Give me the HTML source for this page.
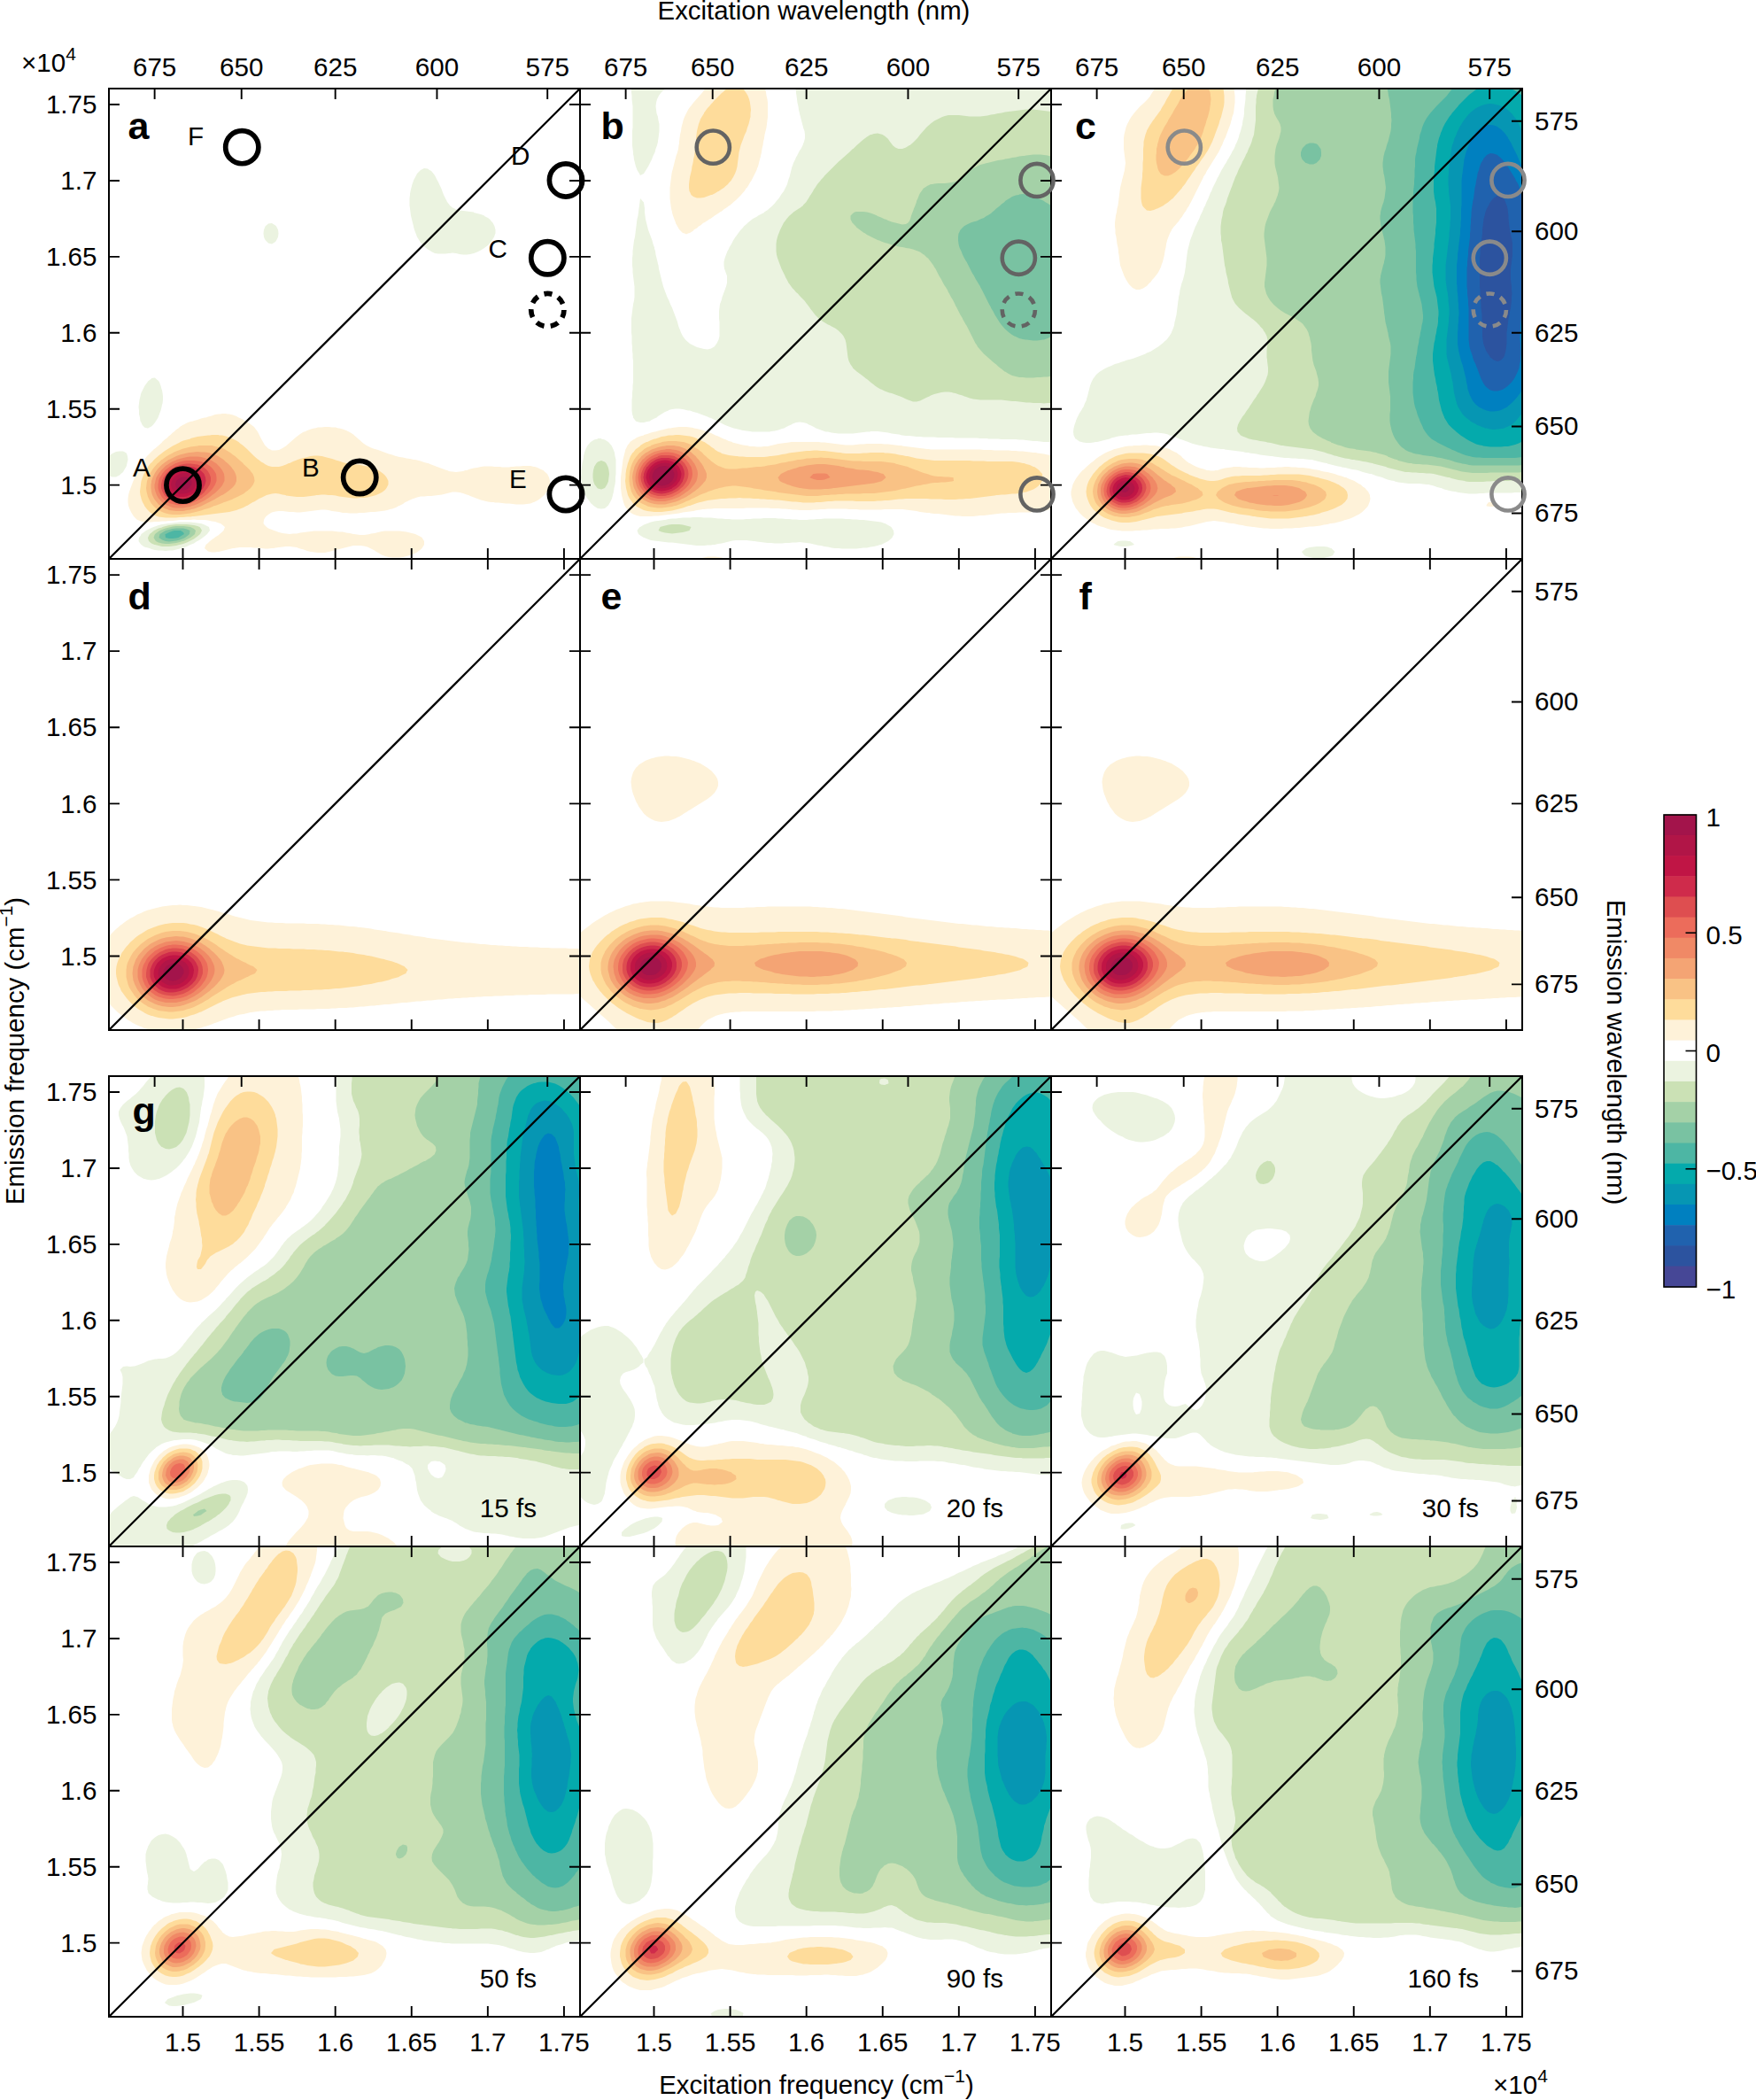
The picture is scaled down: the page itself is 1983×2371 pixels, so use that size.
<!DOCTYPE html>
<html><head><meta charset="utf-8"><title>Figure</title><style>html,body{margin:0;padding:0;background:#fff}svg{display:block}</style></head><body>
<svg width="1983" height="2371" viewBox="0 0 1983 2371" font-family="'Liberation Sans', sans-serif" font-size="29.6" fill="#000">
<rect width="1983" height="2371" fill="#fff"/>
<defs>
<clipPath id="cp00"><rect x="123" y="100" width="532" height="531"/></clipPath>
<clipPath id="cp01"><rect x="655" y="100" width="532" height="531"/></clipPath>
<clipPath id="cp02"><rect x="1187" y="100" width="532" height="531"/></clipPath>
<clipPath id="cp10"><rect x="123" y="631" width="532" height="532"/></clipPath>
<clipPath id="cp11"><rect x="655" y="631" width="532" height="532"/></clipPath>
<clipPath id="cp12"><rect x="1187" y="631" width="532" height="532"/></clipPath>
<clipPath id="cp20"><rect x="123" y="1215" width="532" height="531"/></clipPath>
<clipPath id="cp21"><rect x="655" y="1215" width="532" height="531"/></clipPath>
<clipPath id="cp22"><rect x="1187" y="1215" width="532" height="531"/></clipPath>
<clipPath id="cp30"><rect x="123" y="1746" width="532" height="531"/></clipPath>
<clipPath id="cp31"><rect x="655" y="1746" width="532" height="531"/></clipPath>
<clipPath id="cp32"><rect x="1187" y="1746" width="532" height="531"/></clipPath>
</defs>
<g clip-path="url(#cp00)" shape-rendering="geometricPrecision">
<path fill="#fef2d9" d="M435,628 439,629 443,629.5 447,629.5 451,629.5 455,629 459,628 463,627 467,625.5 471,623.5 471.5,623 475,620.5 476.5,619 479,615 479,612 479,611 476.5,607 475,606 471,604 469,603 467,602.5 463,601.5 459,600.5 455,600 451,599.5 447,599.5 443,599.5 439,599.5 435,599.5 431,600 427,601 423,602 419,602.5 417.5,603 415,603.5 411,604 407,604 403,603.5 400,603 399,603 395,602 391,601.5 387,600.5 383,600.5 379,600 375,599.5 371,599.5 367,599.5 363,599.5 359,599.5 355,599.5 351,600 347,600.5 343,601 339,601.5 335,602.5 331,602.5 327,603 323,602.5 319,602 315,601 311,599.5 309.5,599 307,598 303,596.5 301,595 299,593 297.5,591 298,587 299,585 300.5,583 303,581 306,579 307,578.5 311,577.5 315,577 319,577 323,577.5 327,578 331,578 335,578.5 339,578.5 343,578 347,577.5 351,577 355,576.5 359,576 363,575.5 367,575.5 371,576 375,577 379,577.5 383,578 387,579 390.5,579 391,579 395,579.5 399,579.5 403,579.5 406,579 407,579 411,579 415,578.5 419,578 423,578 427,577.5 431,577 435,576.5 439,575.5 440,575 443,574.5 447,573 450.5,571 451,571 455,569 457.5,567 459,566.5 463,564.5 466.5,563 467,563 471,561.5 475,560.5 479,560.5 483,560 487,560 491,559.5 495,559 499,558.5 503,557.5 507,556.5 511,555.5 515,555.5 519,556 523,557 527,558.5 529,559 531,560 535,561.5 539,563 543,564.5 547,565.5 551,566.5 555,567 557.5,567 559,567.5 563,567.5 567,568 571,568.5 575,568.5 579,569 583,569.5 587,569.5 591,569.5 595,569 599,568.5 602.5,567 603,567 607,565 610,563 611,562 614.5,559 615,558.5 617.5,555 619,552.5 620,551 621,547 621,543 620,539 619,537 618,535 615,532.5 613.5,531 611,530 607,528 604,527 603,527 599,526 595,526 591,526 587,526.5 583,526.5 579,527 577,527 575,527.5 571,527.5 567,527.5 564.5,527 563,527 559,527 555,526.5 551,526.5 547,526.5 543,527 539,528 535,528.5 531,529.5 527,531 525.5,531 523,532 519,532.5 515,533 511,532.5 507,532 505,531 503,530.5 499,529 495,527.5 493.5,527 491,526 487,524.5 483.5,523 483,523 479,522 475,520.5 471,519.5 468.5,519 467,519 463,518 459,517.5 455,516.5 451,516 447.5,515 447,515 443,513.5 439,512.5 435,511 431,509.5 427,508 423.5,507 423,507 419,505.5 415,503.5 414,503 411,501 408.5,499 407,497.5 404.5,495.5 403,494 400,491.5 399,490.5 395,488 394,487.5 391,486 387,484.5 383,483.5 382,483.5 379,482.5 375,482.5 371,482 367,482 363,482.5 359,482.5 356,483.5 355,483.5 351,484.5 347,486 344,487.5 343,487.5 339,490 337,491.5 335,493 332,495.5 331,496.5 328,499 327,500 323.5,503 323,503.5 319,506 317,507 315,508 311,508.5 307,508.5 304.5,507 303,506.5 299.5,503 299,502.5 297,499 295,495.5 293,491.5 291,487.5 288,483.5 287,482 283.5,479.5 283,479 279,476.5 277,475.5 275,474 271,472 269.5,471.5 267,470 263,468.5 259,467.5 257,467.5 255,467 251,467 248.5,467.5 247,467.5 243,468 239,469.5 235,470.5 232.5,471.5 231,471.5 227,472.5 223,474 219,475 218,475.5 215,476 211,477.5 207.5,479.5 207,479.5 203,482 201.5,483.5 199,485 196.5,487.5 195,488.5 192,491.5 191,492 187.5,495.5 187,495.5 183,499 183,499.5 179,503 175,506.5 174,507 171,510 170,511 167,514 166,515 163,519 160,523 159,525 158,527 156,531 155,533 154,535 152,539 151,542 150.5,543 149,547 147.5,551 147,552.5 146,555 145,559 144.5,563 144.5,567 145,571 146.5,575 147,576 148.5,579 151,583 155,587 155.5,587 159,588.5 163,589.5 167,589.5 171,589.5 175,589 179,589 183,588.5 187,588.5 191,588 195,588 199,587.5 203,587 206.5,587 207,587 211,587 215,587 219,586.5 223,587 227,587 229,587 231,587 235,587.5 239,588.5 243,589 247,590.5 249,591 251,592.5 254,595 252.5,599 251,600.5 248,603 247,604 243,606.5 242.5,607 239,609.5 237,611 235,613 232.5,615 231,619 235,622.5 237,623 239,623.5 243,623.5 245.5,623 247,623 251,622 255,621 259,620 263,619 264.5,619 267,618.5 271,618 275,618 279,618 283,618 287,618.5 291,618.5 293.5,619 295,619 299,619.5 303,619.5 307,619 309,619 311,618.5 315,618 319,617.5 323,617 327,617 331,617.5 335,618 337.5,619 339,619.5 343,620.5 347,622 351,623 351.5,623 355,623.5 359,624 363,624 367,624 371,623 371.5,623 375,622 379,621 383,620 387,619 391,618 395,617 399,616 403,616 407,616 411,616.5 415,617.5 418,619 419,619.5 423,621.5 425,623 427,624 431,626.5 432.5,627 435,628Z"/>
<path fill="#fedc9b" d="M179,583.5 183,584 187,584.5 191,584.5 195,584.5 199,584.5 203,584 207,584 211,583.5 215,583.5 217.5,583 219,583 223,582.5 227,582 231,581.5 235,581 239,580.5 243,580 247,579.5 251,579 255,578.5 259,578 263,577 267,576 269.5,575 271,574.5 275,573 278.5,571 279,571 283,568.5 285.5,567 287,566.5 291,564 292.5,563 295,562 299,560 301,559 303,558.5 307,557.5 311,557 315,557.5 319,558.5 322.5,559 323,559.5 327,560 331,560.5 335,561 339,561 343,561 347,560.5 351,560 355,559.5 357.5,559 359,559 363,558.5 367,558.5 371,559 374,559 375,559 379,559.5 383,560.5 387,561 391,561.5 395,562 399,562.5 403,562.5 407,562 411,562 415,561.5 419,560.5 423,559.5 424.5,559 427,558 431,556 432.5,555 435,553 436.5,551 438.5,547 438.5,543 436.5,539 435,537 433,535 431,533.5 427.5,531 427,531 423,529 419,527.5 417,527 415,526.5 411,526 407,525 403,524.5 399,524 395,523.5 393.5,523 391,523 387,522 383,520.5 379,519.5 378,519 375,518 371,517 367,516 363.5,515 363,515 359,514.5 355,514.5 351,515 350.5,515 347,516 343,517 339,518 336,519 335,519.5 331,521 327,523 326,523 323,524.5 319,526 315,527 311,527 307,527 303,526 299,524 298,523 295,521.5 292,519 291,518.5 287,515 283,511 279,507 275,503.5 274.5,503 271,500.5 269.5,499 267,497.5 263,495.5 262.5,495.5 259,494 255,492.5 251,491.5 247.5,491.5 247,491 243,491 239,491 237,491.5 235,491.5 231,492 227,492.5 223,493 219,494 215,495 215,495.5 211,496.5 207,497.5 203.5,499 203,499.5 199,501.5 196,503 195,503.5 191,506 189.5,507 187,508.5 183.5,511 183,511.5 179,514.5 178.5,515 175,518 174,519 171,522.5 170,523 167,527 167,527.5 164.5,531 163,534.5 162.5,535 161,539 159.5,543 159,546.5 159,547 158.5,551 158,555 158.5,559 159,560.5 159.5,563 161,567 163,570.5 163,571 166,575 167,576 170,579 171,579.5 175,582 178,583 179,583.5Z"/>
<path fill="#f9c285" d="M187,579.5 191,580.5 195,581 199,581 203,581 207,580.5 211,580 215,579.5 216.5,579 219,578.5 223,577.5 227,576.5 231,575 235,574 239,572.5 242,571 243,571 247,569.5 251,568 253,567 255,566.5 259,565 263,563.5 263.5,563 267,561.5 271,559.5 272,559 275,557.5 278,555 279,554.5 283,551 286,547 287,544.5 287.5,543 287,539 285.5,535 283,532 282.5,531 279,527.5 278.5,527 275,524 274.5,523 271,520 270,519 267,516.5 265.5,515 263,513.5 260,511 259,510.5 255,508 253.5,507 251,506 247,505 243,504 239.5,503 239,503 235,503 231,503 227,503 224.5,503 223,503.5 219,504 215,504.5 211,505.5 207,506.5 205.5,507 203,508 199,509.5 195.5,511 195,511.5 191,513.5 188.5,515 187,516 183,519 182.5,519 179,522.5 178,523 175,526.5 174.5,527 171.5,531 171,532 169,535 167.5,539 167,540.5 166,543 165.5,547 165,551 165.5,555 166.5,559 167,561 168,563 170,567 171,568.5 173,571 175,573 177.5,575 179,576 183,578 185.5,579 187,579.5Z"/>
<path fill="#f4a474" d="M191,576 195,576.5 199,577 203,577 207,577 211,576 215,575.5 216,575 219,574.5 223,573 227,571.5 228,571 231,569.5 235,567.5 236,567 239,565.5 243,563.5 243.5,563 247,561 250.5,559 251,559 255,556.5 257,555 259,553.5 262,551 263,550 265.5,547 267,543 267,539 267,538.5 266,535 264,531 263,530 261,527 259,525 257,523 255,521.5 252.5,519 251,518 247,515.5 246.5,515 243,513.5 239,512 235,511 231,510.5 227,510.5 223,510 219,510.5 215,511 213.5,511 211,511.5 207,512.5 203,513.5 199,515 195,517 191,519 190.5,519 187,521.5 185,523 183,524.5 180.5,527 179,528.5 177,531 175,534 174.5,535 172.5,539 171,543 171,544.5 170.5,547 170.5,551 171,555 171,555.5 172,559 174,563 175,564.5 177,567 179,569.5 181,571 183,572.5 187,574.5 189,575 191,576Z"/>
<path fill="#f08966" d="M191,571.5 195,573 199,573.5 203,573.5 207,573.5 211,572.5 215,572 217,571 219,570.5 223,569 227,567 231,565 234,563 235,562.5 239,559.5 239.5,559 243,556.5 244.5,555 247,552.5 248.5,551 251,548 251.5,547 253.5,543 253.5,539 253,535 251,531 248,527 247,526 244,523 243,522.5 239,520 237,519 235,518.5 231,517 227,516 223,515.5 219,515.5 215,515.5 211,516 207,517 203,518 199.5,519 199,519.5 195,521 191.5,523 191,523.5 187,526 186,527 183,530 182,531 179,535 176.5,539 175.5,543 175,545.5 174.5,547 174.5,551 175,552.5 175.5,555 177,559 179,562.5 179.5,563 183,567 187,570 190,571 191,571.5Z"/>
<path fill="#ec6c5b" d="M191,568 195,569 199,570 203,570.5 207,570 211,569.5 215,568.5 218.5,567 219,567 223,565 226.5,563 227,563 231,560 232.5,559 235,557 237,555 239,553 240.5,551 243,547 244.5,543 244.5,539 244,535 243,533.5 241.5,531 239,528 238,527 235,525 232,523 231,522.5 227,521 223,520.5 219,520 215,520 211,520 207,520.5 203,521.5 199,523 198.5,523 195,525 191.5,527 191,527.5 187,530.5 186.5,531 183,535 183,535.5 180.5,539 179,543 179,544.5 178.5,547 178.5,551 179,553 179.5,555 181.5,559 183,561.5 184.5,563 187,565.5 190,567 191,568Z"/>
<path fill="#de4e50" d="M203,567 205,567 207,567 211,566.5 215,565.5 219,563.5 220,563 223,561.5 226.5,559 227,559 231,555.5 231,555 234.5,551 235,550 237,547 238,543 238,539 236.5,535 235,532.5 234,531 231,528.5 229,527 227,526 223,524.5 219,524 215,523.5 211,523.5 207,524 203,525 199,526.5 197.5,527 195,528.5 191,531 191,531.5 187,535 187,535.5 184.5,539 183,542.5 183,543 182,547 182,551 183,554 183.5,555 185.5,559 187,560.5 190,563 191,564 195,566 199,567 202,567 203,567Z"/>
<path fill="#cf2b4b" d="M199,563.5 203,564 207,564 211,563.5 212,563 215,562 219,560 221,559 223,557.5 226,555 227,554 229.5,551 231,548 231.5,547 232.5,543 232,539 231,536.5 230.5,535 227,531.5 226.5,531 223,529 219,527.5 216.5,527 215,527 211,527 208,527 207,527.5 203,528.5 199,530 196.5,531 195,532 191.5,535 191,535.5 188,539 187,541.5 186.5,543 185.5,547 186,551 187,554.5 187.5,555 190.5,559 191,560 195,562.5 197.5,563 199,563.5Z"/>
<path fill="#c01545" d="M199,560.5 203,561 207,561 211,560.5 214,559 215,559 219,556.5 221,555 223,553 224.5,551 227,547 227,546 227.5,543 227,540 227,539 224.5,535 223,534 219,531.5 217.5,531 215,530.5 211,530 207,530.5 204.5,531 203,531.5 199,533.5 196,535 195,536 192,539 191,541 190,543 189,547 189.5,551 191,554 191.5,555 195,558.5 196.5,559 199,560.5Z"/>
<path fill="#b11547" d="M199,556.5 203,557.5 207,557.5 211,557 215,555 219,552 219.5,551 222,547 222.5,543 221,539 219,537 216.5,535 215,534.5 211,534 207,534 203,535 199,537.5 197,539 195,541.5 194,543 193,547 194,551 195,553 197,555 199,556.5Z"/>
<path fill="#a3144b" d="M203,553 207,553.5 211,552.5 213,551 215,549 216.5,547 216.5,543 215,541 213,539 211,538.5 207,538.5 204.5,539 203,540 199,543 199,543.5 198,547 199,550 199.5,551 203,553Z"/>
<path fill="#ebf3e0" d="M171,620 175,621 179,621.5 183,621.5 187,622 191,621.5 195,621.5 199,620.5 203,619.5 204,619 207,618.5 211,617 215,615 219,613.5 222.5,611 223,611 227,608.5 229,607 231,605.5 234,603 235,601.5 237,599 236,595 235,594.5 231,592.5 227,591 226.5,591 223,590.5 219,590 215,589.5 211,589.5 207,589.5 203,589.5 199,590 195,590.5 191,591 190,591 187,591.5 183,592 179,593 175,594.5 173.5,595 171,596 167,598 165,599 163,600.5 159.5,603 159,604.5 157,607 156.5,611 159,614.5 159.5,615 163,617.5 167,618.5 169,619 171,620ZM127,538.5 131,538.5 135,536.5 136.5,535 139,533 140,531 142.5,527 143,525.5 143.5,523 144.5,519 144,515 143,512 142,511 139,509.5 135,509.5 131,510 129,511 127,512 123,514.5 123,515 123,519 123,523 123,527 123,531 123,535 123,537.5 127,538.5ZM167,483.5 171,481.5 173,479.5 175,477 176,475.5 178.5,471.5 179,470 180,467.5 181.5,463.5 182.5,459.5 183,457 183.5,455.5 184,451.5 184,447.5 183.5,443.5 183,440.5 182.5,439.5 181.5,435.5 180,431.5 179,430 176,427.5 175,426.5 171,427 171,427.5 167,430.5 166.5,431.5 163.5,435.5 163,436.5 161.5,439.5 159.5,443.5 159,445 158.5,447.5 157.5,451.5 157,455.5 156.5,459.5 157,463.5 157,467.5 158,471.5 158.5,475.5 159,476 160.5,479.5 163,482.5 166.5,483.5 167,483.5ZM487,284 491,286 495,286.5 499,286.5 503,286.5 507,286 511,285.5 515,286 519,287 523,287.5 527,287.5 531,287 535,286 539,284.5 541,283.5 543,282.5 547,280 547.5,279.5 551,277 552.5,275.5 555,272.5 555.5,271.5 558,267.5 559,264.5 559.5,263.5 559.5,259.5 559,257.5 558.5,255.5 556.5,251.5 555,250 553,247.5 551,246 547,244 547,243.5 543,242 539,241 535,240 535,239.5 531,239 527,238.5 523,238 519,237.5 515,236.5 513.5,235.5 511,234.5 508,232 507,230.5 505,228 503,224 501,220 499.5,216 499,214.5 498,212 496,208 495,205.5 494,204 492,200 491,198 489.5,196 487,193 485,192 483,190.5 479,190 475,192 471,196 469,200 467,203.5 467,204 465.5,208 464.5,212 463.5,216 463,219 463,220 462.5,224 462.5,228 462.5,232 463,235.5 463.5,239.5 464,243.5 465,247.5 466,251.5 467,255.5 467,256 468,259.5 469.5,263.5 471,267.5 473.5,271.5 475,274 476.5,275.5 479,278.5 480.5,279.5 483,281.5 486.5,283.5 487,284ZM303,274.5 307,275.5 311,273 312,271.5 314,267.5 314.5,263.5 314,259.5 312,255.5 311,254.5 307,252 303,252.5 299.5,255.5 299,257 298,259.5 297.5,263.5 298,267.5 299,270 300,271.5 303,274.5Z"/>
<path fill="#cbe1b5" d="M175,615 179,616 183,617 187,617 191,617 195,616.5 199,616 202.5,615 203,615 207,614 211,612.5 214,611 215,610.5 219,608.5 221,607 223,605.5 226,603 227,601 228,599 227,597 225.5,595 223,594 219,593 215,592.5 211,592 207,592 203,592 199,592 195,592.5 191,593 187,594 183.5,595 183,595.5 179,596.5 175,598.5 174,599 171,601.5 169,603 167,607 167,607.5 168,611 171,613.5 174.5,615 175,615Z"/>
<path fill="#a4d1a7" d="M179,612.5 183,613.5 187,614 191,614 195,613.5 199,613 203,612 206,611 207,611 211,609 215,607 219,604 220,603 221,599 219,597 215,595 211,594.5 207,594 203,594 199,594 195,594.5 193,595 191,595.5 187,596.5 183,598 180.5,599 179,600 175,603 173.5,607 175,609.5 176,611 179,612.5Z"/>
<path fill="#79c2a2" d="M191,611.5 195,611 199,610.5 203,609.5 207,608 209,607 211,605.5 214,603 214.5,599 211,597.5 207,596.5 203,596.5 199,596.5 195,597 191,598 187,599 183,601.5 180.5,603 179.5,607 183,609.5 187,611 187.5,611 191,611.5Z"/>
<path fill="#4db6a4" d="M187,607 191,608 195,608 199,607.5 201.5,607 203,606 207,603.5 208,603 207,601 204,599 203,599 199,599 197,599 195,599.5 191,601 187,603 186.5,603 187,607Z"/>
</g>
<g clip-path="url(#cp01)" shape-rendering="geometricPrecision">
<path fill="#fef2d9" d="M791,631 795,631 799,631 803,631 807,631 811,631 815,631 818.5,631 815,629.5 811,629 807,628.5 803,628.5 799,628.5 795,629.5 791,630.5 790,631 791,631ZM715,580.5 719,582 723,583 727,583 731,583 735,583 739,582.5 743,582.5 747,582 751,581.5 755,581 759,580.5 763,580 767,579.5 769,579 771,578.5 775,578 779,577.5 783,577 787,576 791,575.5 793.5,575 795,575 799,574.5 803,574.5 807,574 811,574 815,574 819,574 823,574 827,574 831,574 835,574 839,574 843,573.5 847,573.5 851,573.5 855,573.5 859,573.5 863,573.5 867,573.5 871,574 875,574 879,574 883,574.5 887,574.5 891,575 892.5,575 895,575.5 899,575.5 903,576 907,576 911,576 915,576 919,575.5 923,575.5 927,575 927.5,575 931,575 935,574.5 939,574.5 943,574.5 947,574.5 951,574.5 955,574.5 959,575 963,575 965.5,575 967,575 971,575.5 975,575.5 979,575.5 983,575.5 987,575.5 991,575.5 995,575.5 999,575 1001,575 1003,575 1007,575 1011,575 1015,575 1019,575 1019.5,575 1023,575.5 1027,576 1031,576.5 1035,577 1039,578 1043,578.5 1047,579 1049.5,579 1051,579.5 1055,580 1059,580 1063,580.5 1067,581 1071,581.5 1075,582 1079,582.5 1083,582.5 1087,583 1091,583 1095,583 1099,583 1103,582.5 1107,582 1111,582 1115,581.5 1119,581 1123,580.5 1127,580 1131,579.5 1135,579.5 1139,579 1139.5,579 1143,579 1147,579 1151,578.5 1155,578.5 1159,578.5 1163,578.5 1167,578 1171,577.5 1175,577.5 1179,576.5 1183,576 1186.5,575 1187,575 1187,571 1187,567 1187,563 1187,559 1187,555 1187,551 1187,547 1187,543 1187,539 1187,535 1187,531 1187,527 1187,523 1187,519 1187,515 1187,514 1183,513.5 1179,512.5 1175,512 1171,511.5 1170,511 1167,511 1163,510.5 1159,510 1155,509.5 1151,509.5 1147,509 1143,509 1139,508.5 1135,508.5 1131,508.5 1127,508.5 1123,508.5 1119,508 1115,508 1111,508 1107,507.5 1103,507.5 1099,507.5 1095,507.5 1091,507.5 1087,507.5 1083,507.5 1079,507.5 1075,507.5 1071,507.5 1067,507.5 1063,507.5 1059,507.5 1055,507.5 1051,507.5 1048.5,507 1047,507 1043,506.5 1039,506 1035,505.5 1031,505 1027,504.5 1023,504 1019,503.5 1018,503 1015,503 1011,502.5 1007,502 1003,501.5 999,501.5 995,501 991,501 987,501 983,501 979,501 975,501.5 971,501.5 967,502 963,502.5 959,502.5 955,502.5 951,502 947,501.5 943,501 939,500.5 935,500 931,499.5 927,499.5 925,499 923,499 919,499 915,499 911,499 907,499 903,499 899,499 895,499 893.5,499 891,499.5 887,500 883,500.5 879,501 875,502 871,503 870.5,503 867,504 863,504 859,504.5 855,504.5 851,504 847,504 843.5,503 843,503 839,502.5 835,501.5 831,500.5 827,499.5 827,499 823,498 819,496 817,495.5 815,494.5 811,492.5 808,491.5 807,491 803,489 799,487.5 798,487.5 795,486 791,485 787,484 783.5,483.5 783,483 779,482.5 775,482 771,482 767,482 763,482.5 759,483 757.5,483.5 755,483.5 751,484.5 747,485.5 743,486.5 740,487.5 739,487.5 735,488.5 731,490 727,491 727,491.5 723,492.5 719,494 717,495.5 715,496.5 711.5,499 711,500 708.5,503 707,506.5 706.5,507 705.5,511 704.5,515 703.5,519 703,523 702.5,527 702,531 701.5,535 701,539 701,543 701,547 701,551 701.5,555 702,559 703,563 704,567 705.5,571 707,573.5 708.5,575 711,578 712.5,579 715,580.5ZM775,264.5 777,263.5 779,263 783,260.5 783.5,259.5 787,257.5 789,255.5 791,254.5 794.5,251.5 795,251.5 799,249 801,247.5 803,246.5 807,243.5 811,241 813,239.5 815,238.5 818.5,235.5 819,235.5 823,232.5 824,232 827,229.5 828.5,228 831,226 833,224 835,222 837,220 839,217.5 840.5,216 843,212 843.5,212 846,208 847,206 848.5,204 850.5,200 851,199 852.5,196 854.5,192 855,190 856,188 857,184 858,180 859,176.5 859,176 860,172 860.5,168 861.5,164 862,160 863,156 863,155.5 863.5,152 864.5,148 865.5,144 866,140 866.5,136 867,132 867,129 867,128 867,124 867,120 867,119.5 867,116 866.5,112 865.5,108 865,104 864,100 863,100 859,100 855,100 851,100 847,100 843,100 839,100 835,100 831,100 827,100 823,100 819,100 815,100 811,100 807,100 803,100 799,100 796.5,100 795,102 793.5,104 791,107 790,108 787,111.5 786.5,112 783,116 780,120 779,121 777,124 775,128 773,132 771.5,136 771,138.5 770.5,140 769.5,144 769,148 768,152 767.5,156 767,160 767,162 766.5,164 766,168 765,172 763.5,176 763,178.5 762.5,180 761.5,184 760.5,188 759.5,192 759,193.5 758.5,196 758,200 757.5,204 757,208 756.5,212 756.5,216 756.5,220 756.5,224 757,228 757.5,232 758,235.5 759,239.5 759,240 760,243.5 761.5,247.5 763,251.5 763,252 765,255.5 767,259 767.5,259.5 771,263 773,263.5 775,264.5Z"/>
<path fill="#fedc9b" d="M727,576 731,577 735,577.5 739,578 743,578 747,578 751,577.5 755,577 759,576.5 763,575.5 765,575 767,574.5 771,573.5 775,572 778,571 779,571 783,569.5 787,568 790.5,567 791,567 795,566 799,565 803,564.5 807,564 811,563.5 814.5,563 815,563 819,563 823,562.5 827,562.5 831,562.5 835,562 839,562.5 843,562.5 847,562.5 851,563 855,563 856.5,563 859,563.5 863,563.5 867,564 871,564 875,564.5 879,564.5 883,565 887,565.5 891,566 895,566.5 899,566.5 903,567 904,567 907,567.5 911,567.5 915,567.5 919,567.5 922,567 923,567 927,567 931,566.5 935,566 939,566 943,565.5 947,565.5 951,565.5 955,565.5 959,565.5 963,565.5 967,566 971,566 975,566 979,566 983,566 987,566 991,565.5 995,565.5 999,565 1003,565 1007,564.5 1011,564 1015,563.5 1019,563.5 1023,563 1025,563 1027,563 1031,563 1035,563 1039,563 1043,563 1044.5,563 1047,563 1051,563.5 1055,563.5 1059,563.5 1063,563.5 1067,564 1071,564 1075,564 1079,564 1083,563.5 1087,563.5 1091,563 1091.5,563 1095,563 1099,562.5 1103,562 1107,561.5 1111,561 1115,560.5 1119,560 1123,559.5 1125.5,559 1127,559 1131,558.5 1135,558.5 1139,558 1143,557.5 1147,557.5 1151,557 1155,556 1159,555.5 1160,555 1163,554 1167,552.5 1169.5,551 1171,550 1174.5,547 1175,546 1177,543 1177.5,539 1177,535 1175,533 1173.5,531 1171,529 1168,527 1167,527 1163,525 1159,524 1156.5,523 1155,523 1151,522 1147,521.5 1143,521 1139,521 1135,521 1131,521 1127,521 1123,521 1119,521 1115,521 1111,520.5 1107,520.5 1103,520.5 1099,520.5 1095,520 1091,520 1087,520 1083,520 1079,520 1075,520 1071,520 1067,520 1063,520 1059,520 1055,520 1051,519.5 1047,519 1043,518.5 1039,518 1035,517.5 1031,516.5 1027,515.5 1025,515 1023,515 1019,514 1015,513.5 1011,512.5 1007,512 1003,511.5 999,511.5 998,511 995,511 991,511 987,511 983,511 979,511.5 975,511.5 971,512 967,512 963,512 959,512 955,512 951,511.5 949,511 947,511 943,510.5 939,510 935,509.5 931,509 927,509 923,508.5 919,508.5 915,509 911,509 907,509.5 903,510 899,510.5 895,511 894.5,511 891,511.5 887,512.5 883,513 879,514 875,514.5 871,515 869.5,515 867,515.5 863,516 859,516 855,516 851,516 847,516 843,516 839,515.5 835,515.5 832.5,515 831,515 827,514.5 823,514 819,513 815,512 814,511 811,510 807,507.5 807,507 803,504.5 801.5,503 799,501.5 795.5,499 795,499 791,497 787.5,495.5 787,495 783,493.5 779,492.5 775,492 771,491.5 767,491 763,491 759.5,491.5 759,491.5 755,491.5 751,492.5 747,493 743,494.5 740,495.5 739,495.5 735,497 731,499 730,499 727,500.5 723,503 723,503.5 719,506.5 718,507 715,511 714.5,511 712,515 711,517.5 710.5,519 709,523 708,527 707,531 707,532 706.5,535 706.5,539 706,543 706.5,547 707,551 708,555 709,559 711,563 714,567 715,568.5 718,571 719,572 723,574 725,575 727,576ZM783,222 787,223.5 791,223.5 795,223 799,221.5 803,220 804,220 807,218.5 811,216 811.5,216 815,213.5 817.5,212 819,210.5 822,208 823,206.5 825.5,204 827,201.5 828,200 830,196 831,193.5 831.5,192 832.5,188 833,184 833.5,180 834,176 834.5,172 835,170 835.5,168 836.5,164 838,160 839,157.5 839.5,156 841,152 843,148 843,147.5 844,144 845.5,140 846.5,136 847,133.5 847.5,132 847.5,128 848,124 847.5,120 847,116.5 847,116 846,112 844.5,108 843,105.5 842,104 839,100 835,100 831,100 827,100 823,100 821.5,100 819,101.5 816.5,104 815,105 812,108 811,109 808,112 807,113 804.5,116 803,117.5 801,120 799,122 797.5,124 795,127.5 795,128 792.5,132 791,134.5 790.5,136 789,140 788,144 787,148 786.5,152 786,156 786,160 785.5,164 785,168 784.5,172 784,176 783,180 783,181 782.5,184 781.5,188 781,192 780,196 779,200 779,200.5 778.5,204 778,208 778,212 778.5,216 779,216.5 780.5,220 783,222Z"/>
<path fill="#f9c285" d="M731,571.5 735,572.5 739,573 743,573.5 747,573.5 751,573 755,572.5 759,572 761.5,571 763,571 767,569.5 771,568 773,567 775,566 779,564.5 781.5,563 783,562.5 787,560.5 790,559 791,558.5 795,557 799,555.5 799.5,555 803,554 807,552.5 811,551.5 812,551 815,550.5 819,549.5 823,549 827,548.5 831,548.5 835,549 839,549.5 843,550 847,550.5 849.5,551 851,551.5 855,552 859,552.5 863,553.5 867,554 871,554.5 874.5,555 875,555 879,556 883,556.5 887,557 891,557.5 895,558 899,558.5 903,559 907,559.5 911,560 915,560 919,560 923,560 927,559.5 931,559 932.5,559 935,559 939,558.5 943,558.5 947,558 951,558 955,557.5 959,557.5 963,557.5 967,557.5 971,557.5 975,557 979,557 983,557 987,557 991,556.5 995,556 999,555.5 1003,555 1007,554.5 1011,554 1015,553 1019,552 1023,551.5 1024,551 1027,550.5 1031,549.5 1035,548.5 1039,548 1043,547 1043.5,547 1047,546.5 1051,545.5 1055,545 1059,545 1063,544.5 1067,544.5 1071,544 1075,543.5 1077,543 1076.5,539 1075,539 1071,538.5 1067,538.5 1063,538 1059,538 1055,537.5 1051,536.5 1047,535 1043,534 1039,532.5 1035.5,531 1035,531 1031,529.5 1027,528 1025,527 1023,526.5 1019,525.5 1015,524.5 1011,523.5 1010.5,523 1007,522.5 1003,522 999,521.5 995,521 991,521 987,521 983,521 979,521 975,521 971,520.5 967,520.5 963,520.5 959,520 955,519.5 951,519 947,518.5 943,518 939,517.5 935,517 931,517 927,516.5 923,517 919,517 915,517.5 911,517.5 907,518.5 903,519 901,519 899,519.5 895,520.5 891,521 887,522 883,522.5 880.5,523 879,523.5 875,524.5 871,525 867,525.5 863,526.5 859,527 855,527 851,527.5 847,528 843,528.5 839,528.5 835,529 831,529.5 827,529.5 823,529.5 819,529 815,527.5 814,527 811,526 807,523.5 806.5,523 803,520.5 801.5,519 799,517 797,515 795,513.5 793,511 791,509.5 788,507 787,506.5 783,504 782,503 779,501.5 775,500 772,499 771,499 767,498.5 763,498 759,498 755,498 751,498.5 747.5,499 747,499.5 743,500.5 739,501.5 735,503 735,503.5 731,505 727.5,507 727,507.5 723,511 722.5,511 719,515 716,519 715,521 714,523 712.5,527 711.5,531 711,534 711,535 710.5,539 710.5,543 711,547 711,547.5 712,551 713,555 715,559 718,563 719,564 722.5,567 723,567.5 727,569.5 730.5,571 731,571.5Z"/>
<path fill="#f4a474" d="M735,568 739,569 743,569.5 747,569.5 751,569.5 755,568.5 759,567.5 761,567 763,566.5 767,565 770.5,563 771,563 775,561 778,559 779,558.5 783,555.5 784,555 787,552.5 789,551 791,549 793,547 795,544.5 796.5,543 798,539 798,535 796.5,531 795,528.5 794.5,527 792,523 791,522 789,519 787,517 785.5,515 783,513 781,511 779,509.5 775,507.5 775,507 771,505.5 767,504 763,503.5 761,503 759,503 755,503 752.5,503 751,503.5 747,504 743,505 739,506.5 737,507 735,508 731,510.5 729.5,511 727,513 724.5,515 723,517 721,519 719,522.5 718.5,523 716.5,527 715.5,531 715,532.5 714.5,535 714,539 714.5,543 715,547 715,547.5 716,551 718,555 719,557 720.5,559 723,561.5 725,563 727,564.5 731,566.5 732,567 735,568ZM907,551.5 911,552 915,552.5 919,552.5 923,552.5 927,552.5 931,552 935,552 939,551.5 941.5,551 943,551 947,550.5 951,550 955,549.5 959,549 963,548.5 967,548 971,547.5 975,547 976,547 979,546.5 983,546 987,545.5 991,544.5 995,543.5 996,543 999,540.5 1000.5,539 999,537 997.5,535 995,534.5 991,533 987,532.5 983,531.5 980,531 979,531 975,530.5 971,530.5 967,530 963,529 959,528.5 955,528 952.5,527 951,527 947,526 943,525.5 939,525 935,524.5 931,524 927,524 923,524 919,524.5 915,525 911,525.5 907,526.5 903,527 899,528.5 895,529.5 891,531 890,531 887,532.5 883,534.5 882,535 879,538.5 878.5,539 879,540 880.5,543 883,544.5 887,546 889,547 891,547.5 895,549 899,550 903,551 904,551 907,551.5Z"/>
<path fill="#f08966" d="M735,564.5 739,565.5 743,566 747,566 751,566 755,565 759,564 761.5,563 763,562.5 767,561 770,559 771,558.5 775,555.5 776,555 779,552.5 780.5,551 783,548 784,547 786.5,543 787,541 787.5,539 788,535 787.5,531 787,530 786,527 784,523 783,522 781,519 779,517 777,515 775,513.5 771.5,511 771,511 767,509 763,508 759,507.5 757,507 755,507 752,507 751,507.5 747,508 743,509 739,510 737,511 735,512 731,514.5 730,515 727,518 725.5,519 723,522.5 722.5,523 720.5,527 719,531 718,535 717.5,539 717.5,543 718.5,547 719,548.5 720,551 722.5,555 723,556 726,559 727,560 731,562.5 732.5,563 735,564.5ZM915,539.5 919,541 923,542 927,542 931,541.5 935,540 937.5,539 935,536 934,535 931,534.5 927,534.5 923,534.5 919,535 918.5,535 915,538.5 914.5,539 915,539.5Z"/>
<path fill="#ec6c5b" d="M735,561 739,562 743,563 747,563 751,562.5 755,562 759,561 763,559 767,557 769.5,555 771,554 774.5,551 775,550.5 778,547 779,545 780,543 781.5,539 782,535 781.5,531 780.5,527 779,525 778,523 775,519.5 775,519 771,516 770,515 767,513.5 763,512 759.5,511 759,511 755,510.5 751,510.5 747,511 743,512 739,513.5 736,515 735,515.5 731,518.5 730.5,519 727,522.5 726.5,523 724,527 723,529 722,531 721,535 720.5,539 721,543 722,547 723,549.5 724,551 727,555 727,555.5 731,558.5 732,559 735,561Z"/>
<path fill="#de4e50" d="M743,560 747,560 751,560 754,559 755,559 759,557.5 763,555.5 764,555 767,553 769,551 771,549.5 773,547 775,544 775.5,543 777,539 777.5,535 777,531 775.5,527 775,526.5 773,523 771,521 769,519 767,518 763,516 761.5,515 759,514.5 755,514 751,514 747,514 743,515 743,515.5 739,517 735,519 731,522.5 730.5,523 727.5,527 727,527.5 725.5,531 724,535 723.5,539 724,543 725.5,547 727,550.5 727.5,551 731,555 731.5,555 735,557.5 739,559 739.5,559 743,560Z"/>
<path fill="#cf2b4b" d="M739,556 743,557 747,557.5 751,557 755,556 757.5,555 759,554.5 763,552 764.5,551 767,549 768.5,547 771,543.5 771,543 772.5,539 773,535 772.5,531 771,527.5 771,527 768,523 767,522.5 763,519.5 762.5,519 759,518 755,517 751,517 747,517 743,518 740.5,519 739,520 735,522.5 734.5,523 731,527 730.5,527 728.5,531 727,535 727,536.5 726.5,539 727,541.5 727,543 728.5,547 731,550.5 731.5,551 735,554 737,555 739,556Z"/>
<path fill="#c01545" d="M739,553 743,554 747,554.5 751,554 755,553 759,551.5 759,551 763,548.5 764.5,547 767,543.5 767.5,543 769,539 769.5,535 768.5,531 767,528 766.5,527 763,523.5 762.5,523 759,521 755,520 751,519.5 747,520 743,521 739,523 735,526.5 734.5,527 731.5,531 731,532.5 730,535 729.5,539 730.5,543 731,544.5 732.5,547 735,550 736,551 739,553Z"/>
<path fill="#b11547" d="M747,551.5 751,551 751.5,551 755,550 759,547.5 759.5,547 763,543.5 763.5,543 765,539 765.5,535 764.5,531 763,528.5 762,527 759,525 755,523 751,522.5 747,523 746.5,523 743,524.5 739,526.5 738.5,527 735,531 733.5,535 733,539 734,543 735,545.5 736.5,547 739,549 743,551 743.5,551 747,551.5Z"/>
<path fill="#a3144b" d="M743,547.5 747,548.5 751,548 753,547 755,546.5 759,543 761,539 761.5,535 760,531 759,530 755.5,527 755,527 751,526 747,526.5 744.5,527 743,528 739,531 737,535 736.5,539 738,543 739,544.5 742.5,547 743,547.5Z"/>
<path fill="#ebf3e0" d="M947,619 951,619.5 955,619.5 959,619.5 963,619.5 967,619.5 971,619 971.5,619 975,618.5 979,618.5 983,617.5 987,617 991,616 994,615 995,615 999,613 1003,611 1007,607.5 1007.5,607 1009.5,603 1009,599 1007,596 1006.5,595 1003,593 999.5,591 999,591 995,589.5 991,589 987,588.5 983,588 979,587.5 975,587 974,587 971,587 967,586.5 963,586.5 959,586 955,586 951,585.5 947,585.5 943,585.5 939,585.5 935,585.5 931,585.5 927,586 923,586 919,586.5 915,586.5 911,587 907,587 903,587 899,586.5 895,586.5 891,586 887,586 883,585.5 879,585.5 875,585 871,585 867,585 863,585 859,585.5 855,585.5 851,585.5 847,586 843,586 839,586.5 835,586.5 831,586.5 827,586.5 823,586 819,586 815,585.5 811,585.5 807,585 803,584.5 799,584.5 795,584.5 791,584 787,584 783,584 779,584.5 775,584.5 771,584.5 767,585 763,585.5 759,585.5 755,586 751,587 750,587 747,587.5 743,588 739,588.5 735,589.5 731,591 727,592.5 723,595 722.5,595 719.5,599 721,603 723,604.5 727,607 727.5,607 731,608.5 735,610 739,610.5 743,611 743.5,611 747,611.5 751,612 755,612.5 759,612.5 763,613 767,613.5 771,614 775,614.5 779,615 779.5,615 783,615.5 787,616 791,616 795,616 799,615.5 803,615.5 805,615 807,615 811,614 815,613.5 819,612.5 823,611.5 825,611 827,610.5 831,610 835,610 839,610 843,610 847,610.5 851,611 852,611 855,611.5 859,612 863,612.5 867,613 871,613 875,613.5 879,613.5 883,613.5 887,613 891,613 895,612.5 899,612.5 903,612 907,612.5 911,613 915,613.5 919,614.5 921.5,615 923,615.5 927,616 931,617 935,617.5 939,618.5 943,619 945.5,619 947,619ZM671,571.5 675,574 679,574.5 683,574 686.5,571 687,570.5 689,567 691,563 692,559 693,555 693.5,551 694.5,547 695,543 695,541 695,539 695.5,535 695.5,531 695.5,527 695.5,523 695.5,519 695,517 694.5,515 694,511 692.5,507 691,504 690.5,503 687,499 683,496.5 679,495.5 679,495 675,495 675,495.5 671,496.5 667,499 663.5,503 663,504 661.5,507 660,511 659,515 659,516.5 658.5,519 657.5,523 657,527 656.5,531 656.5,535 656,539 656.5,543 657,547 658,551 659,554 659.5,555 661,559 663,562.5 663.5,563 666.5,567 667,568 670.5,571 671,571.5ZM1187,499.5 1187,499 1187,495.5 1187,491.5 1187,487.5 1187,483.5 1187,479.5 1187,475.5 1187,471.5 1187,467.5 1187,463.5 1187,459.5 1187,455.5 1187,451.5 1187,447.5 1187,443.5 1187,439.5 1187,435.5 1187,431.5 1187,427.5 1187,423.5 1187,419.5 1187,415.5 1187,411.5 1187,407.5 1187,403.5 1187,399.5 1187,395.5 1187,391.5 1187,387.5 1187,383.5 1187,379.5 1187,375.5 1187,371.5 1187,367.5 1187,363.5 1187,359.5 1187,355.5 1187,351.5 1187,347.5 1187,343.5 1187,339.5 1187,335.5 1187,331.5 1187,327.5 1187,323.5 1187,319.5 1187,315.5 1187,311.5 1187,307.5 1187,303.5 1187,299.5 1187,295.5 1187,291.5 1187,287.5 1187,283.5 1187,279.5 1187,275.5 1187,271.5 1187,267.5 1187,263.5 1187,259.5 1187,255.5 1187,251.5 1187,247.5 1187,243.5 1187,239.5 1187,235.5 1187,232 1187,228 1187,224 1187,220 1187,216 1187,212 1187,208 1187,204 1187,200 1187,196 1187,192 1187,188 1187,184 1187,180 1187,176 1187,172 1187,168 1187,164 1187,160 1187,156 1187,152 1187,148 1187,144 1187,140 1187,136 1187,132 1187,128 1187,124 1187,120 1187,116 1187,112 1187,108 1187,104 1187,100 1183,100 1179,100 1175,100 1171,100 1167,100 1163,100 1159,100 1155,100 1151,100 1147,100 1143,100 1139,100 1135,100 1131,100 1127,100 1123,100 1119,100 1115,100 1111,100 1107,100 1103,100 1099,100 1095,100 1091,100 1087,100 1083,100 1079,100 1075,100 1071,100 1067,100 1063,100 1059,100 1055,100 1051,100 1047,100 1043,100 1039,100 1035,100 1031,100 1027,100 1023,100 1019,100 1015,100 1011,100 1007,100 1003,100 999,100 995,100 991,100 987,100 983,100 979,100 975,100 971,100 967,100 963,100 959,100 955,100 951,100 947,100 943,100 939,100 935,100 931,100 927,100 923,100 919,100 915,100 911,100 907,100 903,100 899,100 898.5,100 899,104 899,105 899.5,108 900,112 900.5,116 901.5,120 902,124 903,128 903,128.5 904,132 905,136 906,140 907,143.5 907,144 908.5,148 909,152 909,156 908,160 907,162.5 906.5,164 904.5,168 903,170 902,172 900,176 899,177.5 898,180 896,184 895,187 894.5,188 893.5,192 892.5,196 891.5,200 891,201 890,204 889,208 887,212 885,216 883,218.5 882,220 879.5,224 879,224.5 876,228 875,229.5 872.5,232 871,233.5 868.5,235.5 867,237 863,239.5 863,240 859,242 856,243.5 855,244.5 851,246.5 849.5,247.5 847,249.5 844.5,251.5 843,253 840,255.5 839,257 836.5,259.5 835,261.5 833.5,263.5 831,267 830.5,267.5 828,271.5 827,273.5 826,275.5 823.5,279.5 823,281 821.5,283.5 820,287.5 819,290 818.5,291.5 817.5,295.5 817.5,299.5 818,303.5 819,306 819.5,307.5 821,311.5 821,315.5 821,319.5 820,323.5 819,326 818.5,327.5 817,331.5 815.5,335.5 815,338 814.5,339.5 813,343.5 812.5,347.5 812,351.5 812,355.5 812,359.5 812.5,363.5 812.5,367.5 812.5,371.5 812.5,375.5 812.5,379.5 811.5,383.5 811,384.5 809.5,387.5 807,391 806.5,391.5 803,393.5 799,394.5 795,394 791,393 787,392 786,391.5 783,390 779,388 778.5,387.5 775,384.5 774,383.5 771,379.5 769,375.5 767.5,371.5 767,370.5 766,367.5 765,363.5 763.5,359.5 763,358 762,355.5 760.5,351.5 759,347.5 757,343.5 755.5,339.5 755,338.5 753.5,335.5 752,331.5 751,329 750.5,327.5 749,323.5 748,319.5 747,316 747,315.5 746,311.5 745,307.5 744,303.5 743.5,299.5 743,298 742.5,295.5 741.5,291.5 740.5,287.5 740,283.5 739,280.5 739,279.5 737.5,275.5 736.5,271.5 735,267.5 733.5,263.5 732,259.5 731,255.5 730,251.5 729,247.5 728.5,243.5 728,239.5 728,235.5 727.5,232 727,228.5 726.5,228 723,224 722.5,228 722,232 721.5,235.5 721,239.5 720.5,243.5 719.5,247.5 719,251 719,251.5 718.5,255.5 718,259.5 717.5,263.5 717,267.5 716,271.5 715.5,275.5 715,279.5 714.5,283.5 714.5,287.5 714,291.5 714,295.5 714,299.5 714.5,303.5 714.5,307.5 715,311.5 715.5,315.5 716,319.5 716.5,323.5 716.5,327.5 716.5,331.5 716.5,335.5 716,339.5 715,343.5 715,344 714.5,347.5 714,351.5 713.5,355.5 713,359.5 713,363.5 713,367.5 713,371.5 713,375.5 713.5,379.5 713.5,383.5 713.5,387.5 714,391.5 714,395.5 714.5,399.5 714.5,403.5 715,407.5 715,408 715,411.5 715,415.5 715,419.5 715,423.5 715,426 715,427.5 715,431.5 714.5,435.5 714.5,439.5 714,443.5 714,447.5 713.5,451.5 713.5,455.5 713.5,459.5 713.5,463.5 714,467.5 715,470.5 715,471.5 718,475.5 719,476 723,477 727,477 731,476 734,475.5 735,474.5 739,472.5 741.5,471.5 743,470 747,467.5 751,465 755,463.5 755,463 759,462 763,461.5 767,461.5 771,462 775,463 777,463.5 779,463.5 783,465 787,466 791,467.5 795,469 799,470.5 801,471.5 803,472 807,474 809.5,475.5 811,476 815,478 818,479.5 819,480 823,481.5 827,483 828.5,483.5 831,484 835,485 839,486 843,486.5 847,487 849.5,487.5 851,487.5 855,487.5 859,487.5 863,487.5 867,487.5 869,487.5 871,487 875,486.5 879,485.5 883,484 885.5,483.5 887,482.5 891,480.5 893.5,479.5 895,478.5 899,477 903,476.5 907,477 911,478 913.5,479.5 915,480 919,482 921.5,483.5 923,484 927,485.5 931,487 932.5,487.5 935,487.5 939,488.5 943,489 947,489.5 951,489.5 955,489.5 959,489.5 963,489.5 967,489 971,488.5 975,488 979,487.5 982.5,487.5 983,487 987,487 991,487 995,487.5 999,488 1003,488.5 1007,489.5 1011,490 1015,490.5 1018.5,491.5 1019,491.5 1023,492 1027,492 1031,492.5 1035,493 1039,493 1043,493.5 1047,493.5 1051,493.5 1055,493.5 1059,494 1063,494 1067,494 1071,494 1075,494 1079,494.5 1083,494.5 1087,494.5 1091,494.5 1095,494.5 1099,494.5 1103,494.5 1107,495 1111,495 1115,495 1116,495.5 1119,495.5 1123,495.5 1127,495.5 1131,496 1135,496 1139,496 1143,496 1147,496 1151,496.5 1155,496.5 1159,497 1163,497.5 1167,498 1171,498 1175,498.5 1179,499 1183,499 1184,499 1187,499.5ZM723,198 727,196 729.5,192 731,189.5 732,188 734,184 735,182 736,180 737.5,176 739,173 739.5,172 740.5,168 742,164 743,160 743,159 743.5,156 744,152 744.5,148 744.5,144 744.5,140 743.5,136 743,132.5 743,132 741.5,128 741,124 740.5,120 741,116 742,112 743,110 744,108 747,104 751,100.5 752.5,100 751,100 747,100 743,100 739,100 735,100 731,100 727,100 723,100 719,100 715,100 713,100 713,104 713.5,108 713.5,112 714,116 714.5,120 714.5,124 714.5,128 714.5,132 714.5,136 714.5,140 714.5,144 714,148 714,152 714,156 714,160 714,164 714.5,168 715,172 715,174 715.5,176 716,180 717,184 718,188 719,190.5 719.5,192 722,196 723,198Z"/>
<path fill="#cbe1b5" d="M747,600.5 751,601.5 755,602 759,602.5 763,602 767,601.5 771,601 775,600 778.5,599 779,598 780.5,595 779,594.5 775,593.5 771,592.5 767,592 763,592 759,592 755,592.5 751,593.5 747,594.5 745.5,595 743.5,599 747,600.5ZM675,551.5 679,552.5 683,551 685.5,547 687,543.5 687,543 687.5,539 688,535 687.5,531 687,528.5 686.5,527 684.5,523 683,521.5 679,520 675,521.5 673.5,523 671,527 671,527.5 670,531 669.5,535 669.5,539 670,543 671,546 671.5,547 674.5,551 675,551.5ZM1027,452 1031,453.5 1035,453.5 1039,452.5 1041,451.5 1043,450.5 1047,448.5 1049.5,447.5 1051,446.5 1055,445 1059,444 1061,443.5 1063,443 1067,442.5 1071,442.5 1075,443 1076,443.5 1079,444 1083,445.5 1087,446.5 1089,447.5 1091,448 1095,449.5 1099,450.5 1103,451 1107,451.5 1107.5,451.5 1111,451.5 1115,451.5 1117.5,451.5 1119,451.5 1123,451.5 1123.5,451.5 1127,451.5 1131,451.5 1135,452 1139,452.5 1143,453 1147,453 1151,453.5 1155,454 1159,454.5 1163,454.5 1167,455 1171,455 1175,455 1179,455.5 1183,455 1187,455 1187,451.5 1187,447.5 1187,443.5 1187,439.5 1187,435.5 1187,431.5 1187,427.5 1187,423.5 1187,419.5 1187,415.5 1187,411.5 1187,407.5 1187,403.5 1187,399.5 1187,395.5 1187,391.5 1187,387.5 1187,383.5 1187,379.5 1187,375.5 1187,371.5 1187,367.5 1187,363.5 1187,359.5 1187,355.5 1187,351.5 1187,347.5 1187,343.5 1187,339.5 1187,335.5 1187,331.5 1187,327.5 1187,323.5 1187,319.5 1187,315.5 1187,311.5 1187,307.5 1187,303.5 1187,299.5 1187,295.5 1187,291.5 1187,287.5 1187,283.5 1187,279.5 1187,275.5 1187,271.5 1187,267.5 1187,263.5 1187,259.5 1187,255.5 1187,251.5 1187,247.5 1187,243.5 1187,239.5 1187,235.5 1187,232 1187,228 1187,224 1187,220 1187,216 1187,212 1187,208 1187,204 1187,200 1187,196 1187,192 1187,188 1187,184 1187,180 1187,176 1187,172 1187,168 1187,164 1187,160 1187,156 1187,152 1187,148 1187,144 1187,140 1187,136 1187,132 1187,128 1187,126 1183,125.5 1179,125 1175,124.5 1171,124 1170.5,124 1167,123.5 1163,123.5 1159,123.5 1155,124 1154.5,124 1151,124.5 1147,125 1143,125.5 1139,126 1135,126.5 1131,127.5 1127.5,128 1127,128 1123,129 1119,129.5 1115,130.5 1111,131 1107,131.5 1103,131.5 1099,131.5 1095,131.5 1091,131 1087,130.5 1083,130 1079,130 1075,130 1071,130 1067,131 1064,132 1063,132.5 1059,134.5 1056,136 1055,136.5 1051,139.5 1050.5,140 1047,143 1046,144 1043,147.5 1042.5,148 1039,152 1036,156 1035,157 1032,160 1031,161 1027.5,164 1027,164 1023,166.5 1019,168 1018,168 1015,168 1014.5,168 1011,166.5 1008,164 1007,162.5 1005,160 1003,157 1002,156 999,153.5 996.5,152 995,151.5 991,150.5 987,151 984,152 983,152 979,154.5 977,156 975,157.5 972,160 971,161 967.5,164 967,164.5 963.5,168 963,168 959,172 955,175.5 954.5,176 951,179 950,180 947,182.5 945.5,184 943,186.5 941.5,188 939,190.5 937.5,192 935,194.5 933.5,196 931,198.5 930,200 927,203 926.5,204 923,208 920.5,212 919,214 918,216 915.5,220 915,220.5 913,224 911,227 910.5,228 907,231.5 907,232 903,235 902,235.5 899,237.5 896,239.5 895,240.5 891.5,243.5 891,244 888,247.5 887,249 885,251.5 883,255.5 881,259.5 879.5,263.5 879,264.5 878,267.5 877,271.5 876.5,275.5 876.5,279.5 876.5,283.5 877,287.5 878,291.5 879,294 879.5,295.5 881,299.5 882.5,303.5 883,304.5 884.5,307.5 886.5,311.5 887,313 888.5,315.5 890.5,319.5 891,320 893.5,323.5 895,325.5 897,327.5 899,330 901,331.5 903,334 904.5,335.5 907,338 908.5,339.5 911,343 911.5,343.5 914.5,347.5 915,348.5 917.5,351.5 919,353.5 920.5,355.5 923,358 924.5,359.5 927,361.5 930,363.5 931,364 935,366.5 937.5,367.5 939,368.5 943,370.5 944.5,371.5 947,373.5 949,375.5 951,377.5 952.5,379.5 954.5,383.5 955,385.5 955.5,387.5 956,391.5 956.5,395.5 957,399.5 957.5,403.5 958.5,407.5 959,408.5 960.5,411.5 963,415 963,415.5 967,419 967.5,419.5 971,422 973,423.5 975,425 978,427.5 979,428 983,431.5 987,434.5 988,435.5 991,437.5 994.5,439.5 995,439.5 999,441.5 1003,443 1004.5,443.5 1007,444 1011,445.5 1015,447 1016.5,447.5 1019,448.5 1023,450.5 1025.5,451.5 1027,452Z"/>
<path fill="#a4d1a7" d="M1143,424 1147,425 1151,426 1155,426 1159,426.5 1163,426.5 1167,426.5 1171,426 1175,426 1179,425.5 1183,425.5 1187,424.5 1187,423.5 1187,419.5 1187,415.5 1187,411.5 1187,407.5 1187,403.5 1187,399.5 1187,395.5 1187,391.5 1187,387.5 1187,383.5 1187,379.5 1187,375.5 1187,371.5 1187,367.5 1187,363.5 1187,359.5 1187,355.5 1187,351.5 1187,347.5 1187,343.5 1187,339.5 1187,335.5 1187,331.5 1187,327.5 1187,323.5 1187,319.5 1187,315.5 1187,311.5 1187,307.5 1187,303.5 1187,299.5 1187,295.5 1187,291.5 1187,287.5 1187,283.5 1187,279.5 1187,275.5 1187,271.5 1187,267.5 1187,263.5 1187,259.5 1187,255.5 1187,251.5 1187,247.5 1187,243.5 1187,239.5 1187,235.5 1187,232 1187,228 1187,224 1187,220 1187,216 1187,212 1187,208 1187,204 1187,200 1187,196 1187,192 1187,188 1187,184 1187,180 1187,176.5 1184,176 1183,175.5 1179,175 1175,174.5 1171,174.5 1167,174.5 1163,175 1159,175.5 1156.5,176 1155,176 1151,176.5 1147,177.5 1143,178 1139,179 1135,179.5 1134,180 1131,180.5 1127,181 1123,182 1119,183 1115,184 1114.5,184 1111,185 1107,186 1103,188 1099,190 1096.5,192 1095,193 1092,196 1091,197 1087.5,200 1087,200.5 1083,203 1082,204 1079,205 1075,206 1071,206.5 1067,207 1063,207 1059,207 1055,207.5 1053,208 1051,208 1047,210 1044,212 1043,212.5 1040.5,216 1039,218 1038,220 1036.5,224 1035,227 1035,228 1033.5,232 1032,235.5 1031,238.5 1030.5,239.5 1029,243.5 1028,247.5 1027,249.5 1025.5,251.5 1023,253 1019,253.5 1015,252.5 1011,251.5 1007,250.5 1003,249 1000,247.5 999,247.5 995,245.5 991,244 990.5,243.5 987,242 983,240.5 979,239.5 975,239 971,239 967,239 965,239.5 963,241 960.5,243.5 960.5,247.5 962.5,251.5 963,252 966.5,255.5 967,256.5 971,259.5 975,262.5 977,263.5 979,265 983,267 984,267.5 987,269 991,271 993,271.5 995,272.5 999,274 1003,275 1004.5,275.5 1007,276.5 1011,277.5 1015,278.5 1019,279 1021.5,279.5 1023,280 1027,280.5 1031,281.5 1035,283 1036.5,283.5 1039,284.5 1043,287.5 1043.5,287.5 1047,291 1048,291.5 1051,295.5 1054,299.5 1055,301.5 1056.5,303.5 1058.5,307.5 1059,308.5 1060.5,311.5 1063,315.5 1065,319.5 1067,323 1067.5,323.5 1070,327.5 1071,330 1072,331.5 1074,335.5 1075,337 1076.5,339.5 1078.5,343.5 1079,345 1080.5,347.5 1082.5,351.5 1083,352.5 1084.5,355.5 1087,359.5 1087,360 1089,363.5 1091,367 1091.5,367.5 1093.5,371.5 1095,374.5 1095.5,375.5 1097.5,379.5 1099,382.5 1099.5,383.5 1101.5,387.5 1103,389.5 1104,391.5 1107,395 1107.5,395.5 1111,399.5 1115,403 1115.5,403.5 1119,406.5 1120,407.5 1123,410 1125,411.5 1127,413.5 1129.5,415.5 1131,416.5 1134.5,419.5 1135,419.5 1139,422 1142,423.5 1143,424Z"/>
<path fill="#79c2a2" d="M1159,383.5 1163,384 1167,384.5 1171,384.5 1175,384 1178,383.5 1179,383.5 1183,382 1187,380 1187,379.5 1187,375.5 1187,371.5 1187,367.5 1187,363.5 1187,359.5 1187,355.5 1187,351.5 1187,347.5 1187,343.5 1187,339.5 1187,335.5 1187,331.5 1187,327.5 1187,323.5 1187,319.5 1187,315.5 1187,311.5 1187,307.5 1187,303.5 1187,299.5 1187,295.5 1187,291.5 1187,287.5 1187,283.5 1187,279.5 1187,275.5 1187,271.5 1187,267.5 1187,263.5 1187,259.5 1187,255.5 1187,251.5 1187,247.5 1187,243.5 1187,239.5 1187,235.5 1187,232 1186.5,232 1183,229.5 1180,228 1179,227 1175,225 1172.5,224 1171,223 1167,221.5 1163,220 1161.5,220 1159,219.5 1155,219 1151,219.5 1150.5,220 1147,220.5 1143,222 1140,224 1139,224.5 1135,227 1134.5,228 1131,230.5 1129.5,232 1127,234 1125,235.5 1123,237.5 1120.5,239.5 1119,241 1115,243.5 1114.5,243.5 1111,246 1107,247.5 1103,249.5 1099,250.5 1096,251.5 1095,252 1091,254 1088.5,255.5 1087,257 1084.5,259.5 1083,263 1082.5,263.5 1082,267.5 1082,271.5 1082.5,275.5 1083,277.5 1083.5,279.5 1085.5,283.5 1087,287.5 1089,291.5 1091,295 1091.5,295.5 1093.5,299.5 1095,302.5 1095.5,303.5 1097.5,307.5 1099,310 1100,311.5 1102,315.5 1103,317 1104.5,319.5 1107,323.5 1107,324 1109,327.5 1111,331.5 1113,335.5 1115,339.5 1117,343.5 1119,347 1119,347.5 1121.5,351.5 1123,354.5 1123.5,355.5 1126,359.5 1127,361 1128.5,363.5 1131,367 1131.5,367.5 1135,371.5 1139,375 1139.5,375.5 1143,378 1145.5,379.5 1147,380 1151,382 1155,383 1158,383.5 1159,383.5Z"/>
</g>
<g clip-path="url(#cp02)" shape-rendering="geometricPrecision">
<path fill="#fef2d9" d="M1323,631 1327,631 1331,631 1335,631 1339,631 1343,631 1347,631 1351,631 1354.5,631 1351,630 1347,629 1343,628.5 1339,628.5 1335,628.5 1331,628.5 1327,629.5 1323,631ZM1267,599.5 1271,599.5 1275,599.5 1279,599.5 1283,599 1286,599 1287,599 1291,598.5 1295,598.5 1299,598 1303,597.5 1307,597.5 1311,597 1315,597 1319,597 1323,596.5 1327,596.5 1331,596 1335,595.5 1336.5,595 1339,594.5 1343,594 1347,593 1351,592 1355,591 1359,590 1363,589 1367,588.5 1371,588 1375,588.5 1379,589 1383,589.5 1387,590.5 1391,591 1392.5,591 1395,591.5 1399,592.5 1403,593 1407,594 1411,594.5 1415,595 1416,595 1419,595.5 1423,596 1427,596.5 1431,596.5 1435,597 1439,597 1443,597 1447,597 1451,596.5 1455,596.5 1459,596.5 1463,596 1467,596 1471,595.5 1474.5,595 1475,595 1479,594.5 1483,594.5 1487,594 1491,593.5 1495,592.5 1499,592 1502.5,591 1503,591 1507,590.5 1511,589.5 1515,588.5 1519,587 1519.5,587 1523,586 1527,584.5 1530,583 1531,582.5 1535,580.5 1537,579 1539,577.5 1541.5,575 1543,573.5 1545,571 1546.5,567 1547,565.5 1547.5,563 1547,560.5 1547,559 1545,555 1543,553 1541.5,551 1539,549.5 1536.5,547 1535,546.5 1531,544 1529.5,543 1527,542 1523,540.5 1520,539 1519,539 1515,537.5 1511,536.5 1507,535 1503,534 1499,533 1495,532.5 1491,531.5 1490,531 1487,530.5 1483,530 1479,529 1475,528.5 1471,528 1467,528 1463,527.5 1459,527.5 1455,527 1451,527 1447,527.5 1443,527.5 1439,528 1435,528 1431,528 1427,528.5 1423,528.5 1419,528 1415,528 1411,528 1407,527.5 1403,527.5 1400,527 1399,527 1395,527 1393,527 1391,527.5 1387,528 1383,528.5 1379,529.5 1375,531 1372.5,531 1371,531.5 1367,531.5 1365,531 1363,531 1359,529.5 1355,528.5 1351,527 1347,525 1343.5,523 1343,523 1339,520 1338,519 1335,516.5 1334,515 1331,513 1328.5,511 1327,510.5 1323,508.5 1320.5,507 1319,506.5 1315,505.5 1311,504.5 1307,503.5 1304,503 1303,503 1299,503 1295,502.5 1291,502.5 1287,503 1283,503 1280,503 1279,503.5 1275,503.5 1271,504 1267,505 1263,506 1259,507 1258.5,507 1255,508.5 1251,510 1249,511 1247,512 1243,514.5 1242,515 1239,517 1236.5,519 1235,520.5 1231.5,523 1231,523.5 1227,527 1223,531 1222.5,531 1219,535 1216,539 1215,540.5 1213.5,543 1211.5,547 1211,549 1210.5,551 1209.5,555 1209.5,559 1210.5,563 1211,565.5 1211.5,567 1213.5,571 1215,574 1216,575 1219,579 1223,583 1227,586 1228.5,587 1231,589 1235,591 1235.5,591 1239,593 1243,594.5 1245.5,595 1247,595.5 1251,597 1255,598 1259,598.5 1263,599 1264.5,599 1267,599.5ZM1679,571.5 1683,572 1687,572 1690,571 1688,567 1687,567 1683,567 1681,567 1679,569.5 1678.5,571 1679,571.5ZM1279,325 1283,327 1287,327 1291,325.5 1294,323.5 1295,323 1298,319.5 1299,319 1301.5,315.5 1303,314 1305,311.5 1307,309 1308,307.5 1310,303.5 1311,301.5 1311.5,299.5 1313,295.5 1314,291.5 1315,287.5 1315,287 1315.5,283.5 1316.5,279.5 1317,275.5 1318,271.5 1319,268.5 1319.5,267.5 1321,263.5 1323,260 1323,259.5 1326,255.5 1327,254.5 1329.5,251.5 1331,250 1332.5,247.5 1335,244.5 1335.5,243.5 1338,239.5 1339,238.5 1340.5,235.5 1343,232 1343,231.5 1345,228 1347,224 1349,220 1351,216 1353,212 1355,208 1357,204 1359,200 1359,199.5 1361.5,196 1363,192.5 1363.5,192 1366,188 1367,186.5 1368.5,184 1371,180 1373.5,176 1375,173.5 1376,172 1378,168 1379,165.5 1380,164 1381.5,160 1383,156.5 1383.5,156 1385,152 1386.5,148 1387,146.5 1388,144 1389.5,140 1390.5,136 1391,134.5 1391.5,132 1393,128 1393.5,124 1394,120 1394.5,116 1394.5,112 1394.5,108 1394,104 1393.5,100 1391,100 1387,100 1383,100 1379,100 1375,100 1371,100 1367,100 1363,100 1359,100 1355,100 1351,100 1347,100 1343,100 1339,100 1335,100 1331,100 1327,100 1323,100 1319,100 1315,100 1311,100 1307,100 1304,100 1303,102 1301.5,104 1299,108 1299,108.5 1296,112 1295,113 1292,116 1291,117 1287.5,120 1287,120.5 1284,124 1283,125 1280.5,128 1279,130 1277.5,132 1275,136 1275,136.5 1273,140 1271.5,144 1271,146 1270.5,148 1269.5,152 1269,156 1269,160 1269,164 1269,168 1269.5,172 1270,176 1270.5,180 1271,184 1270.5,188 1270,192 1269,196 1268,200 1267,203.5 1267,204 1266,208 1265,212 1264.5,216 1264,220 1263.5,224 1263,228 1262.5,232 1261.5,235.5 1261,239.5 1260,243.5 1259.5,247.5 1259,251.5 1259,255.5 1259.5,259.5 1259.5,263.5 1260.5,267.5 1261,271.5 1261.5,275.5 1262.5,279.5 1263,283.5 1263,285 1263.5,287.5 1264,291.5 1264.5,295.5 1265,299.5 1266.5,303.5 1267,305 1268,307.5 1269.5,311.5 1271,314.5 1271.5,315.5 1274,319.5 1275,321 1277.5,323.5 1279,325Z"/>
<path fill="#fedc9b" d="M1255,587.5 1259,588.5 1263,589.5 1267,590 1271,590 1275,590 1279,589.5 1283,589 1287,588 1290.5,587 1291,587 1295,586 1299,585 1303,584 1306.5,583 1307,583 1311,582.5 1315,582 1319,581.5 1323,581 1327,580.5 1331,580 1335,579.5 1336,579 1339,578.5 1343,578 1347,577.5 1351,576.5 1355,576 1359,575 1359.5,575 1363,574.5 1367,574.5 1371,574.5 1375,575 1379,576 1383,577 1387,578 1391,579 1392.5,579 1395,579.5 1399,580.5 1403,581 1407,581.5 1411,582 1415,583 1417,583 1419,583.5 1423,584 1427,584.5 1431,585 1435,585.5 1439,585.5 1443,585.5 1447,585.5 1451,585.5 1455,585.5 1459,585 1463,584.5 1467,584 1471,583.5 1473.5,583 1475,583 1479,582 1483,581.5 1487,580.5 1491,579.5 1491.5,579 1495,578 1499,577 1503,575.5 1504.5,575 1507,574 1511,572 1513,571 1515,570 1518.5,567 1519,566.5 1521.5,563 1522,559 1521,555 1519,552.5 1517.5,551 1515,549.5 1511.5,547 1511,547 1507,545 1503,543.5 1502,543 1499,542 1495,541 1491,540 1488,539 1487,539 1483,538 1479,537 1475,536.5 1471,536 1467,535.5 1463,535.5 1459,535.5 1455,535.5 1451,535.5 1447,535.5 1443,535.5 1439,536 1435,536 1431,536.5 1427,536.5 1423,537 1419,537 1415,537 1411,537 1407,537 1403,537 1399,537.5 1395,537.5 1391,538 1387,539 1386.5,539 1383,540 1379,541.5 1375,542.5 1371,543 1367,543 1363,542.5 1359,541.5 1355,540.5 1351.5,539 1351,539 1347,537.5 1343,536 1341.5,535 1339,534 1335,532 1333,531 1331,530 1327,527.5 1326.5,527 1323,525 1320.5,523 1319,522 1315,519 1311,516.5 1308,515 1307,515 1303,513.5 1299,512.5 1295,512 1291,511.5 1287,511.5 1283,511.5 1279,511.5 1275,511.5 1271,512 1267,513 1263,514 1260,515 1259,515.5 1255,517.5 1252,519 1251,520 1247,522.5 1246.5,523 1243,526 1241.5,527 1239,530 1238,531 1235,534.5 1234.5,535 1232,539 1231,540.5 1229.5,543 1228,547 1227,551 1227,552 1226.5,555 1227,559 1227,559.5 1228,563 1229.5,567 1231,570 1231.5,571 1234.5,575 1235,575.5 1239,579 1243,582 1244.5,583 1247,584.5 1251,586 1254,587 1255,587.5ZM1295,237.5 1299,238 1303,237 1306.5,235.5 1307,235.5 1311,233.5 1314,232 1315,231 1319,228.5 1319.5,228 1323,225 1324.5,224 1327,221 1328,220 1331,216.5 1331.5,216 1335,212 1335,211.5 1338,208 1339,206.5 1340.5,204 1343,200.5 1343.5,200 1346,196 1347,194.5 1349,192 1351,188.5 1351.5,188 1354.5,184 1355,183 1357,180 1359,177.5 1360,176 1362.5,172 1363,171.5 1365,168 1367,164 1369,160 1370.5,156 1371,155 1372,152 1373.5,148 1375,144 1376.5,140 1377.5,136 1379,132 1380,128 1381,124 1382,120 1382.5,116 1382.5,112 1382.5,108 1382,104 1381.5,100 1379,100 1375,100 1371,100 1367,100 1363,100 1359,100 1355,100 1351,100 1347,100 1343,100 1339,100 1335,100 1331,100 1327,100 1324.5,100 1323,102.5 1322,104 1320,108 1319,109.5 1317.5,112 1315.5,116 1315,117 1313,120 1311,123.5 1311,124 1308,128 1307,129.5 1305,132 1303,135 1302,136 1299.5,140 1299,140.5 1297,144 1295,147.5 1295,148 1293.5,152 1292.5,156 1291.5,160 1291.5,164 1291,168 1291,170 1291,172 1291,176 1291,180 1290.5,184 1290.5,188 1290.5,192 1290,196 1290,200 1289.5,204 1289,208 1288.5,212 1288.5,216 1288.5,220 1288.5,224 1289,228 1290,232 1291,233.5 1293,235.5 1295,237.5Z"/>
<path fill="#f9c285" d="M1263,583.5 1267,584 1271,584 1275,584 1279,583 1279.5,583 1283,582.5 1287,581.5 1291,580 1293,579 1295,578.5 1299,577 1303,575 1307,574 1311,572.5 1315,571.5 1317.5,571 1319,571 1323,570 1327,569.5 1331,569 1335,568.5 1339,567.5 1340.5,567 1343,566.5 1347,565 1351,564 1353,563 1355,562 1358.5,559 1357.5,555 1355,553.5 1352.5,551 1351,550.5 1347,548 1345.5,547 1343,546 1339,544 1337.5,543 1335,542 1331,540 1329,539 1327,538 1323,536.5 1321,535 1319,534 1315,531.5 1314.5,531 1311,529 1308.5,527 1307,526.5 1303,524 1301.5,523 1299,522 1295,520.5 1291,519.5 1290.5,519 1287,518.5 1283,518 1279,518 1275,518 1271,518.5 1267,519 1263,520 1259,522 1256.5,523 1255,524 1251,526.5 1250,527 1247,530 1245.5,531 1243,534 1242,535 1239,539 1239,539.5 1237,543 1235.5,547 1235,548.5 1234.5,551 1234,555 1234.5,559 1235,561.5 1235.5,563 1237,567 1239,570 1240,571 1243,574.5 1243.5,575 1247,577.5 1249.5,579 1251,580 1255,581.5 1259,583 1260.5,583 1263,583.5ZM1415,575 1419,576 1423,576.5 1427,577 1431,577 1435,577.5 1439,577.5 1443,577.5 1447,577.5 1451,577.5 1455,577 1459,576.5 1463,576 1467,575.5 1468.5,575 1471,574.5 1475,573.5 1479,572.5 1483,571 1487,569.5 1491,567.5 1491.5,567 1495,564.5 1496.5,563 1498,559 1497,555 1495,553.5 1492,551 1491,550.5 1487,548.5 1483.5,547 1483,547 1479,546 1475,544.5 1471,544 1467.5,543 1467,543 1463,542.5 1459,542 1455,542 1451,542 1447,542 1443,542 1439,542 1435,542.5 1431,542.5 1427,543 1423,543 1421.5,543 1419,543.5 1415,543.5 1411,544 1407,544 1403,544.5 1399,545 1395,545.5 1391,546.5 1388,547 1387,547.5 1383,549.5 1380,551 1379,552 1375,555 1373,559 1375,561.5 1376,563 1379,565 1382,567 1383,567.5 1387,569 1391,570.5 1392.5,571 1395,571.5 1399,572.5 1403,573.5 1407,574 1411,574.5 1414,575 1415,575ZM1311,196.5 1315,198.5 1319,198.5 1323,197 1324.5,196 1327,194.5 1330,192 1331,191 1334,188 1335,186.5 1337.5,184 1339,182 1340.5,180 1343,177 1343.5,176 1346.5,172 1347,171.5 1349.5,168 1351,165 1352,164 1354,160 1355,157.5 1356,156 1357.5,152 1359,148 1359,147.5 1360,144 1361.5,140 1362.5,136 1363,134.5 1364,132 1365,128 1366,124 1366.5,120 1367,117.5 1367,116 1367.5,112 1367,108 1367,107 1366.5,104 1364.5,100 1363,100 1359,100 1355,100 1351,100 1347,100 1343,100 1342.5,100 1339,103.5 1339,104 1336,108 1335,109 1333,112 1331,115.5 1331,116 1328.5,120 1327,122.5 1326,124 1324,128 1323,129.5 1321.5,132 1319,136 1319,136.5 1317,140 1315,143 1314.5,144 1312.5,148 1311,151 1310.5,152 1309,156 1308,160 1307,163 1307,164 1306,168 1306,172 1305.5,176 1305.5,180 1306,184 1307,188 1307,188.5 1308,192 1310.5,196 1311,196.5Z"/>
<path fill="#f4a474" d="M1263,579.5 1267,580 1271,580 1275,579.5 1277.5,579 1279,579 1283,578 1287,576.5 1290,575 1291,574.5 1295,572.5 1297.5,571 1299,570.5 1303,568 1305,567 1307,566 1311,564 1313,563 1315,562 1319,560.5 1323,559 1327,556 1328,555 1327,551 1323,548 1322.5,547 1319,545 1316.5,543 1315,542.5 1311,539 1307,536 1306,535 1303,532.5 1301,531 1299,529.5 1295,527.5 1295,527 1291,525.5 1287,524 1283,523 1282.5,523 1279,522.5 1275,522.5 1271,523 1270,523 1267,523.5 1263,525 1259,526.5 1258,527 1255,529 1251.5,531 1251,532 1247.5,535 1247,535.5 1244,539 1243,541 1242,543 1240,547 1239.5,551 1239,555 1239.5,559 1240.5,563 1243,567 1243,567.5 1246,571 1247,572 1251,575 1255,577 1259,578.5 1261.5,579 1263,579.5ZM1411,567.5 1415,568 1419,569 1423,569.5 1427,570 1431,570.5 1435,570.5 1439,571 1443,571 1447,571 1451,570.5 1455,570 1459,569 1463,568 1466.5,567 1467,567 1471,565 1473.5,563 1475,561 1476,559 1475,557 1474,555 1471,553.5 1467,551 1463,550 1459,549 1455,548.5 1451,548 1447,548 1443,548 1439,548 1435,548.5 1431,548.5 1427,549 1423,549.5 1419,550 1415,550.5 1411,551 1408.5,551 1407,551.5 1403,552.5 1399,554 1396,555 1395,557 1394,559 1395,560 1398,563 1399,563.5 1403,565 1407,566 1410,567 1411,567.5Z"/>
<path fill="#f08966" d="M1263,576 1267,576.5 1271,576.5 1275,576 1279,575 1283,574 1287,572 1289,571 1291,570 1295,567 1299,564 1300,563 1303,560 1304,559 1306.5,555 1307,552.5 1307.5,551 1307,550 1306.5,547 1304.5,543 1303,541.5 1301.5,539 1299,537 1297.5,535 1295,533.5 1292,531 1291,530.5 1287,529 1283,527.5 1281,527 1279,527 1275,526.5 1271,526.5 1268.5,527 1267,527.5 1263,528.5 1259,530.5 1258,531 1255,533 1252.5,535 1251,536.5 1248.5,539 1247,541.5 1246,543 1244,547 1243,551 1243,555 1243.5,559 1245,563 1247,566.5 1247.5,567 1251,570.5 1252,571 1255,573 1259,575 1259.5,575 1263,576ZM1439,559.5 1443,559.5 1444,559 1443,559 1439,559 1437,559 1439,559.5Z"/>
<path fill="#ec6c5b" d="M1259,571.5 1263,573 1267,573.5 1271,573.5 1275,573 1279,572 1281,571 1283,570.5 1287,568 1288.5,567 1291,565.5 1293.5,563 1295,561.5 1297,559 1299,555 1299,554.5 1299.5,551 1299,547 1297.5,543 1295,540 1294.5,539 1291,536 1290,535 1287,533 1283,531.5 1282,531 1279,530.5 1275,530 1271,530 1267,530.5 1265.5,531 1263,532 1259,534 1257.5,535 1255,537 1252.5,539 1251,541 1249.5,543 1247.5,547 1247,550 1246.5,551 1246.5,555 1247,558 1247,559 1249,563 1251,566 1252,567 1255,569.5 1258,571 1259,571.5Z"/>
<path fill="#de4e50" d="M1259,568 1263,570 1267,570.5 1271,570.5 1275,570 1279,568.5 1282.5,567 1283,567 1287,564 1288,563 1291,560 1291.5,559 1293.5,555 1294.5,551 1294,547 1292,543 1291,541.5 1289,539 1287,537.5 1283,535 1279,534 1275,533 1271,533 1267,534 1263,535 1259,537.5 1257,539 1255,541 1253,543 1251,547 1250,551 1249.5,555 1250.5,559 1251,560 1253,563 1255,565.5 1257,567 1259,568Z"/>
<path fill="#cf2b4b" d="M1267,567.5 1271,567.5 1274,567 1275,567 1279,565.5 1283,563 1287,559 1289.5,555 1290,551 1289.5,547 1287.5,543 1287,542.5 1283,539 1279,537 1275,536.5 1271,536 1267,537 1263,538.5 1261.5,539 1259,541 1257,543 1255,546 1254.5,547 1253,551 1253,555 1254,559 1255,560.5 1257,563 1259,564.5 1263,566.5 1265,567 1267,567.5Z"/>
<path fill="#c01545" d="M1263,563.5 1267,564.5 1271,564.5 1275,564 1276.5,563 1279,562 1282.5,559 1283,558.5 1285,555 1286,551 1285,547 1283,544 1282.5,543 1279,541 1275,539.5 1271,539 1267,540 1263,542 1261.5,543 1259,545.5 1258,547 1256.5,551 1256.5,555 1258,559 1259,560.5 1262.5,563 1263,563.5Z"/>
<path fill="#b11547" d="M1267,561 1271,561 1275,560 1276.5,559 1279,557 1280.5,555 1281.5,551 1280,547 1279,546 1275,543 1274.5,543 1271,542.5 1269,543 1267,543.5 1263,546.5 1262,547 1260.5,551 1260.5,555 1263,559 1267,561Z"/>
<path fill="#a3144b" d="M1267,555.5 1271,556 1273,555 1275,552.5 1275.5,551 1275,550.5 1271,548 1267,550 1266,551 1266.5,555 1267,555.5Z"/>
<path fill="#ebf3e0" d="M1475,628 1479,629 1483,630 1487,630 1491,630.5 1495,630 1499,629 1503,628 1505,627 1507,623.5 1507.5,623 1507,622.5 1503.5,619 1503,619 1499,617.5 1495,617 1491,617 1487,617 1483,617.5 1479,618 1475.5,619 1475,619 1471,622 1470,623 1471,624.5 1473,627 1475,628ZM1259,615.5 1263,616.5 1267,617 1271,617 1275,616.5 1279,615.5 1281,615 1279,613 1276,611 1275,611 1271,610.5 1267,610.5 1263,611 1262.5,611 1259,613.5 1257.5,615 1259,615.5ZM1643,555 1647,556 1651,556.5 1655,557 1659,557.5 1663,557.5 1667,557.5 1671,557 1675,557 1679,556.5 1683,556.5 1687,556.5 1691,556.5 1695,556.5 1699,556.5 1703,556.5 1707,556.5 1711,556 1715,556 1719,556 1719,555 1719,551 1719,547 1719,543 1719,539 1719,535 1719,531 1719,527 1719,523 1719,519 1719,515 1719,511 1719,507 1719,503 1719,499 1719,495.5 1719,491.5 1719,487.5 1719,483.5 1719,479.5 1719,475.5 1719,471.5 1719,467.5 1719,463.5 1719,459.5 1719,455.5 1719,451.5 1719,447.5 1719,443.5 1719,439.5 1719,435.5 1719,431.5 1719,427.5 1719,423.5 1719,419.5 1719,415.5 1719,411.5 1719,407.5 1719,403.5 1719,399.5 1719,395.5 1719,391.5 1719,387.5 1719,383.5 1719,379.5 1719,375.5 1719,371.5 1719,367.5 1719,363.5 1719,359.5 1719,355.5 1719,351.5 1719,347.5 1719,343.5 1719,339.5 1719,335.5 1719,331.5 1719,327.5 1719,323.5 1719,319.5 1719,315.5 1719,311.5 1719,307.5 1719,303.5 1719,299.5 1719,295.5 1719,291.5 1719,287.5 1719,283.5 1719,279.5 1719,275.5 1719,271.5 1719,267.5 1719,263.5 1719,259.5 1719,255.5 1719,251.5 1719,247.5 1719,243.5 1719,239.5 1719,235.5 1719,232 1719,228 1719,224 1719,220 1719,216 1719,212 1719,208 1719,204 1719,200 1719,196 1719,192 1719,188 1719,184 1719,180 1719,176 1719,172 1719,168 1719,164 1719,160 1719,156 1719,152 1719,148 1719,144 1719,140 1719,136 1719,132 1719,128 1719,124 1719,120 1719,116 1719,112 1719,108 1719,104 1719,100 1715,100 1711,100 1707,100 1703,100 1699,100 1695,100 1691,100 1687,100 1683,100 1679,100 1675,100 1671,100 1667,100 1663,100 1659,100 1655,100 1651,100 1647,100 1643,100 1639,100 1635,100 1631,100 1627,100 1623,100 1619,100 1615,100 1611,100 1607,100 1603,100 1599,100 1595,100 1591,100 1587,100 1583,100 1579,100 1575,100 1571,100 1567,100 1563,100 1559,100 1555,100 1551,100 1547,100 1543,100 1539,100 1535,100 1531,100 1527,100 1523,100 1519,100 1515,100 1511,100 1507,100 1503,100 1499,100 1495,100 1491,100 1487,100 1483,100 1479,100 1475,100 1471,100 1467,100 1463,100 1459,100 1455,100 1451,100 1447,100 1443,100 1439,100 1435,100 1431,100 1427,100 1423,100 1419,100 1415,100 1411,100 1407,100 1407,103 1407,104 1406.5,108 1406.5,112 1406,116 1405.5,120 1405,124 1405,128 1404.5,132 1403.5,136 1403,140 1403,140.5 1402,144 1401,148 1399.5,152 1399,154.5 1398.5,156 1397,160 1395,164 1395,164.5 1393.5,168 1391,172 1391,172.5 1389,176 1387,179.5 1386.5,180 1384.5,184 1383,186 1382,188 1379.5,192 1379,193 1377.5,196 1375.5,200 1375,200.5 1373.5,204 1371.5,208 1371,209 1369.5,212 1368,216 1367,217.5 1366,220 1364.5,224 1363,227 1362.5,228 1361,232 1359,235.5 1359,236 1357.5,239.5 1355.5,243.5 1355,245 1354,247.5 1352,251.5 1351,254 1350,255.5 1348.5,259.5 1347,263.5 1345.5,267.5 1344,271.5 1343,275.5 1342,279.5 1341,283.5 1340.5,287.5 1340,291.5 1339.5,295.5 1339,299.5 1339,301 1338.5,303.5 1338,307.5 1337,311.5 1336,315.5 1335,318.5 1334.5,319.5 1333.5,323.5 1332.5,327.5 1332,331.5 1331,335.5 1331,336.5 1330.5,339.5 1330,343.5 1329.5,347.5 1329,351.5 1328.5,355.5 1327.5,359.5 1327,362 1326.5,363.5 1326,367.5 1324.5,371.5 1323,375 1323,375.5 1320.5,379.5 1319,381.5 1317.5,383.5 1315,385.5 1313,387.5 1311,389 1308,391.5 1307,392 1303,394.5 1301.5,395.5 1299,397 1295,398.5 1293.5,399.5 1291,400.5 1287,402 1283,403.5 1279,405 1275,406 1271,407 1270.5,407.5 1267,408.5 1263,410 1259,411 1258,411.5 1255,413 1251,414.5 1249,415.5 1247,416.5 1243,419 1242,419.5 1239,422 1237.5,423.5 1235,427 1234.5,427.5 1232.5,431.5 1231,435.5 1230,439.5 1229,443.5 1228,447.5 1227,450.5 1227,451.5 1225,455.5 1223.5,459.5 1223,460 1221,463.5 1219,466.5 1218.5,467.5 1216.5,471.5 1215,475 1215,475.5 1213.5,479.5 1212.5,483.5 1212,487.5 1212.5,491.5 1214.5,495.5 1215,495.5 1219,498.5 1221.5,499 1223,499.5 1227,500 1231,500 1235,499.5 1237,499 1239,499 1243,498 1247,497 1251,496 1253,495.5 1255,494.5 1259,493.5 1263,492.5 1267,492 1271,491.5 1274,491.5 1275,491 1279,490.5 1283,490.5 1287,490 1291,489.5 1295,489 1299,489 1303,488.5 1307,488.5 1311,489 1315,489.5 1319,490.5 1320.5,491.5 1323,492 1327,493.5 1331,495 1331.5,495.5 1335,496.5 1339,498 1342,499 1343,499.5 1347,501 1351,502 1355,503 1356,503 1359,504 1363,504.5 1367,505.5 1371,506 1375,506.5 1379,507 1382.5,507 1383,507.5 1387,508 1391,508.5 1395,509 1399,509.5 1403,510 1407,511 1410,511 1411,511.5 1415,512 1419,512.5 1423,513.5 1427,514 1431,514.5 1435,515 1436.5,515 1439,515.5 1443,516 1447,516.5 1451,517 1455,517 1459,517.5 1463,517.5 1467,518 1471,518 1475,518.5 1479,519 1482,519 1483,519.5 1487,520.5 1491,521.5 1495,522.5 1498.5,523 1499,523.5 1503,524.5 1507,525.5 1511,526.5 1514.5,527 1515,527.5 1519,528 1523,529 1527,530 1531,530.5 1533.5,531 1535,531.5 1539,533 1543,534 1547,535 1548.5,535 1551,536 1555,537.5 1559,538.5 1561,539 1563,540 1567,541.5 1571,542.5 1574.5,543 1575,543.5 1579,544.5 1583,545 1587,545.5 1591,546 1595,546 1599,546 1603,546 1607,546.5 1611,547 1613.5,547 1615,547.5 1619,548.5 1623,550 1627,551 1627.5,551 1631,552.5 1635,553.5 1639,554.5 1642.5,555 1643,555Z"/>
<path fill="#cbe1b5" d="M1655,543.5 1659,544 1663,544 1667,544 1671,544 1675,544 1679,543.5 1683,543.5 1687,543 1687.5,543 1691,543 1695,543 1699,543 1703,543 1707,542.5 1711,542.5 1715,542.5 1719,542.5 1719,539 1719,535 1719,531 1719,527 1719,523 1719,519 1719,515 1719,511 1719,507 1719,503 1719,499 1719,495.5 1719,491.5 1719,487.5 1719,483.5 1719,479.5 1719,475.5 1719,471.5 1719,467.5 1719,463.5 1719,459.5 1719,455.5 1719,451.5 1719,447.5 1719,443.5 1719,439.5 1719,435.5 1719,431.5 1719,427.5 1719,423.5 1719,419.5 1719,415.5 1719,411.5 1719,407.5 1719,403.5 1719,399.5 1719,395.5 1719,391.5 1719,387.5 1719,383.5 1719,379.5 1719,375.5 1719,371.5 1719,367.5 1719,363.5 1719,359.5 1719,355.5 1719,351.5 1719,347.5 1719,343.5 1719,339.5 1719,335.5 1719,331.5 1719,327.5 1719,323.5 1719,319.5 1719,315.5 1719,311.5 1719,307.5 1719,303.5 1719,299.5 1719,295.5 1719,291.5 1719,287.5 1719,283.5 1719,279.5 1719,275.5 1719,271.5 1719,267.5 1719,263.5 1719,259.5 1719,255.5 1719,251.5 1719,247.5 1719,243.5 1719,239.5 1719,235.5 1719,232 1719,228 1719,224 1719,220 1719,216 1719,212 1719,208 1719,204 1719,200 1719,196 1719,192 1719,188 1719,184 1719,180 1719,176 1719,172 1719,168 1719,164 1719,160 1719,156 1719,152 1719,148 1719,144 1719,140 1719,136 1719,132 1719,128 1719,124 1719,120 1719,116 1719,112 1719,108 1719,104 1719,100 1715,100 1711,100 1707,100 1703,100 1699,100 1695,100 1691,100 1687,100 1683,100 1679,100 1675,100 1671,100 1667,100 1663,100 1659,100 1655,100 1651,100 1647,100 1643,100 1639,100 1635,100 1631,100 1627,100 1623,100 1619,100 1615,100 1611,100 1607,100 1603,100 1599,100 1595,100 1591,100 1587,100 1583,100 1579,100 1575,100 1571,100 1567,100 1563,100 1559,100 1555,100 1551,100 1547,100 1543,100 1539,100 1535,100 1531,100 1527,100 1523,100 1519,100 1515,100 1511,100 1507,100 1503,100 1499,100 1495,100 1491,100 1487,100 1483,100 1479,100 1475,100 1471,100 1467,100 1463,100 1459,100 1455,100 1451,100 1447,100 1443,100 1439,100 1435,100 1431,100 1427,100 1423,100 1421,100 1420,104 1419,108 1419,109.5 1418.5,112 1418.5,116 1418,120 1418,124 1418,128 1418,132 1418,136 1417.5,140 1417,144 1416.5,148 1416,152 1415,155 1414.5,156 1413.5,160 1412,164 1411,166 1410,168 1408.5,172 1407,174.5 1406.5,176 1404.5,180 1403,182.5 1402.5,184 1400.5,188 1399,191 1398.5,192 1397,196 1395,200 1393.5,204 1392,208 1391,211 1390.5,212 1389,216 1387.5,220 1387,221.5 1386,224 1385,228 1383.5,232 1383,233 1382,235.5 1381,239.5 1380.5,243.5 1379.5,247.5 1379,251.5 1378.5,255.5 1378.5,259.5 1378.5,263.5 1379,267.5 1379,269.5 1379,271.5 1380,275.5 1380.5,279.5 1381,283.5 1381.5,287.5 1382,291.5 1382.5,295.5 1383,299 1383,299.5 1384,303.5 1384.5,307.5 1385.5,311.5 1386.5,315.5 1387,319 1387,319.5 1388,323.5 1389,327.5 1390,331.5 1391,335 1391,335.5 1393,339.5 1395,343 1395.5,343.5 1399,347.5 1403,351 1403.5,351.5 1407,354.5 1408.5,355.5 1411,357.5 1413.5,359.5 1415,360.5 1418.5,363.5 1419,364 1422.5,367.5 1423,368.5 1426,371.5 1427,373.5 1428.5,375.5 1430.5,379.5 1431,382 1431.5,383.5 1431.5,387.5 1431,390 1431,391.5 1430.5,395.5 1430.5,399.5 1430.5,403.5 1431,406 1431,407.5 1431.5,411.5 1432,415.5 1432,419.5 1431.5,423.5 1431,424.5 1430,427.5 1428.5,431.5 1427,434.5 1426.5,435.5 1424,439.5 1423,441 1421.5,443.5 1419,447 1419,447.5 1416,451.5 1415,453 1413.5,455.5 1411,459 1411,459.5 1408,463.5 1407,465 1405.5,467.5 1403,470.5 1402.5,471.5 1400,475.5 1399,477.5 1398,479.5 1397,483.5 1397.5,487.5 1399,489 1401,491.5 1403,492.5 1407,494 1410.5,495.5 1411,495.5 1415,496.5 1419,497 1423,498 1427,498.5 1430,499 1431,499.5 1435,500 1439,501 1443,502 1447,503 1449,503 1451,503.5 1455,504 1459,504.5 1463,505 1467,505.5 1471,506 1475,506.5 1479,507 1481,507 1483,507.5 1487,508.5 1491,509.5 1495,510.5 1496.5,511 1499,512 1503,513 1507,514.5 1510,515 1511,515.5 1515,516.5 1519,517.5 1523,518 1527,519 1529,519 1531,519.5 1535,520 1539,521 1543,521.5 1547,522.5 1550,523 1551,523.5 1555,524.5 1559,525.5 1563,526.5 1565,527 1567,528 1571,529 1575,530 1579,531 1583,532 1587,533 1591,533 1595,533.5 1599,533.5 1603,534 1607,534 1611,534.5 1615,534.5 1619,535 1623,536 1627,537 1631,538 1635,539 1636.5,539 1639,540 1643,541 1647,542 1651,542.5 1654,543 1655,543.5Z"/>
<path fill="#a4d1a7" d="M1647,531.5 1651,532.5 1655,533 1659,533.5 1663,534 1667,534 1671,534 1675,534 1679,534 1683,533.5 1687,533.5 1691,533.5 1695,533.5 1699,533.5 1703,533.5 1707,533.5 1711,533.5 1715,533.5 1719,533 1719,531 1719,527 1719,523 1719,519 1719,515 1719,511 1719,507 1719,503 1719,499 1719,495.5 1719,491.5 1719,487.5 1719,483.5 1719,479.5 1719,475.5 1719,471.5 1719,467.5 1719,463.5 1719,459.5 1719,455.5 1719,451.5 1719,447.5 1719,443.5 1719,439.5 1719,435.5 1719,431.5 1719,427.5 1719,423.5 1719,419.5 1719,415.5 1719,411.5 1719,407.5 1719,403.5 1719,399.5 1719,395.5 1719,391.5 1719,387.5 1719,383.5 1719,379.5 1719,375.5 1719,371.5 1719,367.5 1719,363.5 1719,359.5 1719,355.5 1719,351.5 1719,347.5 1719,343.5 1719,339.5 1719,335.5 1719,331.5 1719,327.5 1719,323.5 1719,319.5 1719,315.5 1719,311.5 1719,307.5 1719,303.5 1719,299.5 1719,295.5 1719,291.5 1719,287.5 1719,283.5 1719,279.5 1719,275.5 1719,271.5 1719,267.5 1719,263.5 1719,259.5 1719,255.5 1719,251.5 1719,247.5 1719,243.5 1719,239.5 1719,235.5 1719,232 1719,228 1719,224 1719,220 1719,216 1719,212 1719,208 1719,204 1719,200 1719,196 1719,192 1719,188 1719,184 1719,180 1719,176 1719,172 1719,168 1719,164 1719,160 1719,156 1719,152 1719,148 1719,144 1719,140 1719,136 1719,132 1719,128 1719,124 1719,120 1719,116 1719,112 1719,108 1719,104 1719,100 1715,100 1711,100 1707,100 1703,100 1699,100 1695,100 1691,100 1687,100 1683,100 1679,100 1675,100 1671,100 1667,100 1663,100 1659,100 1655,100 1651,100 1647,100 1643,100 1639,100 1635,100 1631,100 1627,100 1623,100 1619,100 1615,100 1611,100 1607,100 1603,100 1599,100 1595,100 1591,100 1587,100 1583,100 1579,100 1575,100 1571,100 1567,100 1563,100 1559,100 1555,100 1551,100 1547,100 1543,100 1539,100 1535,100 1531,100 1527,100 1523,100 1519,100 1515,100 1511,100 1507,100 1503,100 1499,100 1495,100 1491,100 1487,100 1483,100 1479,100 1475,100 1471,100 1467,100 1463,100 1459,100 1455,100 1451,100 1447,100 1443,100 1440.5,100 1439,104 1439,104.5 1438.5,108 1437.5,112 1437.5,116 1437.5,120 1438,124 1439,127.5 1439,128 1441,132 1443,135.5 1443.5,136 1445.5,140 1446.5,144 1446.5,148 1445.5,152 1444.5,156 1443,160 1441.5,164 1440.5,168 1440,172 1439.5,176 1439.5,180 1439.5,184 1440,188 1441,192 1442,196 1443,200 1443.5,204 1444,208 1444.5,212 1444,216 1443,219.5 1443,220 1441.5,224 1440,228 1439,229.5 1438,232 1436,235.5 1435,237.5 1434,239.5 1432.5,243.5 1431,247.5 1429.5,251.5 1428.5,255.5 1428,259.5 1427.5,263.5 1427.5,267.5 1428,271.5 1428.5,275.5 1429,279.5 1429.5,283.5 1430,287.5 1430.5,291.5 1430.5,295.5 1430.5,299.5 1430,303.5 1429.5,307.5 1429,311.5 1428.5,315.5 1428,319.5 1428,323.5 1429,327.5 1430,331.5 1431,333.5 1432,335.5 1434.5,339.5 1435,340 1438,343.5 1439,344.5 1442.5,347.5 1443,348 1447,351 1448,351.5 1451,353.5 1455,355.5 1459,357.5 1462.5,359.5 1463,360 1467,362.5 1468.5,363.5 1471,365.5 1472.5,367.5 1475,371 1475.5,371.5 1477.5,375.5 1478.5,379.5 1479,380.5 1479.5,383.5 1480.5,387.5 1481,391.5 1481,395.5 1481.5,399.5 1482,403.5 1482.5,407.5 1483,409 1483.5,411.5 1485,415.5 1486.5,419.5 1487,422 1487.5,423.5 1488.5,427.5 1489,431.5 1489,435.5 1488,439.5 1487,442.5 1486.5,443.5 1485.5,447.5 1483.5,451.5 1483,453 1482,455.5 1480.5,459.5 1479.5,463.5 1479,464.5 1478.5,467.5 1478,471.5 1477.5,475.5 1478,479.5 1479,482 1479.5,483.5 1482.5,487.5 1483,488 1487,491 1487.5,491.5 1491,493.5 1494.5,495.5 1495,495.5 1499,497.5 1503,499 1503,499.5 1507,501 1511,502.5 1513.5,503 1515,503.5 1519,505 1523,506 1527,506.5 1530.5,507 1531,507.5 1535,508 1539,508.5 1543,509 1547,509.5 1551,510.5 1554.5,511 1555,511.5 1559,512.5 1563,513.5 1567,515 1567,515.5 1571,517 1575,518.5 1577.5,519 1579,520 1583,521 1587,522 1591,523 1594,523 1595,523.5 1599,524 1603,524 1607,524.5 1611,524.5 1615,525 1619,525.5 1623,526 1627,526.5 1629,527 1631,527.5 1635,528.5 1639,529.5 1643,530.5 1645.5,531 1647,531.5Z"/>
<path fill="#79c2a2" d="M1651,523.5 1655,524 1659,525 1663,525.5 1667,525.5 1671,525.5 1675,525.5 1679,525.5 1683,525.5 1687,525.5 1691,525.5 1695,525.5 1699,525.5 1703,525.5 1707,525.5 1711,525.5 1715,525.5 1719,525 1719,523 1719,519 1719,515 1719,511 1719,507 1719,503 1719,499 1719,495.5 1719,491.5 1719,487.5 1719,483.5 1719,479.5 1719,475.5 1719,471.5 1719,467.5 1719,463.5 1719,459.5 1719,455.5 1719,451.5 1719,447.5 1719,443.5 1719,439.5 1719,435.5 1719,431.5 1719,427.5 1719,423.5 1719,419.5 1719,415.5 1719,411.5 1719,407.5 1719,403.5 1719,399.5 1719,395.5 1719,391.5 1719,387.5 1719,383.5 1719,379.5 1719,375.5 1719,371.5 1719,367.5 1719,363.5 1719,359.5 1719,355.5 1719,351.5 1719,347.5 1719,343.5 1719,339.5 1719,335.5 1719,331.5 1719,327.5 1719,323.5 1719,319.5 1719,315.5 1719,311.5 1719,307.5 1719,303.5 1719,299.5 1719,295.5 1719,291.5 1719,287.5 1719,283.5 1719,279.5 1719,275.5 1719,271.5 1719,267.5 1719,263.5 1719,259.5 1719,255.5 1719,251.5 1719,247.5 1719,243.5 1719,239.5 1719,235.5 1719,232 1719,228 1719,224 1719,220 1719,216 1719,212 1719,208 1719,204 1719,200 1719,196 1719,192 1719,188 1719,184 1719,180 1719,176 1719,172 1719,168 1719,164 1719,160 1719,156 1719,152 1719,148 1719,144 1719,140 1719,136 1719,132 1719,128 1719,124 1719,120 1719,116 1719,112 1719,108 1719,104 1719,100 1715,100 1711,100 1707,100 1703,100 1699,100 1695,100 1691,100 1687,100 1683,100 1679,100 1675,100 1671,100 1667,100 1663,100 1659,100 1655,100 1651,100 1647,100 1643,100 1639,100 1635,100 1631,100 1627,100 1623,100 1619,100 1615,100 1611,100 1607,100 1603,100 1599,100 1595,100 1591,100 1587,100 1583,100 1579,100 1575,100 1571,100 1567,100 1566.5,100 1567,102 1567.5,104 1568,108 1569,112 1569.5,116 1570,120 1570.5,124 1571,128 1571,130.5 1571,132 1571.5,136 1571,140 1571,143 1571,144 1570.5,148 1569.5,152 1568.5,156 1567.5,160 1567,161 1566,164 1565,168 1563.5,172 1563,174.5 1562.5,176 1562,180 1561.5,184 1561.5,188 1562,192 1562.5,196 1563,197.5 1563.5,200 1564,204 1564.5,208 1565,212 1564.5,216 1564,220 1563.5,224 1563,225.5 1562.5,228 1561,232 1560,235.5 1559,239.5 1559,241.5 1558.5,243.5 1558.5,247.5 1559,251.5 1559,252.5 1559.5,255.5 1560.5,259.5 1561.5,263.5 1562.5,267.5 1563,270 1563.5,271.5 1564,275.5 1564.5,279.5 1564.5,283.5 1564.5,287.5 1564,291.5 1563,295.5 1563,296.5 1562,299.5 1561,303.5 1560,307.5 1559,311.5 1559,313 1558.5,315.5 1558.5,319.5 1559,323 1559,323.5 1559.5,327.5 1560,331.5 1561,335.5 1561.5,339.5 1562,343.5 1562.5,347.5 1563,351.5 1563,353 1563.5,355.5 1564,359.5 1564.5,363.5 1565.5,367.5 1566.5,371.5 1567,374.5 1567.5,375.5 1568,379.5 1569,383.5 1570,387.5 1570.5,391.5 1570.5,395.5 1570.5,399.5 1570,403.5 1569.5,407.5 1569,411.5 1568.5,415.5 1568,419.5 1568,423.5 1568,427.5 1568,431.5 1568.5,435.5 1569,439.5 1569.5,443.5 1570,447.5 1570,451.5 1570,455.5 1570,459.5 1570,463.5 1569.5,467.5 1569.5,471.5 1569.5,475.5 1570,479.5 1571,483.5 1571,484 1572,487.5 1573.5,491.5 1575,494.5 1575.5,495.5 1578,499 1579,500.5 1581,503 1583,505 1586,507 1587,508 1591,510 1594.5,511 1595,511.5 1599,512.5 1603,513 1607,514 1611,514.5 1615,515 1616,515 1619,515.5 1623,516.5 1627,517 1631,518 1635,519 1635.5,519 1639,520 1643,521.5 1647,522.5 1650,523 1651,523.5ZM1475,184 1479,185.5 1483,185.5 1486.5,184 1487,183.5 1490.5,180 1491,178.5 1492,176 1492,172 1491.5,168 1491,167.5 1488.5,164 1487,162.5 1483,161.5 1479,161.5 1475,163 1474,164 1471,167 1470.5,168 1469,172 1469,176 1470.5,180 1471,180.5 1474.5,184 1475,184Z"/>
<path fill="#4db6a4" d="M1663,516 1667,516.5 1671,516.5 1675,517 1679,517 1683,517 1687,517 1691,517 1695,517 1699,517 1703,517 1707,517 1711,517 1715,516.5 1719,516 1719,515 1719,511 1719,507 1719,503 1719,499 1719,495.5 1719,491.5 1719,487.5 1719,483.5 1719,479.5 1719,475.5 1719,471.5 1719,467.5 1719,463.5 1719,459.5 1719,455.5 1719,451.5 1719,447.5 1719,443.5 1719,439.5 1719,435.5 1719,431.5 1719,427.5 1719,423.5 1719,419.5 1719,415.5 1719,411.5 1719,407.5 1719,403.5 1719,399.5 1719,395.5 1719,391.5 1719,387.5 1719,383.5 1719,379.5 1719,375.5 1719,371.5 1719,367.5 1719,363.5 1719,359.5 1719,355.5 1719,351.5 1719,347.5 1719,343.5 1719,339.5 1719,335.5 1719,331.5 1719,327.5 1719,323.5 1719,319.5 1719,315.5 1719,311.5 1719,307.5 1719,303.5 1719,299.5 1719,295.5 1719,291.5 1719,287.5 1719,283.5 1719,279.5 1719,275.5 1719,271.5 1719,267.5 1719,263.5 1719,259.5 1719,255.5 1719,251.5 1719,247.5 1719,243.5 1719,239.5 1719,235.5 1719,232 1719,228 1719,224 1719,220 1719,216 1719,212 1719,208 1719,204 1719,200 1719,196 1719,192 1719,188 1719,184 1719,180 1719,176 1719,172 1719,168 1719,164 1719,160 1719,156 1719,152 1719,148 1719,144 1719,140 1719,136 1719,132 1719,128 1719,124 1719,120 1719,116 1719,112 1719,108 1719,104 1719,100 1715,100 1711,100 1707,100 1703,100 1699,100 1695,100 1691,100 1687,100 1683,100 1679,100 1675,100 1671,100 1667,100 1663,100 1659,100 1655,100 1651,100 1647,100 1643,100 1640,100 1639,101.5 1637,104 1635,106.5 1634,108 1631,111 1630,112 1627,115 1626,116 1623,119 1622,120 1619,123.5 1618.5,124 1615,128 1612,132 1611,133.5 1609.5,136 1607.5,140 1607,141.5 1606,144 1605,148 1603.5,152 1603,155 1603,156 1602,160 1601,164 1600,168 1599.5,172 1599,174 1598.5,176 1598,180 1598,184 1598,188 1597.5,192 1597.5,196 1597.5,200 1597,204 1597,208 1596.5,212 1596,216 1596,220 1595.5,224 1595.5,228 1595.5,232 1595.5,235.5 1595.5,239.5 1596,243.5 1596,247.5 1596,251.5 1596.5,255.5 1596.5,259.5 1597,263.5 1597.5,267.5 1598,271.5 1598.5,275.5 1598.5,279.5 1599,283.5 1599,287 1599,287.5 1599,291.5 1599,295.5 1599,299.5 1599,303.5 1599,307.5 1599.5,311.5 1599.5,315.5 1600,319.5 1600.5,323.5 1601.5,327.5 1602.5,331.5 1603,334 1603.5,335.5 1604.5,339.5 1605.5,343.5 1606,347.5 1606.5,351.5 1607,355.5 1607,359.5 1606.5,363.5 1605.5,367.5 1605,371.5 1604,375.5 1603.5,379.5 1603,381 1602.5,383.5 1602,387.5 1601,391.5 1600.5,395.5 1600,399.5 1599,403.5 1599,404.5 1598.5,407.5 1598,411.5 1597.5,415.5 1596.5,419.5 1596,423.5 1596,427.5 1595.5,431.5 1595.5,435.5 1595.5,439.5 1595.5,443.5 1596,447.5 1596.5,451.5 1597,455.5 1598,459.5 1599,462.5 1599.5,463.5 1600.5,467.5 1602,471.5 1603,473.5 1603.5,475.5 1605.5,479.5 1607,483 1607,483.5 1609.5,487.5 1611,489.5 1612.5,491.5 1615,494 1616.5,495.5 1619,497 1622.5,499 1623,499.5 1627,501.5 1630,503 1631,503.5 1635,505.5 1638.5,507 1639,507.5 1643,509 1647,511 1647.5,511 1651,512.5 1655,514 1659,515 1659.5,515 1663,516Z"/>
<path fill="#04aaac" d="M1675,503.5 1679,504 1683,504.5 1687,504.5 1691,504.5 1695,504.5 1699,504 1703,504 1707,503 1711,502 1715,500.5 1718,499 1719,498.5 1719,495.5 1719,491.5 1719,487.5 1719,483.5 1719,479.5 1719,475.5 1719,471.5 1719,467.5 1719,463.5 1719,459.5 1719,455.5 1719,451.5 1719,447.5 1719,443.5 1719,439.5 1719,435.5 1719,431.5 1719,427.5 1719,423.5 1719,419.5 1719,415.5 1719,411.5 1719,407.5 1719,403.5 1719,399.5 1719,395.5 1719,391.5 1719,387.5 1719,383.5 1719,379.5 1719,375.5 1719,371.5 1719,367.5 1719,363.5 1719,359.5 1719,355.5 1719,351.5 1719,347.5 1719,343.5 1719,339.5 1719,335.5 1719,331.5 1719,327.5 1719,323.5 1719,319.5 1719,315.5 1719,311.5 1719,307.5 1719,303.5 1719,299.5 1719,295.5 1719,291.5 1719,287.5 1719,283.5 1719,279.5 1719,275.5 1719,271.5 1719,267.5 1719,263.5 1719,259.5 1719,255.5 1719,251.5 1719,247.5 1719,243.5 1719,239.5 1719,235.5 1719,232 1719,228 1719,224 1719,220 1719,216 1719,212 1719,208 1719,204 1719,200 1719,196 1719,192 1719,188 1719,184 1719,180 1719,176 1719,172 1719,168 1719,164 1719,160 1719,156 1719,152 1719,148 1719,144 1719,140 1719,136 1719,132 1719,128 1719,124 1719,120 1719,116 1719,112 1719,108 1715,105 1713.5,104 1711,102.5 1707,100.5 1705.5,100 1703,100 1699,100 1695,100 1691,100 1687,100 1683,100 1679,100 1675,100 1671,100 1669,100 1667,101 1663,104 1659,107 1658,108 1655,111 1654,112 1651,115 1650,116 1647,119 1646.5,120 1643,124 1639.5,128 1639,129 1636.5,132 1635,134.5 1634,136 1631.5,140 1631,141 1629.5,144 1628,148 1627,150 1626.5,152 1625,156 1624,160 1623,164 1623,165.5 1622.5,168 1622,172 1621.5,176 1621,180 1620.5,184 1620,188 1620,192 1619.5,196 1619,200 1619,203 1619,204 1619,208 1619,212 1619,213 1619,216 1619.5,220 1620,224 1621,228 1621.5,232 1622,235.5 1622,239.5 1622,243.5 1622,247.5 1622,251.5 1621.5,255.5 1621,259.5 1621,263.5 1620.5,267.5 1620,271.5 1619.5,275.5 1619.5,279.5 1619,283 1619,283.5 1618.5,287.5 1618,291.5 1618,295.5 1617.5,299.5 1617.5,303.5 1617.5,307.5 1618,311.5 1618.5,315.5 1619,319.5 1619,320 1619.5,323.5 1620.5,327.5 1621.5,331.5 1622.5,335.5 1623,339 1623,339.5 1623.5,343.5 1624,347.5 1624.5,351.5 1624.5,355.5 1624,359.5 1624,363.5 1623.5,367.5 1623,369.5 1622.5,371.5 1622,375.5 1621,379.5 1620.5,383.5 1619.5,387.5 1619,391.5 1618.5,395.5 1618,399.5 1618,403.5 1618,407.5 1618.5,411.5 1619,415.5 1619,416.5 1619.5,419.5 1620,423.5 1621,427.5 1621.5,431.5 1622.5,435.5 1623,438 1623,439.5 1624,443.5 1624.5,447.5 1625,451.5 1626,455.5 1627,459.5 1628,463.5 1629.5,467.5 1631,471 1631,471.5 1633.5,475.5 1635,478 1636,479.5 1639,482.5 1640,483.5 1643,486 1644.5,487.5 1647,489.5 1649.5,491.5 1651,492.5 1655,495 1655.5,495.5 1659,497.5 1662,499 1663,499.5 1667,501.5 1671,502.5 1674,503 1675,503.5Z"/>
<path fill="#0696b3" d="M1679,483.5 1683,484.5 1687,485 1691,484.5 1695,484 1699,483.5 1699,483 1703,481.5 1707,479.5 1711,476 1711.5,475.5 1715,471.5 1718,467.5 1719,466 1719,463.5 1719,459.5 1719,455.5 1719,451.5 1719,447.5 1719,443.5 1719,439.5 1719,435.5 1719,431.5 1719,427.5 1719,423.5 1719,419.5 1719,415.5 1719,411.5 1719,407.5 1719,403.5 1719,399.5 1719,395.5 1719,391.5 1719,387.5 1719,383.5 1719,379.5 1719,375.5 1719,371.5 1719,367.5 1719,363.5 1719,359.5 1719,355.5 1719,351.5 1719,347.5 1719,343.5 1719,339.5 1719,335.5 1719,331.5 1719,327.5 1719,323.5 1719,319.5 1719,315.5 1719,311.5 1719,307.5 1719,303.5 1719,299.5 1719,295.5 1719,291.5 1719,287.5 1719,283.5 1719,279.5 1719,275.5 1719,271.5 1719,267.5 1719,263.5 1719,259.5 1719,255.5 1719,251.5 1719,247.5 1719,243.5 1719,239.5 1719,235.5 1719,232 1719,228 1719,224 1719,220 1719,216 1719,212 1719,208 1719,204 1719,200 1719,196 1719,192 1719,188 1719,184 1719,180 1719,176 1719,172 1719,168 1719,164 1719,160 1719,156 1719,152 1719,149 1718.5,148 1717,144 1715,140 1715,139.5 1713,136 1711,133 1710,132 1707,128 1703,124.5 1702.5,124 1699,121.5 1695.5,120 1695,119.5 1691,118.5 1687,117.5 1683,117 1679,117.5 1675,118.5 1671,120 1667,122 1664.5,124 1663,125 1659.5,128 1659,128.5 1656,132 1655,133.5 1653,136 1651,139 1650.5,140 1648,144 1647,146.5 1646,148 1644.5,152 1643,155.5 1642.5,156 1641.5,160 1640,164 1639,168 1639,169 1638.5,172 1638,176 1637,180 1636.5,184 1636.5,188 1636,192 1636,196 1635.5,200 1635.5,204 1635.5,208 1636,212 1636,216 1636.5,220 1637,224 1637.5,228 1638,232 1638,235.5 1638,239.5 1638,243.5 1638,247.5 1637.5,251.5 1637.5,255.5 1637,259.5 1636.5,263.5 1636.5,267.5 1636,271.5 1635.5,275.5 1635,278.5 1635,279.5 1634.5,283.5 1634,287.5 1633.5,291.5 1633,295.5 1632.5,299.5 1632.5,303.5 1632.5,307.5 1632.5,311.5 1632.5,315.5 1633,319.5 1633.5,323.5 1634,327.5 1635,331.5 1635,333.5 1635.5,335.5 1635.5,339.5 1636,343.5 1636.5,347.5 1636.5,351.5 1636.5,355.5 1636,359.5 1636,363.5 1635.5,367.5 1635,371.5 1634.5,375.5 1634,379.5 1633.5,383.5 1633.5,387.5 1633.5,391.5 1633.5,395.5 1633.5,399.5 1634,403.5 1635,407.5 1636,411.5 1637,415.5 1638,419.5 1639,423.5 1639,424.5 1639.5,427.5 1640.5,431.5 1641,435.5 1641.5,439.5 1642,443.5 1643,447.5 1644,451.5 1645,455.5 1646.5,459.5 1647,460 1649,463.5 1651,466.5 1651.5,467.5 1655,471 1655.5,471.5 1659,474 1660.5,475.5 1663,477 1667,479 1667.5,479.5 1671,481 1675,482.5 1677.5,483.5 1679,483.5Z"/>
<path fill="#0080c0" d="M1679,463.5 1683,464.5 1687,464.5 1691,464 1693.5,463.5 1695,463 1699,461 1702,459.5 1703,458.5 1706.5,455.5 1707,455 1710.5,451.5 1711,451 1714,447.5 1715,446 1717,443.5 1719,440 1719,439.5 1719,435.5 1719,431.5 1719,427.5 1719,423.5 1719,419.5 1719,415.5 1719,411.5 1719,407.5 1719,403.5 1719,399.5 1719,395.5 1719,391.5 1719,387.5 1719,383.5 1719,379.5 1719,375.5 1719,371.5 1719,367.5 1719,363.5 1719,359.5 1719,355.5 1719,351.5 1719,347.5 1719,343.5 1719,339.5 1719,335.5 1719,331.5 1719,327.5 1719,323.5 1719,319.5 1719,315.5 1719,311.5 1719,307.5 1719,303.5 1719,299.5 1719,295.5 1719,291.5 1719,287.5 1719,283.5 1719,279.5 1719,275.5 1719,271.5 1719,267.5 1719,263.5 1719,259.5 1719,255.5 1719,251.5 1719,247.5 1719,243.5 1719,239.5 1719,235.5 1719,232 1719,228 1719,224 1719,220 1719,216 1719,212 1719,208 1719,204 1719,200 1719,196 1719,192 1719,188 1719,187.5 1717,184 1715,180 1715,179.5 1713.5,176 1711.5,172 1711,171 1709.5,168 1707.5,164 1707,162.5 1705.5,160 1703,156 1703,155.5 1700.5,152 1699,150 1697,148 1695,146 1692,144 1691,143 1687,141.5 1683,141 1679,141 1675,142.5 1672.5,144 1671,145 1668,148 1667,149 1665,152 1663,154.5 1662.5,156 1660,160 1659,162.5 1658.5,164 1657,168 1655.5,172 1655,174 1654.5,176 1653.5,180 1653,184 1652.5,188 1652,192 1651.5,196 1651,199 1651,200 1650.5,204 1650.5,208 1650.5,212 1650.5,216 1650.5,220 1650.5,224 1650.5,228 1650.5,232 1650,235.5 1650,239.5 1650,243.5 1650,247.5 1649.5,251.5 1649.5,255.5 1649,259.5 1649,263.5 1648.5,267.5 1648,271.5 1647.5,275.5 1647,279.5 1647,281.5 1646.5,283.5 1646,287.5 1646,291.5 1645.5,295.5 1645,299.5 1645,303.5 1645,307.5 1645,311.5 1645,315.5 1645,319.5 1645.5,323.5 1645.5,327.5 1646,331.5 1646.5,335.5 1646.5,339.5 1647,343.5 1647,344 1647,347.5 1647.5,351.5 1647.5,355.5 1647,359.5 1647,362 1647,363.5 1646.5,367.5 1646.5,371.5 1646,375.5 1646,379.5 1646,383.5 1646,387.5 1646.5,391.5 1647,394.5 1647,395.5 1648,399.5 1649,403.5 1650,407.5 1651,410.5 1651.5,411.5 1652.5,415.5 1653.5,419.5 1654.5,423.5 1655,426 1655.5,427.5 1656,431.5 1657,435.5 1657.5,439.5 1659,443.5 1659,444 1660.5,447.5 1662.5,451.5 1663,452.5 1665.5,455.5 1667,457 1670,459.5 1671,460 1675,462 1678.5,463.5 1679,463.5Z"/>
<path fill="#2062ae" d="M1683,440.5 1687,441.5 1691,441.5 1695,440.5 1697.5,439.5 1699,438.5 1703,435.5 1707,431.5 1710,427.5 1711,425.5 1712,423.5 1714,419.5 1715,416.5 1715.5,415.5 1716,411.5 1717,407.5 1717,403.5 1717.5,399.5 1717.5,395.5 1717,391.5 1717,387.5 1716.5,383.5 1716.5,379.5 1716.5,375.5 1717,371.5 1717,367.5 1717.5,363.5 1718,359.5 1719,355.5 1719,354.5 1719,351.5 1719,347.5 1719,343.5 1719,339.5 1719,335.5 1719,331.5 1719,327.5 1719,323.5 1719,319.5 1719,315.5 1719,311.5 1719,307.5 1719,303.5 1719,299.5 1719,295.5 1719,291.5 1719,287.5 1719,283.5 1719,279.5 1719,275.5 1719,271.5 1719,267.5 1719,263.5 1719,259.5 1719,255.5 1719,251.5 1719,247.5 1719,243.5 1719,239.5 1719,235.5 1719,232 1719,228 1719,224 1719,223.5 1718.5,220 1717.5,216 1716,212 1715,209.5 1714.5,208 1712,204 1711,201.5 1710,200 1707.5,196 1707,195 1705,192 1703,188.5 1702.5,188 1699.5,184 1699,183 1696.5,180 1695,178.5 1692,176 1691,175 1687,173.5 1683,173 1679,175 1678,176 1675,179.5 1675,180 1672.5,184 1671,188 1670,192 1668.5,196 1668,200 1667,204 1666.5,208 1665.5,212 1665,216 1664.5,220 1664,224 1663,228 1663,229 1662.5,232 1662,235.5 1661.5,239.5 1661.5,243.5 1661,247.5 1661,251.5 1660.5,255.5 1660.5,259.5 1660,263.5 1660,267.5 1659.5,271.5 1659,275.5 1659,276 1658.5,279.5 1658,283.5 1658,287.5 1657.5,291.5 1657,295.5 1657,299.5 1656.5,303.5 1656.5,307.5 1656.5,311.5 1656.5,315.5 1656.5,319.5 1656.5,323.5 1657,327.5 1657,331.5 1657.5,335.5 1658,339.5 1658,343.5 1658.5,347.5 1658.5,351.5 1658.5,355.5 1658.5,359.5 1658.5,363.5 1658.5,367.5 1658.5,371.5 1658.5,375.5 1658.5,379.5 1658.5,383.5 1659,387.5 1659.5,391.5 1660.5,395.5 1662,399.5 1663,402.5 1663,403.5 1664.5,407.5 1666.5,411.5 1667,413.5 1668,415.5 1669.5,419.5 1671,423.5 1672.5,427.5 1674.5,431.5 1675,432.5 1677,435.5 1679,437.5 1681.5,439.5 1683,440.5Z"/>
<path fill="#2c539f" d="M1691,408 1693,407.5 1695,406.5 1698,403.5 1699,401.5 1699.5,399.5 1700.5,395.5 1701,391.5 1701.5,387.5 1701.5,383.5 1701.5,379.5 1701.5,375.5 1702,371.5 1702.5,367.5 1703,363.5 1703.5,359.5 1704.5,355.5 1705,351.5 1706,347.5 1706.5,343.5 1707,339.5 1707,335.5 1707.5,331.5 1707,327.5 1707,324.5 1707,323.5 1706.5,319.5 1706,315.5 1706,311.5 1706,307.5 1706,303.5 1706.5,299.5 1707,296.5 1707,295.5 1707.5,291.5 1708,287.5 1708,283.5 1708,279.5 1708,275.5 1707.5,271.5 1707,269 1706.5,267.5 1706,263.5 1705,259.5 1704.5,255.5 1704,251.5 1703.5,247.5 1703.5,243.5 1703,240.5 1703,239.5 1702.5,235.5 1701.5,232 1700,228 1699,225.5 1697.5,224 1695,221.5 1691,221 1687,223.5 1686.5,224 1683,228 1681,232 1679,235.5 1677.5,239.5 1676.5,243.5 1675.5,247.5 1675,251.5 1674.5,255.5 1674,259.5 1674,263.5 1673.5,267.5 1673,271.5 1672.5,275.5 1672,279.5 1671.5,283.5 1671.5,287.5 1671,291.5 1671,295 1671,295.5 1671,299.5 1671,303.5 1671,307.5 1671,311.5 1671,315.5 1671,319.5 1671,323.5 1671.5,327.5 1671.5,331.5 1671.5,335.5 1672,339.5 1672.5,343.5 1672.5,347.5 1673,351.5 1673.5,355.5 1673.5,359.5 1673.5,363.5 1673.5,367.5 1674,371.5 1674,375.5 1674,379.5 1674.5,383.5 1675,386.5 1675,387.5 1676.5,391.5 1678,395.5 1679,397.5 1680.5,399.5 1683,403.5 1687,406.5 1689.5,407.5 1691,408Z"/>
</g>
<g clip-path="url(#cp10)" shape-rendering="geometricPrecision">
<path fill="#fef2d9" d="M159,1159 163,1161 167,1162 170.5,1163 171,1163 175,1163 179,1163 183,1163 187,1163 191,1163 195,1163 199,1163 203,1163 207,1163 211,1163 215,1163 217,1163 219,1162.5 223,1161.5 227,1160.5 231,1159 231.5,1159 235,1158 239,1156.5 242.5,1155 243,1155 247,1153.5 251,1152 253.5,1151 255,1150.5 259,1149 263,1148 266,1147 267,1146.5 271,1145.5 275,1145 279,1144 283,1143 284,1143 287,1142.5 291,1142 295,1141.5 299,1141.5 303,1141 307,1141 311,1140.5 315,1140.5 319,1140 323,1140 327,1140 331,1140 335,1140 339,1139.5 343,1139.5 347,1139.5 351,1139.5 355,1139.5 359,1139 363,1139 364.5,1139 367,1139 371,1139 375,1138.5 379,1138.5 383,1138 387,1138 391,1138 395,1137.5 399,1137.5 403,1137 407,1136.5 411,1136.5 415,1136 419,1135.5 423,1135.5 425.5,1135 427,1135 431,1134.5 435,1134 439,1134 443,1133.5 447,1133 451,1132.5 455,1132 459,1132 463,1131.5 467,1131 471,1130.5 475,1130.5 479,1130 483,1129.5 487,1129.5 491,1129 495,1128.5 499,1128.5 503,1128 507,1127.5 511,1127.5 515,1127 515.5,1127 519,1127 523,1126.5 527,1126.5 531,1126 535,1126 539,1125.5 543,1125.5 547,1125 551,1125 555,1125 559,1124.5 563,1124.5 567,1124.5 571,1124 575,1124 579,1124 583,1123.5 587,1123.5 591,1123.5 595,1123.5 599,1123 603,1123 605,1123 607,1123 611,1123 615,1123 619,1122.5 623,1122.5 627,1122.5 631,1122.5 635,1122.5 639,1122.5 643,1122.5 647,1122.5 651,1122 655,1122 655,1119 655,1115 655,1111 655,1107 655,1103 655,1099 655,1095 655,1091 655,1087 655,1083 655,1079 655,1075 655,1071 654,1071 651,1071 647,1071 643,1071 639,1070.5 635,1070.5 631,1070.5 627,1070.5 623,1070.5 619,1070 615,1070 611,1070 607,1069.5 603,1069.5 599,1069.5 595,1069 591,1069 587,1069 583,1068.5 579,1068.5 575,1068 571,1068 567,1067.5 563,1067.5 559,1067 556.5,1067 555,1067 551,1066.5 547,1066 543,1066 539,1065.5 535,1065 531,1064.5 527,1064.5 523,1064 519,1063.5 515,1063 514.5,1063 511,1062.5 507,1062 503,1061.5 499,1061 495,1060.5 491,1060 487,1059.5 484,1059 483,1059 479,1058 475,1057.5 471,1057 467,1056.5 463,1055.5 459,1055 458.5,1055 455,1054.5 451,1053.5 447,1053 443,1052.5 439,1052 435,1051 433.5,1051 431,1050.5 427,1050 423,1049.5 419,1048.5 415,1048 411,1047.5 407,1047 405,1047 403,1046.5 399,1046 395,1046 391,1045.5 387,1045 383,1044.5 379,1044.5 375,1044 371,1044 367,1043.5 363,1043.5 359,1043 355,1043 352.5,1043 351,1043 347,1043 343,1042.5 339,1042.5 335,1042.5 331,1042.5 327,1042.5 323,1042.5 319,1042 315,1042 311,1042 307,1041.5 303,1041.5 299,1041 295,1040.5 291,1040 287,1039.5 283,1039 279,1038 275,1037 271,1036 267,1035 266.5,1035 263,1034 259,1032.5 255,1031.5 253.5,1031 251,1030.5 247,1029 243,1028 239.5,1027 239,1027 235,1026 231,1025 227,1024 223,1023.5 220,1023 219,1023 215,1022.5 211,1022 207,1022 203,1021.5 199,1022 195,1022 191,1022.5 187,1023 183,1023.5 179,1024.5 175,1025.5 171,1026.5 169.5,1027 167,1027.5 163,1029 159,1031 155,1032.5 151,1035 147,1037 144,1039 143,1039.5 139,1042.5 138.5,1043 135,1045.5 133.5,1047 131,1049 129,1051 127,1053 125,1055 123,1057 123,1059 123,1063 123,1067 123,1071 123,1075 123,1079 123,1083 123,1087 123,1091 123,1095 123,1099 123,1103 123,1107 123,1111 123,1115 123,1119 123,1123 123,1127 123,1131 123,1133 125,1135 127,1137 129,1139 131,1141 133,1143 135,1144.5 138,1147 139,1147.5 143,1150.5 143.5,1151 147,1153 150,1155 151,1155.5 155,1157.5 158.5,1159 159,1159Z"/>
<path fill="#fedc9b" d="M175,1148 179,1149 183,1149.5 187,1150 191,1150.5 195,1150.5 199,1150 203,1149.5 207,1149 211,1148 214,1147 215,1146.5 219,1145.5 223,1144 225,1143 227,1142.5 231,1140.5 234,1139 235,1138.5 239,1136.5 242,1135 243,1134.5 247,1132.5 250.5,1131 251,1130.5 255,1129 259,1127.5 260,1127 263,1126 267,1125 271,1124 274.5,1123 275,1123 279,1122 283,1121.5 287,1121 291,1120.5 295,1120 299,1120 303,1119.5 307,1119.5 311,1119 315,1119 317,1119 319,1119 323,1119 327,1118.5 331,1118.5 335,1118.5 339,1118.5 343,1118 347,1118 351,1118 355,1117.5 359,1117.5 363,1117.5 367,1117 371,1117 375,1116.5 379,1116 383,1116 387,1115.5 391,1115 395,1114.5 399,1114 403,1113.5 407,1113 411,1112 415,1111.5 418.5,1111 419,1111 423,1110 427,1109 431,1108.5 435,1107.5 437,1107 439,1106.5 443,1105 447,1104 450.5,1103 451,1102.5 455,1100.5 458.5,1099 459,1097.5 460.5,1095 459,1093.5 456.5,1091 455,1090.5 451,1088.5 447.5,1087 447,1087 443,1085.5 439,1084.5 435,1083.5 434,1083 431,1082.5 427,1081.5 423,1080.5 419,1079.5 416,1079 415,1079 411,1078 407,1077.5 403,1077 399,1076 395,1075.5 391,1075 389.5,1075 387,1074.5 383,1074.5 379,1074 375,1073.5 371,1073 367,1073 363,1072.5 359,1072.5 355,1072 351,1072 347,1072 343,1071.5 339,1071.5 335,1071.5 331,1071.5 327,1071 323,1071 319,1071 318.5,1071 315,1071 311,1070.5 307,1070.5 303,1070.5 299,1070 295,1069.5 291,1069 287,1068.5 283,1068 279,1067.5 277.5,1067 275,1066.5 271,1065.5 267,1064 264,1063 263,1062.5 259,1061 255,1059.5 254.5,1059 251,1057.5 247,1055.5 246.5,1055 243,1053.5 239,1051.5 238,1051 235,1049.5 231,1048 228.5,1047 227,1046.5 223,1045 219,1044 215,1043.5 213,1043 211,1042.5 207,1042 203,1042 199,1042 195,1042 191,1042.5 188,1043 187,1043 183,1044 179,1045 175,1046.5 173.5,1047 171,1048 167,1049.5 164.5,1051 163,1052 159,1054.5 158,1055 155,1057 152.5,1059 151,1060.5 148,1063 147,1064 144.5,1067 143,1068.5 141,1071 139,1074 138,1075 136,1079 135,1081 134,1083 132.5,1087 131.5,1091 131,1095 131,1099 131.5,1103 132.5,1107 133.5,1111 135,1114.5 135.5,1115 137,1119 139,1121.5 140,1123 143,1127 146.5,1131 147,1131.5 150.5,1135 151,1135.5 155,1138.5 155.5,1139 159,1141 162.5,1143 163,1143.5 167,1145.5 171,1147 172,1147 175,1148Z"/>
<path fill="#f9c285" d="M175,1139.5 179,1141 183,1141.5 187,1142 191,1142.5 195,1142.5 199,1142 203,1141.5 207,1141 211,1139.5 213,1139 215,1138.5 219,1137 223,1135 227,1133 230.5,1131 231,1130.5 235,1128.5 237,1127 239,1125.5 243,1123 247,1120.5 249.5,1119 251,1118 255,1115.5 255.5,1115 259,1113 262.5,1111 263,1111 267,1108.5 270.5,1107 271,1107 275,1105 279,1103 279.5,1103 283,1101 287,1099.5 288,1099 290.5,1095 287,1092 286,1091 283,1090 279,1088 277.5,1087 275,1086 271,1084 269.5,1083 267,1082 263,1079.5 262.5,1079 259,1077 256,1075 255,1074.5 251,1071.5 250,1071 247,1069 244.5,1067 243,1066 239,1063.5 238,1063 235,1061 231,1059 227,1057 223,1055.5 222,1055 219,1054 215,1053 211,1052 207,1051.5 203,1051 199,1051 195,1051 191,1051.5 187,1052 183,1053 179,1054.5 177.5,1055 175,1056 171,1058 169,1059 167,1060 163,1063 159,1066 158,1067 155,1070 154,1071 151,1074.5 150.5,1075 148,1079 147,1081 146,1083 144,1087 143,1091 143,1092 142.5,1095 142.5,1099 142.5,1103 143,1105 143.5,1107 144.5,1111 146,1115 147,1116.5 148.5,1119 151,1122.5 151,1123 154.5,1127 155,1127.5 159,1131 163,1134 165,1135 167,1136.5 171,1138 173,1139 175,1139.5Z"/>
<path fill="#f4a474" d="M183,1136 187,1136.5 191,1137 195,1137 199,1136.5 203,1136 206.5,1135 207,1135 211,1133.5 215,1132 217.5,1131 219,1130.5 223,1128.5 225,1127 227,1126 231,1123 235,1120 236.5,1119 239,1116.5 241,1115 243,1113 245,1111 247,1108.5 248.5,1107 251,1103 253,1099 253.5,1095 252.5,1091 251,1087.5 251,1087 248.5,1083 247,1081.5 245,1079 243,1077 241,1075 239,1073.5 236.5,1071 235,1070 231,1067 230.5,1067 227,1064.5 223.5,1063 223,1062.5 219,1061 215,1059.5 213,1059 211,1058.5 207,1057.5 203,1057.5 199,1057 195,1057.5 191,1058 187,1058.5 185.5,1059 183,1059.5 179,1061 175,1063 171,1065 168,1067 167,1068 163,1071 159.5,1075 159,1075.5 156,1079 155,1081 153.5,1083 152,1087 151,1090 150.5,1091 150,1095 149.5,1099 150,1103 150.5,1107 151,1108 152,1111 154,1115 155,1117 156.5,1119 159,1122.5 159.5,1123 163,1126.5 164,1127 167,1129.5 170,1131 171,1131.5 175,1133.5 179,1135 179.5,1135 183,1136Z"/>
<path fill="#f08966" d="M183,1131 187,1132 191,1132 195,1132 199,1132 203,1131 203.5,1131 207,1130 211,1129 215,1127 219,1125 222,1123 223,1122.5 227,1119.5 227.5,1119 231,1116 232,1115 235,1111.5 235.5,1111 238.5,1107 239,1106 240.5,1103 242,1099 242.5,1095 242,1091 240.5,1087 239,1084.5 238.5,1083 235.5,1079 235,1078.5 231.5,1075 231,1074.5 227,1071.5 226.5,1071 223,1069 219.5,1067 219,1066.5 215,1065 211,1064 207.5,1063 207,1063 203,1062.5 199,1062 195,1062.5 191,1063 190,1063 187,1063.5 183,1065 179,1066.5 178,1067 175,1068.5 171.5,1071 171,1071 167,1074.5 166.5,1075 163,1079 160,1083 159,1085 158,1087 156.5,1091 155.5,1095 155.5,1099 155.5,1103 156.5,1107 158,1111 159,1113 160,1115 163,1119 167,1123 171,1126 172.5,1127 175,1128.5 179,1130 183,1131Z"/>
<path fill="#ec6c5b" d="M187,1127.5 191,1128 195,1128 199,1127.5 203,1127 207,1126 211,1124.5 213.5,1123 215,1122.5 219,1120 220,1119 223,1116.5 225,1115 227,1113 228.5,1111 231,1107.5 231.5,1107 233.5,1103 234.5,1099 235,1095.5 235,1095 235,1094.5 234.5,1091 233.5,1087 231,1083 228,1079 227,1078 223.5,1075 223,1074.5 219,1072 217,1071 215,1070 211,1068.5 207,1067.5 204.5,1067 203,1067 199,1066.5 195,1066.5 192.5,1067 191,1067 187,1068 183,1069.5 179.5,1071 179,1071.5 175,1073.5 173.5,1075 171,1077 169,1079 167,1081 165.5,1083 163.5,1087 163,1087.5 161.5,1091 160.5,1095 160.5,1099 160.5,1103 161.5,1107 163,1110.5 163,1111 165.5,1115 167,1116.5 169,1119 171,1120.5 174.5,1123 175,1123.5 179,1125.5 183,1126.5 184,1127 187,1127.5Z"/>
<path fill="#de4e50" d="M187,1123.5 191,1124 195,1124.5 199,1124 203,1123 207,1122 211,1120 213,1119 215,1117.5 218.5,1115 219,1114.5 222.5,1111 223,1110.5 225.5,1107 227,1104.5 227.5,1103 229,1099 229,1095 228.5,1091 227,1087 227,1086.5 224.5,1083 223,1081 221,1079 219,1077.5 215.5,1075 215,1075 211,1073 207,1071.5 204,1071 203,1071 199,1070.5 195,1070.5 192.5,1071 191,1071 187,1072 183,1074 180.5,1075 179,1076 175,1079 171,1083 168,1087 167,1089.5 166.5,1091 165.5,1095 165,1099 165,1103 166.5,1107 167,1108.5 168,1111 171,1114.5 171,1115 175,1118.5 176,1119 179,1121 183,1122.5 184.5,1123 187,1123.5Z"/>
<path fill="#cf2b4b" d="M187,1120 191,1120.5 195,1120.5 199,1120 203,1119 203.5,1119 207,1117.5 211,1115.5 212,1115 215,1112.5 217,1111 219,1108.5 220.5,1107 222.5,1103 223,1101.5 223.5,1099 224,1095 223.5,1091 223,1090.5 221.5,1087 219,1083.5 218.5,1083 215,1080 214,1079 211,1077.5 207,1076 204,1075 203,1075 199,1074.5 195,1074.5 191.5,1075 191,1075 187,1076.5 183,1078 181.5,1079 179,1080.5 176.5,1083 175,1084.5 173,1087 171,1091 169.5,1095 169.5,1099 169.5,1103 171,1107 173.5,1111 175,1113 177.5,1115 179,1116.5 183,1118.5 184.5,1119 187,1120Z"/>
<path fill="#c01545" d="M187,1115.5 191,1116.5 195,1116.5 199,1116.5 203,1115.5 203.5,1115 207,1113.5 211,1111 215,1107 217.5,1103 218.5,1099 219,1095 218,1091 216,1087 215,1086 212,1083 211,1082.5 207,1080 203.5,1079 203,1079 199,1078.5 195,1078.5 191.5,1079 191,1079 187,1080.5 183,1082.5 182.5,1083 179,1086 178,1087 175.5,1091 175,1092.5 174,1095 173.5,1099 174,1103 175,1105 176,1107 179,1111 183,1114 185.5,1115 187,1115.5Z"/>
<path fill="#b11547" d="M187,1111 191,1112.5 195,1112.5 199,1112 202.5,1111 203,1111 207,1108.5 208.5,1107 211,1104.5 212,1103 213.5,1099 213.5,1095 212.5,1091 211,1089 209.5,1087 207,1085.5 203,1083.5 201.5,1083 199,1082.5 195,1082.5 192.5,1083 191,1083.5 187,1085 184.5,1087 183,1088.5 181,1091 179,1095 178.5,1099 179,1102 179,1103 181.5,1107 183,1108.5 187,1111Z"/>
<path fill="#a3144b" d="M191,1107 195,1107.5 199,1107 203,1105 205,1103 207,1099.5 207.5,1099 207.5,1095 207,1094 205,1091 203,1089.5 199,1088 195,1087.5 191,1089 187.5,1091 187,1092 185,1095 184.5,1099 186,1103 187,1104.5 191,1107Z"/>
</g>
<g clip-path="url(#cp11)" shape-rendering="geometricPrecision">
<path fill="#fef2d9" d="M695,1161 697,1163 699,1163 703,1163 707,1163 711,1163 715,1163 719,1163 723,1163 727,1163 731,1163 735,1163 739,1163 743,1163 747,1163 751,1163 755,1163 759,1163 763,1163 767,1163 771,1163 775,1163 779,1163 783,1163 787,1163 788,1163 791,1159 795,1155 799,1151.5 800,1151 803,1149.5 807,1147.5 808,1147 811,1146 815,1145 819,1144 823,1143.5 825.5,1143 827,1143 831,1142.5 835,1142.5 839,1142 843,1142 847,1142 851,1142 855,1142 859,1142 863,1142 867,1142 871,1142 875,1142 879,1142 883,1142 887,1142 891,1142 895,1142 899,1142 903,1142 907,1142 911,1142 915,1142 919,1142 923,1141.5 927,1141.5 931,1141.5 935,1141.5 939,1141.5 943,1141 947,1141 951,1141 955,1140.5 959,1140.5 963,1140 967,1140 971,1139.5 975,1139.5 979,1139 982,1139 983,1139 987,1138.5 991,1138.5 995,1138 999,1138 1003,1137.5 1007,1137.5 1011,1137 1015,1137 1019,1136.5 1023,1136 1027,1136 1031,1135.5 1035,1135 1036.5,1135 1039,1135 1043,1134.5 1047,1134 1051,1134 1055,1133.5 1059,1133.5 1063,1133 1067,1132.5 1071,1132.5 1075,1132 1079,1132 1083,1131.5 1087,1131 1089.5,1131 1091,1131 1095,1130.5 1099,1130.5 1103,1130 1107,1130 1111,1129.5 1115,1129.5 1119,1129 1123,1129 1127,1128.5 1131,1128.5 1135,1128.5 1139,1128 1143,1128 1147,1127.5 1151,1127.5 1155,1127 1156.5,1127 1159,1127 1163,1126.5 1167,1126.5 1171,1126 1175,1126 1179,1126 1183,1125.5 1187,1125.5 1187,1123 1187,1119 1187,1115 1187,1111 1187,1107 1187,1103 1187,1099 1187,1095 1187,1091 1187,1087 1187,1083 1187,1079 1187,1075 1187,1071 1187,1067 1187,1063 1187,1059 1187,1055 1187,1051 1183,1050.5 1179,1050.5 1175,1050 1171,1050 1167,1049.5 1163,1049.5 1159,1049 1155,1049 1151,1048.5 1147,1048 1143,1048 1139,1047.5 1135,1047.5 1131,1047 1129.5,1047 1127,1047 1123,1046.5 1119,1046 1115,1046 1111,1045.5 1107,1045 1103,1044.5 1099,1044.5 1095,1044 1091,1043.5 1087,1043 1085,1043 1083,1043 1079,1042.5 1075,1042 1071,1041.5 1067,1041 1063,1040.5 1059,1040 1055,1039.5 1051,1039 1050.5,1039 1047,1038.5 1043,1038 1039,1037.5 1035,1037 1031,1036.5 1027,1036 1023,1035.5 1020.5,1035 1019,1034.5 1015,1034 1011,1033.5 1007,1033 1003,1032.5 999,1032 995,1031.5 991.5,1031 991,1031 987,1030.5 983,1030 979,1029.5 975,1029 971,1028.5 967,1028 963,1027.5 959,1027 958.5,1027 955,1026.5 951,1026 947,1026 943,1025.5 939,1025 935,1025 931,1024.5 927,1024.5 923,1024 919,1024 915,1023.5 911,1023.5 907,1023.5 903,1023.5 899,1023.5 895,1023.5 891,1023.5 887,1023.5 883,1023.5 879,1023.5 875,1023.5 871,1023.5 867,1023.5 863,1024 859,1024 855,1024 851,1024.5 847,1024.5 843,1024.5 839,1025 835,1025 831,1025 827,1025 823,1025 819,1025 815,1025 811,1024.5 807,1024.5 803,1024 799,1023.5 795,1023 793,1023 791,1022.5 787,1022 783,1021.5 779,1020.5 775,1020 771,1019.5 767,1019 766.5,1019 763,1018.5 759,1018 755,1017.5 751,1017.5 747,1017.5 743,1017.5 739,1017.5 735,1017.5 731,1018 727,1018.5 724,1019 723,1019 719,1020 715,1020.5 711,1022 707,1023 703,1024.5 699,1026 696,1027 695,1027.5 691,1029.5 687.5,1031 687,1031.5 683,1033.5 680.5,1035 679,1036 675,1038.5 674,1039 671,1041 668,1043 667,1044 663,1047 659,1050 658,1051 655,1053.5 655,1055 655,1059 655,1063 655,1067 655,1071 655,1075 655,1079 655,1083 655,1087 655,1091 655,1095 655,1099 655,1103 655,1107 655,1111 655,1115 655,1119 655,1123 655,1124.5 657.5,1127 659,1128.5 662,1131 663,1132 666.5,1135 667,1135.5 671,1139 675,1142.5 675.5,1143 679,1146 680,1147 683,1149.5 684.5,1151 687,1153 689,1155 691,1157 693,1159 695,1161ZM743,927.5 747,928 751,927.5 754.5,927 755,927 759,925.5 763,924 764.5,923 767,922 771,919.5 771.5,919 775,917 778,915 779,914.5 783,912 784.5,911 787,909.5 791,907 795,904.5 797.5,903 799,902 803,899 807,895 809.5,891 811,887 811,883 810,879 807.5,875 807,874.5 804,871 803,870 799,867 795,864.5 792.5,863 791,862 787,860.5 783.5,859 783,859 779,857.5 775,856.5 771,855.5 769,855 767,854.5 763,854 759,854 755,853.5 751,853.5 747,854 743,854.5 740.5,855 739,855.5 735,856.5 731,858 728.5,859 727,860 723,862.5 722,863 719,866 718,867 715.5,871 715,872 714,875 713,879 712.5,883 713,887 713.5,891 714.5,895 715,896.5 716,899 717.5,903 719,906.5 719.5,907 721.5,911 723,913 724.5,915 727,918.5 727.5,919 731,922 732.5,923 735,924.5 739,926.5 741,927 743,927.5Z"/>
<path fill="#fedc9b" d="M723,1151 727,1152.5 731,1154 735,1154.5 739,1155 743,1155 747,1154 751,1152.5 754.5,1151 755,1150.5 759,1148.5 761,1147 763,1146 767,1143 771,1140.5 773,1139 775,1137.5 779,1135 783,1132.5 786,1131 787,1130.5 791,1128.5 795,1127 799,1125.5 803,1124.5 807,1123.5 810.5,1123 811,1123 815,1122.5 819,1122 823,1121.5 827,1121.5 831,1121.5 835,1121 839,1121 843,1121 847,1121 851,1121.5 855,1121.5 859,1121.5 863,1121.5 867,1121.5 871,1121.5 875,1122 879,1122 883,1122 887,1122 891,1122 895,1122.5 899,1122.5 903,1122.5 907,1122.5 911,1122.5 915,1122.5 919,1122.5 923,1122 927,1122 931,1122 935,1122 939,1121.5 943,1121.5 947,1121.5 951,1121 955,1121 959,1120.5 963,1120 967,1120 971,1119.5 975,1119 976.5,1119 979,1119 983,1118.5 987,1118 991,1117.5 995,1117 999,1117 1003,1116.5 1007,1116 1011,1115.5 1015,1115 1019,1114.5 1023,1114 1027,1113.5 1031,1113 1035,1112.5 1039,1112.5 1043,1112 1047,1111.5 1049.5,1111 1051,1111 1055,1110.5 1059,1110 1063,1109.5 1067,1109 1071,1108.5 1075,1108 1079,1107.5 1082.5,1107 1083,1107 1087,1106.5 1091,1106 1095,1105.5 1099,1105 1103,1104.5 1107,1104 1111,1103 1112.5,1103 1115,1102.5 1119,1102 1123,1101.5 1127,1100.5 1131,1100 1135,1099.5 1136.5,1099 1139,1098.5 1143,1097.5 1147,1096.5 1151,1095.5 1152.5,1095 1155,1093.5 1159,1092 1160.5,1091 1161.5,1087 1159,1085 1156,1083 1155,1082.5 1151,1081.5 1147,1080 1143,1079 1139,1078 1135,1077.5 1131,1076.5 1127,1076 1123,1075 1122.5,1075 1119,1074.5 1115,1074 1111,1073.5 1107,1072.5 1103,1072 1099,1071.5 1095.5,1071 1095,1071 1091,1070.5 1087,1070 1083,1069.5 1079,1068.5 1075,1068 1071,1067.5 1067,1067 1066.5,1067 1063,1066.5 1059,1066 1055,1065.5 1051,1065 1047,1064.5 1043,1064 1039,1063.5 1036.5,1063 1035,1063 1031,1062.5 1027,1062 1023,1061 1019,1060.5 1015,1060 1011,1059.5 1007,1059.5 1005,1059 1003,1059 999,1058.5 995,1058 991,1057.5 987,1057 983,1056.5 979,1056 975,1055.5 971,1055.5 968,1055 967,1055 963,1054.5 959,1054 955,1054 951,1053.5 947,1053.5 943,1053 939,1053 935,1052.5 931,1052.5 927,1052.5 923,1052 919,1052 915,1052 911,1052 907,1052 903,1052 899,1052 895,1052 891,1052 887,1052 883,1052 879,1052 875,1052.5 871,1052.5 867,1052.5 863,1052.5 859,1052.5 855,1053 851,1053 847,1053 843,1053 839,1053 835,1053 831,1053 827,1053 823,1053 819,1052.5 815,1052.5 811,1052 807,1051.5 804.5,1051 803,1050.5 799,1050 795,1049 791,1048 788.5,1047 787,1046.5 783,1045 779,1044 776,1043 775,1042.5 771,1041 767,1040 763,1039 762.5,1039 759,1038 755,1037.5 751,1036.5 747,1036 743,1036 739,1036 735,1036 731,1036.5 727,1037 723,1037.5 719,1038.5 718,1039 715,1040 711,1041 707,1043 706.5,1043 703,1044.5 699,1046.5 698.5,1047 695,1049 692,1051 691,1051.5 687,1055 686.5,1055 683,1058 682,1059 679,1062 678,1063 675,1066.5 674.5,1067 671.5,1071 671,1072 669,1075 667.5,1079 667,1080.5 666,1083 665.5,1087 665,1091 665.5,1095 666.5,1099 667,1100.5 668,1103 669.5,1107 671,1109 672,1111 674.5,1115 675,1115.5 677.5,1119 679,1120.5 681,1123 683,1125 685,1127 687,1129 689.5,1131 691,1132.5 694.5,1135 695,1135.5 699,1138.5 700,1139 703,1141 706.5,1143 707,1143.5 711,1145.5 714,1147 715,1147.5 719,1149.5 722.5,1151 723,1151Z"/>
<path fill="#f9c285" d="M727,1139.5 731,1140 735,1140.5 739,1140 743,1139.5 745,1139 747,1138.5 751,1137.5 755,1135.5 756.5,1135 759,1134 763,1131.5 764,1131 767,1129.5 771,1127 775,1124.5 777.5,1123 779,1122 783,1119.5 784.5,1119 787,1117.5 791,1115.5 792,1115 795,1113.5 799,1112 803,1111 807,1110 811,1109 815,1108.5 819,1108 823,1108 827,1107.5 831,1107.5 835,1107.5 839,1108 843,1108 847,1108 851,1108.5 855,1108.5 859,1109 863,1109 867,1109.5 871,1110 875,1110 879,1110.5 883,1110.5 887,1111 891,1111 895,1111.5 899,1111.5 903,1111.5 907,1112 911,1112 915,1112 919,1112 923,1112 927,1111.5 931,1111.5 935,1111.5 939,1111 943,1110.5 947,1110.5 951,1110 955,1109.5 959,1109 963,1108.5 967,1108 971,1107 971.5,1107 975,1106.5 979,1105.5 983,1105 987,1104 991,1103 991.5,1103 995,1102 999,1101 1003,1100 1006,1099 1007,1098.5 1011,1097 1015,1095.5 1017,1095 1019,1093.5 1023,1091 1024,1087 1023,1086 1020.5,1083 1019,1082.5 1015,1080.5 1011.5,1079 1011,1079 1007,1077.5 1003,1076.5 999,1075 995,1074 991,1073 987,1072 983,1071.5 982,1071 979,1070.5 975,1069.5 971,1069 967,1068.5 963,1067.5 959,1067 958,1067 955,1066.5 951,1066 947,1065.5 943,1065.5 939,1065 935,1064.5 931,1064.5 927,1064.5 923,1064 919,1064 915,1064 911,1064 907,1064 903,1064 899,1064.5 895,1064.5 891,1064.5 887,1065 883,1065 879,1065.5 875,1065.5 871,1066 867,1066 863,1066.5 859,1066.5 855,1067 851,1067.5 847,1067.5 843,1067.5 839,1068 835,1068 831,1068 827,1068 823,1068 819,1067.5 815,1067 813.5,1067 811,1066.5 807,1066 803,1065 799,1064 797,1063 795,1062.5 791,1061 787,1059 783,1057 779,1055.5 778.5,1055 775,1053.5 771,1051.5 769,1051 767,1050 763,1048.5 759,1047.5 757,1047 755,1046.5 751,1045.5 747,1045 743,1044.5 739,1044.5 735,1044.5 731,1045 727,1045.5 723,1046.5 721,1047 719,1047.5 715,1049 711,1050.5 710,1051 707,1052.5 703,1055 702.5,1055 699,1057.5 697,1059 695,1060.5 692.5,1063 691,1064.5 688.5,1067 687,1069 685.5,1071 683,1074.5 683,1075 681,1079 679.5,1083 679,1085.5 678.5,1087 678.5,1091 678.5,1095 679,1097.5 679,1099 680.5,1103 682,1107 683,1108.5 684,1111 687,1115 690,1119 691,1120 694,1123 695,1124 699,1127 703,1130 704.5,1131 707,1132.5 711,1134.5 712.5,1135 715,1136.5 719,1137.5 723,1139 724.5,1139 727,1139.5Z"/>
<path fill="#f4a474" d="M723,1131.5 727,1132.5 731,1133 735,1133 739,1132.5 743,1132 746,1131 747,1130.5 751,1129.5 755,1127.5 756.5,1127 759,1126 763,1123.5 764,1123 767,1121 770,1119 771,1118.5 775,1115.5 776,1115 779,1112.5 781,1111 783,1109.5 786.5,1107 787,1106.5 791,1103.5 792,1103 795,1100.5 797,1099 799,1097.5 802.5,1095 803,1094 806.5,1091 807,1087 804.5,1083 803,1082 799.5,1079 799,1078.5 795,1076 794,1075 791,1073 788.5,1071 787,1070 783,1067 779,1064.5 777,1063 775,1062 771,1059.5 770,1059 767,1057.5 763,1055.5 761,1055 759,1054 755,1053 751,1052 747,1051 745,1051 743,1050.5 739,1050.5 735,1050.5 731,1051 727,1051.5 723,1052.5 719,1054 716,1055 715,1055.5 711,1057.5 708,1059 707,1059.5 703,1062.5 702.5,1063 699,1066 698,1067 695,1070 694.5,1071 691.5,1075 691,1076 689.5,1079 688,1083 687,1086.5 687,1087 686.5,1091 686.5,1095 687,1097 687.5,1099 688.5,1103 690,1107 691,1108.5 692.5,1111 695,1114.5 695.5,1115 699,1118.5 699.5,1119 703,1122 704,1123 707,1125 710.5,1127 711,1127 715,1129 719,1130.5 721,1131 723,1131.5ZM879,1099 883,1100 887,1100.5 891,1101 895,1101.5 899,1102 903,1102.5 907,1102.5 911,1102.5 915,1103 919,1103 923,1102.5 927,1102.5 931,1102 935,1102 939,1101.5 943,1100.5 947,1100 951,1099 951.5,1099 955,1098 959,1096.5 963,1095 967,1092 968.5,1091 969,1087 967,1084.5 965.5,1083 963,1082 959,1080 956.5,1079 955,1078.5 951,1077.5 947,1076.5 943,1076 939,1075.5 937,1075 935,1075 931,1074.5 927,1074 923,1074 919,1074 915,1074 911,1074 907,1074 903,1074 899,1074.5 895,1075 893.5,1075 891,1075.5 887,1076 883,1076.5 879,1077.5 875,1078 871,1079 867,1080 863,1081.5 859,1082.5 858,1083 855,1085 852,1087 853.5,1091 855,1091.5 859,1093.5 862.5,1095 863,1095 867,1096 871,1097 875,1098.5 878,1099 879,1099Z"/>
<path fill="#f08966" d="M731,1127 735,1127 737.5,1127 739,1127 743,1126 747,1125 751,1123.5 752,1123 755,1121.5 759,1119.5 760,1119 763,1117 766,1115 767,1114 771,1111 775,1107 779,1103 782,1099 783,1097.5 784.5,1095 786,1091 786,1087 785,1083 783,1079 780,1075 779,1074 776,1071 775,1070 771,1067 767,1064 765,1063 763,1062 759,1060 757,1059 755,1058.5 751,1057 747,1056 743,1055.5 739,1055.5 735,1055.5 731,1056 727,1056.5 723,1057.5 719,1059 715,1061 711,1063 707,1066 705.5,1067 703,1069.5 701.5,1071 699,1074 698.5,1075 696,1079 695,1081 694,1083 693,1087 692.5,1091 693,1095 693.5,1099 695,1103 695,1103.5 696.5,1107 699,1110.5 699.5,1111 703,1115 707,1118.5 707.5,1119 711,1121.5 714.5,1123 715,1123.5 719,1125 723,1126 727,1127 728.5,1127 731,1127Z"/>
<path fill="#ec6c5b" d="M719,1120 723,1121.5 727,1122.5 731,1122.5 735,1122.5 739,1122 743,1121.5 747,1120 750,1119 751,1118.5 755,1116.5 757.5,1115 759,1114 763,1111 767,1107.5 767.5,1107 771,1103 773.5,1099 775,1096 775.5,1095 776.5,1091 777,1087 776,1083 775,1081 774,1079 771.5,1075 771,1074.5 767.5,1071 767,1070.5 763,1067.5 762,1067 759,1065 755,1063 754.5,1063 751,1061.5 747,1060.5 743,1060 739,1059.5 735,1059.5 731,1060 727,1061 723,1062 720.5,1063 719,1063.5 715,1065.5 713,1067 711,1068.5 708,1071 707,1072 704.5,1075 703,1077 701.5,1079 699.5,1083 699,1085.5 698.5,1087 698,1091 698,1095 699,1099 699,1099.5 700.5,1103 702.5,1107 703,1107.5 705.5,1111 707,1112.5 710,1115 711,1116 715,1118.5 716.5,1119 719,1120Z"/>
<path fill="#de4e50" d="M719,1115.5 723,1117 727,1118 731,1118.5 735,1118.5 739,1118 743,1117 747,1116 748.5,1115 751,1114 755,1111.5 756,1111 759,1108.5 760.5,1107 763,1104.5 764.5,1103 767,1099 769,1095 770,1091 770,1087 769,1083 767,1079 764,1075 763,1074 760,1071 759,1070.5 755,1068 753,1067 751,1066 747,1065 743,1064 739,1063.5 735,1063.5 731,1064 727,1065 723,1066 721.5,1067 719,1068 715,1070.5 714.5,1071 711,1074 710,1075 707,1079 704.5,1083 703.5,1087 703,1089.5 703,1091 703,1095 703,1095.5 703.5,1099 705.5,1103 707,1105.5 708,1107 711,1110.5 712,1111 715,1113.5 718,1115 719,1115.5Z"/>
<path fill="#cf2b4b" d="M719,1111 723,1113 727,1114 731,1114.5 735,1114.5 739,1114 743,1113 747,1111.5 748,1111 751,1109.5 754,1107 755,1106.5 758.5,1103 759,1102.5 761.5,1099 763,1095.5 763.5,1095 764,1091 764,1087 763,1083 763,1082.5 761,1079 759,1076.5 757.5,1075 755,1073 751.5,1071 751,1070.5 747,1069 743,1068 739,1067.5 735,1067.5 731,1068 727,1069 723,1070.5 722,1071 719,1072.5 716,1075 715,1075.5 712,1079 711,1080.5 709.5,1083 708,1087 707.5,1091 707.5,1095 708.5,1099 710.5,1103 711,1104 713.5,1107 715,1108 719,1111Z"/>
<path fill="#c01545" d="M723,1108.5 727,1110 731,1110.5 735,1110.5 739,1110 743,1109 747,1107 751,1104 752.5,1103 755,1100 756,1099 758,1095 759,1091 759,1087 757.5,1083 755,1079 751,1075.5 750,1075 747,1073.5 743,1072 739,1071.5 735,1071.5 731,1072 727,1073 723,1074.5 722.5,1075 719,1077.5 717.5,1079 715,1082 714.5,1083 712.5,1087 712,1091 712,1095 713.5,1099 715,1102 716,1103 719,1106 720.5,1107 723,1108.5Z"/>
<path fill="#b11547" d="M723,1103.5 727,1105.5 731,1106.5 735,1106.5 739,1105.5 743,1104 745,1103 747,1101.5 750,1099 751,1097.5 752.5,1095 753.5,1091 753,1087 751.5,1083 751,1082.5 747.5,1079 747,1078.5 743,1076.5 739,1075.5 735,1075.5 731,1076 727,1077.5 724,1079 723,1080 720,1083 719,1084.5 717.5,1087 717,1091 717,1095 719,1099 719,1099.5 722.5,1103 723,1103.5Z"/>
<path fill="#a3144b" d="M727,1099.5 731,1101 735,1101 739,1100.5 742,1099 743,1098 746,1095 747,1091.5 747,1091 747,1089 746.5,1087 743.5,1083 743,1082.5 739,1081 735,1080.5 731,1081.5 727.5,1083 727,1083.5 724,1087 723,1089.5 722.5,1091 723,1094 723,1095 726.5,1099 727,1099.5Z"/>
</g>
<g clip-path="url(#cp12)" shape-rendering="geometricPrecision">
<path fill="#fef2d9" d="M1227,1161 1229,1163 1231,1163 1235,1163 1239,1163 1243,1163 1247,1163 1251,1163 1255,1163 1259,1163 1263,1163 1267,1163 1271,1163 1275,1163 1279,1163 1283,1163 1287,1163 1291,1163 1295,1163 1299,1163 1303,1163 1307,1163 1311,1163 1315,1163 1319,1163 1320,1163 1323,1159 1327,1155 1331,1151.5 1332,1151 1335,1149.5 1339,1147.5 1340,1147 1343,1146 1347,1145 1351,1144 1355,1143.5 1357.5,1143 1359,1143 1363,1142.5 1367,1142.5 1371,1142 1375,1142 1379,1142 1383,1142 1387,1142 1391,1142 1395,1142 1399,1142 1403,1142 1407,1142 1411,1142 1415,1142 1419,1142 1423,1142 1427,1142 1431,1142 1435,1142 1439,1142 1443,1142 1447,1142 1451,1142 1455,1141.5 1459,1141.5 1463,1141.5 1467,1141.5 1471,1141.5 1475,1141 1479,1141 1483,1141 1487,1140.5 1491,1140.5 1495,1140 1499,1140 1503,1139.5 1507,1139.5 1511,1139 1514,1139 1515,1139 1519,1138.5 1523,1138.5 1527,1138 1531,1138 1535,1137.5 1539,1137.5 1543,1137 1547,1137 1551,1136.5 1555,1136 1559,1136 1563,1135.5 1567,1135 1568.5,1135 1571,1135 1575,1134.5 1579,1134 1583,1134 1587,1133.5 1591,1133.5 1595,1133 1599,1132.5 1603,1132.5 1607,1132 1611,1132 1615,1131.5 1619,1131 1621.5,1131 1623,1131 1627,1130.5 1631,1130.5 1635,1130 1639,1130 1643,1129.5 1647,1129.5 1651,1129 1655,1129 1659,1128.5 1663,1128.5 1667,1128.5 1671,1128 1675,1128 1679,1127.5 1683,1127.5 1687,1127 1688.5,1127 1691,1127 1695,1126.5 1699,1126.5 1703,1126 1707,1126 1711,1126 1715,1125.5 1719,1125.5 1719,1123 1719,1119 1719,1115 1719,1111 1719,1107 1719,1103 1719,1099 1719,1095 1719,1091 1719,1087 1719,1083 1719,1079 1719,1075 1719,1071 1719,1067 1719,1063 1719,1059 1719,1055 1719,1051 1715,1050.5 1711,1050.5 1707,1050 1703,1050 1699,1049.5 1695,1049.5 1691,1049 1687,1049 1683,1048.5 1679,1048 1675,1048 1671,1047.5 1667,1047.5 1663,1047 1661.5,1047 1659,1047 1655,1046.5 1651,1046 1647,1046 1643,1045.5 1639,1045 1635,1044.5 1631,1044.5 1627,1044 1623,1043.5 1619,1043 1617,1043 1615,1043 1611,1042.5 1607,1042 1603,1041.5 1599,1041 1595,1040.5 1591,1040 1587,1039.5 1583,1039 1582.5,1039 1579,1038.5 1575,1038 1571,1037.5 1567,1037 1563,1036.5 1559,1036 1555,1035.5 1552.5,1035 1551,1034.5 1547,1034 1543,1033.5 1539,1033 1535,1032.5 1531,1032 1527,1031.5 1523.5,1031 1523,1031 1519,1030.5 1515,1030 1511,1029.5 1507,1029 1503,1028.5 1499,1028 1495,1027.5 1491,1027 1490.5,1027 1487,1026.5 1483,1026 1479,1026 1475,1025.5 1471,1025 1467,1025 1463,1024.5 1459,1024.5 1455,1024 1451,1024 1447,1023.5 1443,1023.5 1439,1023.5 1435,1023.5 1431,1023.5 1427,1023.5 1423,1023.5 1419,1023.5 1415,1023.5 1411,1023.5 1407,1023.5 1403,1023.5 1399,1023.5 1395,1024 1391,1024 1387,1024 1383,1024.5 1379,1024.5 1375,1024.5 1371,1025 1367,1025 1363,1025 1359,1025 1355,1025 1351,1025 1347,1025 1343,1024.5 1339,1024.5 1335,1024 1331,1023.5 1327,1023 1325,1023 1323,1022.5 1319,1022 1315,1021.5 1311,1020.5 1307,1020 1303,1019.5 1299,1019 1298.5,1019 1295,1018.5 1291,1018 1287,1017.5 1283,1017.5 1279,1017.5 1275,1017.5 1271,1017.5 1267,1017.5 1263,1018 1259,1018.5 1256,1019 1255,1019 1251,1020 1247,1020.5 1243,1022 1239,1023 1235,1024.5 1231,1026 1228,1027 1227,1027.5 1223,1029.5 1219.5,1031 1219,1031.5 1215,1033.5 1212.5,1035 1211,1036 1207,1038.5 1206,1039 1203,1041 1200,1043 1199,1044 1195,1047 1191,1050 1190,1051 1187,1053.5 1187,1055 1187,1059 1187,1063 1187,1067 1187,1071 1187,1075 1187,1079 1187,1083 1187,1087 1187,1091 1187,1095 1187,1099 1187,1103 1187,1107 1187,1111 1187,1115 1187,1119 1187,1123 1187,1124.5 1189.5,1127 1191,1128.5 1194,1131 1195,1132 1198.5,1135 1199,1135.5 1203,1139 1207,1142.5 1207.5,1143 1211,1146 1212,1147 1215,1149.5 1216.5,1151 1219,1153 1221,1155 1223,1157 1225,1159 1227,1161ZM1275,927.5 1279,928 1283,927.5 1286.5,927 1287,927 1291,925.5 1295,924 1296.5,923 1299,922 1303,919.5 1303.5,919 1307,917 1310,915 1311,914.5 1315,912 1316.5,911 1319,909.5 1323,907 1327,904.5 1329.5,903 1331,902 1335,899 1339,895 1341.5,891 1343,887 1343,883 1342,879 1339.5,875 1339,874.5 1336,871 1335,870 1331,867 1327,864.5 1324.5,863 1323,862 1319,860.5 1315.5,859 1315,859 1311,857.5 1307,856.5 1303,855.5 1301,855 1299,854.5 1295,854 1291,854 1287,853.5 1283,853.5 1279,854 1275,854.5 1272.5,855 1271,855.5 1267,856.5 1263,858 1260.5,859 1259,860 1255,862.5 1254,863 1251,866 1250,867 1247.5,871 1247,872 1246,875 1245,879 1244.5,883 1245,887 1245.5,891 1246.5,895 1247,896.5 1248,899 1249.5,903 1251,906.5 1251.5,907 1253.5,911 1255,913 1256.5,915 1259,918.5 1259.5,919 1263,922 1264.5,923 1267,924.5 1271,926.5 1273,927 1275,927.5Z"/>
<path fill="#fedc9b" d="M1255,1151 1259,1152.5 1263,1154 1267,1154.5 1271,1155 1275,1155 1279,1154 1283,1152.5 1286.5,1151 1287,1150.5 1291,1148.5 1293,1147 1295,1146 1299,1143 1303,1140.5 1305,1139 1307,1137.5 1311,1135 1315,1132.5 1318,1131 1319,1130.5 1323,1128.5 1327,1127 1331,1125.5 1335,1124.5 1339,1123.5 1342.5,1123 1343,1123 1347,1122.5 1351,1122 1355,1121.5 1359,1121.5 1363,1121.5 1367,1121 1371,1121 1375,1121 1379,1121 1383,1121.5 1387,1121.5 1391,1121.5 1395,1121.5 1399,1121.5 1403,1121.5 1407,1122 1411,1122 1415,1122 1419,1122 1423,1122 1427,1122.5 1431,1122.5 1435,1122.5 1439,1122.5 1443,1122.5 1447,1122.5 1451,1122.5 1455,1122 1459,1122 1463,1122 1467,1122 1471,1121.5 1475,1121.5 1479,1121.5 1483,1121 1487,1121 1491,1120.5 1495,1120 1499,1120 1503,1119.5 1507,1119 1508.5,1119 1511,1119 1515,1118.5 1519,1118 1523,1117.5 1527,1117 1531,1117 1535,1116.5 1539,1116 1543,1115.5 1547,1115 1551,1114.5 1555,1114 1559,1113.5 1563,1113 1567,1112.5 1571,1112.5 1575,1112 1579,1111.5 1581.5,1111 1583,1111 1587,1110.5 1591,1110 1595,1109.5 1599,1109 1603,1108.5 1607,1108 1611,1107.5 1614.5,1107 1615,1107 1619,1106.5 1623,1106 1627,1105.5 1631,1105 1635,1104.5 1639,1104 1643,1103 1644.5,1103 1647,1102.5 1651,1102 1655,1101.5 1659,1100.5 1663,1100 1667,1099.5 1668.5,1099 1671,1098.5 1675,1097.5 1679,1096.5 1683,1095.5 1684.5,1095 1687,1093.5 1691,1092 1692.5,1091 1693.5,1087 1691,1085 1688,1083 1687,1082.5 1683,1081.5 1679,1080 1675,1079 1671,1078 1667,1077.5 1663,1076.5 1659,1076 1655,1075 1654.5,1075 1651,1074.5 1647,1074 1643,1073.5 1639,1072.5 1635,1072 1631,1071.5 1627.5,1071 1627,1071 1623,1070.5 1619,1070 1615,1069.5 1611,1068.5 1607,1068 1603,1067.5 1599,1067 1598.5,1067 1595,1066.5 1591,1066 1587,1065.5 1583,1065 1579,1064.5 1575,1064 1571,1063.5 1568.5,1063 1567,1063 1563,1062.5 1559,1062 1555,1061 1551,1060.5 1547,1060 1543,1059.5 1539,1059.5 1537,1059 1535,1059 1531,1058.5 1527,1058 1523,1057.5 1519,1057 1515,1056.5 1511,1056 1507,1055.5 1503,1055.5 1500,1055 1499,1055 1495,1054.5 1491,1054 1487,1054 1483,1053.5 1479,1053.5 1475,1053 1471,1053 1467,1052.5 1463,1052.5 1459,1052.5 1455,1052 1451,1052 1447,1052 1443,1052 1439,1052 1435,1052 1431,1052 1427,1052 1423,1052 1419,1052 1415,1052 1411,1052 1407,1052.5 1403,1052.5 1399,1052.5 1395,1052.5 1391,1052.5 1387,1053 1383,1053 1379,1053 1375,1053 1371,1053 1367,1053 1363,1053 1359,1053 1355,1053 1351,1052.5 1347,1052.5 1343,1052 1339,1051.5 1336.5,1051 1335,1050.5 1331,1050 1327,1049 1323,1048 1320.5,1047 1319,1046.5 1315,1045 1311,1044 1308,1043 1307,1042.5 1303,1041 1299,1040 1295,1039 1294.5,1039 1291,1038 1287,1037.5 1283,1036.5 1279,1036 1275,1036 1271,1036 1267,1036 1263,1036.5 1259,1037 1255,1037.5 1251,1038.5 1250,1039 1247,1040 1243,1041 1239,1043 1238.5,1043 1235,1044.5 1231,1046.5 1230.5,1047 1227,1049 1224,1051 1223,1051.5 1219,1055 1218.5,1055 1215,1058 1214,1059 1211,1062 1210,1063 1207,1066.5 1206.5,1067 1203.5,1071 1203,1072 1201,1075 1199.5,1079 1199,1080.5 1198,1083 1197.5,1087 1197,1091 1197.5,1095 1198.5,1099 1199,1100.5 1200,1103 1201.5,1107 1203,1109 1204,1111 1206.5,1115 1207,1115.5 1209.5,1119 1211,1120.5 1213,1123 1215,1125 1217,1127 1219,1129 1221.5,1131 1223,1132.5 1226.5,1135 1227,1135.5 1231,1138.5 1232,1139 1235,1141 1238.5,1143 1239,1143.5 1243,1145.5 1246,1147 1247,1147.5 1251,1149.5 1254.5,1151 1255,1151Z"/>
<path fill="#f9c285" d="M1259,1139.5 1263,1140 1267,1140.5 1271,1140 1275,1139.5 1277,1139 1279,1138.5 1283,1137.5 1287,1135.5 1288.5,1135 1291,1134 1295,1131.5 1296,1131 1299,1129.5 1303,1127 1307,1124.5 1309.5,1123 1311,1122 1315,1119.5 1316.5,1119 1319,1117.5 1323,1115.5 1324,1115 1327,1113.5 1331,1112 1335,1111 1339,1110 1343,1109 1347,1108.5 1351,1108 1355,1108 1359,1107.5 1363,1107.5 1367,1107.5 1371,1108 1375,1108 1379,1108 1383,1108.5 1387,1108.5 1391,1109 1395,1109 1399,1109.5 1403,1110 1407,1110 1411,1110.5 1415,1110.5 1419,1111 1423,1111 1427,1111.5 1431,1111.5 1435,1111.5 1439,1112 1443,1112 1447,1112 1451,1112 1455,1112 1459,1111.5 1463,1111.5 1467,1111.5 1471,1111 1475,1110.5 1479,1110.5 1483,1110 1487,1109.5 1491,1109 1495,1108.5 1499,1108 1503,1107 1503.5,1107 1507,1106.5 1511,1105.5 1515,1105 1519,1104 1523,1103 1523.5,1103 1527,1102 1531,1101 1535,1100 1538,1099 1539,1098.5 1543,1097 1547,1095.5 1549,1095 1551,1093.5 1555,1091 1556,1087 1555,1086 1552.5,1083 1551,1082.5 1547,1080.5 1543.5,1079 1543,1079 1539,1077.5 1535,1076.5 1531,1075 1527,1074 1523,1073 1519,1072 1515,1071.5 1514,1071 1511,1070.5 1507,1069.5 1503,1069 1499,1068.5 1495,1067.5 1491,1067 1490,1067 1487,1066.5 1483,1066 1479,1065.5 1475,1065.5 1471,1065 1467,1064.5 1463,1064.5 1459,1064.5 1455,1064 1451,1064 1447,1064 1443,1064 1439,1064 1435,1064 1431,1064.5 1427,1064.5 1423,1064.5 1419,1065 1415,1065 1411,1065.5 1407,1065.5 1403,1066 1399,1066 1395,1066.5 1391,1066.5 1387,1067 1383,1067.5 1379,1067.5 1375,1067.5 1371,1068 1367,1068 1363,1068 1359,1068 1355,1068 1351,1067.5 1347,1067 1345.5,1067 1343,1066.5 1339,1066 1335,1065 1331,1064 1329,1063 1327,1062.5 1323,1061 1319,1059 1315,1057 1311,1055.5 1310.5,1055 1307,1053.5 1303,1051.5 1301,1051 1299,1050 1295,1048.5 1291,1047.5 1289,1047 1287,1046.5 1283,1045.5 1279,1045 1275,1044.5 1271,1044.5 1267,1044.5 1263,1045 1259,1045.5 1255,1046.5 1253,1047 1251,1047.5 1247,1049 1243,1050.5 1242,1051 1239,1052.5 1235,1055 1234.5,1055 1231,1057.5 1229,1059 1227,1060.5 1224.5,1063 1223,1064.5 1220.5,1067 1219,1069 1217.5,1071 1215,1074.5 1215,1075 1213,1079 1211.5,1083 1211,1085.5 1210.5,1087 1210.5,1091 1210.5,1095 1211,1097.5 1211,1099 1212.5,1103 1214,1107 1215,1108.5 1216,1111 1219,1115 1222,1119 1223,1120 1226,1123 1227,1124 1231,1127 1235,1130 1236.5,1131 1239,1132.5 1243,1134.5 1244.5,1135 1247,1136.5 1251,1137.5 1255,1139 1256.5,1139 1259,1139.5Z"/>
<path fill="#f4a474" d="M1255,1131.5 1259,1132.5 1263,1133 1267,1133 1271,1132.5 1275,1132 1278,1131 1279,1130.5 1283,1129.5 1287,1127.5 1288.5,1127 1291,1126 1295,1123.5 1296,1123 1299,1121 1302,1119 1303,1118.5 1307,1115.5 1308,1115 1311,1112.5 1313,1111 1315,1109.5 1318.5,1107 1319,1106.5 1323,1103.5 1324,1103 1327,1100.5 1329,1099 1331,1097.5 1334.5,1095 1335,1094 1338.5,1091 1339,1087 1336.5,1083 1335,1082 1331.5,1079 1331,1078.5 1327,1076 1326,1075 1323,1073 1320.5,1071 1319,1070 1315,1067 1311,1064.5 1309,1063 1307,1062 1303,1059.5 1302,1059 1299,1057.5 1295,1055.5 1293,1055 1291,1054 1287,1053 1283,1052 1279,1051 1277,1051 1275,1050.5 1271,1050.5 1267,1050.5 1263,1051 1259,1051.5 1255,1052.5 1251,1054 1248,1055 1247,1055.5 1243,1057.5 1240,1059 1239,1059.5 1235,1062.5 1234.5,1063 1231,1066 1230,1067 1227,1070 1226.5,1071 1223.5,1075 1223,1076 1221.5,1079 1220,1083 1219,1086.5 1219,1087 1218.5,1091 1218.5,1095 1219,1097 1219.5,1099 1220.5,1103 1222,1107 1223,1108.5 1224.5,1111 1227,1114.5 1227.5,1115 1231,1118.5 1231.5,1119 1235,1122 1236,1123 1239,1125 1242.5,1127 1243,1127 1247,1129 1251,1130.5 1253,1131 1255,1131.5ZM1411,1099 1415,1100 1419,1100.5 1423,1101 1427,1101.5 1431,1102 1435,1102.5 1439,1102.5 1443,1102.5 1447,1103 1451,1103 1455,1102.5 1459,1102.5 1463,1102 1467,1102 1471,1101.5 1475,1100.5 1479,1100 1483,1099 1483.5,1099 1487,1098 1491,1096.5 1495,1095 1499,1092 1500.5,1091 1501,1087 1499,1084.5 1497.5,1083 1495,1082 1491,1080 1488.5,1079 1487,1078.5 1483,1077.5 1479,1076.5 1475,1076 1471,1075.5 1469,1075 1467,1075 1463,1074.5 1459,1074 1455,1074 1451,1074 1447,1074 1443,1074 1439,1074 1435,1074 1431,1074.5 1427,1075 1425.5,1075 1423,1075.5 1419,1076 1415,1076.5 1411,1077.5 1407,1078 1403,1079 1399,1080 1395,1081.5 1391,1082.5 1390,1083 1387,1085 1384,1087 1385.5,1091 1387,1091.5 1391,1093.5 1394.5,1095 1395,1095 1399,1096 1403,1097 1407,1098.5 1410,1099 1411,1099Z"/>
<path fill="#f08966" d="M1263,1127 1267,1127 1269.5,1127 1271,1127 1275,1126 1279,1125 1283,1123.5 1284,1123 1287,1121.5 1291,1119.5 1292,1119 1295,1117 1298,1115 1299,1114 1303,1111 1307,1107 1311,1103 1314,1099 1315,1097.5 1316.5,1095 1318,1091 1318,1087 1317,1083 1315,1079 1312,1075 1311,1074 1308,1071 1307,1070 1303,1067 1299,1064 1297,1063 1295,1062 1291,1060 1289,1059 1287,1058.5 1283,1057 1279,1056 1275,1055.5 1271,1055.5 1267,1055.5 1263,1056 1259,1056.5 1255,1057.5 1251,1059 1247,1061 1243,1063 1239,1066 1237.5,1067 1235,1069.5 1233.5,1071 1231,1074 1230.5,1075 1228,1079 1227,1081 1226,1083 1225,1087 1224.5,1091 1225,1095 1225.5,1099 1227,1103 1227,1103.5 1228.5,1107 1231,1110.5 1231.5,1111 1235,1115 1239,1118.5 1239.5,1119 1243,1121.5 1246.5,1123 1247,1123.5 1251,1125 1255,1126 1259,1127 1260.5,1127 1263,1127Z"/>
<path fill="#ec6c5b" d="M1251,1120 1255,1121.5 1259,1122.5 1263,1122.5 1267,1122.5 1271,1122 1275,1121.5 1279,1120 1282,1119 1283,1118.5 1287,1116.5 1289.5,1115 1291,1114 1295,1111 1299,1107.5 1299.5,1107 1303,1103 1305.5,1099 1307,1096 1307.5,1095 1308.5,1091 1309,1087 1308,1083 1307,1081 1306,1079 1303.5,1075 1303,1074.5 1299.5,1071 1299,1070.5 1295,1067.5 1294,1067 1291,1065 1287,1063 1286.5,1063 1283,1061.5 1279,1060.5 1275,1060 1271,1059.5 1267,1059.5 1263,1060 1259,1061 1255,1062 1252.5,1063 1251,1063.5 1247,1065.5 1245,1067 1243,1068.5 1240,1071 1239,1072 1236.5,1075 1235,1077 1233.5,1079 1231.5,1083 1231,1085.5 1230.5,1087 1230,1091 1230,1095 1231,1099 1231,1099.5 1232.5,1103 1234.5,1107 1235,1107.5 1237.5,1111 1239,1112.5 1242,1115 1243,1116 1247,1118.5 1248.5,1119 1251,1120Z"/>
<path fill="#de4e50" d="M1251,1115.5 1255,1117 1259,1118 1263,1118.5 1267,1118.5 1271,1118 1275,1117 1279,1116 1280.5,1115 1283,1114 1287,1111.5 1288,1111 1291,1108.5 1292.5,1107 1295,1104.5 1296.5,1103 1299,1099 1301,1095 1302,1091 1302,1087 1301,1083 1299,1079 1296,1075 1295,1074 1292,1071 1291,1070.5 1287,1068 1285,1067 1283,1066 1279,1065 1275,1064 1271,1063.5 1267,1063.5 1263,1064 1259,1065 1255,1066 1253.5,1067 1251,1068 1247,1070.5 1246.5,1071 1243,1074 1242,1075 1239,1079 1236.5,1083 1235.5,1087 1235,1089.5 1235,1091 1235,1095 1235,1095.5 1235.5,1099 1237.5,1103 1239,1105.5 1240,1107 1243,1110.5 1244,1111 1247,1113.5 1250,1115 1251,1115.5Z"/>
<path fill="#cf2b4b" d="M1251,1111 1255,1113 1259,1114 1263,1114.5 1267,1114.5 1271,1114 1275,1113 1279,1111.5 1280,1111 1283,1109.5 1286,1107 1287,1106.5 1290.5,1103 1291,1102.5 1293.5,1099 1295,1095.5 1295.5,1095 1296,1091 1296,1087 1295,1083 1295,1082.5 1293,1079 1291,1076.5 1289.5,1075 1287,1073 1283.5,1071 1283,1070.5 1279,1069 1275,1068 1271,1067.5 1267,1067.5 1263,1068 1259,1069 1255,1070.5 1254,1071 1251,1072.5 1248,1075 1247,1075.5 1244,1079 1243,1080.5 1241.5,1083 1240,1087 1239.5,1091 1239.5,1095 1240.5,1099 1242.5,1103 1243,1104 1245.5,1107 1247,1108 1251,1111Z"/>
<path fill="#c01545" d="M1255,1108.5 1259,1110 1263,1110.5 1267,1110.5 1271,1110 1275,1109 1279,1107 1283,1104 1284.5,1103 1287,1100 1288,1099 1290,1095 1291,1091 1291,1087 1289.5,1083 1287,1079 1283,1075.5 1282,1075 1279,1073.5 1275,1072 1271,1071.5 1267,1071.5 1263,1072 1259,1073 1255,1074.5 1254.5,1075 1251,1077.5 1249.5,1079 1247,1082 1246.5,1083 1244.5,1087 1244,1091 1244,1095 1245.5,1099 1247,1102 1248,1103 1251,1106 1252.5,1107 1255,1108.5Z"/>
<path fill="#b11547" d="M1255,1103.5 1259,1105.5 1263,1106.5 1267,1106.5 1271,1105.5 1275,1104 1277,1103 1279,1101.5 1282,1099 1283,1097.5 1284.5,1095 1285.5,1091 1285,1087 1283.5,1083 1283,1082.5 1279.5,1079 1279,1078.5 1275,1076.5 1271,1075.5 1267,1075.5 1263,1076 1259,1077.5 1256,1079 1255,1080 1252,1083 1251,1084.5 1249.5,1087 1249,1091 1249,1095 1251,1099 1251,1099.5 1254.5,1103 1255,1103.5Z"/>
<path fill="#a3144b" d="M1259,1099.5 1263,1101 1267,1101 1271,1100.5 1274,1099 1275,1098 1278,1095 1279,1091.5 1279,1091 1279,1089 1278.5,1087 1275.5,1083 1275,1082.5 1271,1081 1267,1080.5 1263,1081.5 1259.5,1083 1259,1083.5 1256,1087 1255,1089.5 1254.5,1091 1255,1094 1255,1095 1258.5,1099 1259,1099.5Z"/>
</g>
<g clip-path="url(#cp20)" shape-rendering="geometricPrecision">
<path fill="#fef2d9" d="M323,1746 327,1746 331,1746 335,1746 339,1746 343,1746 347,1746 351,1746 355,1746 359,1746 363,1746 367,1746 371,1746 375,1746 379,1746 383,1746 387,1746 391,1746 395,1746 399,1746 403,1746 407,1746 411,1746 415,1746 419,1746 423,1746 427,1746 431,1746 435,1746 439,1746 443,1746 447,1746 449,1746 447,1744 445.5,1742 443,1740 440,1738 439,1737 435,1735 433,1734 431,1733 427,1731.5 423,1730.5 420.5,1730 419,1729.5 415,1729 411,1729 407,1729 403,1729 399,1729 395,1728 392,1726 391,1725 389.5,1722 388.5,1718 387.5,1714 388,1710 388.5,1706 390.5,1702 391,1701.5 394,1698 395,1697 399,1694 403,1692 407,1690.5 408.5,1690 411,1689.5 415,1688.5 419,1687 421,1686 423,1685 427,1682 429.5,1678 430,1674 429,1670 427,1668 425,1666 423,1665 419,1663.5 415.5,1662 415,1662 411,1661 407,1660 403,1659 399.5,1658 399,1658 395,1657 391,1656 387,1654.5 385,1654 383,1654 379,1653 375,1652.5 371,1652.5 367,1652.5 363,1652.5 359,1653 355,1653.5 351,1654 350.5,1654 347,1655 343,1656.5 339,1658 338,1658 335,1659.5 331,1661.5 330,1662 327,1664 324,1666 323,1667 320,1670 319,1672.5 318.5,1674 319,1678 322.5,1682 323,1682.5 327,1685 328.5,1686 331,1687.5 335,1690 339,1693 340.5,1694 343,1696.5 344.5,1698 347,1701.5 347,1702 348.5,1706 348.5,1710 347.5,1714 347,1714.5 345,1718 343,1721 342,1722 339,1725.5 338.5,1726 335,1729.5 334.5,1730 331,1734 327.5,1738 327,1738.5 324.5,1742 323,1745 322.5,1746 323,1746ZM183,1690.5 187,1692 191,1692.5 195,1692 199,1691.5 203,1690.5 203.5,1690 207,1689 211,1687.5 213.5,1686 215,1685.5 219,1682.5 219.5,1682 223,1679.5 224.5,1678 227,1675.5 228.5,1674 231,1670.5 231,1670 233.5,1666 235,1662 235,1661 236,1658 236.5,1654 236,1650 235,1646 233.5,1642 231,1639 230,1638 227,1635.5 224.5,1634 223,1633.5 219,1632 215,1631 211,1630.5 207,1630.5 203,1631 199,1632 195,1633 192.5,1634 191,1634.5 187,1637 185,1638 183,1640 180.5,1642 179,1643.5 177,1646 175,1648.5 174,1650 172,1654 171,1656 170,1658 169,1662 168,1666 168,1670 168,1674 169.5,1678 171,1681.5 171.5,1682 175,1686 179,1689 182,1690 183,1690.5ZM207,1468.5 211,1470 215,1470.5 219,1470 223,1469.5 227,1468 229.5,1466.5 231,1465.5 235,1463 235.5,1462.5 239,1459.5 240,1458.5 243,1455.5 243.5,1454.5 247,1450.5 250,1446.5 251,1445.5 253.5,1442.5 255,1441 257,1438.5 259,1436.5 261,1434.5 263,1433 265.5,1430.5 267,1429.5 270.5,1426.5 271,1426.5 275,1423 275.5,1422.5 279,1419.5 280,1418.5 283,1415.5 284,1414.5 287,1411.5 288,1410.5 291,1406.5 294,1402.5 295,1401 297,1398.5 299,1395 299.5,1394.5 302,1390.5 303,1389 304.5,1386.5 307,1383.5 307.5,1382.5 311,1378.5 314,1374.5 315,1373.5 317.5,1370.5 319,1368.5 320.5,1366.5 323,1363 323,1362.5 325.5,1358.5 327,1356 328,1354.5 329.5,1350.5 331,1347.5 331.5,1347 332.5,1343 334,1339 335,1335 336,1331 337,1327 338,1323 339,1319 339,1318 339.5,1315 340,1311 340.5,1307 340.5,1303 341,1299 341,1295 341,1291 341,1287 341,1283 341.5,1279 341.5,1275 342,1271 342,1267 342,1263 342,1259 341.5,1255 341.5,1251 341.5,1247 341,1243 341,1239 340.5,1235 340,1231 339.5,1227 339,1224.5 338.5,1223 338,1219 336.5,1215 335,1215 331,1215 327,1215 323,1215 319,1215 315,1215 311,1215 307,1215 303,1215 299,1215 295,1215 291,1215 287,1215 283,1215 279,1215 275,1215 271,1215 267,1215 263,1215 259,1215 258.5,1215 256,1219 255,1220 253,1223 251,1226 250.5,1227 248,1231 247,1232.5 245.5,1235 244,1239 243,1241 242.5,1243 241,1247 240,1251 239,1254 239,1255 237.5,1259 236.5,1263 235.5,1267 235,1268.5 234.5,1271 233,1275 232,1279 231,1282.5 231,1283 230,1287 228.5,1291 227.5,1295 227,1296 226,1299 224.5,1303 223,1306.5 223,1307 221,1311 219.5,1315 219,1315.5 217.5,1319 215.5,1323 215,1324 213.5,1327 211.5,1331 211,1332.5 210,1335 208,1339 207,1341.5 206.5,1343 204.5,1347 203.5,1350.5 203,1351.5 202,1354.5 200.5,1358.5 199.5,1362.5 199,1365 198.5,1366.5 198,1370.5 197,1374.5 197,1378.5 196.5,1382.5 196,1386.5 195,1390.5 195,1391.5 194.5,1394.5 193.5,1398.5 192,1402.5 191,1406.5 191,1407 190,1410.5 189,1414.5 188,1418.5 187.5,1422.5 187,1426.5 187,1430.5 187.5,1434.5 188,1438.5 189,1442.5 190.5,1446.5 191,1448 192,1450.5 194,1454.5 195,1456.5 196.5,1458.5 199,1462 199.5,1462.5 203,1466 203.5,1466.5 207,1468.5Z"/>
<path fill="#fedc9b" d="M191,1686.5 195,1686.5 199,1686 203,1685 207,1684 210,1682 211,1681.5 215,1679 216,1678 219,1675.5 220.5,1674 223,1670.5 223.5,1670 226,1666 227,1663 227.5,1662 228.5,1658 228.5,1654 228.5,1650 227,1646 224.5,1642 223,1640.5 220,1638 219,1638 215,1636 211,1635.5 207,1635.5 203,1635.5 199,1636.5 195,1638 191,1640 188,1642 187,1643 183.5,1646 183,1647 180,1650 179,1652 177.5,1654 176,1658 175,1661 174.5,1662 174,1666 174,1670 175,1673.5 175,1674 177,1678 179,1680.5 180.5,1682 183,1683.5 187,1685.5 190,1686 191,1686.5ZM223,1433 227,1433 229,1430.5 231,1428 232,1426.5 234,1422.5 235,1421.5 237.5,1418.5 239,1417.5 243,1415 243.5,1414.5 247,1413 251,1411 252,1410.5 255,1409 259,1407 259.5,1406.5 263,1404.5 265,1402.5 267,1401 269.5,1398.5 271,1397 273,1394.5 275,1392 276,1390.5 278,1386.5 279,1385 280.5,1382.5 282,1378.5 283,1377 284,1374.5 285.5,1370.5 287,1367.5 287.5,1366.5 289.5,1362.5 291,1358.5 293,1354.5 294.5,1350.5 295,1349 296,1347 297.5,1343 299,1339 299,1338 300,1335 301.5,1331 302.5,1327 303,1326 304,1323 305,1319 306.5,1315 307,1313 307.5,1311 309,1307 310,1303 311,1299.5 311,1299 312,1295 312.5,1291 313,1287 313.5,1283 313.5,1279 313.5,1275 313,1271 312.5,1267 312,1263 311,1260 311,1259 309.5,1255 307.5,1251 307,1250 305,1247 303,1244 302,1243 299,1240 298,1239 295,1237 291.5,1235 291,1234.5 287,1233 283,1232.5 279,1232.5 275,1233 271,1234.5 270.5,1235 267,1237 264.5,1239 263,1240.5 260.5,1243 259,1245 257.5,1247 255,1250.5 254.5,1251 252,1255 251,1257 250,1259 248,1263 247,1265 246,1267 244.5,1271 243,1275 241.5,1279 240.5,1283 239.5,1287 239,1288.5 238.5,1291 237.5,1295 236.5,1299 235.5,1303 235,1303.5 234,1307 232.5,1311 231,1315 229.5,1319 228,1323 227,1325.5 226.5,1327 225,1331 224,1335 223,1338.5 223,1339 222,1343 221.5,1347 221.5,1350.5 221,1354.5 221.5,1358.5 221.5,1362.5 222,1366.5 222.5,1370.5 223,1372 223.5,1374.5 224.5,1378.5 225,1382.5 226,1386.5 226.5,1390.5 227,1393.5 227,1394.5 228,1398.5 228,1402.5 228.5,1406.5 228,1410.5 227,1414.5 227,1415 226,1418.5 223.5,1422.5 223,1424 222.5,1426.5 222,1430.5 223,1433Z"/>
<path fill="#f9c285" d="M195,1682 196,1682 199,1682 203,1681 207,1679.5 209,1678 211,1677 214.5,1674 215,1673.5 218,1670 219,1668.5 220.5,1666 222.5,1662 223,1659 223,1658 223.5,1654 223,1652 222.5,1650 221,1646 219,1644 216.5,1642 215,1641 211,1640 207,1639.5 203,1640 199,1641 195.5,1642 195,1642.5 191,1645 189.5,1646 187,1648.5 185,1650 183,1653.5 182.5,1654 180.5,1658 179,1662 179,1664.5 179,1666 179,1668 179,1670 180.5,1674 183,1677.5 184,1678 187,1680.5 191,1682 194,1682 195,1682ZM251,1372.5 255,1372.5 259,1370.5 263,1367 263.5,1366.5 266.5,1362.5 267,1362 269,1358.5 271,1356 271.5,1354.5 274,1350.5 275,1348.5 276,1347 277.5,1343 279,1339.5 279.5,1339 281,1335 282.5,1331 283,1328.5 283.5,1327 285,1323 286,1319 287,1316.5 287.5,1315 289,1311 290,1307 291,1304 291.5,1303 292.5,1299 293,1295 294,1291 294,1287 294,1283 293,1279 292,1275 291,1272.5 290.5,1271 287.5,1267 287,1266 283,1263 279,1261.5 275,1261.5 271,1263 267,1265.5 265,1267 263,1269 261,1271 259,1273.5 258,1275 255.5,1279 255,1279.5 253.5,1283 252,1287 251,1289.5 250.5,1291 249.5,1295 248.5,1299 247,1303 247,1303.5 246,1307 244.5,1311 243,1315 243,1315.5 241.5,1319 240,1323 239,1326 239,1327 237.5,1331 237,1335 236.5,1339 236.5,1343 236.5,1347 237.5,1350.5 238.5,1354.5 239,1357 240,1358.5 241.5,1362.5 243,1365 244,1366.5 247,1370 248,1370.5 251,1372.5Z"/>
<path fill="#f4a474" d="M195,1678 197.5,1678 199,1678 203,1677 207,1675 208.5,1674 211,1672.5 213,1670 215,1668 216,1666 218,1662 219,1658 219,1654 217.5,1650 215,1646.5 214.5,1646 211,1644.5 207,1643.5 203,1643.5 199,1644.5 195.5,1646 195,1646.5 191,1649.5 190,1650 187,1653.5 186.5,1654 184.5,1658 183.5,1662 183,1666 183,1666.5 184,1670 186,1674 187,1675 191,1677.5 194.5,1678 195,1678Z"/>
<path fill="#f08966" d="M199,1674 203,1673 207,1671 208,1670 211,1667 211.5,1666 214,1662 214.5,1658 214,1654 212,1650 211,1649.5 207,1647.5 203,1647.5 199,1648.5 195.5,1650 195,1650.5 191,1654 191,1654.5 188.5,1658 187.5,1662 187,1666 189,1670 191,1672.5 195,1674 196.5,1674 199,1674Z"/>
<path fill="#ec6c5b" d="M195,1668.5 199,1669.5 203,1668.5 206.5,1666 207,1665.5 209,1662 209.5,1658 208,1654 207,1653 203,1652 199,1653 197,1654 195,1656 193.5,1658 192,1662 192.5,1666 195,1668.5Z"/>
<path fill="#ebf3e0" d="M127,1746 131,1746 135,1746 139,1746 143,1746 147,1746 151,1746 155,1746 159,1746 163,1746 167,1746 171,1746 175,1746 179,1746 183,1746 187,1746 191,1746 195,1746 199,1746 203,1746 207,1746 211,1746 215,1746 215.5,1746 219,1744.5 223,1742.5 224,1742 227,1740.5 231,1738 235,1736 238,1734 239,1733.5 243,1731.5 245.5,1730 247,1729 251,1727 252.5,1726 255,1724.5 258.5,1722 259,1721.5 263,1718 266,1714 267,1712.5 268.5,1710 270.5,1706 271,1704.5 272,1702 274,1698 275,1696.5 276,1694 278,1690 279,1687 279.5,1686 280,1682 279.5,1678 279,1677 276.5,1674 275,1673 271,1671.5 267,1671 263,1671 259,1671.5 255,1672.5 251,1674 250.5,1674 247,1675.5 243,1677.5 241.5,1678 239,1679.5 235,1681.5 234.5,1682 231,1684 227.5,1686 227,1686.5 223,1688.5 220,1690 219,1690.5 215,1692.5 212,1694 211,1694.5 207,1696.5 203,1698 202.5,1698 199,1699.5 195,1700.5 191,1701 187,1701.5 183,1701.5 179,1701.5 175,1700.5 171,1699.5 168,1698 167,1697.5 163,1695 161,1694 159,1692.5 155,1690 154.5,1690 151,1689 148,1690 147,1690.5 143,1693.5 142,1694 139,1696.5 137,1698 135,1699.5 132,1702 131,1703 127.5,1706 127,1706.5 124,1710 123,1711.5 123,1714 123,1718 123,1722 123,1726 123,1730 123,1734 123,1738 123,1742 123,1746 127,1746ZM575,1734.5 579,1735 583,1736 587,1736.5 591,1737 595,1737 599,1737 603,1737 607,1736.5 611,1736 615,1735 617.5,1734 619,1733.5 623,1732 627,1730.5 628.5,1730 631,1729 635,1727.5 639,1726 643,1724.5 647,1723.5 651,1722.5 655,1722 655,1718 655,1714 655,1710 655,1706 655,1702 655,1698 655,1694 655,1690 655,1686 655,1682 655,1678 655,1674 655,1670 655,1666 655,1662 655,1658 655,1654 655,1650 655,1646 655,1642 655,1638 655,1634 655,1630 655,1626 655,1622 655,1618 655,1614 655,1610.5 655,1606.5 655,1602.5 655,1598.5 655,1594.5 655,1590.5 655,1586.5 655,1582.5 655,1578.5 655,1574.5 655,1570.5 655,1566.5 655,1562.5 655,1558.5 655,1554.5 655,1550.5 655,1546.5 655,1542.5 655,1538.5 655,1534.5 655,1530.5 655,1526.5 655,1522.5 655,1518.5 655,1514.5 655,1510.5 655,1506.5 655,1502.5 655,1498.5 655,1494.5 655,1490.5 655,1486.5 655,1482.5 655,1478.5 655,1474.5 655,1470.5 655,1466.5 655,1462.5 655,1458.5 655,1454.5 655,1450.5 655,1446.5 655,1442.5 655,1438.5 655,1434.5 655,1430.5 655,1426.5 655,1422.5 655,1418.5 655,1414.5 655,1410.5 655,1406.5 655,1402.5 655,1398.5 655,1394.5 655,1390.5 655,1386.5 655,1382.5 655,1378.5 655,1374.5 655,1370.5 655,1366.5 655,1362.5 655,1358.5 655,1354.5 655,1350.5 655,1347 655,1343 655,1339 655,1335 655,1331 655,1327 655,1323 655,1319 655,1315 655,1311 655,1307 655,1303 655,1299 655,1295 655,1291 655,1287 655,1283 655,1279 655,1275 655,1271 655,1267 655,1263 655,1259 655,1255 655,1251 655,1247 655,1243 655,1239 655,1235 655,1231 655,1227 655,1223 655,1219 655,1215 651,1215 647,1215 643,1215 639,1215 635,1215 631,1215 627,1215 623,1215 619,1215 615,1215 611,1215 607,1215 603,1215 599,1215 595,1215 591,1215 587,1215 583,1215 579,1215 575,1215 571,1215 567,1215 563,1215 559,1215 555,1215 551,1215 547,1215 543,1215 539,1215 535,1215 531,1215 527,1215 523,1215 519,1215 515,1215 511,1215 507,1215 503,1215 499,1215 495,1215 491,1215 487,1215 483,1215 479,1215 475,1215 471,1215 467,1215 463,1215 459,1215 455,1215 451,1215 447,1215 443,1215 439,1215 435,1215 431,1215 427,1215 423,1215 419,1215 415,1215 411,1215 407,1215 403,1215 399,1215 395,1215 391,1215 387,1215 383,1215 380,1215 380,1219 380,1223 379.5,1227 379.5,1231 379.5,1235 379.5,1239 379.5,1243 380,1247 380.5,1251 381,1255 382,1259 383,1263 383,1263.5 383.5,1267 384,1271 384.5,1275 384.5,1279 384.5,1283 384,1287 383.5,1291 383,1295 383,1298.5 383,1299 383,1303 382.5,1307 382.5,1311 382.5,1315 382,1319 381.5,1323 381,1327 380,1331 379,1335 377.5,1339 376,1343 375,1344.5 374,1347 372,1350.5 371,1352 369.5,1354.5 367,1358.5 364,1362.5 363,1364.5 361.5,1366.5 359,1369.5 358,1370.5 355,1374 354.5,1374.5 351,1378 350.5,1378.5 347,1381.5 345.5,1382.5 343,1384.5 340,1386.5 339,1387.5 335,1390 334.5,1390.5 331,1393 329,1394.5 327,1396.5 324.5,1398.5 323,1400.5 321,1402.5 319,1405.5 318,1406.5 315.5,1410.5 315,1411 312.5,1414.5 311,1416.5 309.5,1418.5 307,1421 305.5,1422.5 303,1425 301.5,1426.5 299,1428.5 296,1430.5 295,1431 291,1434 290,1434.5 287,1436.5 284.5,1438.5 283,1439.5 279,1442.5 275,1446 274.5,1446.5 271,1449.5 270,1450.5 267,1453.5 266,1454.5 263,1458 262.5,1458.5 259,1462.5 255,1466.5 255,1467 251.5,1470.5 251,1471 248,1474.5 247,1475.5 244,1478.5 243,1479.5 239.5,1482.5 239,1483 235,1486.5 231,1490.5 227,1494 227,1494.5 223,1498.5 219.5,1502.5 219,1503 216.5,1506.5 215,1508 213,1510.5 211,1513 210,1514.5 207,1518 207,1518.5 203.5,1522.5 203,1523 199.5,1526.5 199,1527 195,1530 194,1530.5 191,1532 187,1533.5 183,1534 179,1534 176.5,1534.5 175,1534.5 171,1535.5 167,1536.5 163,1538.5 159,1540 155,1541.5 152,1542.5 151,1542.5 147,1543 143,1542.5 139,1543 135.5,1546.5 137.5,1550.5 138.5,1554.5 138.5,1558.5 138.5,1562.5 138,1566.5 137.5,1570.5 137,1574.5 136.5,1578.5 136.5,1582.5 136,1586.5 135.5,1590.5 135,1594.5 135,1595 134.5,1598.5 133.5,1602.5 132,1606.5 131,1608.5 130,1610.5 127.5,1614 127,1615 124.5,1618 123,1620.5 123,1622 123,1626 123,1630 123,1634 123,1638 123,1642 123,1646 123,1650 123,1654 123,1657.5 123.5,1658 127,1661 129,1662 131,1663.5 135,1666 135.5,1666 139,1668.5 143,1670 147,1670 151,1668 152,1666 155,1662 157,1658 159,1655.5 159.5,1654 162,1650 163,1649 165,1646 167,1643.5 168,1642 171,1639 172,1638 175,1635.5 176.5,1634 179,1632.5 183,1630 187,1628.5 191,1627.5 195,1626.5 197,1626 199,1626 203,1625.5 207,1625 211,1625 215,1625 219,1625.5 222,1626 223,1626.5 227,1627.5 231,1629 234,1630 235,1630.5 239,1632.5 242,1634 243,1635 247,1637 249,1638 251,1639 255,1641 259,1642 260.5,1642 263,1643 267,1643 271,1643.5 275,1643.5 279,1643 283,1642.5 286.5,1642 287,1642 291,1641.5 295,1641 299,1640.5 303,1640 307,1639 311,1639 315,1638.5 319,1638.5 323,1638.5 327,1638.5 331,1639 335,1639 339,1638.5 343,1638.5 347,1638 351,1638 355,1637.5 359,1637.5 363,1637.5 367,1637.5 371,1637.5 375,1638 375.5,1638 379,1639 383,1640 387,1640.5 391,1641.5 395,1642 398,1642 399,1642.5 403,1643 407,1643 411,1643 415,1643.5 419,1643 423,1643 427,1643.5 431,1643.5 435,1644 439,1645 443,1646 444,1646 447,1647.5 451,1649 454.5,1650 455,1650.5 459,1653 461.5,1654 463,1655.5 465.5,1658 467,1662 468.5,1666 469,1670 470,1674 470.5,1678 471,1682 472,1686 473.5,1690 475,1694 478,1698 479,1699.5 482,1702 483,1703 487,1706 487,1706.5 491,1709 493.5,1710 495,1711 499,1712.5 503,1714 503.5,1714 507,1715.5 511,1717 512,1718 515,1719.5 518.5,1722 519,1722.5 523,1724.5 525.5,1726 527,1726.5 531,1728 535,1729.5 538.5,1730 539,1730 543,1730.5 547,1731 551,1731 555,1731.5 559,1731.5 563,1732 567,1732.5 571,1733.5 574,1734 575,1734.5ZM488.5,1666 487,1665 485,1662 483,1658 483,1654 487,1650 491,1649.5 495,1650 496.5,1650 499,1651.5 502.5,1654 503,1656 503.5,1658 503,1661 502.5,1662 500.5,1666 499,1668 495,1669 491,1668 488.5,1666ZM163,1331 167,1332 171,1332.5 175,1332 179,1331 179.5,1331 183,1329.5 187,1327.5 188,1327 191,1325 194,1323 195,1322 199,1319 203,1315 206.5,1311 207,1310 209.5,1307 211,1304.5 212,1303 214.5,1299 215,1297.5 216.5,1295 218,1291 219,1288.5 219.5,1287 221,1283 222,1279 223,1275 223,1274.5 224,1271 225,1267 225.5,1263 226,1259 226.5,1255 227,1252 227,1251 228,1247 228.5,1243 229.5,1239 230,1235 230.5,1231 231,1227 231,1224 231,1223 231,1221.5 231,1219 230.5,1215 227,1215 223,1215 219,1215 215,1215 211,1215 207,1215 203,1215 199,1215 195,1215 191,1215 187,1215 183,1215 179,1215 175,1215 171,1215 167.5,1219 167,1219.5 164,1223 163,1224.5 161,1227 159,1229 157.5,1231 155,1233.5 153.5,1235 151,1237 148.5,1239 147,1240.5 143.5,1243 143,1243.5 139,1247 136,1251 135,1253 134,1255 134,1259 135,1263 136.5,1267 138.5,1271 139,1271.5 140.5,1275 142,1279 143,1281.5 143.5,1283 144,1287 144.5,1291 145,1295 145,1299 145.5,1303 145.5,1307 146,1311 147,1314.5 147,1315 149,1319 151,1322 151.5,1323 155,1326.5 155.5,1327 159,1329 162.5,1331 163,1331Z"/>
<path fill="#cbe1b5" d="M195,1730 199,1730.5 203,1730.5 207,1730 207.5,1730 211,1729 215,1728 219,1726.5 219.5,1726 223,1724.5 227,1722.5 227.5,1722 231,1720 234.5,1718 235,1718 239,1715.5 241,1714 243,1713 246.5,1710 247,1710 251,1706.5 251.5,1706 255,1702.5 255.5,1702 258.5,1698 259,1696.5 260.5,1694 260.5,1690 259,1688 255,1686.5 251,1686.5 247,1687 243,1688 239,1689.5 237.5,1690 235,1691 231,1692.5 227.5,1694 227,1694.5 223,1696.5 219,1698 215,1700 211,1702 207,1704.5 203.5,1706 203,1706.5 199,1709 197.5,1710 195,1712.5 193,1714 191,1716.5 189.5,1718 188,1722 188.5,1726 191,1728 195,1730ZM639,1658.5 643,1659 647,1659 651,1659 655,1659 655,1658 655,1654 655,1650 655,1646 655,1642 655,1638 655,1634 655,1630 655,1626 655,1622 655,1618 655,1614 655,1610.5 655,1606.5 655,1602.5 655,1598.5 655,1594.5 655,1590.5 655,1586.5 655,1582.5 655,1578.5 655,1574.5 655,1570.5 655,1566.5 655,1562.5 655,1558.5 655,1554.5 655,1550.5 655,1546.5 655,1542.5 655,1538.5 655,1534.5 655,1530.5 655,1526.5 655,1522.5 655,1518.5 655,1514.5 655,1510.5 655,1506.5 655,1502.5 655,1498.5 655,1494.5 655,1490.5 655,1486.5 655,1482.5 655,1478.5 655,1474.5 655,1470.5 655,1466.5 655,1462.5 655,1458.5 655,1454.5 655,1450.5 655,1446.5 655,1442.5 655,1438.5 655,1434.5 655,1430.5 655,1426.5 655,1422.5 655,1418.5 655,1414.5 655,1410.5 655,1406.5 655,1402.5 655,1398.5 655,1394.5 655,1390.5 655,1386.5 655,1382.5 655,1378.5 655,1374.5 655,1370.5 655,1366.5 655,1362.5 655,1358.5 655,1354.5 655,1350.5 655,1347 655,1343 655,1339 655,1335 655,1331 655,1327 655,1323 655,1319 655,1315 655,1311 655,1307 655,1303 655,1299 655,1295 655,1291 655,1287 655,1283 655,1279 655,1275 655,1271 655,1267 655,1263 655,1259 655,1255 655,1251 655,1247 655,1243 655,1239 655,1235 655,1231 655,1227 655,1223 655,1219 655,1215 651,1215 647,1215 643,1215 639,1215 635,1215 631,1215 627,1215 623,1215 619,1215 615,1215 611,1215 607,1215 603,1215 599,1215 595,1215 591,1215 587,1215 583,1215 579,1215 575,1215 571,1215 567,1215 563,1215 559,1215 555,1215 551,1215 547,1215 543,1215 539,1215 535,1215 531,1215 527,1215 523,1215 519,1215 515,1215 511,1215 507,1215 503,1215 499,1215 495,1215 491,1215 487,1215 483,1215 479,1215 475,1215 471,1215 467,1215 463,1215 459,1215 455,1215 451,1215 447,1215 443,1215 439,1215 435,1215 431,1215 427,1215 423,1215 419,1215 415,1215 411,1215 407,1215 403,1215 399,1215 397.5,1215 397.5,1219 397,1223 397,1227 397,1231 397,1235 398,1239 399,1243 401,1247 402.5,1251 403,1251.5 404.5,1255 405.5,1259 406,1263 406,1267 406,1271 405.5,1275 405.5,1279 406,1283 406,1287 407,1291 407,1292 407.5,1295 408,1299 408.5,1303 408,1307 407,1311 406,1315 404.5,1319 403,1323 401.5,1327 400,1331 399,1334 399,1335 397.5,1339 396,1343 395,1344.5 394,1347 392,1350.5 391,1352.5 390,1354.5 387,1358.5 387,1359 384.5,1362.5 383,1364.5 381.5,1366.5 379,1370 378.5,1370.5 375,1374.5 371.5,1378.5 371,1379 367.5,1382.5 367,1383.5 363.5,1386.5 363,1387 359,1390.5 358.5,1390.5 355,1393.5 353,1394.5 351,1396 347.5,1398.5 347,1399 343,1402 342.5,1402.5 339,1405.5 338,1406.5 335,1410 334.5,1410.5 331,1414.5 331,1415 328,1418.5 327,1420.5 325.5,1422.5 323,1425.5 322.5,1426.5 319,1430.5 315,1434.5 314.5,1434.5 311,1437.5 310,1438.5 307,1440.5 304,1442.5 303,1443.5 299,1446 297.5,1446.5 295,1448 291,1450.5 287,1453 284.5,1454.5 283,1456 279.5,1458.5 279,1459 275.5,1462.5 275,1463 271.5,1466.5 271,1467.5 268.5,1470.5 267,1472 265,1474.5 263,1477 262,1478.5 259,1482 258.5,1482.5 255,1486.5 255,1487 252,1490.5 251,1491.5 248,1494.5 247,1496 244.5,1498.5 243,1500.5 241.5,1502.5 239,1505 238,1506.5 235,1510 234.5,1510.5 231.5,1514.5 231,1515 228.5,1518.5 227,1520 225,1522.5 223,1525 222,1526.5 219,1529.5 218.5,1530.5 215,1534.5 212,1538.5 211,1539.5 209,1542.5 207,1545 206,1546.5 203,1550.5 200.5,1554.5 199,1556.5 198,1558.5 195.5,1562.5 195,1563.5 193.5,1566.5 191.5,1570.5 191,1571.5 189.5,1574.5 188,1578.5 187,1581.5 186.5,1582.5 185.5,1586.5 184,1590.5 183,1594.5 183,1595 182.5,1598.5 182,1602.5 183,1606.5 185,1610.5 187,1612.5 189.5,1614 191,1615 195,1616.5 199,1617 203,1617.5 207,1617.5 211,1617.5 215,1617.5 219,1618 222,1618 223,1618.5 227,1619 231,1619.5 235,1620.5 239,1621.5 243,1622 247,1623 251,1624 255,1625 259,1626 261.5,1626 263,1626.5 267,1627 271,1627.5 275,1627.5 279,1628 283,1627.5 287,1627.5 291,1627 295,1626.5 299,1626.5 300.5,1626 303,1626 307,1626 311,1625.5 315,1625.5 319,1626 323,1626 327,1626 331,1626.5 335,1626.5 339,1627 343,1627 347,1627 351,1627 355,1627 359,1627 363,1627 367,1627.5 371,1627.5 375,1628 379,1629 383,1629.5 386.5,1630 387,1630.5 391,1631 395,1631.5 399,1632 403,1632 407,1632.5 411,1632 415,1632 419,1632 423,1631.5 427,1631.5 431,1631.5 435,1631.5 439,1631.5 443,1632 447,1632.5 451,1632.5 455,1633 459,1633 463,1633.5 467,1633 471,1633 475,1633 479,1632.5 483,1632.5 487,1633 491,1633 495,1633.5 499,1634 500.5,1634 503,1634.5 507,1635.5 511,1636.5 515,1637.5 518,1638 519,1638.5 523,1639.5 527,1640.5 531,1641.5 535,1642 539,1643 543,1643.5 547,1643.5 551,1644 555,1644 559,1644 563,1644.5 567,1644.5 571,1645 575,1645 579,1645.5 583,1646 584,1646 587,1647 591,1647.5 595,1648 599,1649 603,1649.5 606,1650 607,1650.5 611,1651.5 615,1652.5 619,1653.5 621,1654 623,1655 627,1656 631,1657 635,1658 637,1658 639,1658.5ZM183,1295 187,1297 191,1297.5 195,1296.5 199,1295 203,1291.5 203.5,1291 206.5,1287 207,1286 208.5,1283 210.5,1279 211,1277 211.5,1275 212.5,1271 213.5,1267 214,1263 214.5,1259 214.5,1255 214.5,1251 214.5,1247 213.5,1243 213,1239 211.5,1235 211,1233.5 209,1231 207,1229 203,1227.5 199,1228 195,1230 193.5,1231 191,1233 189,1235 187,1237 185.5,1239 183,1242 182.5,1243 180,1247 179,1249.5 178.5,1251 177,1255 176,1259 175.5,1263 175,1266 175,1267 175,1271 175,1275 175,1276.5 175,1279 176,1283 177,1287 179,1291 182.5,1295 183,1295Z"/>
<path fill="#a4d1a7" d="M219,1712 223,1711.5 227,1710.5 227.5,1710 231,1707.5 233.5,1706 231,1703.5 227,1704.5 223,1706 223,1706.5 219,1709.5 218,1710 219,1712ZM623,1638.5 627,1639 631,1639.5 635,1640 639,1640.5 643,1640.5 647,1641 651,1641 655,1641 655,1638 655,1634 655,1630 655,1626 655,1622 655,1618 655,1614 655,1610.5 655,1606.5 655,1602.5 655,1598.5 655,1594.5 655,1590.5 655,1586.5 655,1582.5 655,1578.5 655,1574.5 655,1570.5 655,1566.5 655,1562.5 655,1558.5 655,1554.5 655,1550.5 655,1546.5 655,1542.5 655,1538.5 655,1534.5 655,1530.5 655,1526.5 655,1522.5 655,1518.5 655,1514.5 655,1510.5 655,1506.5 655,1502.5 655,1498.5 655,1494.5 655,1490.5 655,1486.5 655,1482.5 655,1478.5 655,1474.5 655,1470.5 655,1466.5 655,1462.5 655,1458.5 655,1454.5 655,1450.5 655,1446.5 655,1442.5 655,1438.5 655,1434.5 655,1430.5 655,1426.5 655,1422.5 655,1418.5 655,1414.5 655,1410.5 655,1406.5 655,1402.5 655,1398.5 655,1394.5 655,1390.5 655,1386.5 655,1382.5 655,1378.5 655,1374.5 655,1370.5 655,1366.5 655,1362.5 655,1358.5 655,1354.5 655,1350.5 655,1347 655,1343 655,1339 655,1335 655,1331 655,1327 655,1323 655,1319 655,1315 655,1311 655,1307 655,1303 655,1299 655,1295 655,1291 655,1287 655,1283 655,1279 655,1275 655,1271 655,1267 655,1263 655,1259 655,1255 655,1251 655,1247 655,1243 655,1239 655,1235 655,1231 655,1227 655,1223 655,1219 655,1215 651,1215 647,1215 643,1215 639,1215 635,1215 631,1215 627,1215 623,1215 619,1215 615,1215 611,1215 607,1215 603,1215 599,1215 595,1215 591,1215 587,1215 583,1215 579,1215 575,1215 571,1215 567,1215 563,1215 559,1215 555,1215 551,1215 547,1215 543,1215 539,1215 535,1215 531,1215 527,1215 523,1215 519,1215 515,1215 511,1215 507,1215 503,1215 499,1215 495.5,1215 495,1216 493.5,1219 491,1222.5 490.5,1223 487,1227 483,1231 479,1235 475.5,1239 475,1239.5 473,1243 471,1247 469.5,1251 469,1255 468.5,1259 469,1263 470,1267 471,1271 473,1275 475,1279 478,1283 479,1284 482.5,1287 483,1287 487,1290 488.5,1291 491,1293.5 492,1295 492.5,1299 491,1302.5 491,1303 487,1306.5 486.5,1307 483,1309 480,1311 479,1311 475,1313 472,1315 471,1315.5 467,1317.5 464.5,1319 463,1319.5 459,1322 457,1323 455,1324 451,1326 449.5,1327 447,1328 443,1330 441,1331 439,1331.5 435,1333.5 433,1335 431,1336 427.5,1339 427,1339 424,1343 423,1344 421,1347 419,1349.5 418.5,1350.5 415.5,1354.5 415,1355 412.5,1358.5 411,1360.5 409.5,1362.5 407,1366 406.5,1366.5 404,1370.5 403,1372 401,1374.5 399,1378 398.5,1378.5 396,1382.5 395,1384 393,1386.5 391,1389 389.5,1390.5 387,1393 385,1394.5 383,1396 379,1398.5 379,1399 375,1401 372.5,1402.5 371,1403.5 367,1406 365.5,1406.5 363,1408.5 359.5,1410.5 359,1411 355,1414 354.5,1414.5 351,1418 350.5,1418.5 347.5,1422.5 347,1423.5 345,1426.5 343,1430.5 340.5,1434.5 339,1437 338,1438.5 335,1442.5 331.5,1446.5 331,1447 327,1450.5 323,1453.5 322,1454.5 319,1456.5 315.5,1458.5 315,1459 311,1461 307.5,1462.5 307,1463 303,1464.5 299,1466.5 295,1468.5 292,1470.5 291,1471 287,1474 286.5,1474.5 283,1478 282.5,1478.5 279,1482 279,1482.5 275.5,1486.5 275,1487 272.5,1490.5 271,1492.5 269.5,1494.5 267,1498 266.5,1498.5 264,1502.5 263,1503.5 261,1506.5 259,1509.5 258.5,1510.5 255.5,1514.5 255,1515 252.5,1518.5 251,1520.5 249.5,1522.5 247,1525 246,1526.5 243,1529.5 242,1530.5 239,1533.5 238,1534.5 235,1537 233.5,1538.5 231,1540.5 229,1542.5 227,1544 224.5,1546.5 223,1548 220.5,1550.5 219,1552 216.5,1554.5 215,1556 213.5,1558.5 211,1561.5 210.5,1562.5 208,1566.5 207,1568.5 206,1570.5 204.5,1574.5 203.5,1578.5 203,1580.5 202.5,1582.5 202.5,1586.5 202,1590.5 202.5,1594.5 203,1596 204,1598.5 207,1602 207,1602.5 211,1604 215,1605 219,1606 220.5,1606.5 223,1606.5 227,1607 231,1608 235,1608.5 239,1609.5 243,1610.5 247,1611 251,1612 255,1612.5 259,1613.5 263,1614 264.5,1614 267,1614.5 271,1615 275,1615.5 279,1615.5 283,1615.5 287,1615.5 291,1615.5 295,1615 299,1615 303,1614.5 307,1614.5 311,1614.5 315,1614.5 319,1614.5 323,1614.5 327,1615 331,1615 335,1615.5 339,1615.5 343,1615.5 347,1615.5 351,1615.5 355,1615.5 359,1615.5 363,1616 367,1616 371,1616.5 375,1617.5 379,1618 380,1618 383,1619 387,1619.5 391,1620 395,1620.5 399,1621 403,1621 407,1621 411,1620.5 415,1620 419,1619.5 423,1619 426.5,1618 427,1618 431,1617.5 435,1616.5 439,1616 443,1615 447,1614.5 448,1614 451,1613.5 455,1613 459,1613 463,1613 467,1613.5 469.5,1614 471,1614.5 475,1615.5 479,1616.5 483,1617.5 485,1618 487,1618.5 491,1619.5 495,1620.5 499,1621 503,1622 507,1623 511,1624 515,1625 519,1626 520,1626 523,1627 527,1627.5 531,1628.5 535,1629 539,1629.5 543,1630 547,1630 548,1630 551,1630.5 555,1630.5 559,1631 563,1631 567,1631.5 571,1632 575,1632 579,1632.5 583,1633 587,1633.5 591,1634 593,1634 595,1634.5 599,1635 603,1635.5 607,1636 611,1636.5 615,1637.5 619,1638 621,1638 623,1638.5Z"/>
<path fill="#79c2a2" d="M623,1626.5 627,1627.5 631,1628 635,1628 639,1628.5 643,1628.5 647,1628 651,1628 655,1627.5 655,1626 655,1622 655,1618 655,1614 655,1610.5 655,1606.5 655,1602.5 655,1598.5 655,1594.5 655,1590.5 655,1586.5 655,1582.5 655,1578.5 655,1574.5 655,1570.5 655,1566.5 655,1562.5 655,1558.5 655,1554.5 655,1550.5 655,1546.5 655,1542.5 655,1538.5 655,1534.5 655,1530.5 655,1526.5 655,1522.5 655,1518.5 655,1514.5 655,1510.5 655,1506.5 655,1502.5 655,1498.5 655,1494.5 655,1490.5 655,1486.5 655,1482.5 655,1478.5 655,1474.5 655,1470.5 655,1466.5 655,1462.5 655,1458.5 655,1454.5 655,1450.5 655,1446.5 655,1442.5 655,1438.5 655,1434.5 655,1430.5 655,1426.5 655,1422.5 655,1418.5 655,1414.5 655,1410.5 655,1406.5 655,1402.5 655,1398.5 655,1394.5 655,1390.5 655,1386.5 655,1382.5 655,1378.5 655,1374.5 655,1370.5 655,1366.5 655,1362.5 655,1358.5 655,1354.5 655,1350.5 655,1347 655,1343 655,1339 655,1335 655,1331 655,1327 655,1323 655,1319 655,1315 655,1311 655,1307 655,1303 655,1299 655,1295 655,1291 655,1287 655,1283 655,1279 655,1275 655,1271 655,1267 655,1263 655,1259 655,1255 655,1251 655,1247 655,1243 655,1239 655,1235 655,1231 655,1227 655,1223 655,1219 655,1215 651,1215 647,1215 643,1215 639,1215 635,1215 631,1215 627,1215 623,1215 619,1215 615,1215 611,1215 607,1215 603,1215 599,1215 595,1215 591,1215 587,1215 583,1215 579,1215 575,1215 571,1215 567,1215 563,1215 559,1215 555,1215 551,1215 547,1215 543,1215 542.5,1215 541.5,1219 540.5,1223 540.5,1227 540,1231 540,1235 539.5,1239 539,1243 539,1245 539,1247 538,1251 537,1255 536,1259 535,1263 534,1267 533,1271 532,1275 531,1279 531,1281 531,1283 530.5,1287 530.5,1291 530.5,1295 530.5,1299 530.5,1303 530.5,1307 530,1311 529.5,1315 528.5,1319 527,1323 527,1323.5 526,1327 525,1331 524.5,1335 525,1339 526,1343 527,1345.5 527.5,1347 528.5,1350.5 530,1354.5 531,1358 531,1358.5 532,1362.5 532,1366.5 532,1370.5 531.5,1374.5 531,1377.5 530.5,1378.5 529.5,1382.5 528.5,1386.5 528,1390.5 528,1394.5 528.5,1398.5 529,1402.5 529,1406.5 529.5,1410.5 529,1414.5 528.5,1418.5 528,1422.5 527,1425 526.5,1426.5 524.5,1430.5 523,1433 522,1434.5 519.5,1438.5 519,1440 517,1442.5 515.5,1446.5 515,1447.5 514,1450.5 513,1454.5 513.5,1458.5 514,1462.5 515,1465 515.5,1466.5 517,1470.5 519,1474.5 520.5,1478.5 522.5,1482.5 523,1484 524,1486.5 525,1490.5 526,1494.5 526.5,1498.5 527,1502.5 527.5,1506.5 527.5,1510.5 528,1514.5 528,1518.5 528.5,1522.5 528.5,1526.5 528.5,1530.5 528,1534.5 527.5,1538.5 527,1541 526.5,1542.5 525.5,1546.5 523.5,1550.5 523,1552 522,1554.5 519.5,1558.5 519,1559.5 517.5,1562.5 515.5,1566.5 515,1567 513,1570.5 511,1574.5 511,1575 509.5,1578.5 508.5,1582.5 508,1586.5 508,1590.5 509.5,1594.5 511,1596.5 512.5,1598.5 515,1600.5 517.5,1602.5 519,1603 523,1605 525.5,1606.5 527,1606.5 531,1608 535,1608.5 539,1609.5 543,1610 545.5,1610.5 547,1610.5 551,1611 555,1612 559,1613 563,1614 563.5,1614 567,1615 571,1616 575,1617 579,1618 583,1619 587,1620 591,1620.5 595,1621.5 598.5,1622 599,1622.5 603,1623 607,1624 611,1624.5 615,1625.5 619,1626 620,1626 623,1626.5ZM267,1582.5 271,1583 275,1583.5 279,1584 283,1583.5 287,1583 288,1582.5 291,1581 294,1578.5 295,1577 297,1574.5 299,1571 299.5,1570.5 301.5,1566.5 303,1564 304,1562.5 306,1558.5 307,1557 308.5,1554.5 311,1551 311.5,1550.5 314.5,1546.5 315,1545.5 317.5,1542.5 319,1540 320.5,1538.5 323,1534.5 323,1534 325,1530.5 326.5,1526.5 327,1523 327,1522.5 327.5,1518.5 327.5,1514.5 327,1512 326.5,1510.5 325,1506.5 323,1504 321,1502.5 319,1501.5 315,1500 311,1500 307,1500 303,1501 299,1502.5 295,1504.5 292,1506.5 291,1507.5 287.5,1510.5 287,1511 284,1514.5 283,1515.5 281,1518.5 279,1521 278,1522.5 275,1526 275,1526.5 272,1530.5 271,1531.5 268.5,1534.5 267,1536.5 265.5,1538.5 263,1542 262.5,1542.5 259.5,1546.5 259,1547.5 257,1550.5 255,1553.5 254.5,1554.5 252.5,1558.5 251,1562.5 250,1566.5 250,1570.5 251,1573.5 251,1574.5 254.5,1578.5 255,1578.5 259,1580.5 263,1582 265.5,1582.5 267,1582.5ZM423,1567.5 427,1568.5 431,1569 435,1568.5 439,1568 443,1566.5 443.5,1566.5 447,1564.5 449.5,1562.5 451,1561 453.5,1558.5 455,1555.5 455.5,1554.5 457,1550.5 457.5,1546.5 458,1542.5 457.5,1538.5 457,1534.5 455.5,1530.5 455,1529.5 453.5,1526.5 451,1523.5 449.5,1522.5 447,1521 443,1519.5 439,1519 435,1519 431,1520 427,1521 424.5,1522.5 423,1523 419,1525 416.5,1526.5 415,1527 411,1528 407,1527 406,1526.5 403,1525 399,1522.5 398.5,1522.5 395,1521 391,1520 387,1520 383,1520.5 379,1522.5 375,1525 373.5,1526.5 371,1530 370.5,1530.5 369,1534.5 368.5,1538.5 369,1542.5 370.5,1546.5 371,1547 374,1550.5 375,1551.5 379,1553.5 383,1554 387,1554 391,1553.5 395,1553 399,1553 403,1553.5 404.5,1554.5 407,1556 409.5,1558.5 411,1559.5 414.5,1562.5 415,1563 419,1565.5 421,1566.5 423,1567.5Z"/>
<path fill="#4db6a4" d="M627,1610.5 631,1611 635,1611 639,1611 643,1610.5 645,1610.5 647,1610 651,1609 655,1607.5 655,1606.5 655,1602.5 655,1598.5 655,1594.5 655,1590.5 655,1586.5 655,1582.5 655,1578.5 655,1574.5 655,1570.5 655,1566.5 655,1562.5 655,1558.5 655,1554.5 655,1550.5 655,1546.5 655,1542.5 655,1538.5 655,1534.5 655,1530.5 655,1526.5 655,1522.5 655,1518.5 655,1514.5 655,1510.5 655,1506.5 655,1502.5 655,1498.5 655,1494.5 655,1490.5 655,1486.5 655,1482.5 655,1478.5 655,1474.5 655,1470.5 655,1466.5 655,1462.5 655,1458.5 655,1454.5 655,1450.5 655,1446.5 655,1442.5 655,1438.5 655,1434.5 655,1430.5 655,1426.5 655,1422.5 655,1418.5 655,1414.5 655,1410.5 655,1406.5 655,1402.5 655,1398.5 655,1394.5 655,1390.5 655,1386.5 655,1382.5 655,1378.5 655,1374.5 655,1370.5 655,1366.5 655,1362.5 655,1358.5 655,1354.5 655,1350.5 655,1347 655,1343 655,1339 655,1335 655,1331 655,1327 655,1323 655,1319 655,1315 655,1311 655,1307 655,1303 655,1299 655,1295 655,1291 655,1287 655,1283 655,1279 655,1275 655,1271 655,1267 655,1263 655,1259 655,1255 655,1251 655,1247 655,1243 655,1239 655,1235 655,1231 655,1227 655,1223 655,1219 655,1215 651,1215 647,1215 643,1215 639,1215 635,1215 631,1215 627,1215 623,1215 619,1215 615,1215 611,1215 607,1215 603,1215 599,1215 595,1215 591,1215 587,1215 583,1215 579,1215 575,1215 574.5,1215 571.5,1219 571,1220 569.5,1223 567.5,1227 567,1228 566,1231 564.5,1235 563.5,1239 563,1243 562.5,1247 561.5,1251 561,1255 560,1259 559.5,1263 559,1264.5 558.5,1267 557.5,1271 556.5,1275 556,1279 555,1283 555,1284 554.5,1287 554.5,1291 554.5,1295 554.5,1299 554.5,1303 554.5,1307 554.5,1311 554.5,1315 554.5,1319 554.5,1323 554,1327 553.5,1331 553.5,1335 553.5,1339 553.5,1343 553.5,1347 554,1350.5 554.5,1354.5 555,1356.5 555.5,1358.5 556,1362.5 557,1366.5 557.5,1370.5 558.5,1374.5 559,1378.5 559,1380.5 559,1382.5 559.5,1386.5 559.5,1390.5 559,1394.5 559,1396 558.5,1398.5 558,1402.5 557.5,1406.5 557,1410.5 556,1414.5 555.5,1418.5 555,1421.5 555,1422.5 554,1426.5 553,1430.5 552,1434.5 551,1437.5 550.5,1438.5 549.5,1442.5 548.5,1446.5 548,1450.5 548,1454.5 548,1458.5 549,1462.5 550,1466.5 551,1470 551,1470.5 552.5,1474.5 554,1478.5 555,1482 555,1482.5 556,1486.5 557,1490.5 558,1494.5 558.5,1498.5 559,1502 559,1502.5 559.5,1506.5 560,1510.5 560.5,1514.5 561,1518.5 561.5,1522.5 562,1526.5 562.5,1530.5 563,1533 563,1534.5 563.5,1538.5 564,1542.5 564.5,1546.5 564.5,1550.5 565,1554.5 565.5,1558.5 566,1562.5 567,1566.5 568,1570.5 569,1574.5 571,1578.5 573,1582.5 575,1585.5 575.5,1586.5 579,1590.5 583,1594 583.5,1594.5 587,1597 589,1598.5 591,1599.5 595,1601.5 597,1602.5 599,1603 603,1604.5 607,1605.5 609,1606.5 611,1607 615,1608 619,1609 623,1609.5 626.5,1610.5 627,1610.5Z"/>
<path fill="#04aaac" d="M619,1583 623,1584 627,1584.5 631,1585 635,1585 639,1585 643,1584 647,1582.5 651,1579.5 652.5,1578.5 655,1576 655,1574.5 655,1570.5 655,1566.5 655,1562.5 655,1558.5 655,1554.5 655,1550.5 655,1546.5 655,1542.5 655,1538.5 655,1534.5 655,1530.5 655,1526.5 655,1522.5 655,1518.5 655,1514.5 655,1510.5 655,1506.5 655,1502.5 655,1498.5 655,1494.5 655,1490.5 655,1486.5 655,1482.5 655,1478.5 655,1474.5 655,1470.5 655,1466.5 655,1462.5 655,1458.5 655,1454.5 655,1450.5 655,1446.5 655,1442.5 655,1438.5 655,1434.5 655,1430.5 655,1426.5 655,1422.5 655,1418.5 655,1414.5 655,1410.5 655,1406.5 655,1402.5 655,1398.5 655,1394.5 655,1390.5 655,1386.5 655,1382.5 655,1378.5 655,1374.5 655,1370.5 655,1366.5 655,1362.5 655,1358.5 655,1354.5 655,1350.5 655,1347 655,1343 655,1339 655,1335 655,1331 655,1327 655,1323 655,1319 655,1315 655,1311 655,1307 655,1303 655,1299 655,1295 655,1291 655,1287 655,1283 655,1279 655,1275 655,1271 655,1267 655,1263 655,1259 655,1255 655,1251 655,1249 653.5,1247 651,1243.5 650.5,1243 647.5,1239 647,1238.5 643.5,1235 643,1234.5 639,1231 635,1228 633.5,1227 631,1225.5 627,1223.5 625,1223 623,1222.5 619,1221.5 615,1221.5 611,1221.5 607,1222 604,1223 603,1223 599,1224.5 595,1226.5 594.5,1227 591,1229.5 589,1231 587,1233 585.5,1235 583,1239 581.5,1243 580,1247 579,1251 579,1252 578.5,1255 578,1259 577.5,1263 576.5,1267 576,1271 575,1275 575,1276 574.5,1279 574,1283 573,1287 572.5,1291 572.5,1295 572,1299 572,1303 572,1307 571.5,1311 571.5,1315 571.5,1319 571.5,1323 571,1327 571,1331 571,1332.5 571,1335 571,1339 571,1343 571,1347 571,1349 571,1350.5 571.5,1354.5 572,1358.5 572.5,1362.5 573,1366.5 574,1370.5 574.5,1374.5 575,1376.5 575.5,1378.5 576,1382.5 576.5,1386.5 576.5,1390.5 577,1394.5 577,1398.5 576.5,1402.5 576.5,1406.5 576.5,1410.5 576,1414.5 576,1418.5 576,1422.5 575.5,1426.5 575.5,1430.5 575,1433 575,1434.5 574,1438.5 573.5,1442.5 573,1446.5 572.5,1450.5 572,1454.5 572,1458.5 572.5,1462.5 573,1466.5 573.5,1470.5 574,1474.5 575,1478.5 575.5,1482.5 576.5,1486.5 577,1490.5 577.5,1494.5 578,1498.5 578.5,1502.5 579,1504.5 579,1506.5 579.5,1510.5 580,1514.5 580.5,1518.5 581,1522.5 581.5,1526.5 582,1530.5 582.5,1534.5 583,1538.5 584,1542.5 584.5,1546.5 586,1550.5 587,1554 587,1554.5 589,1558.5 591,1562.5 593.5,1566.5 595,1568.5 596.5,1570.5 599,1573 601,1574.5 603,1576 606.5,1578.5 607,1578.5 611,1580.5 615,1582 616.5,1582.5 619,1583Z"/>
<path fill="#0696b3" d="M619,1550.5 623,1552 627,1552.5 631,1553 635,1552.5 639,1551 640,1550.5 643,1548.5 645,1546.5 647,1544 648,1542.5 650.5,1538.5 651,1537 652,1534.5 653,1530.5 654,1526.5 655,1522.5 655,1518.5 655,1514.5 655,1510.5 655,1506.5 655,1502.5 655,1498.5 655,1494.5 655,1490.5 655,1486.5 655,1482.5 655,1478.5 655,1474.5 655,1470.5 655,1466.5 655,1462.5 655,1458.5 655,1454.5 655,1450.5 655,1446.5 655,1442.5 655,1438.5 655,1434.5 655,1430.5 655,1426.5 655,1422.5 655,1418.5 655,1414.5 655,1410.5 655,1406.5 655,1402.5 655,1398.5 655,1394.5 655,1390.5 655,1386.5 655,1382.5 655,1380.5 654.5,1378.5 654,1374.5 654,1370.5 653.5,1366.5 653.5,1362.5 653.5,1358.5 653.5,1354.5 654,1350.5 654,1347 654,1343 654,1339 653.5,1335 653,1331 652,1327 651,1323 651,1322.5 650,1319 649.5,1315 649,1311 648.5,1307 648,1303 648,1299 648,1295 648,1291 648,1287 648,1283 648,1279 647.5,1275 647,1273.5 646.5,1271 645,1267 643,1263 640.5,1259 639,1257 637,1255 635,1252.5 633.5,1251 631,1249 628,1247 627,1246 623,1244 619,1243 618,1243 615,1242.5 613,1243 611,1243.5 607,1245 604,1247 603,1248 600.5,1251 599,1253.5 598.5,1255 596.5,1259 595.5,1263 595,1264.5 594.5,1267 593.5,1271 592.5,1275 591.5,1279 591,1281.5 590.5,1283 590,1287 589.5,1291 589,1295 588.5,1299 588,1303 587.5,1307 587.5,1311 587,1315 587,1317.5 587,1319 586.5,1323 586.5,1327 586.5,1331 586,1335 586,1339 586,1343 586,1347 586,1350.5 586.5,1354.5 587,1358.5 587,1360.5 587.5,1362.5 588,1366.5 588.5,1370.5 589,1374.5 589.5,1378.5 590,1382.5 590.5,1386.5 591,1390.5 591,1393 591,1394.5 591.5,1398.5 591.5,1402.5 591.5,1406.5 592,1410.5 592,1414.5 592,1418.5 592.5,1422.5 592.5,1426.5 592,1430.5 592,1434.5 591.5,1438.5 591,1442 591,1442.5 590.5,1446.5 590,1450.5 589.5,1454.5 589.5,1458.5 589.5,1462.5 589.5,1466.5 590,1470.5 591,1474.5 591,1476 591.5,1478.5 592.5,1482.5 593.5,1486.5 594.5,1490.5 595,1494 595,1494.5 596,1498.5 596.5,1502.5 597.5,1506.5 598,1510.5 598.5,1514.5 599,1518.5 599,1519.5 599.5,1522.5 600,1526.5 601,1530.5 602.5,1534.5 603,1535.5 604.5,1538.5 607,1542 607.5,1542.5 611,1546 611.5,1546.5 615,1548.5 618.5,1550.5 619,1550.5Z"/>
<path fill="#0080c0" d="M627,1499.5 631,1499.5 632.5,1498.5 635,1496 636,1494.5 638,1490.5 639,1487 639,1486.5 639.5,1482.5 639.5,1478.5 639,1474.5 638,1470.5 637.5,1466.5 636.5,1462.5 636.5,1458.5 636,1454.5 636,1450.5 636.5,1446.5 637,1442.5 637.5,1438.5 638.5,1434.5 639,1432 639,1430.5 640,1426.5 640.5,1422.5 641.5,1418.5 642,1414.5 642,1410.5 642.5,1406.5 642.5,1402.5 642,1398.5 641.5,1394.5 641,1390.5 640.5,1386.5 640,1382.5 639,1378.5 639,1377 638.5,1374.5 638,1370.5 637.5,1366.5 637.5,1362.5 637.5,1358.5 638,1354.5 638,1350.5 638,1347 638.5,1343 638,1339 638,1335 637,1331 636.5,1327 636,1323 635,1319 635,1318.5 634.5,1315 633.5,1311 633,1307 632.5,1303 631.5,1299 631,1295.5 631,1295 629.5,1291 628,1287 627,1284.5 625.5,1283 623,1280.5 619,1279.5 615,1281.5 614,1283 611,1287 609,1291 607.5,1295 607,1296.5 606.5,1299 605.5,1303 605,1307 604,1311 603.5,1315 603.5,1319 603,1323 603,1324 603,1327 603,1331 603,1335 603,1336.5 603,1339 603.5,1343 603.5,1347 604,1350.5 604.5,1354.5 604.5,1358.5 604.5,1362.5 605,1366.5 605,1370.5 605,1374.5 605.5,1378.5 605.5,1382.5 606,1386.5 606,1390.5 606.5,1394.5 606.5,1398.5 607,1402.5 607,1403 607.5,1406.5 608,1410.5 608.5,1414.5 608.5,1418.5 609,1422.5 609.5,1426.5 609.5,1430.5 609.5,1434.5 609.5,1438.5 609.5,1442.5 609.5,1446.5 609,1450.5 609,1454.5 609.5,1458.5 610,1462.5 610.5,1466.5 611,1468 612,1470.5 613,1474.5 614.5,1478.5 615,1479.5 616.5,1482.5 618.5,1486.5 619,1488 620.5,1490.5 622.5,1494.5 623,1495 626,1498.5 627,1499.5Z"/>
</g>
<g clip-path="url(#cp21)" shape-rendering="geometricPrecision">
<path fill="#fef2d9" d="M763,1746 767,1746 771,1746 775,1746 779,1746 783,1746 787,1746 791,1746 795,1746 799,1746 803,1746 807,1746 811,1746 815,1746 819,1746 823,1746 827,1746 831,1746 835,1746 839,1746 843,1746 847,1746 851,1746 855,1746 859,1746 863,1746 867,1746 871,1746 875,1746 879,1746 883,1746 887,1746 891,1746 895,1746 899,1746 903,1746 907,1746 911,1746 915,1746 919,1746 923,1746 927,1746 931,1746 935,1746 939,1746 943,1746 947,1746 951,1746 955,1746 959,1746 962,1746 962.5,1742 962,1738 960.5,1734 959,1732 958,1730 955,1726 952,1722 951,1720 950,1718 949,1714 949.5,1710 951,1706 953,1702 955,1698.5 955,1698 957,1694 959,1690 960.5,1686 961,1682 961,1678 960,1674 959,1671 958.5,1670 956.5,1666 955,1664 954,1662 951,1659 950.5,1658 947,1655 946,1654 943,1651.5 941,1650 939,1649 935,1646.5 934.5,1646 931,1644.5 927,1642.5 926,1642 923,1641 919,1639.5 915.5,1638 915,1638 911,1636.5 907,1635.5 903,1634.5 901,1634 899,1634 895,1633 891,1633 887,1632.5 883,1632 879,1632 875,1631.5 871,1631 867,1631 863,1630.5 862,1630 859,1630 855,1629 851,1628.5 847,1628 843,1627.5 839,1627 835,1627 831,1627 827,1627 823,1627.5 819,1628.5 815,1629.5 811,1630 811,1630.5 807,1631 803,1632 799,1633 795,1633.5 791,1633.5 787,1633 783,1632 779,1631 777.5,1630 775,1629.5 771,1627.5 767.5,1626 767,1626 763,1624.5 759,1623 755,1622 751,1621.5 747,1621 743,1621 739,1621.5 737.5,1622 735,1623 731,1624.5 727.5,1626 727,1626.5 723,1629 721.5,1630 719,1632.5 717,1634 715,1636 713,1638 711,1641 710,1642 707.5,1646 707,1647 705,1650 703.5,1654 703,1655.5 702,1658 701,1662 700.5,1666 700.5,1670 700.5,1674 701.5,1678 703,1682 704.5,1686 707,1689.5 707.5,1690 710.5,1694 711,1695 714.5,1698 715,1698.5 719,1701 722,1702 723,1702.5 727,1703 731,1703.5 735,1703.5 739,1703 743,1702.5 747,1702 751,1701.5 755,1701 759,1701 763,1700.5 767,1700.5 771,1701 775,1702 776,1702 779,1703.5 783,1705.5 785.5,1706 787,1707 791,1707.5 795,1708 799,1708 803,1709 807,1710 807.5,1710 811,1712 814.5,1714 815,1716 816,1718 815,1719 811,1722 810.5,1722 807,1722.5 803,1722.5 799.5,1722 799,1722 795,1721 791,1720 787,1719 783,1719 779,1720 775,1722 771,1725 770,1726 767,1729.5 766.5,1730 764,1734 763,1737.5 763,1738 762.5,1742 763,1746ZM747,1433 751,1433.5 755,1432.5 759,1430.5 763,1427 763.5,1426.5 767,1423 767,1422.5 770,1418.5 771,1417.5 773,1414.5 775,1411 775,1410.5 777.5,1406.5 779,1403.5 779.5,1402.5 781.5,1398.5 783,1395.5 783.5,1394.5 785.5,1390.5 787,1386.5 787,1386 788.5,1382.5 790,1378.5 791,1375.5 791.5,1374.5 793,1370.5 795,1366.5 797.5,1362.5 799,1360.5 800.5,1358.5 803,1355.5 804,1354.5 807,1350.5 809,1347 811,1343 811,1342.5 812,1339 813,1335 814,1331 814.5,1327 815,1324 815,1323 815.5,1319 815.5,1315 815.5,1311 815.5,1307 815,1305.5 814.5,1303 813.5,1299 812.5,1295 811.5,1291 811,1289 810.5,1287 809.5,1283 809,1279 808,1275 807.5,1271 807,1268 807,1267 806.5,1263 806.5,1259 806.5,1255 806.5,1251 806.5,1247 806.5,1243 806.5,1239 807,1235 807,1231 807,1227 806.5,1223 806.5,1219 805.5,1215 803,1215 799,1215 795,1215 791,1215 787,1215 783,1215 779,1215 775,1215 771,1215 767,1215 763,1215 759,1215 755,1215 751,1215 747.5,1215 747,1218 747,1219 746,1223 745,1227 744.5,1231 743.5,1235 743,1237.5 742.5,1239 741.5,1243 740.5,1247 740,1251 739,1254.5 739,1255 738,1259 737,1263 736.5,1267 736,1271 735.5,1275 735,1279 735,1280 734.5,1283 734.5,1287 734,1291 733.5,1295 733,1299 732.5,1303 732,1307 731.5,1311 731,1313.5 731,1315 730.5,1319 730,1323 730,1327 730.5,1331 730.5,1335 730.5,1339 730.5,1343 730.5,1347 730.5,1350.5 730.5,1354.5 730.5,1358.5 730.5,1362.5 731,1366.5 731,1368.5 731,1370.5 731.5,1374.5 731.5,1378.5 732,1382.5 732,1386.5 732,1390.5 732,1394.5 732.5,1398.5 732.5,1402.5 732.5,1406.5 733,1410.5 734,1414.5 735,1418 735,1418.5 737,1422.5 739,1426 739.5,1426.5 743,1430.5 747,1433Z"/>
<path fill="#fedc9b" d="M899,1698 902.5,1698 903,1698 907,1697.5 911,1697 915,1695.5 918,1694 919,1693.5 923,1691 924,1690 927,1687.5 928,1686 930.5,1682 931,1681.5 932,1678 932.5,1674 932,1670 931,1668.5 930,1666 927,1662 923,1658.5 922.5,1658 919,1656 915.5,1654 915,1654 911,1652.5 907,1651 903.5,1650 903,1650 899,1649.5 895,1649 891,1648.5 887,1648 883,1648 879,1648 875,1648 871,1648 867,1648 863,1648 859,1648 855,1648 851,1647.5 847,1647 843,1647 839,1647 835,1647 831,1647 827,1647 823,1647.5 819,1647.5 815,1648 811,1648 807,1648.5 803,1648.5 799,1648.5 795,1649 791,1649 787,1648.5 783,1647.5 779.5,1646 779,1646 775,1643.5 773,1642 771,1640.5 767.5,1638 767,1638 763,1635 761,1634 759,1633 755,1631.5 751,1630.5 750.5,1630 747,1629.5 743,1629.5 739,1630 737.5,1630 735,1630.5 731,1632 727,1634 727,1634.5 723,1637 721.5,1638 719,1640.5 717.5,1642 715,1645.5 714.5,1646 712,1650 711,1652 710,1654 708.5,1658 707.5,1662 707,1666 707,1670 708,1674 709,1678 711,1682 714,1686 715,1687 719,1690 723,1692.5 727,1694 728,1694 731,1695 735,1695.5 739,1695.5 743,1695 747,1694.5 750.5,1694 751,1694 755,1693.5 759,1692.5 763,1691.5 767,1691 770.5,1690 771,1690 775,1689.5 779,1689 783,1688.5 787,1688 791,1688 795,1688 799,1688.5 803,1689 807,1689 811,1689.5 814.5,1690 815,1690 819,1690.5 823,1691 827,1691.5 831,1691.5 835,1691.5 839,1691.5 843,1691 847,1690.5 850.5,1690 851,1690 855,1690 859,1690 863,1690 867,1690.5 871,1691.5 875,1692.5 879,1694 880,1694 883,1695 887,1696 891,1697 895,1698 899,1698ZM759,1372.5 762.5,1370.5 763,1370.5 765,1366.5 767,1362.5 768,1358.5 769,1354.5 770,1350.5 770.5,1347 771,1345 771.5,1343 772,1339 773,1335 774,1331 775,1327 775,1326.5 776,1323 777.5,1319 778.5,1315 779,1314 780,1311 781.5,1307 783,1303 784.5,1299 785.5,1295 786.5,1291 787,1287 787.5,1283 787.5,1279 787.5,1275 787,1271 787,1268.5 787,1267 786.5,1263 785.5,1259 785,1255 784.5,1251 783.5,1247 783,1244 782.5,1243 782,1239 781,1235 780,1231 779,1227 776.5,1223 775,1221 771,1221.5 769.5,1223 767,1226 766.5,1227 765,1231 763,1235 761.5,1239 760,1243 759,1246 758.5,1247 757.5,1251 756,1255 755,1259 754,1263 753.5,1267 752.5,1271 752,1275 751.5,1279 751.5,1283 751,1287 751,1288 751,1291 750.5,1295 750.5,1299 750,1303 750,1307 749.5,1311 749.5,1315 749.5,1319 749.5,1323 750,1327 750.5,1331 750.5,1335 751,1338 751,1339 751.5,1343 752,1347 752.5,1350.5 753,1354.5 753.5,1358.5 754,1362.5 754.5,1366.5 755,1367.5 757,1370.5 759,1372.5Z"/>
<path fill="#f9c285" d="M727,1688 731,1689 735,1689.5 739,1689.5 743,1689 747,1688.5 751,1687.5 754.5,1686 755,1686 759,1684.5 763,1682.5 764.5,1682 767,1681 771,1679 772.5,1678 775,1677 779,1675.5 783,1674.5 787,1674.5 791,1675 795,1675.5 799,1676 803,1676 807,1676.5 811,1676 815,1676 819,1675.5 823,1674.5 824.5,1674 827,1673 831,1670.5 831.5,1670 831,1666 827,1663.5 825.5,1662 823,1661.5 819,1660 815,1659 811,1658.5 809.5,1658 807,1658 803,1658 801.5,1658 799,1658.5 795,1659 791,1660 787,1660.5 783,1660.5 779,1659 778,1658 775,1656 773.5,1654 771,1652 769.5,1650 767,1647.5 766,1646 763,1643.5 761.5,1642 759,1640.5 755,1638 751,1636.5 747,1635.5 743,1635.5 739,1635.5 735,1636.5 731,1638 730.5,1638 727,1640 724.5,1642 723,1643.5 720,1646 719,1647.5 717,1650 715,1654 713,1658 712.5,1662 712,1666 712,1670 713,1674 715,1678 718,1682 719,1683 723,1686 723.5,1686 727,1688Z"/>
<path fill="#f4a474" d="M727,1682.5 731,1684 735,1684.5 739,1684.5 743,1684 747,1683 749,1682 751,1681.5 755,1679.5 757,1678 759,1676.5 762,1674 763,1672.5 765,1670 766.5,1666 766.5,1662 766,1658 764,1654 763,1652.5 761.5,1650 759,1647.5 757.5,1646 755,1644 751.5,1642 751,1642 747,1640.5 743,1640 739,1640.5 735,1641 732.5,1642 731,1643 727,1645.5 726,1646 723,1649 722,1650 719.5,1654 719,1655 717.5,1658 716.5,1662 716,1666 716.5,1670 718,1674 719,1675.5 721,1678 723,1680 726,1682 727,1682.5Z"/>
<path fill="#f08966" d="M731,1679.5 735,1680 739,1680 743,1679.5 746.5,1678 747,1678 751,1675.5 753,1674 755,1672 756.5,1670 758.5,1666 759,1664.5 759.5,1662 759,1658.5 759,1658 757.5,1654 755,1651 754.5,1650 751,1647.5 749,1646 747,1645.5 743,1644.5 739,1644.5 735,1645.5 733.5,1646 731,1647.5 727,1650 727,1650.5 724,1654 723,1655.5 721.5,1658 720.5,1662 720.5,1666 721,1670 723,1673.5 723.5,1674 727,1677.5 728.5,1678 731,1679.5Z"/>
<path fill="#ec6c5b" d="M731,1674.5 735,1675.5 739,1675.5 743,1674.5 744,1674 747,1672.5 749.5,1670 751,1668.5 752.5,1666 753.5,1662 753,1658 751,1654 747,1650.5 746,1650 743,1649 739,1649 735,1650 734.5,1650 731,1652.5 729,1654 727,1656.5 726,1658 725,1662 725,1666 726.5,1670 727,1671 730.5,1674 731,1674.5Z"/>
<path fill="#de4e50" d="M731,1666.5 735,1670 739,1670 743,1668 745,1666 747,1662 746,1658 743,1655.5 739,1654.5 735,1656 732,1658 731,1660.5 730.5,1662 730.5,1666 731,1666.5Z"/>
<path fill="#ebf3e0" d="M703,1734.5 707,1735 711,1735 715,1734 715.5,1734 719,1733 723,1732 727,1731 729.5,1730 731,1729.5 735,1727.5 738,1726 739,1725.5 743,1722.5 743.5,1722 747,1718.5 747.5,1718 748,1714 747,1713.5 743,1712.5 739,1712.5 735,1713 731,1714 730,1714 727,1715 723,1716.5 719,1718 715,1720 711.5,1722 711,1722.5 707,1725.5 706,1726 703,1729 702,1730 702,1734 703,1734.5ZM1019,1710.5 1023,1710.5 1027,1711 1031,1711 1035,1710.5 1039,1710 1040,1710 1043,1709.5 1047,1707.5 1050,1706 1051,1704 1052,1702 1051,1699.5 1050.5,1698 1047,1695.5 1044.5,1694 1043,1693.5 1039,1692 1035,1691 1031,1690.5 1027,1690.5 1023,1690 1019,1690 1015,1690.5 1011,1691 1007,1692.5 1003,1694 999,1698 999,1702 1002.5,1706 1003,1706 1007,1708 1011,1709 1015,1710 1016.5,1710 1019,1710.5ZM667,1698 671,1699 675,1698 679,1695.5 680,1694 681.5,1690 683,1686 683,1685 683.5,1682 684,1678 684.5,1674 685.5,1670 686.5,1666 687,1664.5 687.5,1662 689,1658 691,1654 692.5,1650 694.5,1646 695,1645.5 697,1642 699,1638.5 699,1638 701.5,1634 703,1631.5 703.5,1630 706,1626 707,1624 708,1622 710,1618 711,1616.5 712,1614 714,1610.5 715,1607 715.5,1606.5 716.5,1602.5 717,1598.5 717,1594.5 716.5,1590.5 715,1586.5 713,1582.5 711,1579 710.5,1578.5 708,1574.5 707,1573 705,1570.5 703,1567.5 702.5,1566.5 700.5,1562.5 700,1558.5 701,1554.5 703,1551.5 704,1550.5 707,1549 711,1548 715,1546.5 715.5,1546.5 719,1544.5 722,1542.5 723,1541 726.5,1538.5 726.5,1534.5 724.5,1530.5 723,1528.5 722,1526.5 719.5,1522.5 719,1521.5 716.5,1518.5 715,1516.5 713.5,1514.5 711,1512 709.5,1510.5 707,1508.5 704.5,1506.5 703,1505 699,1502.5 695,1500 691.5,1498.5 691,1498.5 687,1497 683,1497 679,1497.5 675,1498.5 671,1500 667,1501.5 665.5,1502.5 663,1504 659.5,1506.5 659,1506.5 655,1510.5 655,1514.5 655,1518.5 655,1522.5 655,1526.5 655,1530.5 655,1534.5 655,1538.5 655,1542.5 655,1546.5 655,1550.5 655,1554.5 655,1558.5 655,1562.5 655,1566.5 655,1570.5 655,1574.5 655,1578.5 655,1582.5 655,1586.5 655,1590.5 655,1594.5 655,1598.5 655,1602.5 655,1606.5 655,1610.5 655,1614 655,1614.5 657.5,1618 659,1621 659.5,1622 661,1626 661,1630 660.5,1634 659.5,1638 659,1639 657,1642 655,1645.5 655,1646 655,1650 655,1654 655,1658 655,1662 655,1666 655,1670 655,1674 655,1678 655,1682 655,1686 655,1689.5 655.5,1690 659,1693.5 659.5,1694 663,1696.5 667,1698ZM1151,1662 1155,1662.5 1159,1663 1163,1663.5 1167,1664 1171,1664.5 1175,1665 1179,1665 1183,1665 1187,1665 1187,1662 1187,1658 1187,1654 1187,1650 1187,1646 1187,1642 1187,1638 1187,1634 1187,1630 1187,1626 1187,1622 1187,1618 1187,1614 1187,1610.5 1187,1606.5 1187,1602.5 1187,1598.5 1187,1594.5 1187,1590.5 1187,1586.5 1187,1582.5 1187,1578.5 1187,1574.5 1187,1570.5 1187,1566.5 1187,1562.5 1187,1558.5 1187,1554.5 1187,1550.5 1187,1546.5 1187,1542.5 1187,1538.5 1187,1534.5 1187,1530.5 1187,1526.5 1187,1522.5 1187,1518.5 1187,1514.5 1187,1510.5 1187,1506.5 1187,1502.5 1187,1498.5 1187,1494.5 1187,1490.5 1187,1486.5 1187,1482.5 1187,1478.5 1187,1474.5 1187,1470.5 1187,1466.5 1187,1462.5 1187,1458.5 1187,1454.5 1187,1450.5 1187,1446.5 1187,1442.5 1187,1438.5 1187,1434.5 1187,1430.5 1187,1426.5 1187,1422.5 1187,1418.5 1187,1414.5 1187,1410.5 1187,1406.5 1187,1402.5 1187,1398.5 1187,1394.5 1187,1390.5 1187,1386.5 1187,1382.5 1187,1378.5 1187,1374.5 1187,1370.5 1187,1366.5 1187,1362.5 1187,1358.5 1187,1354.5 1187,1350.5 1187,1347 1187,1343 1187,1339 1187,1335 1187,1331 1187,1327 1187,1323 1187,1319 1187,1315 1187,1311 1187,1307 1187,1303 1187,1299 1187,1295 1187,1291 1187,1287 1187,1283 1187,1279 1187,1275 1187,1271 1187,1267 1187,1263 1187,1259 1187,1255 1187,1251 1187,1247 1187,1243 1187,1239 1187,1235 1187,1231 1187,1227 1187,1223 1187,1219 1187,1215 1183,1215 1179,1215 1175,1215 1171,1215 1167,1215 1163,1215 1159,1215 1155,1215 1151,1215 1147,1215 1143,1215 1139,1215 1135,1215 1131,1215 1127,1215 1123,1215 1119,1215 1115,1215 1111,1215 1107,1215 1103,1215 1099,1215 1095,1215 1091,1215 1087,1215 1083,1215 1079,1215 1075,1215 1071,1215 1067,1215 1063,1215 1059,1215 1055,1215 1051,1215 1047,1215 1043,1215 1039,1215 1035,1215 1031,1215 1027,1215 1023,1215 1019,1215 1015,1215 1011,1215 1007,1215 1003,1215 999,1215 995,1215 991,1215 987,1215 983,1215 979,1215 975,1215 971,1215 967,1215 963,1215 959,1215 955,1215 951,1215 947,1215 943,1215 939,1215 935,1215 931,1215 927,1215 923,1215 919,1215 915,1215 911,1215 907,1215 903,1215 899,1215 895,1215 891,1215 887,1215 883,1215 879,1215 875,1215 871,1215 867,1215 863,1215 859,1215 855,1215 851,1215 847,1215 843,1215 839,1215 835.5,1215 835.5,1219 835.5,1223 835.5,1227 835.5,1231 836,1235 836,1239 836.5,1243 837,1247 838,1251 839,1253.5 839.5,1255 841.5,1259 843,1262 843.5,1263 847,1267 851,1271 855,1274.5 856,1275 859,1277.5 861,1279 863,1281 865,1283 867,1285.5 868,1287 870,1291 871,1294 871.5,1295 872,1299 872.5,1303 872,1307 872,1311 871,1315 871,1316.5 870.5,1319 869.5,1323 868.5,1327 867.5,1331 867,1332.5 866,1335 865,1339 863.5,1343 863,1343.5 861.5,1347 859.5,1350.5 859,1352 857.5,1354.5 855.5,1358.5 855,1359.5 853,1362.5 851,1366.5 848.5,1370.5 847,1373.5 846.5,1374.5 844.5,1378.5 843,1381.5 842.5,1382.5 840.5,1386.5 839,1389.5 838.5,1390.5 836,1394.5 835,1396.5 834,1398.5 831.5,1402.5 831,1403 828.5,1406.5 827,1409 825.5,1410.5 823,1414 822.5,1414.5 819,1418.5 819,1419 815.5,1422.5 815,1423.5 812,1426.5 811,1428 808.5,1430.5 807,1432 804.5,1434.5 803,1436.5 801,1438.5 799,1440.5 797,1442.5 795,1444.5 793,1446.5 791,1448.5 789,1450.5 787,1452.5 785.5,1454.5 783,1457 782,1458.5 779,1462 778.5,1462.5 775.5,1466.5 775,1467 772,1470.5 771,1471.5 768.5,1474.5 767,1476 765,1478.5 763,1480.5 761.5,1482.5 759,1485.5 758,1486.5 755,1490.5 752,1494.5 751,1496.5 749.5,1498.5 747.5,1502.5 747,1503 745,1506.5 743,1510.5 741,1514.5 739,1518.5 736.5,1522.5 735,1525.5 734,1526.5 731.5,1530.5 731,1532 727.5,1534.5 727.5,1538.5 729,1542.5 731,1545 731.5,1546.5 733,1550.5 735,1554 735,1554.5 736.5,1558.5 738,1562.5 739,1564.5 739.5,1566.5 740,1570.5 741,1574.5 741.5,1578.5 742.5,1582.5 743,1583.5 743.5,1586.5 745,1590.5 747,1594 747,1594.5 750,1598.5 751,1599.5 754.5,1602.5 755,1602.5 759,1605 762,1606.5 763,1606.5 767,1607.5 771,1608.5 775,1609 779,1609 783,1609 787,1608.5 791,1608.5 795,1608 799,1607.5 803,1607 807,1606.5 807.5,1606.5 811,1605.5 815,1605 819,1604 823,1603.5 827,1603 831,1603 835,1603 839,1603.5 843,1604 847,1604.5 851,1605.5 854.5,1606.5 855,1606.5 859,1608 863,1609 867,1610 868,1610.5 871,1611 875,1612 879,1613 883,1614 884.5,1614 887,1615 891,1616 895,1617 899,1618 899.5,1618 903,1619.5 907,1621 911,1622 911,1622.5 915,1624 919,1625 922,1626 923,1626.5 927,1628 931,1629 934.5,1630 935,1630.5 939,1631.5 943,1632.5 947,1634 948.5,1634 951,1635 955,1636 959,1637.5 962,1638 963,1638.5 967,1640 971,1641 974.5,1642 975,1642.5 979,1643.5 983,1645 987,1646 989,1646 991,1646.5 995,1647.5 999,1648 1003,1648.5 1007,1649 1011,1649.5 1015,1649.5 1019,1649.5 1023,1650 1027,1650 1031,1650 1035,1650 1039,1649.5 1043,1649.5 1047,1649.5 1051,1649.5 1055,1649.5 1059,1650 1063,1650 1063.5,1650 1067,1650.5 1071,1651.5 1075,1652 1079,1652.5 1083,1653.5 1087,1654 1088.5,1654 1091,1654.5 1095,1655.5 1099,1656.5 1103,1657 1107,1657.5 1110,1658 1111,1658.5 1115,1659 1119,1659.5 1123,1660 1127,1660.5 1131,1661 1135,1661 1139,1661.5 1143,1661.5 1147,1662 1150.5,1662 1151,1662Z"/>
<path fill="#cbe1b5" d="M1155,1646.5 1159,1646.5 1163,1646.5 1167,1646.5 1171,1646.5 1175,1646.5 1179,1646.5 1180.5,1646 1183,1646 1187,1646 1187,1642 1187,1638 1187,1634 1187,1630 1187,1626 1187,1622 1187,1618 1187,1614 1187,1610.5 1187,1606.5 1187,1602.5 1187,1598.5 1187,1594.5 1187,1590.5 1187,1586.5 1187,1582.5 1187,1578.5 1187,1574.5 1187,1570.5 1187,1566.5 1187,1562.5 1187,1558.5 1187,1554.5 1187,1550.5 1187,1546.5 1187,1542.5 1187,1538.5 1187,1534.5 1187,1530.5 1187,1526.5 1187,1522.5 1187,1518.5 1187,1514.5 1187,1510.5 1187,1506.5 1187,1502.5 1187,1498.5 1187,1494.5 1187,1490.5 1187,1486.5 1187,1482.5 1187,1478.5 1187,1474.5 1187,1470.5 1187,1466.5 1187,1462.5 1187,1458.5 1187,1454.5 1187,1450.5 1187,1446.5 1187,1442.5 1187,1438.5 1187,1434.5 1187,1430.5 1187,1426.5 1187,1422.5 1187,1418.5 1187,1414.5 1187,1410.5 1187,1406.5 1187,1402.5 1187,1398.5 1187,1394.5 1187,1390.5 1187,1386.5 1187,1382.5 1187,1378.5 1187,1374.5 1187,1370.5 1187,1366.5 1187,1362.5 1187,1358.5 1187,1354.5 1187,1350.5 1187,1347 1187,1343 1187,1339 1187,1335 1187,1331 1187,1327 1187,1323 1187,1319 1187,1315 1187,1311 1187,1307 1187,1303 1187,1299 1187,1295 1187,1291 1187,1287 1187,1283 1187,1279 1187,1275 1187,1271 1187,1267 1187,1263 1187,1259 1187,1255 1187,1251 1187,1247 1187,1243 1187,1239 1187,1235 1187,1231 1187,1227 1187,1223 1187,1219 1187,1215 1183,1215 1179,1215 1175,1215 1171,1215 1167,1215 1163,1215 1159,1215 1155,1215 1151,1215 1147,1215 1143,1215 1139,1215 1135,1215 1131,1215 1127,1215 1123,1215 1119,1215 1115,1215 1111,1215 1107,1215 1103,1215 1099,1215 1095,1215 1091,1215 1087,1215 1083,1215 1079,1215 1075,1215 1071,1215 1067,1215 1063,1215 1059,1215 1055,1215 1051,1215 1047,1215 1043,1215 1039,1215 1035,1215 1031,1215 1027,1215 1023,1215 1019,1215 1015,1215 1011,1215 1007,1215 1003,1215 999,1215 995,1215 991,1215 987,1215 983,1215 979,1215 975,1215 971,1215 967,1215 963,1215 959,1215 955,1215 951,1215 947,1215 943,1215 939,1215 935,1215 931,1215 927,1215 923,1215 919,1215 915,1215 911,1215 907,1215 903,1215 899,1215 895,1215 891,1215 887,1215 883,1215 879,1215 875,1215 871,1215 867,1215 863,1215 859,1215 855,1215 854,1215 854,1219 854,1223 854,1227 854,1231 854,1235 854.5,1239 855,1242 855,1243 856.5,1247 858.5,1251 859,1251.5 861.5,1255 863,1256.5 865,1259 867,1260.5 869.5,1263 871,1264.5 874,1267 875,1268 878.5,1271 879,1271.5 882.5,1275 883,1275.5 886,1279 887,1280 889.5,1283 891,1285.5 892,1287 894,1291 895,1294 895.5,1295 896.5,1299 897,1303 897.5,1307 897.5,1311 897,1315 896.5,1319 895.5,1323 895,1324.5 894.5,1327 893,1331 891,1335 889,1339 887,1342 886.5,1343 884,1347 883,1348.5 881.5,1350.5 879,1354.5 876.5,1358.5 875,1361 874,1362.5 871.5,1366.5 871,1368 869.5,1370.5 867.5,1374.5 867,1376.5 866,1378.5 864,1382.5 863,1385.5 862.5,1386.5 861,1390.5 859.5,1394.5 859,1395.5 857.5,1398.5 856,1402.5 855,1404.5 854,1406.5 852.5,1410.5 851,1414 850.5,1414.5 849,1418.5 847.5,1422.5 847,1425 846.5,1426.5 845,1430.5 844,1434.5 843,1437.5 842.5,1438.5 841.5,1442.5 839,1446 838.5,1446.5 835,1449.5 834,1450.5 831,1452 827.5,1454.5 827,1454.5 823,1457 821,1458.5 819,1459.5 815,1462 814,1462.5 811,1464.5 808,1466.5 807,1467 803,1470 802.5,1470.5 799,1473.5 798,1474.5 795,1477 793.5,1478.5 791,1481 789,1482.5 787,1484.5 784.5,1486.5 783,1488 779.5,1490.5 779,1491 775,1494.5 771,1498.5 768,1502.5 767,1503.5 765.5,1506.5 763.5,1510.5 763,1511.5 762,1514.5 760.5,1518.5 759.5,1522.5 759,1525 758.5,1526.5 758,1530.5 757.5,1534.5 757.5,1538.5 757.5,1542.5 757.5,1546.5 758,1550.5 759,1554.5 759,1555.5 760,1558.5 761,1562.5 762.5,1566.5 763,1567 764.5,1570.5 767,1574.5 770.5,1578.5 771,1579 775,1582 776,1582.5 779,1583.5 783,1584 787,1584.5 791,1584.5 795,1584 799,1583 802.5,1582.5 803,1582 807,1581 811,1580.5 815,1580 819,1580 823,1580 827,1580.5 831,1581 835,1582 836,1582.5 839,1583 843,1584 847,1584.5 851,1585.5 855,1586 859,1586 863,1586 867,1584.5 871,1582.5 871,1582 873,1578.5 873.5,1574.5 873,1570.5 872,1566.5 871,1564 870.5,1562.5 869,1558.5 867,1554.5 867,1554 865.5,1550.5 864,1546.5 863,1544 862.5,1542.5 861,1538.5 860,1534.5 859.5,1530.5 859,1529 858.5,1526.5 858,1522.5 857.5,1518.5 857,1514.5 857,1510.5 856.5,1506.5 856.5,1502.5 856.5,1498.5 856.5,1494.5 856,1490.5 855.5,1486.5 855,1482.5 855,1481.5 854.5,1478.5 854,1474.5 853,1470.5 852.5,1466.5 852,1462.5 853,1458.5 855,1457 859,1458.5 863,1462 863,1462.5 865.5,1466.5 867,1468.5 868,1470.5 870,1474.5 871,1476.5 872,1478.5 874,1482.5 875,1484.5 876,1486.5 878.5,1490.5 879,1491.5 880.5,1494.5 883,1498 883.5,1498.5 886,1502.5 887,1503.5 889,1506.5 891,1509 892,1510.5 895,1514.5 897.5,1518.5 899,1520.5 900.5,1522.5 903,1526.5 905,1530.5 907,1534.5 909,1538.5 910,1542.5 911,1545.5 911.5,1546.5 912,1550.5 913,1554.5 913,1558.5 912.5,1562.5 911.5,1566.5 911,1567.5 910,1570.5 908.5,1574.5 907,1577.5 906.5,1578.5 905,1582.5 904,1586.5 904,1590.5 904,1594.5 906,1598.5 907,1600 908.5,1602.5 911,1604.5 913,1606.5 915,1607.5 919,1610.5 923,1612 927,1614 928,1614 931,1615 935,1616 939,1616.5 943,1617 947,1617.5 951,1618 952.5,1618 955,1618.5 959,1619 963,1620 967,1621 970.5,1622 971,1622.5 975,1623.5 979,1625 981.5,1626 983,1626.5 987,1628 991,1629 995,1629.5 998,1630 999,1630.5 1003,1631 1007,1631.5 1011,1632 1015,1632 1019,1632.5 1023,1633 1027,1633 1031,1633 1035,1632.5 1039,1632.5 1043,1632.5 1047,1632 1051,1632 1055,1632.5 1059,1632.5 1063,1633 1067,1634 1069,1634 1071,1634.5 1075,1635 1079,1636 1083,1636.5 1087,1637.5 1091,1638 1092,1638 1095,1638.5 1099,1639.5 1103,1640 1107,1640.5 1111,1641 1115,1641.5 1119,1642 1123,1643 1127,1643.5 1131,1644 1135,1644.5 1139,1645 1143,1645.5 1147,1646 1151,1646 1153.5,1646 1155,1646.5ZM993,1223 993.5,1219 995,1218 999,1217.5 1002.5,1219 1003,1220 1003.5,1223 1003,1223.5 999,1225 995,1224.5 993,1223Z"/>
<path fill="#a4d1a7" d="M1147,1634.5 1151,1635 1155,1635 1159,1635 1163,1635 1167,1635 1171,1634.5 1174.5,1634 1175,1634 1179,1633.5 1183,1633.5 1187,1633 1187,1630 1187,1626 1187,1622 1187,1618 1187,1614 1187,1610.5 1187,1606.5 1187,1602.5 1187,1598.5 1187,1594.5 1187,1590.5 1187,1586.5 1187,1582.5 1187,1578.5 1187,1574.5 1187,1570.5 1187,1566.5 1187,1562.5 1187,1558.5 1187,1554.5 1187,1550.5 1187,1546.5 1187,1542.5 1187,1538.5 1187,1534.5 1187,1530.5 1187,1526.5 1187,1522.5 1187,1518.5 1187,1514.5 1187,1510.5 1187,1506.5 1187,1502.5 1187,1498.5 1187,1494.5 1187,1490.5 1187,1486.5 1187,1482.5 1187,1478.5 1187,1474.5 1187,1470.5 1187,1466.5 1187,1462.5 1187,1458.5 1187,1454.5 1187,1450.5 1187,1446.5 1187,1442.5 1187,1438.5 1187,1434.5 1187,1430.5 1187,1426.5 1187,1422.5 1187,1418.5 1187,1414.5 1187,1410.5 1187,1406.5 1187,1402.5 1187,1398.5 1187,1394.5 1187,1390.5 1187,1386.5 1187,1382.5 1187,1378.5 1187,1374.5 1187,1370.5 1187,1366.5 1187,1362.5 1187,1358.5 1187,1354.5 1187,1350.5 1187,1347 1187,1343 1187,1339 1187,1335 1187,1331 1187,1327 1187,1323 1187,1319 1187,1315 1187,1311 1187,1307 1187,1303 1187,1299 1187,1295 1187,1291 1187,1287 1187,1283 1187,1279 1187,1275 1187,1271 1187,1267 1187,1263 1187,1259 1187,1255 1187,1251 1187,1247 1187,1243 1187,1239 1187,1235 1187,1231 1187,1227 1187,1223 1187,1219 1187,1215 1183,1215 1179,1215 1175,1215 1171,1215 1167,1215 1163,1215 1159,1215 1155,1215 1151,1215 1147,1215 1143,1215 1139,1215 1135,1215 1131,1215 1127,1215 1123,1215 1119,1215 1115,1215 1111,1215 1107,1215 1103,1215 1099,1215 1095,1215 1091,1215 1087,1215 1083,1215 1079,1215 1078.5,1215 1077,1219 1075.5,1223 1075,1224 1074,1227 1073,1231 1072.5,1235 1072,1239 1072,1243 1072.5,1247 1073,1251 1073,1255 1073,1259 1073,1263 1072,1267 1071,1271 1069.5,1275 1068.5,1279 1067,1283 1066,1287 1064.5,1291 1063.5,1295 1063,1297 1062.5,1299 1061.5,1303 1060,1307 1059,1309.5 1058.5,1311 1056.5,1315 1055,1317 1054,1319 1051,1322.5 1051,1323 1047.5,1327 1047,1327 1043,1331 1039,1334.5 1039,1335 1035,1338.5 1034.5,1339 1031,1343 1028.5,1347 1027,1349.5 1026.5,1350.5 1025.5,1354.5 1025.5,1358.5 1026.5,1362.5 1027,1364.5 1027.5,1366.5 1029.5,1370.5 1031,1373.5 1031.5,1374.5 1033.5,1378.5 1035,1382.5 1036.5,1386.5 1038,1390.5 1038.5,1394.5 1038.5,1398.5 1038.5,1402.5 1037.5,1406.5 1036,1410.5 1035,1413 1034,1414.5 1032,1418.5 1031,1421 1030.5,1422.5 1029.5,1426.5 1029,1430.5 1029,1434.5 1030,1438.5 1031,1442.5 1031,1443.5 1031.5,1446.5 1032.5,1450.5 1033.5,1454.5 1034.5,1458.5 1034.5,1462.5 1035,1466.5 1034.5,1470.5 1034,1474.5 1033.5,1478.5 1032.5,1482.5 1032,1486.5 1031,1490.5 1031,1491.5 1030.5,1494.5 1030,1498.5 1029.5,1502.5 1029,1506.5 1028,1510.5 1027,1514.5 1025.5,1518.5 1023,1522.5 1019.5,1526.5 1019,1527 1015.5,1530.5 1015,1531 1012,1534.5 1011,1536.5 1010,1538.5 1008.5,1542.5 1009,1546.5 1010,1550.5 1011,1551.5 1013.5,1554.5 1015,1555.5 1019,1558 1019,1558.5 1023,1560 1027,1561.5 1029,1562.5 1031,1563 1035,1564.5 1039,1566.5 1043,1568.5 1046.5,1570.5 1047,1570.5 1051,1573 1052.5,1574.5 1055,1576 1058.5,1578.5 1059,1578.5 1063,1581.5 1064,1582.5 1067,1585 1068.5,1586.5 1071,1588.5 1073,1590.5 1075,1592.5 1076.5,1594.5 1079,1597 1080,1598.5 1083,1602.5 1086,1606.5 1087,1608 1088.5,1610.5 1091,1613 1092,1614 1095,1617 1096.5,1618 1099,1620 1103,1622 1103,1622.5 1107,1624 1111,1625.5 1112.5,1626 1115,1627 1119,1628 1123,1629.5 1126,1630 1127,1630.5 1131,1631.5 1135,1632.5 1139,1633 1143,1634 1145.5,1634 1147,1634.5ZM895,1416.5 899,1418 903,1418 907,1417 911,1415 911.5,1414.5 915,1411.5 916,1410.5 919,1406.5 919,1406 920.5,1402.5 921.5,1398.5 922,1394.5 921.5,1390.5 920,1386.5 919,1384.5 918,1382.5 915,1379 915,1378.5 911,1375.5 909,1374.5 907,1373.5 903,1373 899,1373 895.5,1374.5 895,1375 891,1378.5 891,1379 889,1382.5 887.5,1386.5 887,1388 886.5,1390.5 886,1394.5 886,1398.5 886.5,1402.5 887,1404.5 887.5,1406.5 889.5,1410.5 891,1413 892.5,1414.5 895,1416.5Z"/>
<path fill="#79c2a2" d="M1143,1618.5 1147,1619.5 1151,1620.5 1155,1621 1159,1621 1163,1621 1167,1620.5 1171,1620 1175,1619 1179,1618.5 1180,1618 1183,1617.5 1187,1616.5 1187,1614 1187,1610.5 1187,1606.5 1187,1602.5 1187,1598.5 1187,1594.5 1187,1590.5 1187,1586.5 1187,1582.5 1187,1578.5 1187,1574.5 1187,1570.5 1187,1566.5 1187,1562.5 1187,1558.5 1187,1554.5 1187,1550.5 1187,1546.5 1187,1542.5 1187,1538.5 1187,1534.5 1187,1530.5 1187,1526.5 1187,1522.5 1187,1518.5 1187,1514.5 1187,1510.5 1187,1506.5 1187,1502.5 1187,1498.5 1187,1494.5 1187,1490.5 1187,1486.5 1187,1482.5 1187,1478.5 1187,1474.5 1187,1470.5 1187,1466.5 1187,1462.5 1187,1458.5 1187,1454.5 1187,1450.5 1187,1446.5 1187,1442.5 1187,1438.5 1187,1434.5 1187,1430.5 1187,1426.5 1187,1422.5 1187,1418.5 1187,1414.5 1187,1410.5 1187,1406.5 1187,1402.5 1187,1398.5 1187,1394.5 1187,1390.5 1187,1386.5 1187,1382.5 1187,1378.5 1187,1374.5 1187,1370.5 1187,1366.5 1187,1362.5 1187,1358.5 1187,1354.5 1187,1350.5 1187,1347 1187,1343 1187,1339 1187,1335 1187,1331 1187,1327 1187,1323 1187,1319 1187,1315 1187,1311 1187,1307 1187,1303 1187,1299 1187,1295 1187,1291 1187,1287 1187,1283 1187,1279 1187,1275 1187,1271 1187,1267 1187,1263 1187,1259 1187,1255 1187,1251 1187,1247 1187,1243 1187,1239 1187,1235 1187,1231 1187,1227 1187,1223 1187,1219 1187,1215 1183,1215 1179,1215 1175,1215 1171,1215 1167,1215 1163,1215 1159,1215 1155,1215 1151,1215 1147,1215 1143,1215 1139,1215 1135,1215 1131,1215 1127,1215 1123,1215 1119,1215 1115,1215 1113,1215 1111,1217.5 1110,1219 1108,1223 1107,1225 1106,1227 1104.5,1231 1103.5,1235 1103,1237 1102.5,1239 1102,1243 1102,1247 1101.5,1251 1101.5,1255 1101,1259 1100.5,1263 1100,1267 1099.5,1271 1099,1273.5 1098.5,1275 1097.5,1279 1096.5,1283 1095.5,1287 1095,1289 1094.5,1291 1093.5,1295 1092.5,1299 1091.5,1303 1091,1304.5 1090.5,1307 1089.5,1311 1089,1315 1088.5,1319 1088,1323 1087,1327 1087,1327.5 1086.5,1331 1085.5,1335 1084,1339 1083,1341.5 1082,1343 1080,1347 1079,1348 1077,1350.5 1075,1354 1074.5,1354.5 1072,1358.5 1071,1362 1071,1362.5 1070.5,1366.5 1070.5,1370.5 1071,1374 1071,1374.5 1072,1378.5 1073,1382.5 1074,1386.5 1075,1390.5 1075.5,1394.5 1076,1398.5 1076.5,1402.5 1076.5,1406.5 1076,1410.5 1075.5,1414.5 1075,1418.5 1075,1420 1074.5,1422.5 1074,1426.5 1074,1430.5 1073.5,1434.5 1073,1438.5 1072.5,1442.5 1072.5,1446.5 1072.5,1450.5 1073,1454.5 1073.5,1458.5 1074,1462.5 1074.5,1466.5 1075,1468 1075.5,1470.5 1076.5,1474.5 1077,1478.5 1077.5,1482.5 1077.5,1486.5 1077.5,1490.5 1077,1494.5 1076.5,1498.5 1075.5,1502.5 1075,1505.5 1075,1506.5 1074,1510.5 1073,1514.5 1072.5,1518.5 1072.5,1522.5 1072.5,1526.5 1074,1530.5 1075,1532.5 1076,1534.5 1079,1538 1079,1538.5 1083,1542 1083.5,1542.5 1087,1545.5 1087.5,1546.5 1091,1550 1091.5,1550.5 1094,1554.5 1095,1555.5 1096.5,1558.5 1098.5,1562.5 1099,1563.5 1100.5,1566.5 1102.5,1570.5 1103,1571.5 1104.5,1574.5 1106.5,1578.5 1107,1579 1109,1582.5 1111,1585 1112,1586.5 1114.5,1590.5 1115,1591 1117,1594.5 1119,1597.5 1119.5,1598.5 1122.5,1602.5 1123,1603 1125.5,1606.5 1127,1608 1129.5,1610.5 1131,1611.5 1134.5,1614 1135,1614.5 1139,1616.5 1143,1618 1143,1618.5Z"/>
<path fill="#4db6a4" d="M1155,1590.5 1159,1591.5 1163,1592 1167,1592 1171,1591.5 1175,1590.5 1175.5,1590.5 1179,1588.5 1182.5,1586.5 1183,1586 1186,1582.5 1187,1581.5 1187,1578.5 1187,1574.5 1187,1570.5 1187,1566.5 1187,1562.5 1187,1558.5 1187,1554.5 1187,1550.5 1187,1546.5 1187,1542.5 1187,1538.5 1187,1534.5 1187,1530.5 1187,1526.5 1187,1522.5 1187,1518.5 1187,1514.5 1187,1510.5 1187,1506.5 1187,1502.5 1187,1498.5 1187,1494.5 1187,1490.5 1187,1486.5 1187,1482.5 1187,1478.5 1187,1474.5 1187,1470.5 1187,1466.5 1187,1462.5 1187,1458.5 1187,1454.5 1187,1450.5 1187,1446.5 1187,1442.5 1187,1438.5 1187,1434.5 1187,1430.5 1187,1426.5 1187,1422.5 1187,1418.5 1187,1414.5 1187,1410.5 1187,1406.5 1187,1402.5 1187,1398.5 1187,1394.5 1187,1390.5 1187,1386.5 1187,1382.5 1187,1378.5 1187,1374.5 1187,1370.5 1187,1366.5 1187,1362.5 1187,1358.5 1187,1354.5 1187,1350.5 1187,1347 1187,1343 1187,1339 1187,1335 1187,1331 1187,1327 1187,1323 1187,1319 1187,1315 1187,1311 1187,1307 1187,1303 1187,1299 1187,1295 1187,1291 1187,1287 1187,1283 1187,1279 1187,1275 1187,1271 1187,1267 1187,1263 1187,1259 1187,1255 1187,1251 1187,1247 1187,1243 1187,1239 1187,1235 1187,1231 1187,1227 1187,1223 1187,1219 1187,1215 1183,1215 1179,1215 1175,1215 1171,1215 1167,1215 1163,1215 1159,1215 1155,1215 1151,1215 1147,1215 1144.5,1215 1143,1216 1139.5,1219 1139,1219.5 1135,1223 1131.5,1227 1131,1228 1129,1231 1127,1234 1126.5,1235 1124.5,1239 1123,1242.5 1123,1243 1121.5,1247 1120.5,1251 1119.5,1255 1119,1258 1119,1259 1118,1263 1117.5,1267 1116.5,1271 1116,1275 1115,1279 1115,1280 1114.5,1283 1114,1287 1113.5,1291 1113,1295 1112.5,1299 1112,1303 1111.5,1307 1111,1310.5 1111,1311 1110.5,1315 1109.5,1319 1109,1323 1109,1327 1108.5,1331 1108,1335 1108,1339 1108,1343 1107.5,1347 1107.5,1350.5 1107.5,1354.5 1107,1358.5 1107,1361 1107,1362.5 1106.5,1366.5 1106.5,1370.5 1106,1374.5 1106,1378.5 1106,1382.5 1106,1386.5 1106.5,1390.5 1107,1394.5 1107,1396 1107,1398.5 1107.5,1402.5 1108,1406.5 1108,1410.5 1108,1414.5 1108,1418.5 1108,1422.5 1108.5,1426.5 1108.5,1430.5 1109,1434.5 1109.5,1438.5 1110,1442.5 1110.5,1446.5 1111,1449.5 1111,1450.5 1111.5,1454.5 1112,1458.5 1112.5,1462.5 1112.5,1466.5 1112.5,1470.5 1113,1474.5 1113,1478.5 1113,1482.5 1112.5,1486.5 1112,1490.5 1111.5,1494.5 1111,1498.5 1111,1499 1110.5,1502.5 1110,1506.5 1109.5,1510.5 1109.5,1514.5 1109.5,1518.5 1110.5,1522.5 1111,1524.5 1111.5,1526.5 1113,1530.5 1114.5,1534.5 1115,1536.5 1116,1538.5 1117,1542.5 1118.5,1546.5 1119,1547.5 1120,1550.5 1121.5,1554.5 1123,1558.5 1124.5,1562.5 1126.5,1566.5 1127,1567 1129,1570.5 1131,1573 1132,1574.5 1135,1578 1135.5,1578.5 1139,1582 1139.5,1582.5 1143,1585 1145,1586.5 1147,1587.5 1151,1589.5 1154,1590.5 1155,1590.5Z"/>
<path fill="#04aaac" d="M1155,1548.5 1159,1550 1163,1548.5 1165.5,1546.5 1167,1545 1169,1542.5 1171,1539 1171.5,1538.5 1173.5,1534.5 1175,1532 1175.5,1530.5 1177.5,1526.5 1179,1524 1179.5,1522.5 1181.5,1518.5 1183,1515 1183,1514.5 1184.5,1510.5 1186,1506.5 1187,1503 1187,1502.5 1187,1498.5 1187,1494.5 1187,1490.5 1187,1486.5 1187,1482.5 1187,1478.5 1187,1474.5 1187,1470.5 1187,1466.5 1187,1462.5 1187,1458.5 1187,1454.5 1187,1450.5 1187,1446.5 1187,1442.5 1187,1438.5 1187,1434.5 1187,1430.5 1187,1426.5 1187,1422.5 1187,1418.5 1187,1414.5 1187,1410.5 1187,1406.5 1187,1402.5 1187,1398.5 1187,1394.5 1187,1390.5 1187,1386.5 1187,1382.5 1187,1378.5 1187,1374.5 1187,1370.5 1187,1366.5 1187,1362.5 1187,1358.5 1187,1354.5 1187,1350.5 1187,1347 1187,1343 1187,1339 1187,1335 1187,1331 1187,1327 1187,1323 1187,1319 1187,1315 1187,1311 1187,1307 1187,1303 1187,1299 1187,1295 1187,1291 1187,1287 1187,1283 1187,1279 1187,1275 1187,1271 1187,1267 1187,1263 1187,1259 1187,1255 1187,1251 1187,1247 1187,1243 1183,1239 1179,1236.5 1176,1235 1175,1234.5 1171,1233.5 1167,1233.5 1163,1234.5 1161.5,1235 1159,1236 1155,1238.5 1154.5,1239 1151,1242 1150,1243 1147,1246 1146.5,1247 1143.5,1251 1143,1252 1141.5,1255 1139.5,1259 1139,1259.5 1137.5,1263 1136,1267 1135,1270 1135,1271 1133.5,1275 1132.5,1279 1131.5,1283 1131,1284 1130.5,1287 1129.5,1291 1129,1295 1128,1299 1127.5,1303 1127,1304.5 1126.5,1307 1126,1311 1125,1315 1124.5,1319 1124,1323 1123.5,1327 1123.5,1331 1123,1335 1123,1339 1123,1343 1123.5,1347 1123.5,1350.5 1124,1354.5 1124.5,1358.5 1125,1362.5 1126,1366.5 1126.5,1370.5 1127,1374.5 1127,1375.5 1127.5,1378.5 1128,1382.5 1128,1386.5 1128.5,1390.5 1129,1394.5 1129,1398.5 1129,1402.5 1129,1406.5 1129,1410.5 1129,1414.5 1129,1418.5 1128.5,1422.5 1128.5,1426.5 1128.5,1430.5 1129,1434.5 1129.5,1438.5 1129.5,1442.5 1130,1446.5 1130.5,1450.5 1131,1453 1131,1454.5 1131.5,1458.5 1132,1462.5 1132.5,1466.5 1132.5,1470.5 1133,1474.5 1133,1478.5 1133,1482.5 1133,1486.5 1133,1490.5 1133,1494.5 1133.5,1498.5 1133.5,1502.5 1134,1506.5 1134.5,1510.5 1135,1513 1135.5,1514.5 1136.5,1518.5 1138,1522.5 1139,1524.5 1140,1526.5 1142,1530.5 1143,1532.5 1144,1534.5 1146.5,1538.5 1147,1539.5 1149,1542.5 1151,1545 1152.5,1546.5 1155,1548.5Z"/>
<path fill="#0696b3" d="M1159,1463 1163,1464.5 1167,1464 1169.5,1462.5 1171,1461.5 1174,1458.5 1175,1457.5 1176.5,1454.5 1179,1451 1179,1450.5 1181,1446.5 1182.5,1442.5 1183,1441.5 1184,1438.5 1185,1434.5 1186,1430.5 1187,1426.5 1187,1425.5 1187,1422.5 1187,1418.5 1187,1414.5 1187,1410.5 1187,1406.5 1187,1402.5 1187,1398.5 1187,1394.5 1187,1390.5 1187,1386.5 1187,1382.5 1187,1378.5 1187,1374.5 1187,1370.5 1187,1366.5 1187,1362.5 1187,1358.5 1187,1354.5 1187,1350.5 1187,1347 1187,1343 1187,1339 1187,1335 1187,1332 1186.5,1331 1185,1327 1183,1323 1181,1319 1179,1315.5 1178.5,1315 1176,1311 1175,1308.5 1173.5,1307 1171,1303 1171,1302.5 1167.5,1299 1167,1298 1163,1295 1162,1295 1159,1294.5 1157.5,1295 1155,1295.5 1151,1299 1148,1303 1147,1304.5 1146,1307 1144,1311 1143,1313 1142.5,1315 1141,1319 1140,1323 1139.5,1327 1139,1330 1139,1331 1138.5,1335 1138.5,1339 1139,1343 1139,1344.5 1139.5,1347 1140,1350.5 1140.5,1354.5 1141.5,1358.5 1142,1362.5 1143,1366.5 1143,1367 1143.5,1370.5 1144,1374.5 1144.5,1378.5 1145,1382.5 1145,1386.5 1145.5,1390.5 1146,1394.5 1146,1398.5 1146.5,1402.5 1146.5,1406.5 1146.5,1410.5 1146.5,1414.5 1146.5,1418.5 1146.5,1422.5 1146.5,1426.5 1146.5,1430.5 1147,1434.5 1147.5,1438.5 1148.5,1442.5 1149.5,1446.5 1151,1450.5 1151,1451 1152.5,1454.5 1155,1458.5 1158.5,1462.5 1159,1463Z"/>
</g>
<g clip-path="url(#cp22)" shape-rendering="geometricPrecision">
<path fill="#fef2d9" d="M1247,1706.5 1251,1708 1255,1709 1259,1709 1263,1709 1267,1708.5 1271,1708 1275,1707 1278.5,1706 1279,1706 1283,1704.5 1287,1703 1289,1702 1291,1701 1295,1699.5 1297,1698 1299,1697 1303,1695.5 1305.5,1694 1307,1693.5 1311,1692 1315,1691 1319,1690.5 1323,1690 1326.5,1690 1327,1690 1331,1690 1335,1690 1339,1690 1343,1690 1347,1689.5 1351,1689 1355,1689 1359,1688 1363,1687.5 1367,1686.5 1369,1686 1371,1685.5 1375,1684.5 1379,1683.5 1383,1682.5 1384.5,1682 1387,1681.5 1391,1681.5 1395,1681 1399,1681.5 1403,1681.5 1406.5,1682 1407,1682 1411,1683 1415,1683.5 1419,1684 1423,1684 1427,1684 1431,1684 1435,1683.5 1439,1683 1443,1682.5 1445,1682 1447,1682 1451,1681.5 1455,1681 1459,1680 1463,1679 1466,1678 1467,1677.5 1471,1675 1472,1674 1471,1670 1467,1667.5 1465,1666 1463,1665 1459,1664 1455,1662.5 1452.5,1662 1451,1662 1447,1661.5 1443,1661 1439,1661 1435,1661 1431,1661 1427,1661.5 1423,1661.5 1419,1662 1417,1662 1415,1662.5 1411,1662.5 1407,1662.5 1403,1662.5 1399,1662.5 1395.5,1662 1395,1662 1391,1661.5 1387,1661 1383,1660 1379,1659.5 1375,1659 1371.5,1658 1371,1658 1367,1657.5 1363,1657 1359,1656.5 1355,1656 1351,1655.5 1347,1655.5 1343,1655.5 1339,1655.5 1335,1655.5 1331,1655.5 1327,1655 1325,1654 1323,1653.5 1319,1651.5 1317.5,1650 1315,1648 1313.5,1646 1311,1643.5 1310,1642 1307,1639 1306.5,1638 1303,1635.5 1301.5,1634 1299,1632.5 1295,1630.5 1294.5,1630 1291,1629 1287,1628 1283,1627 1279,1627 1275,1627.5 1271,1627.5 1267,1628.5 1263,1630 1262.5,1630 1259,1631.5 1255,1632.5 1252.5,1634 1251,1635 1247,1637 1245,1638 1243,1639.5 1240,1642 1239,1643 1235.5,1646 1235,1647 1232,1650 1231,1651.5 1229,1654 1227,1657.5 1226.5,1658 1224.5,1662 1223,1666 1222,1670 1221.5,1674 1222,1678 1223,1682 1224.5,1686 1227,1690 1230,1694 1231,1695.5 1234,1698 1235,1699 1239,1702 1243,1705 1246,1706 1247,1706.5ZM1279,1394.5 1283,1396.5 1287,1397 1291,1396.5 1295,1395.5 1297,1394.5 1299,1393.5 1303,1390.5 1306,1386.5 1307,1385 1308.5,1382.5 1310,1378.5 1311,1374.5 1312,1370.5 1312.5,1366.5 1313,1362.5 1314,1358.5 1315,1355.5 1315,1354.5 1317,1350.5 1319,1348.5 1320.5,1347 1323,1344.5 1325.5,1343 1327,1342 1331,1339.5 1332,1339 1335,1337 1338.5,1335 1339,1334.5 1343,1332 1345,1331 1347,1329.5 1351,1327 1355,1323.5 1356,1323 1359,1320 1360.5,1319 1363,1316 1364,1315 1367,1311 1369,1307 1371,1303.5 1371.5,1303 1373,1299 1374.5,1295 1375,1294.5 1376,1291 1377.5,1287 1379,1283 1380,1279 1381,1275 1382,1271 1383,1267 1384,1263 1385,1259 1386,1255 1387,1252.5 1387.5,1251 1389.5,1247 1391,1243.5 1391,1243 1393,1239 1394.5,1235 1395,1233 1395.5,1231 1396.5,1227 1397,1223 1397.5,1219 1397.5,1215 1395,1215 1391,1215 1387,1215 1383,1215 1379,1215 1375,1215 1371,1215 1367,1215 1363,1215 1360.5,1215 1359.5,1219 1359,1222 1359,1223 1358.5,1227 1358.5,1231 1358,1235 1358,1239 1358.5,1243 1358.5,1247 1359,1251 1359,1254 1359,1255 1359.5,1259 1359.5,1263 1360,1267 1360.5,1271 1360.5,1275 1360.5,1279 1360.5,1283 1360,1287 1359,1290.5 1359,1291 1357,1295 1355,1298 1354,1299 1351,1302 1350.5,1303 1347,1305.5 1345.5,1307 1343,1308.5 1339.5,1311 1339,1311 1335,1314 1333.5,1315 1331,1316.5 1328,1319 1327,1320 1323.5,1323 1323,1323 1319,1327 1315.5,1331 1315,1331.5 1312,1335 1311,1336.5 1309,1339 1307,1341.5 1306,1343 1303,1345 1301,1347 1299,1348 1295,1350.5 1294.5,1350.5 1291,1352.5 1288,1354.5 1287,1355.5 1283,1358.5 1279,1362.5 1278.5,1362.5 1275.5,1366.5 1275,1367.5 1273,1370.5 1271.5,1374.5 1271,1376.5 1270.5,1378.5 1270.5,1382.5 1271,1384 1271.5,1386.5 1274,1390.5 1275,1391.5 1279,1394.5Z"/>
<path fill="#fedc9b" d="M1255,1698 1259,1699 1263,1699.5 1267,1699 1271,1698.5 1272.5,1698 1275,1697.5 1279,1696.5 1283,1694.5 1283.5,1694 1287,1692.5 1291,1690 1295,1687.5 1297,1686 1299,1684.5 1302,1682 1303,1681 1306.5,1678 1307,1677.5 1310,1674 1311,1670.5 1311,1670 1311,1669 1311,1666 1309.5,1662 1307.5,1658 1307,1657 1305.5,1654 1303.5,1650 1303,1649.5 1301,1646 1299,1643.5 1298,1642 1295,1639.5 1293,1638 1291,1637 1287,1635 1284,1634 1283,1634 1279,1633.5 1275,1633.5 1271,1634 1269,1634 1267,1634.5 1263,1635.5 1259,1637.5 1257.5,1638 1255,1639.5 1251,1642 1250.5,1642 1247,1645 1245.5,1646 1243,1649 1242,1650 1239,1654 1236.5,1658 1235,1661.5 1234.5,1662 1233.5,1666 1232.5,1670 1232.5,1674 1233.5,1678 1235,1682 1235,1682.5 1237,1686 1239,1688.5 1240.5,1690 1243,1692.5 1245.5,1694 1247,1695 1251,1697 1254.5,1698 1255,1698Z"/>
<path fill="#f9c285" d="M1251,1690 1255,1692 1259,1693 1263,1693.5 1267,1693 1271,1692.5 1275,1691.5 1278.5,1690 1279,1690 1283,1688 1286,1686 1287,1685.5 1291,1682 1295,1678.5 1295,1678 1298,1674 1299,1672 1300,1670 1300.5,1666 1300.5,1662 1299.5,1658 1299,1657.5 1298,1654 1296,1650 1295,1649 1293,1646 1291,1644.5 1288.5,1642 1287,1641.5 1283,1639.5 1279,1638.5 1275,1638.5 1271,1638.5 1267,1639 1263,1640.5 1259,1642 1255,1644.5 1252.5,1646 1251,1647.5 1248,1650 1247,1651.5 1245,1654 1243,1657 1242.5,1658 1240.5,1662 1239.5,1666 1239,1669.5 1239,1670 1239,1671 1239,1674 1240,1678 1242,1682 1243,1683.5 1245.5,1686 1247,1687.5 1251,1690Z"/>
<path fill="#f4a474" d="M1255,1687 1259,1688 1263,1688.5 1267,1688.5 1271,1688 1275,1687 1276.5,1686 1279,1685 1283,1682.5 1283.5,1682 1287,1679.5 1288.5,1678 1291,1674.5 1291.5,1674 1293.5,1670 1294.5,1666 1294.5,1662 1293.5,1658 1292,1654 1291,1652.5 1289.5,1650 1287,1647.5 1285.5,1646 1283,1644.5 1279,1643 1275,1642.5 1271,1642.5 1267,1643.5 1263,1644.5 1259.5,1646 1259,1646.5 1255,1649.5 1254,1650 1251,1653 1250,1654 1247,1658 1247,1658.5 1245,1662 1244,1666 1243.5,1670 1244,1674 1245.5,1678 1247,1680.5 1248.5,1682 1251,1684.5 1253.5,1686 1255,1687Z"/>
<path fill="#f08966" d="M1259,1683.5 1263,1684.5 1267,1684.5 1271,1684 1275,1682.5 1276,1682 1279,1680.5 1282,1678 1283,1677.5 1286,1674 1287,1672.5 1288.5,1670 1289.5,1666 1289.5,1662 1288.5,1658 1287,1654.5 1286.5,1654 1283,1650 1279,1648 1275,1646.5 1271,1646.5 1267,1647 1263,1648.5 1260,1650 1259,1651 1255,1654 1251.5,1658 1251,1659 1249.5,1662 1248.5,1666 1248,1670 1249,1674 1251,1678 1255,1682 1255.5,1682 1259,1683.5Z"/>
<path fill="#ec6c5b" d="M1259,1679 1263,1680.5 1267,1680.5 1271,1680 1275,1678.5 1275.5,1678 1279,1675.5 1280.5,1674 1283,1671 1283.5,1670 1285,1666 1285,1662 1283.5,1658 1283,1657 1281,1654 1279,1652.5 1275,1651 1271,1650.5 1267,1651 1263,1652.5 1260.5,1654 1259,1655.5 1256,1658 1255,1660 1253.5,1662 1252.5,1666 1252.5,1670 1253.5,1674 1255,1676 1257.5,1678 1259,1679Z"/>
<path fill="#de4e50" d="M1263,1675.5 1267,1676.5 1271,1675.5 1274,1674 1275,1673.5 1278,1670 1279,1668.5 1280,1666 1280,1662 1279,1660 1277.5,1658 1275,1656 1271,1655 1267,1655.5 1263,1657.5 1262,1658 1259,1661.5 1258.5,1662 1257,1666 1257.5,1670 1259,1673 1260,1674 1263,1675.5Z"/>
<path fill="#cf2b4b" d="M1267,1670 1271,1668.5 1272.5,1666 1271.5,1662 1271,1662 1267,1662 1266.5,1662 1264,1666 1267,1670Z"/>
<path fill="#ebf3e0" d="M1267,1726.5 1271,1726.5 1273,1726 1275,1725.5 1279,1724 1282.5,1722 1279,1719.5 1275,1719.5 1271,1720 1267,1721.5 1266,1722 1265.5,1726 1267,1726.5ZM1483,1715 1487,1715.5 1491,1716 1495,1715.5 1499,1714.5 1500.5,1714 1499,1710.5 1498.5,1710 1495,1709.5 1491,1709 1487,1709 1483,1710 1482,1710 1480,1714 1483,1715ZM1547,1710.5 1551,1711.5 1555,1711.5 1559,1711 1561.5,1710 1559,1708 1555,1707 1551,1707.5 1547,1709.5 1546.5,1710 1547,1710.5ZM1707,1709 1711,1708.5 1712,1706 1713,1702 1712.5,1698 1713.5,1694 1711,1690 1708,1694 1707,1696 1706.5,1698 1705.5,1702 1705.5,1706 1707,1709ZM1711,1678.5 1712,1678 1715,1677.5 1719,1676.5 1719,1674 1719,1670 1719,1666 1719,1662 1719,1658 1719,1654 1719,1650 1719,1646 1719,1642 1719,1638 1719,1634 1719,1630 1719,1626 1719,1622 1719,1618 1719,1614 1719,1610.5 1719,1606.5 1719,1602.5 1719,1598.5 1719,1594.5 1719,1590.5 1719,1586.5 1719,1582.5 1719,1578.5 1719,1574.5 1719,1570.5 1719,1566.5 1719,1562.5 1719,1558.5 1719,1554.5 1719,1550.5 1719,1546.5 1719,1542.5 1719,1538.5 1719,1534.5 1719,1530.5 1719,1526.5 1719,1522.5 1719,1518.5 1719,1514.5 1719,1510.5 1719,1506.5 1719,1502.5 1719,1498.5 1719,1494.5 1719,1490.5 1719,1486.5 1719,1482.5 1719,1478.5 1719,1474.5 1719,1470.5 1719,1466.5 1719,1462.5 1719,1458.5 1719,1454.5 1719,1450.5 1719,1446.5 1719,1442.5 1719,1438.5 1719,1434.5 1719,1430.5 1719,1426.5 1719,1422.5 1719,1418.5 1719,1414.5 1719,1410.5 1719,1406.5 1719,1402.5 1719,1398.5 1719,1394.5 1719,1390.5 1719,1386.5 1719,1382.5 1719,1378.5 1719,1374.5 1719,1370.5 1719,1366.5 1719,1362.5 1719,1358.5 1719,1354.5 1719,1350.5 1719,1347 1719,1343 1719,1339 1719,1335 1719,1331 1719,1327 1719,1323 1719,1319 1719,1315 1719,1311 1719,1307 1719,1303 1719,1299 1719,1295 1719,1291 1719,1287 1719,1283 1719,1279 1719,1275 1719,1271 1719,1267 1719,1263 1719,1259 1719,1255 1719,1251 1719,1247 1719,1243 1719,1239 1719,1235 1719,1231 1719,1227 1719,1223 1719,1219 1719,1215 1715,1215 1711,1215 1707,1215 1703,1215 1699,1215 1695,1215 1691,1215 1687,1215 1683,1215 1679,1215 1675,1215 1671,1215 1667,1215 1663,1215 1659,1215 1655,1215 1651,1215 1647,1215 1643,1215 1639,1215 1635,1215 1631,1215 1627,1215 1623,1215 1619,1215 1615,1215 1611,1215 1607,1215 1603,1215 1599,1215 1598.5,1215 1598.5,1219 1597.5,1223 1595,1227 1591,1231 1587,1233.5 1584,1235 1583,1235.5 1579,1236.5 1575,1238 1571,1239 1570,1239 1567,1239.5 1563,1240 1559,1240 1555,1239.5 1552.5,1239 1551,1238.5 1547,1237.5 1543,1236 1541,1235 1539,1234 1535,1231.5 1534,1231 1531,1228 1530,1227 1527.5,1223 1527,1220.5 1526.5,1219 1526.5,1215 1523,1215 1519,1215 1515,1215 1511,1215 1507,1215 1503,1215 1499,1215 1495,1215 1491,1215 1487,1215 1483,1215 1479,1215 1475,1215 1471,1215 1467,1215 1463,1215 1459,1215 1455,1215 1451,1215 1451,1216 1450.5,1219 1450,1223 1449,1227 1447.5,1231 1447,1231.5 1445.5,1235 1443.5,1239 1443,1240 1441.5,1243 1439,1246 1438.5,1247 1435,1250.5 1434.5,1251 1431,1254 1429.5,1255 1427,1256.5 1423,1259 1419,1261.5 1417,1263 1415,1264.5 1412,1267 1411,1268 1408.5,1271 1407,1272.5 1405.5,1275 1403,1278.5 1403,1279 1401,1283 1399,1287 1397.5,1291 1396,1295 1395,1297 1394,1299 1392,1303 1391,1304.5 1390,1307 1387,1310.5 1387,1311 1384,1315 1383,1315.5 1380,1319 1379,1320 1376,1323 1375,1324 1372,1327 1371,1327.5 1367.5,1331 1367,1331 1363,1334.5 1362.5,1335 1359,1338 1358,1339 1355,1341 1353,1343 1351,1344 1347.5,1347 1347,1347.5 1343,1350.5 1339,1354.5 1335.5,1358.5 1335,1360 1333.5,1362.5 1332,1366.5 1331,1370 1331,1370.5 1330.5,1374.5 1330.5,1378.5 1331,1382.5 1331,1383 1331.5,1386.5 1332.5,1390.5 1333.5,1394.5 1334.5,1398.5 1335,1401 1335.5,1402.5 1337,1406.5 1339,1410.5 1341.5,1414.5 1343,1416.5 1344.5,1418.5 1347,1421.5 1348.5,1422.5 1351,1425.5 1352,1426.5 1355,1430 1355.5,1430.5 1357.5,1434.5 1359,1438.5 1359,1439.5 1359.5,1442.5 1359,1446.5 1359,1447 1358.5,1450.5 1358,1454.5 1357,1458.5 1356,1462.5 1355,1465.5 1354.5,1466.5 1353.5,1470.5 1353,1474.5 1352,1478.5 1351.5,1482.5 1351,1486 1351,1486.5 1350.5,1490.5 1350.5,1494.5 1350.5,1498.5 1351,1502 1351,1502.5 1352,1506.5 1352.5,1510.5 1353.5,1514.5 1354,1518.5 1354.5,1522.5 1355,1526 1355,1526.5 1355,1530.5 1355.5,1534.5 1355.5,1538.5 1355.5,1542.5 1356,1546.5 1356.5,1550.5 1358,1554.5 1359,1556.5 1359.5,1558.5 1361,1562.5 1362,1566.5 1362,1570.5 1361.5,1574.5 1361,1578.5 1359.5,1582.5 1359,1583.5 1357.5,1586.5 1355,1589.5 1354,1590.5 1351,1592 1347,1591 1346.5,1590.5 1343,1588 1340.5,1586.5 1339,1585 1335,1586 1334,1586.5 1331,1587.5 1327,1588 1323,1587.5 1320.5,1586.5 1319,1585.5 1316,1582.5 1315,1580 1314.5,1578.5 1314,1574.5 1314,1570.5 1314.5,1566.5 1315,1562.5 1315,1561.5 1315.5,1558.5 1316.5,1554.5 1318,1550.5 1318,1546.5 1318,1542.5 1317.5,1538.5 1316.5,1534.5 1315,1531 1314.5,1530.5 1311,1527.5 1307,1526.5 1303,1526.5 1302.5,1526.5 1299,1527 1295,1527.5 1291,1528.5 1287,1529.5 1283.5,1530.5 1283,1530.5 1279,1531 1275,1531.5 1271,1532 1267,1531 1264.5,1530.5 1263,1530 1259,1528.5 1255,1527 1252.5,1526.5 1251,1526 1247,1525 1243,1525 1239,1526 1238.5,1526.5 1235,1528.5 1233.5,1530.5 1231,1533.5 1230.5,1534.5 1228,1538.5 1227,1541 1226.5,1542.5 1225.5,1546.5 1224.5,1550.5 1223.5,1554.5 1223.5,1558.5 1223,1561.5 1223,1562.5 1222.5,1566.5 1222.5,1570.5 1222,1574.5 1222,1578.5 1221.5,1582.5 1221.5,1586.5 1221,1590.5 1221,1594.5 1221,1598.5 1222,1602.5 1223,1606 1223,1606.5 1224.5,1610.5 1227,1614 1230.5,1618 1231,1618.5 1235,1621 1238,1622 1239,1622.5 1243,1623 1247,1623 1251,1622.5 1252.5,1622 1255,1622 1259,1621 1263,1620.5 1267,1620 1271,1619.5 1275,1619 1279,1618.5 1283,1618.5 1287,1619 1291,1619.5 1295,1620 1299,1621 1303,1621.5 1307,1622 1307.5,1622 1311,1623 1315,1623.5 1319,1624 1323,1624 1327,1624 1331,1623 1333.5,1622 1335,1621.5 1339,1620 1343,1618.5 1344.5,1618 1347,1617.5 1351,1617.5 1352.5,1618 1355,1619.5 1357.5,1622 1359,1623.5 1361.5,1626 1363,1628 1365.5,1630 1367,1631.5 1371,1634 1375,1636 1379,1638 1379.5,1638 1383,1639.5 1387,1640.5 1391,1641.5 1393.5,1642 1395,1642.5 1399,1643 1403,1643.5 1407,1644 1411,1644.5 1415,1644.5 1419,1645 1423,1645 1427,1645 1431,1645.5 1435,1645.5 1439,1646 1441,1646 1443,1646.5 1447,1647 1451,1647.5 1455,1648 1459,1648.5 1463,1649 1467,1649.5 1471,1650 1475,1650.5 1479,1651 1483,1651.5 1487,1652 1491,1652.5 1495,1653 1499,1653.5 1503,1654 1507,1654 1511,1654 1515,1653.5 1519,1653 1523,1652 1527,1650.5 1528.5,1650 1531,1649.5 1535,1649 1539,1649 1543,1649.5 1547,1650 1551,1651.5 1555,1653.5 1557,1654 1559,1655 1563,1657 1567,1658 1567.5,1658 1571,1659.5 1575,1660.5 1579,1661 1583,1661.5 1587,1662 1591,1662.5 1595,1663 1599,1663.5 1603,1664 1607,1664 1611,1664.5 1615,1665 1619,1665 1623,1665.5 1627,1666 1627.5,1666 1631,1667 1635,1667.5 1639,1668.5 1643,1669 1647,1669.5 1651,1670 1655,1670 1659,1670.5 1663,1670.5 1667,1671 1671,1671 1675,1671.5 1679,1672 1683,1672.5 1687,1673 1691,1673.5 1693.5,1674 1695,1674.5 1699,1676 1703,1677 1707,1678 1708.5,1678 1711,1678.5ZM1281.5,1594.5 1280,1590.5 1279.5,1586.5 1279.5,1582.5 1280,1578.5 1282,1574.5 1283,1572.5 1287,1574 1287,1574.5 1288.5,1578.5 1289.5,1582.5 1289.5,1586.5 1289,1590.5 1287.5,1594.5 1287,1596 1283,1597 1281.5,1594.5ZM1417,1422.5 1415,1421.5 1411,1419.5 1410,1418.5 1407,1415.5 1406.5,1414.5 1405,1410.5 1404.5,1406.5 1405.5,1402.5 1407,1398.5 1409.5,1394.5 1411,1393.5 1414.5,1390.5 1415,1390.5 1419,1388.5 1423,1388 1427,1387.5 1431,1387 1435,1387 1439,1387.5 1443,1388 1447,1388.5 1451,1390 1452.5,1390.5 1455,1393 1456.5,1394.5 1457,1398.5 1456,1402.5 1455,1404 1453,1406.5 1451,1409 1449,1410.5 1447,1412.5 1444.5,1414.5 1443,1415.5 1439,1418.5 1435,1421 1432,1422.5 1431,1423 1427,1424 1423,1424 1419,1423 1417,1422.5ZM1275,1287 1279,1288 1283,1289 1287,1289.5 1291,1289.5 1295,1289 1299,1288.5 1303,1287.5 1304.5,1287 1307,1286 1311,1284 1313.5,1283 1315,1282 1319,1279 1319.5,1279 1323,1275 1325,1271 1326.5,1267 1327,1263 1326.5,1259 1325,1255 1323,1251 1319,1247 1315,1244.5 1312.5,1243 1311,1242.5 1307,1240.5 1303,1239.5 1302,1239 1299,1238 1295,1236.5 1291,1235.5 1288.5,1235 1287,1234.5 1283,1233.5 1279,1233 1275,1233 1271,1233 1267,1233 1263,1233 1259,1233.5 1255,1234 1251,1235 1247,1236 1243,1238 1241,1239 1239,1240.5 1236.5,1243 1235,1245 1234,1247 1233.5,1251 1234.5,1255 1235,1255.5 1237,1259 1239,1261.5 1240,1263 1243,1265.5 1244,1267 1247,1270 1248,1271 1251,1273.5 1253,1275 1255,1276.5 1259,1279 1263,1281.5 1266.5,1283 1267,1283 1271,1285.5 1275,1287Z"/>
<path fill="#cbe1b5" d="M1695,1654.5 1699,1654.5 1703,1655 1707,1655 1711,1655 1715,1655 1719,1655 1719,1654 1719,1650 1719,1646 1719,1642 1719,1638 1719,1634 1719,1630 1719,1626 1719,1622 1719,1618 1719,1614 1719,1610.5 1719,1606.5 1719,1602.5 1719,1598.5 1719,1594.5 1719,1590.5 1719,1586.5 1719,1582.5 1719,1578.5 1719,1574.5 1719,1570.5 1719,1566.5 1719,1562.5 1719,1558.5 1719,1554.5 1719,1550.5 1719,1546.5 1719,1542.5 1719,1538.5 1719,1534.5 1719,1530.5 1719,1526.5 1719,1522.5 1719,1518.5 1719,1514.5 1719,1510.5 1719,1506.5 1719,1502.5 1719,1498.5 1719,1494.5 1719,1490.5 1719,1486.5 1719,1482.5 1719,1478.5 1719,1474.5 1719,1470.5 1719,1466.5 1719,1462.5 1719,1458.5 1719,1454.5 1719,1450.5 1719,1446.5 1719,1442.5 1719,1438.5 1719,1434.5 1719,1430.5 1719,1426.5 1719,1422.5 1719,1418.5 1719,1414.5 1719,1410.5 1719,1406.5 1719,1402.5 1719,1398.5 1719,1394.5 1719,1390.5 1719,1386.5 1719,1382.5 1719,1378.5 1719,1374.5 1719,1370.5 1719,1366.5 1719,1362.5 1719,1358.5 1719,1354.5 1719,1350.5 1719,1347 1719,1343 1719,1339 1719,1335 1719,1331 1719,1327 1719,1323 1719,1319 1719,1315 1719,1311 1719,1307 1719,1303 1719,1299 1719,1295 1719,1291 1719,1287 1719,1283 1719,1279 1719,1275 1719,1271 1719,1267 1719,1263 1719,1259 1719,1255 1719,1251 1719,1247 1719,1243 1719,1239 1719,1235 1719,1231 1719,1227 1719,1223 1719,1219 1719,1215 1715,1215 1711,1215 1707,1215 1703,1215 1699,1215 1695,1215 1691,1215 1687,1215 1683,1215 1679,1215 1675,1215 1671,1215 1667,1215 1663,1215 1659,1215 1655,1215 1651,1215 1647,1215 1643,1215 1639,1215 1637,1215 1635,1217.5 1633.5,1219 1631,1222 1630,1223 1627,1226 1626,1227 1623,1230 1622,1231 1619,1234 1618,1235 1615,1238.5 1614.5,1239 1611,1242.5 1611,1243 1607,1246.5 1606.5,1247 1603,1250 1602,1251 1599,1253 1596.5,1255 1595,1256 1591,1258.5 1590,1259 1587,1261.5 1585,1263 1583,1265 1581.5,1267 1579,1270.5 1578.5,1271 1576.5,1275 1575,1277 1574,1279 1572,1283 1571,1284.5 1569.5,1287 1567,1290.5 1567,1291 1564,1295 1563,1296.5 1561,1299 1559,1302 1558,1303 1555,1307 1552,1311 1551,1312 1548.5,1315 1547,1316.5 1545,1319 1543,1321.5 1542,1323 1539.5,1327 1539,1329 1538.5,1331 1538,1335 1538,1339 1538.5,1343 1539,1347 1539,1349.5 1539,1350.5 1539,1354.5 1539,1355.5 1539,1358.5 1538.5,1362.5 1537.5,1366.5 1536.5,1370.5 1535.5,1374.5 1535,1375.5 1533.5,1378.5 1531.5,1382.5 1531,1384 1529.5,1386.5 1527,1390 1526.5,1390.5 1524,1394.5 1523,1396 1521,1398.5 1519,1401 1518,1402.5 1515,1406.5 1512,1410.5 1511,1411.5 1508.5,1414.5 1507,1416.5 1505.5,1418.5 1503,1421.5 1502,1422.5 1499,1426 1498.5,1426.5 1495.5,1430.5 1495,1431 1492.5,1434.5 1491,1437 1490,1438.5 1488,1442.5 1487,1444 1486,1446.5 1484,1450.5 1483,1452.5 1482,1454.5 1480,1458.5 1479,1460 1477.5,1462.5 1475,1466.5 1472.5,1470.5 1471,1472.5 1469.5,1474.5 1467,1478.5 1464.5,1482.5 1463,1485 1462,1486.5 1460,1490.5 1459,1493 1458,1494.5 1456.5,1498.5 1455,1502 1454.5,1502.5 1453,1506.5 1451.5,1510.5 1451,1511 1449.5,1514.5 1448,1518.5 1447,1520.5 1446,1522.5 1444.5,1526.5 1443.5,1530.5 1443,1532 1442.5,1534.5 1441.5,1538.5 1440.5,1542.5 1440,1546.5 1439,1550.5 1439,1551 1438.5,1554.5 1438,1558.5 1437,1562.5 1436.5,1566.5 1436,1570.5 1435.5,1574.5 1435,1578.5 1435,1581 1435,1582.5 1434.5,1586.5 1434.5,1590.5 1434,1594.5 1434,1598.5 1433.5,1602.5 1433.5,1606.5 1433.5,1610.5 1434.5,1614 1435,1615.5 1436,1618 1439,1622 1439.5,1622 1443,1625 1444.5,1626 1447,1627.5 1451,1629.5 1452.5,1630 1455,1631 1459,1632.5 1463,1633.5 1465.5,1634 1467,1634.5 1471,1635 1475,1635.5 1479,1636 1483,1636 1487,1636 1491,1635.5 1495,1635.5 1499,1635 1503,1634.5 1503.5,1634 1507,1633.5 1511,1633 1515,1632 1519,1631 1522,1630 1523,1630 1527,1629 1531,1627.5 1535,1626 1539,1625 1543,1624.5 1547,1625 1549,1626 1551,1627 1555,1630 1555.5,1630 1559,1633 1560.5,1634 1563,1636 1566.5,1638 1567,1638.5 1571,1640.5 1575,1642 1579,1643.5 1583,1645 1587,1645.5 1589.5,1646 1591,1646.5 1595,1647 1599,1647.5 1603,1647.5 1607,1648 1611,1648 1615,1648 1619,1648 1623,1648 1627,1648 1631,1648 1635,1648.5 1639,1649 1643,1649.5 1647,1650 1651,1650.5 1655,1651.5 1659,1652 1663,1652 1667,1652.5 1671,1653 1675,1653 1679,1653.5 1683,1653.5 1687,1654 1691,1654 1692,1654 1695,1654.5ZM1423,1336.5 1427,1337 1431,1336 1433,1335 1435,1333 1437,1331 1439,1327 1439,1326.5 1440,1323 1440,1319 1439,1316 1438.5,1315 1435,1311 1433,1311 1431,1310.5 1430.5,1311 1427,1312.5 1424,1315 1423,1316 1421,1319 1419,1323 1418,1327 1418.5,1331 1419,1332 1421,1335 1423,1336.5Z"/>
<path fill="#a4d1a7" d="M1663,1634.5 1667,1635 1671,1635.5 1675,1636 1679,1636 1683,1636 1687,1636 1691,1636 1695,1636 1699,1636 1703,1635.5 1707,1635.5 1711,1635 1715,1634.5 1716,1634 1719,1633.5 1719,1630 1719,1626 1719,1622 1719,1618 1719,1614 1719,1610.5 1719,1606.5 1719,1602.5 1719,1598.5 1719,1594.5 1719,1590.5 1719,1586.5 1719,1582.5 1719,1578.5 1719,1574.5 1719,1570.5 1719,1566.5 1719,1562.5 1719,1558.5 1719,1554.5 1719,1550.5 1719,1546.5 1719,1542.5 1719,1538.5 1719,1534.5 1719,1530.5 1719,1526.5 1719,1522.5 1719,1518.5 1719,1514.5 1719,1510.5 1719,1506.5 1719,1502.5 1719,1498.5 1719,1494.5 1719,1490.5 1719,1486.5 1719,1482.5 1719,1478.5 1719,1474.5 1719,1470.5 1719,1466.5 1719,1462.5 1719,1458.5 1719,1454.5 1719,1450.5 1719,1446.5 1719,1442.5 1719,1438.5 1719,1434.5 1719,1430.5 1719,1426.5 1719,1422.5 1719,1418.5 1719,1414.5 1719,1410.5 1719,1406.5 1719,1402.5 1719,1398.5 1719,1394.5 1719,1390.5 1719,1386.5 1719,1382.5 1719,1378.5 1719,1374.5 1719,1370.5 1719,1366.5 1719,1362.5 1719,1358.5 1719,1354.5 1719,1350.5 1719,1347 1719,1343 1719,1339 1719,1335 1719,1331 1719,1327 1719,1323 1719,1319 1719,1315 1719,1311 1719,1307 1719,1303 1719,1299 1719,1295 1719,1291 1719,1287 1719,1283 1719,1279 1719,1275 1719,1271 1719,1267 1719,1263 1719,1259 1719,1255 1719,1251 1719,1247 1719,1243 1719,1239 1719,1235 1719,1231 1719,1227 1719,1223 1719,1219 1719,1215 1715,1215 1711,1215 1707,1215 1703,1215 1699,1215 1695,1215 1691,1215 1687,1215 1683,1215 1679,1215 1675,1215 1671,1215 1667,1215 1663,1215 1661,1215 1659,1218 1658.5,1219 1655,1223 1651.5,1227 1651,1227 1647,1230.5 1646.5,1231 1643,1234 1641.5,1235 1639,1237 1636.5,1239 1635,1240.5 1632,1243 1631,1244 1628.5,1247 1627,1248.5 1625,1251 1623,1253.5 1622,1255 1619.5,1259 1619,1259.5 1617,1263 1615,1266.5 1614.5,1267 1612.5,1271 1611,1274 1610.5,1275 1608.5,1279 1607,1282.5 1607,1283 1604.5,1287 1603,1290 1602.5,1291 1600.5,1295 1599,1297 1598,1299 1596,1303 1595,1305 1594.5,1307 1593,1311 1592,1315 1591.5,1319 1591,1321.5 1591,1323 1590,1327 1589.5,1331 1589,1335 1588,1339 1587,1341.5 1586.5,1343 1585,1347 1583,1350.5 1581,1354.5 1579,1358 1578.5,1358.5 1576.5,1362.5 1575,1366.5 1573.5,1370.5 1572.5,1374.5 1571.5,1378.5 1571,1380 1570.5,1382.5 1569.5,1386.5 1568,1390.5 1567,1394 1566.5,1394.5 1565,1398.5 1563,1401.5 1562.5,1402.5 1559.5,1406.5 1559,1407 1556.5,1410.5 1555,1412.5 1553.5,1414.5 1551.5,1418.5 1551,1420.5 1550,1422.5 1549,1426.5 1548.5,1430.5 1547.5,1434.5 1547,1437.5 1546.5,1438.5 1545.5,1442.5 1543.5,1446.5 1543,1447.5 1541,1450.5 1539,1453.5 1538.5,1454.5 1535,1458.5 1531.5,1462.5 1531,1463.5 1528.5,1466.5 1527,1468.5 1526,1470.5 1523.5,1474.5 1523,1475.5 1521.5,1478.5 1519.5,1482.5 1519,1483.5 1517.5,1486.5 1516,1490.5 1515,1493.5 1514.5,1494.5 1513,1498.5 1511.5,1502.5 1511,1505 1510.5,1506.5 1509.5,1510.5 1508,1514.5 1507,1518.5 1507,1519 1506,1522.5 1504.5,1526.5 1503,1529 1502,1530.5 1499.5,1534.5 1499,1535 1496.5,1538.5 1495,1540 1493.5,1542.5 1491,1546 1491,1546.5 1488.5,1550.5 1487,1554 1487,1554.5 1485.5,1558.5 1484,1562.5 1483,1565 1482.5,1566.5 1481,1570.5 1479.5,1574.5 1479,1576 1478,1578.5 1476.5,1582.5 1475,1585 1474.5,1586.5 1472.5,1590.5 1471,1594.5 1470,1598.5 1469,1602.5 1470,1606.5 1471,1608 1473,1610.5 1475,1611 1479,1612.5 1483,1613.5 1487,1614 1490.5,1614 1491,1614.5 1495,1614.5 1499,1614.5 1503,1614.5 1507,1614.5 1508,1614 1511,1614 1515,1613 1519,1612 1523,1610.5 1527,1608 1529,1606.5 1531,1604.5 1533,1602.5 1535,1600 1536.5,1598.5 1539,1595 1539.5,1594.5 1543,1590.5 1543.5,1590.5 1547,1588 1551,1587.5 1555,1589 1556,1590.5 1559,1593.5 1559.5,1594.5 1561.5,1598.5 1563,1602.5 1564.5,1606.5 1566,1610.5 1567,1612 1568.5,1614 1571,1617 1572.5,1618 1575,1620 1579,1622 1583,1623.5 1587,1624 1591,1624.5 1595,1625 1599,1625 1603,1625.5 1607,1625.5 1611,1626 1614.5,1626 1615,1626.5 1619,1626.5 1623,1627 1627,1627.5 1631,1628 1635,1628.5 1639,1629.5 1643,1630 1647,1631 1651,1632 1655,1633 1659,1634 1661,1634 1663,1634.5Z"/>
<path fill="#79c2a2" d="M1683,1618.5 1687,1618.5 1691,1618.5 1695,1618 1699,1617.5 1703,1617 1707,1616 1711,1615 1713.5,1614 1715,1613.5 1719,1612 1719,1610.5 1719,1606.5 1719,1602.5 1719,1598.5 1719,1594.5 1719,1590.5 1719,1586.5 1719,1582.5 1719,1578.5 1719,1574.5 1719,1570.5 1719,1566.5 1719,1562.5 1719,1558.5 1719,1554.5 1719,1550.5 1719,1546.5 1719,1542.5 1719,1538.5 1719,1534.5 1719,1530.5 1719,1526.5 1719,1522.5 1719,1518.5 1719,1514.5 1719,1510.5 1719,1506.5 1719,1502.5 1719,1498.5 1719,1494.5 1719,1490.5 1719,1486.5 1719,1482.5 1719,1478.5 1719,1474.5 1719,1470.5 1719,1466.5 1719,1462.5 1719,1458.5 1719,1454.5 1719,1450.5 1719,1446.5 1719,1442.5 1719,1438.5 1719,1434.5 1719,1430.5 1719,1426.5 1719,1422.5 1719,1418.5 1719,1414.5 1719,1410.5 1719,1406.5 1719,1402.5 1719,1398.5 1719,1394.5 1719,1390.5 1719,1386.5 1719,1382.5 1719,1378.5 1719,1374.5 1719,1370.5 1719,1366.5 1719,1362.5 1719,1358.5 1719,1354.5 1719,1350.5 1719,1347 1719,1343 1719,1339 1719,1335 1719,1331 1719,1327 1719,1323 1719,1319 1719,1315 1719,1311 1719,1307 1719,1303 1719,1299 1719,1295 1719,1291 1719,1287 1719,1283 1719,1279 1719,1275 1719,1271 1719,1267 1719,1263 1719,1259 1719,1255 1719,1251 1719,1247 1719,1243 1719,1240 1718,1239 1715,1237.5 1711,1235.5 1710,1235 1707,1234 1703,1232.5 1699,1232 1695,1231.5 1691,1231.5 1687,1232.5 1683,1234 1681.5,1235 1679,1236.5 1675,1239 1671,1242 1669.5,1243 1667,1245 1664,1247 1663,1247.5 1659,1250 1658,1251 1655,1253 1651.5,1255 1651,1255.5 1647,1258 1646,1259 1643,1261.5 1642,1263 1639,1266.5 1638.5,1267 1636.5,1271 1635,1273.5 1634.5,1275 1633,1279 1631.5,1283 1631,1285 1630.5,1287 1629,1291 1627.5,1295 1627,1296 1626,1299 1624,1303 1623,1305 1622,1307 1620,1311 1619,1313.5 1618.5,1315 1617,1319 1615.5,1323 1615,1326 1615,1327 1614,1331 1613.5,1335 1613,1339 1612.5,1343 1612,1347 1611.5,1350.5 1611,1353.5 1611,1354.5 1610,1358.5 1609,1362.5 1608,1366.5 1607,1370 1607,1370.5 1605.5,1374.5 1605,1378.5 1604,1382.5 1604,1386.5 1603.5,1390.5 1604,1394.5 1604.5,1398.5 1605,1402.5 1605.5,1406.5 1606,1410.5 1607,1414.5 1607,1417.5 1607,1418.5 1607.5,1422.5 1607.5,1426.5 1607,1430.5 1607,1433 1607,1434.5 1606.5,1438.5 1606,1442.5 1605.5,1446.5 1605.5,1450.5 1605,1454.5 1605,1458.5 1605,1462.5 1605,1466.5 1605.5,1470.5 1605.5,1474.5 1606,1478.5 1606.5,1482.5 1606.5,1486.5 1606.5,1490.5 1607,1494.5 1607,1498.5 1607,1499 1607,1502.5 1607,1506.5 1607.5,1510.5 1607.5,1514.5 1607.5,1518.5 1608,1522.5 1608.5,1526.5 1609,1530.5 1609.5,1534.5 1610.5,1538.5 1611,1540 1611.5,1542.5 1613,1546.5 1615,1550.5 1616.5,1554.5 1619,1558.5 1621,1562.5 1623,1565.5 1623.5,1566.5 1625.5,1570.5 1627,1573 1627.5,1574.5 1629.5,1578.5 1631,1581 1632,1582.5 1634,1586.5 1635,1588 1636.5,1590.5 1639,1594 1639,1594.5 1642,1598.5 1643,1599 1646,1602.5 1647,1603.5 1650,1606.5 1651,1607 1655,1610 1655.5,1610.5 1659,1612 1663,1614 1663.5,1614 1667,1615.5 1671,1617 1675,1617.5 1679,1618 1679.5,1618 1683,1618.5Z"/>
<path fill="#4db6a4" d="M1683,1590.5 1687,1590.5 1691,1590.5 1695,1589.5 1699,1588 1702,1586.5 1703,1586 1707,1583.5 1709,1582.5 1711,1581 1715,1578.5 1715,1578 1719,1575.5 1719,1574.5 1719,1570.5 1719,1566.5 1719,1562.5 1719,1558.5 1719,1554.5 1719,1550.5 1719,1546.5 1719,1542.5 1719,1538.5 1719,1534.5 1719,1530.5 1719,1526.5 1719,1522.5 1719,1518.5 1719,1514.5 1719,1510.5 1719,1506.5 1719,1502.5 1719,1498.5 1719,1494.5 1719,1490.5 1719,1486.5 1719,1482.5 1719,1478.5 1719,1474.5 1719,1470.5 1719,1466.5 1719,1462.5 1719,1458.5 1719,1454.5 1719,1450.5 1719,1446.5 1719,1442.5 1719,1438.5 1719,1434.5 1719,1430.5 1719,1426.5 1719,1422.5 1719,1418.5 1719,1414.5 1719,1410.5 1719,1406.5 1719,1402.5 1719,1398.5 1719,1394.5 1719,1390.5 1719,1386.5 1719,1382.5 1719,1378.5 1719,1374.5 1719,1370.5 1719,1366.5 1719,1362.5 1719,1358.5 1719,1354.5 1719,1350.5 1719,1347 1719,1343 1719,1339 1719,1335 1719,1331 1719,1327 1719,1323 1719,1319 1719,1316 1718,1315 1715,1311 1712,1307 1711,1305.5 1709,1303 1707,1300.5 1706,1299 1703,1295 1699.5,1291 1699,1290 1696,1287 1695,1286 1691.5,1283 1691,1282.5 1687,1280 1683.5,1279 1683,1278.5 1679,1278 1675,1278.5 1673.5,1279 1671,1279.5 1667,1281.5 1665,1283 1663,1284.5 1660.5,1287 1659,1288.5 1657,1291 1655,1294 1654.5,1295 1652.5,1299 1651,1302 1650.5,1303 1648.5,1307 1647,1310.5 1647,1311 1645,1315 1643,1319 1641,1323 1639,1327 1639,1327.5 1637.5,1331 1636,1335 1635,1337 1634.5,1339 1633,1343 1632,1347 1631.5,1350.5 1631,1353.5 1631,1354.5 1630.5,1358.5 1630,1362.5 1630,1366.5 1629.5,1370.5 1629.5,1374.5 1629.5,1378.5 1630,1382.5 1630,1386.5 1630,1390.5 1629.5,1394.5 1629.5,1398.5 1629.5,1402.5 1629.5,1406.5 1629,1410.5 1629,1414.5 1628.5,1418.5 1628,1422.5 1628,1426.5 1627.5,1430.5 1627,1434.5 1627,1437.5 1627,1438.5 1627,1442.5 1627,1446.5 1627,1450 1627,1450.5 1627.5,1454.5 1628,1458.5 1628.5,1462.5 1629,1466.5 1629.5,1470.5 1630.5,1474.5 1631,1478.5 1631,1480.5 1631,1482.5 1631.5,1486.5 1631.5,1490.5 1632,1494.5 1632,1498.5 1632.5,1502.5 1633,1506.5 1634,1510.5 1634.5,1514.5 1635,1515.5 1635.5,1518.5 1637,1522.5 1638,1526.5 1639,1530.5 1639,1531 1640,1534.5 1641,1538.5 1641.5,1542.5 1642.5,1546.5 1643,1547.5 1643.5,1550.5 1645,1554.5 1646,1558.5 1647,1561 1647.5,1562.5 1649.5,1566.5 1651,1569.5 1651.5,1570.5 1654.5,1574.5 1655,1575 1658,1578.5 1659,1579 1663,1582 1663,1582.5 1667,1584.5 1670,1586.5 1671,1587 1675,1588.5 1679,1589.5 1682.5,1590.5 1683,1590.5Z"/>
<path fill="#04aaac" d="M1675,1563 1679,1565 1683,1566 1687,1566.5 1691,1566 1695,1565 1699,1563.5 1701.5,1562.5 1703,1561.5 1707,1559 1707.5,1558.5 1711,1555 1711.5,1554.5 1714,1550.5 1715,1546.5 1715.5,1542.5 1715.5,1538.5 1715.5,1534.5 1715.5,1530.5 1715.5,1526.5 1715.5,1522.5 1715.5,1518.5 1715.5,1514.5 1715.5,1510.5 1716,1506.5 1716,1502.5 1716.5,1498.5 1717,1494.5 1717.5,1490.5 1718,1486.5 1719,1482.5 1719,1481 1719,1478.5 1719,1474.5 1719,1470.5 1719,1466.5 1719,1462.5 1719,1458.5 1719,1454.5 1719,1450.5 1719,1446.5 1719,1442.5 1719,1438.5 1719,1434.5 1719,1430.5 1719,1426.5 1719,1422.5 1719,1418.5 1719,1414.5 1719,1410.5 1719,1406.5 1719,1402.5 1719,1398.5 1719,1394.5 1719,1390.5 1719,1386.5 1719,1382.5 1719,1378.5 1719,1374.5 1719,1370.5 1719,1366.5 1719,1362.5 1719,1358.5 1719,1354.5 1719,1350.5 1719,1349.5 1717.5,1347 1715,1343.5 1714.5,1343 1711.5,1339 1711,1338 1708.5,1335 1707,1333 1705.5,1331 1703,1328 1702,1327 1699,1323.5 1698,1323 1695,1319.5 1694.5,1319 1691,1315.5 1689.5,1315 1687,1313 1683,1311 1680,1311 1679,1311 1675,1312.5 1672,1315 1671,1316 1668.5,1319 1667,1321 1666,1323 1663.5,1327 1663,1327.5 1661.5,1331 1659.5,1335 1659,1336 1658,1339 1656.5,1343 1655,1347 1655,1347.5 1654,1350.5 1653.5,1354.5 1653.5,1358.5 1653,1362.5 1653,1366.5 1652.5,1370.5 1652.5,1374.5 1652,1378.5 1651.5,1382.5 1651,1386.5 1650,1390.5 1649.5,1394.5 1649,1398.5 1648,1402.5 1647.5,1406.5 1647,1409 1647,1410.5 1646.5,1414.5 1646,1418.5 1645.5,1422.5 1645,1426.5 1644.5,1430.5 1644.5,1434.5 1644,1438.5 1644,1442.5 1644,1446.5 1644,1450.5 1644,1454.5 1644.5,1458.5 1645,1462.5 1645.5,1466.5 1646,1470.5 1646.5,1474.5 1647,1476.5 1647.5,1478.5 1648,1482.5 1648.5,1486.5 1649.5,1490.5 1650,1494.5 1650.5,1498.5 1651,1500.5 1651.5,1502.5 1652,1506.5 1653,1510.5 1654.5,1514.5 1655,1517 1655.5,1518.5 1656.5,1522.5 1657.5,1526.5 1658.5,1530.5 1659,1531.5 1660,1534.5 1661,1538.5 1662,1542.5 1663,1545.5 1663.5,1546.5 1665,1550.5 1666.5,1554.5 1667,1555 1669.5,1558.5 1671,1560 1673.5,1562.5 1675,1563Z"/>
<path fill="#0696b3" d="M1679,1499 1683,1500.5 1687,1500 1689.5,1498.5 1691,1497.5 1694,1494.5 1695,1493 1696.5,1490.5 1698.5,1486.5 1699,1485.5 1700,1482.5 1701.5,1478.5 1702,1474.5 1703,1470.5 1703,1469.5 1703,1466.5 1703.5,1462.5 1703.5,1458.5 1703.5,1454.5 1703.5,1450.5 1703.5,1446.5 1703.5,1442.5 1704,1438.5 1704,1434.5 1704,1430.5 1704.5,1426.5 1704.5,1422.5 1704,1418.5 1704,1414.5 1704,1410.5 1704,1406.5 1704,1402.5 1704.5,1398.5 1705,1394.5 1706,1390.5 1706.5,1386.5 1707,1385 1707.5,1382.5 1707.5,1378.5 1707,1375 1707,1374.5 1705.5,1370.5 1703.5,1366.5 1703,1366 1699.5,1362.5 1699,1362 1695,1360 1691,1359 1687,1360 1683,1362.5 1680,1366.5 1679,1368.5 1678,1370.5 1676.5,1374.5 1675,1378.5 1675,1379.5 1674,1382.5 1673,1386.5 1672,1390.5 1671,1394 1671,1394.5 1669.5,1398.5 1668.5,1402.5 1667,1406.5 1667,1407.5 1666,1410.5 1665,1414.5 1664.5,1418.5 1664,1422.5 1663.5,1426.5 1663.5,1430.5 1663,1434.5 1663,1438.5 1663,1439.5 1663,1442.5 1662.5,1446.5 1662.5,1450.5 1662,1454.5 1662,1458.5 1662,1462.5 1662.5,1466.5 1663,1470.5 1663,1471 1664,1474.5 1665,1478.5 1666,1482.5 1667,1485 1668,1486.5 1670,1490.5 1671,1492.5 1673,1494.5 1675,1496.5 1678,1498.5 1679,1499Z"/>
</g>
<g clip-path="url(#cp30)" shape-rendering="geometricPrecision">
<path fill="#fef2d9" d="M195,2241 196.5,2241 199,2241 203,2240.5 207,2239.5 211,2238 213.5,2237 215,2236.5 219,2234.5 221.5,2233 223,2232 227,2229.5 227.5,2229 231,2227 233.5,2225 235,2224 239,2221.5 239.5,2221 243,2219.5 247,2218 250.5,2217 251,2217 253,2217 255,2217 259,2218.5 263,2220 265.5,2221 267,2221.5 271,2223 275,2224.5 278,2225 279,2225.5 283,2226 287,2227 291,2227.5 295,2228 299,2228 303,2228.5 307,2229 310.5,2229 311,2229 315,2229.5 319,2230 323,2230.5 327,2230.5 331,2231 335,2231.5 339,2231.5 343,2232 347,2232 351,2232.5 355,2232.5 359,2232.5 363,2232.5 367,2232.5 371,2232.5 375,2232.5 379,2232.5 383,2232 387,2232 391,2232 395,2231.5 399,2231.5 403,2231 407,2230.5 411,2230 415,2229 419,2228 423,2226 424.5,2225 427,2223 429,2221 431,2219 432,2217 434.5,2213 435,2212 436,2209 436.5,2205 435.5,2201 435,2200.5 432,2197 431,2196.5 427,2194 425.5,2193 423,2192 419,2191 415,2190 412.5,2189 411,2189 407,2187.5 403,2186.5 399,2185.5 397.5,2185 395,2184.5 391,2183.5 387,2182.5 383,2181.5 382.5,2181 379,2180.5 375,2180 371,2179 367,2178.5 363,2178.5 359,2178 355,2178 351,2178 347,2178.5 343,2179 339,2179.5 335,2180.5 331,2181 327,2181 323,2181 319,2180.5 315,2180.5 311,2180 307,2180 303,2180.5 299,2180.5 296,2181 295,2181.5 291,2182 287,2183 283,2183.5 279,2184.5 276.5,2185 275,2185.5 271,2186 267,2186.5 263,2187 259,2186.5 256,2185 255,2184.5 251,2181.5 251,2181 247.5,2177 247,2176.5 244.5,2173 243,2171.5 240.5,2169 239,2168 235,2165.5 235,2165 231,2163 227,2162 224.5,2161 223,2160.5 219,2159.5 215,2159 211,2159 207,2159 203,2159 199,2160 195,2161 194,2161 191,2162.5 187,2164 185,2165 183,2166.5 179,2169 175,2173 174.5,2173 171,2177 171,2177.5 168,2181 167,2183 165.5,2185 163.5,2189 163,2190.5 162,2193 160.5,2197 160,2201 159.5,2205 160,2209 160.5,2213 162,2217 163,2219 164,2221 166,2225 167,2226 169,2229 171,2231 173,2233 175,2234.5 179,2237 183,2239 187,2240.5 191,2241 193.5,2241 195,2241ZM227,1994.5 231,1996 235,1995.5 237.5,1993.5 239,1992.5 241,1989.5 243,1987 243.5,1985.5 245.5,1981.5 247,1978 247,1977.5 248.5,1973.5 249.5,1969.5 250,1965.5 251,1961.5 251,1961 251.5,1957.5 252,1953.5 252.5,1949.5 252.5,1945.5 253,1941.5 253.5,1937.5 254,1933.5 255,1929.5 255,1929 256,1925.5 257.5,1921.5 259,1918.5 259.5,1917.5 262,1913.5 263,1912 264.5,1909.5 267,1906.5 267.5,1905.5 271,1901.5 274,1897.5 275,1896.5 277.5,1893.5 279,1891.5 280.5,1889.5 283,1887 284,1885.5 287,1882.5 287.5,1881.5 291,1878 291,1877.5 294,1874 295,1872.5 297,1870 299,1867 300,1866 302.5,1862 303,1861 305,1858 307,1855 307.5,1854 310,1850 311,1848.5 312.5,1846 315,1842 315,1841.5 317.5,1838 319,1835 320,1834 322.5,1830 323,1829 325.5,1826 327,1823.5 328,1822 331,1818 333.5,1814 335,1811.5 336,1810 338.5,1806 339,1804.5 340.5,1802 342.5,1798 343,1797 344.5,1794 346,1790 347,1788 348,1786 349.5,1782 351,1778.5 351,1778 352.5,1774 354,1770 355,1767 355.5,1766 356.5,1762 357,1758 357.5,1754 358,1750 358,1746 355,1746 351,1746 347,1746 343,1746 339,1746 335,1746 331,1746 327,1746 323,1746 319,1746 315,1746 311,1746 307,1746 303,1746 299,1746 295,1746 293,1746 291,1748.5 290,1750 287,1753.5 287,1754 283.5,1758 283,1759 280.5,1762 279,1763.5 277,1766 275,1769 274.5,1770 272,1774 271,1775.5 270,1778 268,1782 267,1784 266,1786 264,1790 263,1792 262,1794 259.5,1798 259,1799 256.5,1802 255,1804 253,1806 251,1808 248.5,1810 247,1811 243,1814 239,1816 236,1818 235,1818.5 231,1820.5 229,1822 227,1823 223,1826 219,1829.5 218.5,1830 215.5,1834 215,1834.5 212.5,1838 211,1841 210.5,1842 209,1846 208,1850 207,1854 207,1855 206.5,1858 206.5,1862 206.5,1866 206.5,1870 207,1874 206.5,1878 206,1881.5 205,1885.5 204,1889.5 203,1893 202.5,1893.5 201,1897.5 199.5,1901.5 199,1904 198.5,1905.5 197,1909.5 196.5,1913.5 195.5,1917.5 195,1921.5 194.5,1925.5 194,1929.5 194,1933.5 194,1937.5 194,1941.5 194.5,1945.5 195,1946.5 195.5,1949.5 197,1953.5 199,1957.5 201.5,1961.5 203,1964 204,1965.5 207,1969.5 209.5,1973.5 211,1975.5 212.5,1977.5 215,1981 215.5,1981.5 218,1985.5 219,1987 221,1989.5 223,1991.5 225.5,1993.5 227,1994.5Z"/>
<path fill="#fedc9b" d="M187,2230.5 191,2231.5 195,2232 199,2232 203,2231.5 207,2230.5 210,2229 211,2228.5 215,2227 218,2225 219,2224.5 223,2221.5 224,2221 227,2218.5 229,2217 231,2215 233,2213 235,2210.5 236.5,2209 238.5,2205 239,2204 240,2201 240.5,2197 240,2193 239,2190.5 238.5,2189 237,2185 235,2181.5 235,2181 232,2177 231,2176 228,2173 227,2172.5 223,2170 221.5,2169 219,2168.5 215,2167 211,2166.5 207,2166.5 203,2167 199,2168 195.5,2169 195,2169.5 191,2171 188,2173 187,2174 183,2177 179,2181 176,2185 175,2186.5 173.5,2189 171.5,2193 171,2195 170,2197 169.5,2201 169,2205 169.5,2209 170.5,2213 171,2215 172,2217 174.5,2221 175,2222 178,2225 179,2226 183,2228.5 184,2229 187,2230.5ZM339,2217.5 343,2218 347,2219 351,2219.5 355,2220 359,2220.5 363,2220.5 367,2220.5 371,2220 375,2219.5 379,2219 383,2218.5 387,2217.5 389,2217 391,2216.5 395,2215 399,2213.5 399.5,2213 403,2210 404,2209 405,2205 403,2203 401.5,2201 399,2199.5 395.5,2197 395,2197 391,2195.5 387,2193.5 386,2193 383,2192 379,2191 375,2190 371.5,2189 371,2189 367,2188.5 363,2188.5 359,2188.5 355,2189 351,2190 347,2191 343,2192 339,2193 335,2194.5 331,2195.5 327,2196.5 324.5,2197 323,2197.5 319,2198.5 315,2199.5 311,2200.5 309.5,2201 307,2204 306,2205 307,2206 311,2208.5 312,2209 315,2210 319,2211.5 323,2213 324,2213 327,2214 331,2215 335,2216 338.5,2217 339,2217.5ZM251,1878.5 255,1879 259,1878 260,1878 263,1877 267,1875 269.5,1874 271,1873 275,1871 276.5,1870 279,1868 282.5,1866 283,1865.5 287,1862 291,1858 294.5,1854 295,1853 297.5,1850 299,1847.5 300,1846 302.5,1842 303,1841 304.5,1838 307,1834 310,1830 311,1828 312.5,1826 315,1822.5 315.5,1822 318.5,1818 319,1817 321.5,1814 323,1811.5 324,1810 326.5,1806 327,1805 329,1802 330.5,1798 331,1797 332,1794 333.5,1790 334.5,1786 335,1782 335.5,1778 336,1774 336,1770 335.5,1766 335,1762 335,1761 334,1758 331.5,1754 331,1753.5 327,1751 323,1750.5 319,1751.5 315.5,1754 315,1754 311,1758 307.5,1762 307,1763 304.5,1766 303,1768 302,1770 299,1773.5 299,1774 296,1778 295,1779.5 293,1782 291,1785.5 290.5,1786 288,1790 287,1792 285.5,1794 283.5,1798 283,1798.5 281,1802 279,1805.5 278.5,1806 276,1810 275,1812 273.5,1814 271,1817.5 271,1818 268,1822 267,1823 265,1826 263,1828.5 262,1830 259.5,1834 259,1834.5 257,1838 255,1841.5 254.5,1842 252.5,1846 251,1849.5 251,1850 249.5,1854 247.5,1858 247,1860 246.5,1862 245.5,1866 244.5,1870 245,1874 247,1877 248,1878 251,1878.5Z"/>
<path fill="#f9c285" d="M191,2225 195,2226 199,2226 203,2225.5 204,2225 207,2224.5 211,2223 214,2221 215,2220.5 219,2218 220,2217 223,2214.5 224.5,2213 227,2210 228,2209 230,2205 231,2203 231.5,2201 232,2197 232,2193 231,2189.5 231,2189 229.5,2185 227,2181.5 226.5,2181 223,2177.5 222.5,2177 219,2175 215,2173.5 214.5,2173 211,2172.5 207,2172.5 203,2172.5 201,2173 199,2173.5 195,2175.5 191.5,2177 191,2177.5 187,2180.5 186.5,2181 183,2184.5 182.5,2185 179.5,2189 179,2190.5 177.5,2193 176,2197 175.5,2201 175,2205 175.5,2209 177,2213 179,2217 183,2221 187,2223.5 191,2225Z"/>
<path fill="#f4a474" d="M187,2217.5 191,2219.5 195,2221 199,2221 203,2220.5 207,2219.5 211,2217.5 212,2217 215,2215.5 217.5,2213 219,2212 221.5,2209 223,2207 224,2205 226,2201 226.5,2197 226,2193 225,2189 223,2185 219,2181 215,2178.5 211,2177.5 208,2177 207,2177 206,2177 203,2177.5 199,2178.5 195,2180.5 193.5,2181 191,2183 188.5,2185 187,2186.5 185,2189 183,2192.5 182.5,2193 181,2197 180,2201 180,2205 181,2209 183,2213 183,2213.5 186.5,2217 187,2217.5Z"/>
<path fill="#f08966" d="M191,2214 195,2216 199,2216.5 203,2216 207,2215 210.5,2213 211,2213 215,2210 216,2209 219,2205 220.5,2201 221.5,2197 221,2193 219.5,2189 219,2188.5 216,2185 215,2184 211,2182.5 207,2181.5 203,2182 199,2183 195,2185 191,2188.5 190.5,2189 187.5,2193 187,2194 185.5,2197 185,2201 185,2205 186.5,2209 187,2210.5 189.5,2213 191,2214Z"/>
<path fill="#ec6c5b" d="M195,2210.5 199,2211.5 203,2211.5 207,2210 208.5,2209 211,2207.5 213,2205 215,2202 215.5,2201 216,2197 215.5,2193 215,2192 212.5,2189 211,2188 207,2186.5 203,2186.5 199,2188 197,2189 195,2190.5 192.5,2193 191,2196 190.5,2197 189.5,2201 190,2205 191,2206.5 193,2209 195,2210.5Z"/>
<path fill="#de4e50" d="M203,2205.5 203.5,2205 207,2203 208.5,2201 209.5,2197 207,2193.5 206,2193 203,2193 202,2193 199,2195 197,2197 196.5,2201 199,2205 199.5,2205 203,2205.5Z"/>
<path fill="#ebf3e0" d="M195,2265 195.5,2265 199,2265 203,2264.5 207,2264 211,2263 215,2262 218.5,2261 219,2261 223,2259 227,2257 228.5,2253 227,2252 223,2251 219,2250.5 215,2250.5 211,2251 207,2251.5 203,2252.5 200,2253 199,2253.5 195,2255 191,2256.5 189.5,2257 187,2260 186,2261 187,2262 191,2264.5 195,2265ZM583,2202 587,2203 591,2204 595,2204.5 599,2205 603,2205 607,2204.5 611,2204 615,2202.5 618,2201 619,2201 623,2199 627,2197.5 627.5,2197 631,2196 635,2195 639,2193.5 641,2193 643,2192.5 647,2192 651,2191.5 655,2191 655,2189 655,2185 655,2181 655,2177 655,2173 655,2169 655,2165 655,2161 655,2157 655,2153 655,2149 655,2145 655,2141.5 655,2137.5 655,2133.5 655,2129.5 655,2125.5 655,2121.5 655,2117.5 655,2113.5 655,2109.5 655,2105.5 655,2101.5 655,2097.5 655,2093.5 655,2089.5 655,2085.5 655,2081.5 655,2077.5 655,2073.5 655,2069.5 655,2065.5 655,2061.5 655,2057.5 655,2053.5 655,2049.5 655,2045.5 655,2041.5 655,2037.5 655,2033.5 655,2029.5 655,2025.5 655,2021.5 655,2017.5 655,2013.5 655,2009.5 655,2005.5 655,2001.5 655,1997.5 655,1993.5 655,1989.5 655,1985.5 655,1981.5 655,1977.5 655,1973.5 655,1969.5 655,1965.5 655,1961.5 655,1957.5 655,1953.5 655,1949.5 655,1945.5 655,1941.5 655,1937.5 655,1933.5 655,1929.5 655,1925.5 655,1921.5 655,1917.5 655,1913.5 655,1909.5 655,1905.5 655,1901.5 655,1897.5 655,1893.5 655,1889.5 655,1885.5 655,1881.5 655,1878 655,1874 655,1870 655,1866 655,1862 655,1858 655,1854 655,1850 655,1846 655,1842 655,1838 655,1834 655,1830 655,1826 655,1822 655,1818 655,1814 655,1810 655,1806 655,1802 655,1798 655,1794 655,1790 655,1786 655,1782 655,1778 655,1774 655,1770 655,1766 655,1762 655,1758 655,1754 655,1750 655,1746 651,1746 647,1746 643,1746 639,1746 635,1746 631,1746 627,1746 623,1746 619,1746 615,1746 611,1746 607,1746 603,1746 599,1746 595,1746 591,1746 587,1746 583,1746 579,1746 575,1746 571,1746 567,1746 563,1746 559,1746 555,1746 551,1746 547,1746 543,1746 539,1746 535,1746 531,1746 527,1746 523,1746 519,1746 515,1746 511,1746 507,1746 503,1746 499,1746 495,1746 491,1746 487,1746 483,1746 479,1746 475,1746 471,1746 467,1746 463,1746 459,1746 455,1746 451,1746 447,1746 443,1746 439,1746 435,1746 431,1746 427,1746 423,1746 419,1746 415,1746 411,1746 407,1746 403,1746 399,1746 395,1746 391,1746 387,1746 383,1746 382,1746 380,1750 379,1752 378,1754 376,1758 375,1760.5 374,1762 372.5,1766 371,1769 370.5,1770 368.5,1774 367,1777 366.5,1778 364,1782 363,1784 362,1786 359.5,1790 359,1790.5 357,1794 355,1797.5 355,1798 352.5,1802 351,1804.5 350.5,1806 348,1810 347,1811.5 345.5,1814 343,1817.5 343,1818 340.5,1822 339,1823.5 337.5,1826 335,1829.5 335,1830 332,1834 331,1835.5 329.5,1838 327,1841 326.5,1842 324,1846 323,1847.5 321.5,1850 319,1854 317,1858 315,1861.5 315,1862 312.5,1866 311,1868.5 310.5,1870 308,1874 307,1875 305,1878 303,1881 302.5,1881.5 299.5,1885.5 299,1886.5 297,1889.5 295,1892.5 294,1893.5 292,1897.5 291,1899 289.5,1901.5 288,1905.5 287,1908 286,1909.5 285,1913.5 284,1917.5 283,1921.5 283,1923.5 283,1925.5 282.5,1929.5 283,1933.5 283,1934 283.5,1937.5 284.5,1941.5 286,1945.5 287,1948 287.5,1949.5 290,1953.5 291,1955 293,1957.5 295,1960.5 296,1961.5 299,1965 299.5,1965.5 303,1969 303.5,1969.5 307,1973.5 310.5,1977.5 311,1978 313.5,1981.5 315,1984 316,1985.5 318,1989.5 319,1993.5 319,1996.5 319,1997.5 318.5,2001.5 317.5,2005.5 316,2009.5 315,2012 314.5,2013.5 313,2017.5 311.5,2021.5 311,2022.5 310,2025.5 308.5,2029.5 307.5,2033.5 307,2037 307,2037.5 306.5,2041.5 306,2045.5 306,2049.5 306,2053.5 306.5,2057.5 307,2061 307,2061.5 308,2065.5 309.5,2069.5 311,2072 311.5,2073.5 313.5,2077.5 315,2080.5 315.5,2081.5 316.5,2085.5 317.5,2089.5 318,2093.5 317.5,2097.5 317,2101.5 316,2105.5 315.5,2109.5 315,2110.5 314,2113.5 313,2117.5 312.5,2121.5 312,2125.5 311.5,2129.5 311.5,2133.5 312,2137.5 313.5,2141.5 315,2144 315.5,2145 318.5,2149 319,2149.5 323,2153 327,2156 329.5,2157 331,2158 335,2159.5 339,2161 339.5,2161 343,2162 347,2163 351,2163.5 355,2164.5 359,2165 361.5,2165 363,2165.5 367,2166 371,2167 375,2167.5 379,2168.5 381.5,2169 383,2169.5 387,2171 391,2172 395,2173 399,2174 403,2175 407,2176 411,2176.5 414,2177 415,2177.5 419,2178 423,2178.5 427,2179.5 431,2180 435,2181 435.5,2181 439,2182 443,2183 447,2184 451,2185 452.5,2185 455,2186 459,2187 463,2187.5 467,2188.5 470,2189 471,2189.5 475,2190 479,2191 483,2191.5 487,2192 491,2192.5 495,2193 497.5,2193 499,2193.5 503,2194 507,2194 511,2194.5 515,2194.5 519,2194.5 523,2194.5 527,2194.5 531,2194.5 535,2194.5 539,2194.5 543,2194.5 547,2194.5 551,2194.5 555,2195 559,2195.5 563,2196 567,2197 567.5,2197 571,2198 575,2199.5 579,2200.5 581,2201 583,2202ZM183,2146.5 187,2147.5 191,2148 195,2148.5 199,2148.5 203,2148.5 207,2148 211,2148 215,2147.5 219,2147.5 223,2148 227,2148 231,2148.5 235,2149 239,2148.5 243,2148 247,2146 248.5,2145 251,2143.5 253.5,2141.5 255,2138.5 256,2137.5 257.5,2133.5 257.5,2129.5 257.5,2125.5 256.5,2121.5 256,2117.5 255,2113.5 253.5,2109.5 252,2105.5 251,2104 248.5,2101.5 247,2100 243,2098.5 239,2098.5 235,2099.5 232.5,2101.5 231,2102 227.5,2105.5 227,2106 224,2109.5 223,2110.5 219,2113 215,2110.5 214.5,2109.5 213.5,2105.5 212.5,2101.5 211.5,2097.5 211,2096 210.5,2093.5 209,2089.5 207,2086 206.5,2085.5 204,2081.5 203,2080 200.5,2077.5 199,2076 195,2073.5 191,2071.5 187,2070.5 183,2071 179,2072 176.5,2073.5 175,2074.5 171.5,2077.5 171,2078 169,2081.5 167,2085 167,2085.5 165.5,2089.5 164.5,2093.5 164.5,2097.5 164.5,2101.5 165,2105.5 165.5,2109.5 166,2113.5 167,2117.5 167,2118 167.5,2121.5 167,2125.5 167,2127 166.5,2129.5 166.5,2133.5 167,2134.5 167.5,2137.5 171,2140.5 172,2141.5 175,2143 179,2145 180,2145 183,2146.5ZM223,1786 227,1788 231,1788.5 235,1787.5 238,1786 239,1785 241.5,1782 243,1778 243.5,1774 243.5,1770 243,1766 242,1762 240,1758 239,1756.5 236.5,1754 235,1752.5 231,1751 227,1751.5 223,1753 222,1754 219,1758 217.5,1762 216.5,1766 216.5,1770 216.5,1774 217.5,1778 219,1781 219.5,1782 223,1786Z"/>
<path fill="#cbe1b5" d="M587,2186 591,2187 595,2187.5 599,2188 603,2188 607,2187.5 611,2187 615,2186.5 619,2185.5 621.5,2185 623,2185 627,2184 631,2183 635,2182.5 639,2181.5 641.5,2181 643,2181 647,2180 651,2179.5 655,2179 655,2177 655,2173 655,2169 655,2165 655,2161 655,2157 655,2153 655,2149 655,2145 655,2141.5 655,2137.5 655,2133.5 655,2129.5 655,2125.5 655,2121.5 655,2117.5 655,2113.5 655,2109.5 655,2105.5 655,2101.5 655,2097.5 655,2093.5 655,2089.5 655,2085.5 655,2081.5 655,2077.5 655,2073.5 655,2069.5 655,2065.5 655,2061.5 655,2057.5 655,2053.5 655,2049.5 655,2045.5 655,2041.5 655,2037.5 655,2033.5 655,2029.5 655,2025.5 655,2021.5 655,2017.5 655,2013.5 655,2009.5 655,2005.5 655,2001.5 655,1997.5 655,1993.5 655,1989.5 655,1985.5 655,1981.5 655,1977.5 655,1973.5 655,1969.5 655,1965.5 655,1961.5 655,1957.5 655,1953.5 655,1949.5 655,1945.5 655,1941.5 655,1937.5 655,1933.5 655,1929.5 655,1925.5 655,1921.5 655,1917.5 655,1913.5 655,1909.5 655,1905.5 655,1901.5 655,1897.5 655,1893.5 655,1889.5 655,1885.5 655,1881.5 655,1878 655,1874 655,1870 655,1866 655,1862 655,1858 655,1854 655,1850 655,1846 655,1842 655,1838 655,1834 655,1830 655,1826 655,1822 655,1818 655,1814 655,1810 655,1806 655,1802 655,1798 655,1794 655,1790 655,1786 655,1782 655,1778 655,1774 655,1770 655,1766 655,1762 655,1758 655,1754 655,1750 655,1746 651,1746 647,1746 643,1746 639,1746 635,1746 631,1746 627,1746 623,1746 619,1746 615,1746 611,1746 607,1746 603,1746 599,1746 595,1746 591,1746 587,1746 583,1746 579,1746 575,1746 571,1746 567,1746 563,1746 559,1746 555,1746 551,1746 547,1746 543,1746 539,1746 535,1746 531,1746 529,1746 531,1748 532.5,1750 532.5,1754 531,1756.5 530,1758 527,1760.5 523.5,1762 523,1762 519,1763 515,1763 511,1763 507,1762 503,1760.5 499,1758.5 498,1758 495,1754.5 494.5,1754 495,1750.5 495,1750 499,1746.5 499.5,1746 499,1746 495,1746 491,1746 487,1746 483,1746 479,1746 475,1746 471,1746 467,1746 463,1746 459,1746 455,1746 451,1746 447,1746 443,1746 439,1746 435,1746 431,1746 427,1746 423,1746 419,1746 415,1746 411,1746 407,1746 403,1746 399,1746 395.5,1746 395,1747 393.5,1750 392,1754 391,1756 390.5,1758 389,1762 387.5,1766 387,1767 386,1770 384.5,1774 383,1778 383,1778.5 381.5,1782 379,1786 379,1786.5 377,1790 375,1792.5 374,1794 371,1798 368,1802 367,1803.5 365.5,1806 363,1809.5 362.5,1810 360,1814 359,1815.5 357.5,1818 355,1821.5 355,1822 352,1826 351,1827.5 349.5,1830 347,1833 346.5,1834 344,1838 343,1839 341,1842 339,1844.5 338,1846 335.5,1850 335,1850.5 333,1854 331,1856.5 330.5,1858 328,1862 327,1863.5 326,1866 324,1870 323,1871 321.5,1874 319.5,1878 319,1878.5 317.5,1881.5 315,1885.5 312.5,1889.5 311,1892.5 310,1893.5 308,1897.5 307,1899.5 306,1901.5 304.5,1905.5 303,1909.5 303,1911 302.5,1913.5 302,1917.5 302.5,1921.5 303,1925.5 303,1926.5 304,1929.5 305,1933.5 307,1937.5 307,1938 309,1941.5 311,1944.5 312,1945.5 315,1949.5 318.5,1953.5 319,1954 323,1957.5 327,1960.5 328,1961.5 331,1963.5 334,1965.5 335,1966 339,1968.5 340.5,1969.5 343,1971 346.5,1973.5 347,1974 351,1977.5 354.5,1981.5 355,1983 356,1985.5 357,1989.5 357,1993.5 356.5,1997.5 356.5,2001.5 355.5,2005.5 355,2009.5 355,2010 354.5,2013.5 354,2017.5 353,2021.5 352.5,2025.5 351.5,2029.5 351,2030.5 350,2033.5 349,2037.5 347.5,2041.5 347,2044.5 347,2045.5 346.5,2049.5 346.5,2053.5 347,2057 347,2057.5 348,2061.5 349.5,2065.5 351,2068.5 351.5,2069.5 353,2073.5 355,2077 355.5,2077.5 357,2081.5 359,2085.5 359,2086 360,2089.5 360.5,2093.5 360.5,2097.5 360,2101.5 359,2105 359,2105.5 357.5,2109.5 356.5,2113.5 355,2117.5 355,2118 354.5,2121.5 353.5,2125.5 353.5,2129.5 354,2133.5 355,2137.5 357,2141.5 359,2143.5 360.5,2145 363,2147 367,2149 367.5,2149 371,2150.5 375,2151.5 379,2152.5 382,2153 383,2153.5 387,2154.5 391,2156 394.5,2157 395,2157.5 399,2159 403,2160.5 405,2161 407,2162 411,2163 415,2164 419,2164.5 423,2165 427,2165.5 431,2166 435,2166.5 439,2167 443,2168 447,2168.5 451,2169 451.5,2169 455,2170 459,2170.5 463,2171 467,2172 471,2172.5 475,2173 476,2173 479,2173.5 483,2174 487,2174.5 491,2175 495,2175.5 499,2176 503,2176.5 507,2177 509.5,2177 511,2177.5 515,2177.5 519,2178 523,2178 527,2178 531,2178 535,2178 539,2178 543,2177.5 547,2177.5 551,2177.5 555,2177.5 559,2178 563,2179 567,2179.5 571,2181 572,2181 575,2182 579,2183.5 583,2185 584.5,2185 587,2186ZM416.5,1957.5 415,1955 414.5,1953.5 414,1949.5 414,1945.5 414.5,1941.5 415,1938 415,1937.5 416.5,1933.5 418,1929.5 419,1927.5 420,1925.5 422.5,1921.5 423,1920.5 425,1917.5 427,1915 428,1913.5 431,1910.5 431.5,1909.5 435,1906.5 436,1905.5 439,1903.5 442,1901.5 443,1901 447,1900 451,1899.5 455,1901 455.5,1901.5 458.5,1905.5 459,1907 459.5,1909.5 459.5,1913.5 459,1917.5 459,1918 458,1921.5 456.5,1925.5 455,1929 454.5,1929.5 452.5,1933.5 451,1936 450,1937.5 447,1941.5 443.5,1945.5 443,1946 439.5,1949.5 439,1950.5 435.5,1953.5 435,1954 431,1957 429.5,1957.5 427,1959 423,1960 419,1959.5 416.5,1957.5Z"/>
<path fill="#a4d1a7" d="M607,2173.5 611,2173.5 615,2173.5 619,2173 619.5,2173 623,2173 627,2172.5 631,2172 635,2171 639,2170.5 643,2169.5 644.5,2169 647,2168.5 651,2168 655,2167 655,2165 655,2161 655,2157 655,2153 655,2149 655,2145 655,2141.5 655,2137.5 655,2133.5 655,2129.5 655,2125.5 655,2121.5 655,2117.5 655,2113.5 655,2109.5 655,2105.5 655,2101.5 655,2097.5 655,2093.5 655,2089.5 655,2085.5 655,2081.5 655,2077.5 655,2073.5 655,2069.5 655,2065.5 655,2061.5 655,2057.5 655,2053.5 655,2049.5 655,2045.5 655,2041.5 655,2037.5 655,2033.5 655,2029.5 655,2025.5 655,2021.5 655,2017.5 655,2013.5 655,2009.5 655,2005.5 655,2001.5 655,1997.5 655,1993.5 655,1989.5 655,1985.5 655,1981.5 655,1977.5 655,1973.5 655,1969.5 655,1965.5 655,1961.5 655,1957.5 655,1953.5 655,1949.5 655,1945.5 655,1941.5 655,1937.5 655,1933.5 655,1929.5 655,1925.5 655,1921.5 655,1917.5 655,1913.5 655,1909.5 655,1905.5 655,1901.5 655,1897.5 655,1893.5 655,1889.5 655,1885.5 655,1881.5 655,1878 655,1874 655,1870 655,1866 655,1862 655,1858 655,1854 655,1850 655,1846 655,1842 655,1838 655,1834 655,1830 655,1826 655,1822 655,1818 655,1814 655,1810 655,1806 655,1802 655,1798 655,1794 655,1790 655,1786 655,1782 655,1778 655,1774 655,1770 655,1766 655,1762 655,1758 655,1754 655,1750 655,1746 651,1746 647,1746 643,1746 639,1746 635,1746 631,1746 627,1746 623,1746 619,1746 615,1746 611,1746 607,1746 603,1746 599,1746 595,1746 591,1746 587,1746 583,1746 579.5,1750 579,1751 576.5,1754 575,1756.5 574,1758 571,1762 568.5,1766 567,1768.5 566,1770 563,1774 563,1774.5 560.5,1778 559,1780 557.5,1782 555,1785 554.5,1786 551.5,1790 551,1790.5 548,1794 547,1795 544.5,1798 543,1800 541.5,1802 539,1804.5 538,1806 535,1809 534.5,1810 531,1814 528,1818 527,1819 525,1822 523,1826 521.5,1830 520.5,1834 520.5,1838 520.5,1842 521,1846 522,1850 523,1854 523.5,1858 524.5,1862 524.5,1866 524.5,1870 524.5,1874 523.5,1878 523,1881 523,1881.5 522,1885.5 521,1889.5 520.5,1893.5 520.5,1897.5 520.5,1901.5 521,1905.5 521.5,1909.5 522,1913.5 522.5,1917.5 522.5,1921.5 522,1925.5 521,1929.5 520.5,1933.5 519,1937.5 519,1938.5 518,1941.5 516.5,1945.5 515,1949.5 513,1953.5 511,1957 510.5,1957.5 507,1961.5 503,1965.5 499,1969.5 495.5,1973.5 495,1974 492.5,1977.5 491,1981.5 490,1985.5 489,1989.5 489,1993.5 489,1997.5 489,2001.5 489,2005.5 488.5,2009.5 488.5,2013.5 488,2017.5 487.5,2021.5 487,2023.5 486.5,2025.5 486,2029.5 486,2033.5 486,2037.5 487,2041.5 487,2042 488,2045.5 490,2049.5 491,2051 492.5,2053.5 495,2056.5 495.5,2057.5 498.5,2061.5 499,2062.5 500.5,2065.5 500.5,2069.5 499,2073.5 497,2077.5 495,2081 494.5,2081.5 492,2085.5 491,2087 489.5,2089.5 488,2093.5 487.5,2097.5 488,2101.5 490.5,2105.5 491,2106 494,2109.5 495,2110.5 498,2113.5 499,2114.5 502,2117.5 503,2118.5 506,2121.5 507,2122.5 509,2125.5 511,2128.5 511.5,2129.5 513.5,2133.5 515,2137.5 516.5,2141.5 519,2145 523,2149 523.5,2149 527,2151 531,2152 535,2152.5 539,2152.5 543,2152.5 547,2152.5 551,2153 552,2153 555,2153.5 559,2154.5 563,2156 566.5,2157 567,2157.5 571,2159.5 574,2161 575,2161.5 579,2164 581,2165 583,2166.5 587,2168.5 588.5,2169 591,2170 595,2171.5 599,2172.5 603,2173 604,2173 607,2173.5ZM451,2098.5 454,2097.5 455,2097 458.5,2093.5 459,2092 460,2089.5 460,2085.5 459,2083.5 455,2082.5 451,2085 450.5,2085.5 448,2089.5 447,2093 447,2093.5 447,2094 448.5,2097.5 451,2098.5ZM351,1930 355,1930 358,1929.5 359,1929.5 363,1927.5 365.5,1925.5 367,1924.5 369,1921.5 371,1919.5 372,1917.5 375,1913.5 378,1909.5 379,1908.5 382,1905.5 383,1905 387,1901.5 391,1899 393,1897.5 395,1896.5 399,1894 399,1893.5 403,1890.5 403.5,1889.5 406.5,1885.5 407,1885.5 409,1881.5 411,1878 413,1874 415,1870 415,1869.5 417,1866 418.5,1862 419,1861.5 421,1858 422.5,1854 423,1853 424.5,1850 426,1846 427,1842.5 427.5,1842 428.5,1838 429.5,1834 430.5,1830 431,1827.5 431.5,1826 435,1822 439,1820 443,1818.5 445,1818 447,1817 451,1815 453,1814 455,1810.5 455.5,1810 455,1806 455,1805.5 452.5,1802 451,1800.5 447,1798.5 444,1798 443,1797.5 439,1797.5 435,1798 431,1799 427,1801 426,1802 423,1805 422,1806 419,1810 415.5,1814 415,1814 411,1816 407,1817 403,1817.5 399,1818 395,1818.5 391,1819.5 387,1821.5 386.5,1822 383,1824 380.5,1826 379,1827 376,1830 375,1831 372.5,1834 371,1835.5 369,1838 367,1840.5 366,1842 363,1845.5 363,1846 360,1850 359,1851 357,1854 355,1856 353.5,1858 351,1861 350.5,1862 347,1866 344.5,1870 343,1872 342,1874 339.5,1878 339,1879 337.5,1881.5 336,1885.5 335,1887.5 334,1889.5 332.5,1893.5 331,1897.5 331,1898.5 330,1901.5 329.5,1905.5 329.5,1909.5 330,1913.5 331,1915.5 332,1917.5 335,1921.5 339,1925 340.5,1925.5 343,1927 347,1929 350,1929.5 351,1930Z"/>
<path fill="#79c2a2" d="M619,2157.5 623,2158 627,2158 631,2157.5 632.5,2157 635,2157 639,2156 643,2155 647,2153.5 648,2153 651,2152.5 655,2151 655,2149 655,2145 655,2141.5 655,2137.5 655,2133.5 655,2129.5 655,2125.5 655,2121.5 655,2117.5 655,2113.5 655,2109.5 655,2105.5 655,2101.5 655,2097.5 655,2093.5 655,2089.5 655,2085.5 655,2081.5 655,2077.5 655,2073.5 655,2069.5 655,2065.5 655,2061.5 655,2057.5 655,2053.5 655,2049.5 655,2045.5 655,2041.5 655,2037.5 655,2033.5 655,2029.5 655,2025.5 655,2021.5 655,2017.5 655,2013.5 655,2009.5 655,2005.5 655,2001.5 655,1997.5 655,1993.5 655,1989.5 655,1985.5 655,1981.5 655,1977.5 655,1973.5 655,1969.5 655,1965.5 655,1961.5 655,1957.5 655,1953.5 655,1949.5 655,1945.5 655,1941.5 655,1937.5 655,1933.5 655,1929.5 655,1925.5 655,1921.5 655,1917.5 655,1913.5 655,1909.5 655,1905.5 655,1901.5 655,1897.5 655,1893.5 655,1889.5 655,1885.5 655,1881.5 655,1878 655,1874 655,1870 655,1866 655,1862 655,1858 655,1854 655,1850 655,1846 655,1842 655,1838 655,1834 655,1830 655,1826 655,1822 655,1818 655,1814 655,1810 655,1806 655,1802 655,1798.5 654,1798 651,1796 647,1794 643,1792 639,1790.5 638,1790 635,1788.5 631,1786.5 630,1786 627,1784.5 623.5,1782 623,1781.5 619,1778.5 618,1778 615,1775.5 613,1774 611,1772.5 607,1771 603,1771.5 599,1773 598,1774 595,1776.5 594,1778 591,1781.5 590.5,1782 588,1786 587,1787 585,1790 583,1792.5 582,1794 579,1798 576,1802 575,1803.5 573.5,1806 571,1809.5 570.5,1810 568,1814 567,1815.5 565,1818 563,1820.5 562,1822 559,1826 556.5,1830 555,1832 554,1834 552,1838 551,1842 550.5,1846 550,1850 550,1854 550,1858 550.5,1862 550.5,1866 550.5,1870 550,1874 550,1878 549,1881.5 548.5,1885.5 548,1889.5 547.5,1893.5 547,1897.5 547,1901.5 547.5,1905.5 548,1909.5 548,1913.5 548.5,1917.5 549,1921.5 549,1925.5 549,1929.5 549,1933.5 549,1937.5 549,1941.5 548.5,1945.5 548.5,1949.5 548.5,1953.5 548.5,1957.5 548.5,1961.5 548.5,1965.5 548.5,1969.5 548,1973.5 547.5,1977.5 547,1981.5 546.5,1985.5 546,1989.5 545,1993.5 544.5,1997.5 544,2001.5 543.5,2005.5 543.5,2009.5 543,2013.5 543,2016.5 543,2017.5 543,2019.5 543,2021.5 543,2025.5 543.5,2029.5 544,2033.5 544.5,2037.5 545.5,2041.5 546.5,2045.5 547,2048 547.5,2049.5 548,2053.5 549.5,2057.5 550.5,2061.5 551,2063.5 551.5,2065.5 553,2069.5 554,2073.5 555,2075.5 555.5,2077.5 557,2081.5 558.5,2085.5 559,2086 560,2089.5 561.5,2093.5 562.5,2097.5 563,2098.5 564,2101.5 564.5,2105.5 565.5,2109.5 566.5,2113.5 567,2115 567.5,2117.5 569.5,2121.5 571,2124 571.5,2125.5 575,2129.5 579,2133.5 583,2136.5 583.5,2137.5 587,2140 588.5,2141.5 591,2143 593.5,2145 595,2146.5 599,2149 599,2149.5 603,2151.5 605.5,2153 607,2154 611,2155.5 615,2156.5 618,2157 619,2157.5Z"/>
<path fill="#4db6a4" d="M619,2130 623,2131 627,2131.5 631,2131 635,2129.5 635.5,2129.5 639,2127 641,2125.5 643,2123.5 645,2121.5 647,2119 648.5,2117.5 651,2113.5 651.5,2113.5 654,2109.5 655,2108 655,2105.5 655,2101.5 655,2097.5 655,2093.5 655,2089.5 655,2085.5 655,2081.5 655,2077.5 655,2073.5 655,2069.5 655,2065.5 655,2061.5 655,2057.5 655,2053.5 655,2049.5 655,2045.5 655,2041.5 655,2037.5 655,2033.5 655,2029.5 655,2025.5 655,2021.5 655,2017.5 655,2013.5 655,2009.5 655,2005.5 655,2001.5 655,1997.5 655,1993.5 655,1989.5 655,1985.5 655,1981.5 655,1977.5 655,1973.5 655,1969.5 655,1965.5 655,1961.5 655,1957.5 655,1953.5 655,1949.5 655,1945.5 655,1941.5 655,1937.5 655,1933.5 655,1929.5 655,1925.5 655,1921.5 655,1917.5 655,1913.5 655,1909.5 655,1905.5 655,1901.5 655,1897.5 655,1893.5 655,1889.5 655,1885.5 655,1881.5 655,1878 655,1874 655,1870 655,1866 655,1862 655,1858 655,1854 655,1850 655,1846 655,1842 651,1838 650.5,1838 647,1834.5 646,1834 643,1831.5 640.5,1830 639,1828.5 635,1826.5 633.5,1826 631,1824.5 627,1823.5 623,1822.5 619,1822.5 615,1823 611,1824.5 608,1826 607,1826.5 603,1829 601.5,1830 599,1832 597,1834 595,1835.5 592,1838 591,1839 588,1842 587,1842.5 584,1846 583,1847 580.5,1850 579,1852.5 578,1854 576.5,1858 575,1862 574,1866 573.5,1870 573,1874 572.5,1878 572,1881.5 571.5,1885.5 571,1889.5 571,1893.5 571,1897.5 571,1901.5 571,1905.5 571,1907.5 571,1909.5 571,1913.5 571,1917.5 571,1921.5 571,1925 571,1925.5 570.5,1929.5 570.5,1933.5 570,1937.5 570,1941.5 570,1945.5 569.5,1949.5 569.5,1953.5 569.5,1957.5 569.5,1961.5 570,1965.5 570,1969.5 570,1973.5 570,1977.5 570,1981.5 570,1985.5 570,1989.5 570,1993.5 569.5,1997.5 569.5,2001.5 569,2005.5 569,2009.5 569,2013.5 569,2017.5 569,2021.5 569,2025.5 569.5,2029.5 569.5,2033.5 570,2037.5 570.5,2041.5 570.5,2045.5 571,2047.5 571,2049.5 572,2053.5 572.5,2057.5 573,2061.5 574,2065.5 575,2069 575,2069.5 576.5,2073.5 577.5,2077.5 579,2081 579,2081.5 581,2085.5 582.5,2089.5 583,2090 584.5,2093.5 586.5,2097.5 587,2098 589,2101.5 591,2104 592,2105.5 595,2109.5 598.5,2113.5 599,2114 602,2117.5 603,2118 606.5,2121.5 607,2121.5 611,2125 611.5,2125.5 615,2127.5 618,2129.5 619,2130Z"/>
<path fill="#04aaac" d="M615,2090 619,2092 623,2092.5 627,2092 631,2090.5 633,2089.5 635,2088 637.5,2085.5 639,2083.5 640.5,2081.5 642.5,2077.5 643,2076 644,2073.5 645.5,2069.5 646.5,2065.5 647,2064.5 648,2061.5 649.5,2057.5 650.5,2053.5 651,2052.5 652,2049.5 653,2045.5 654,2041.5 655,2037.5 655,2033.5 655,2029.5 655,2025.5 655,2021.5 655,2017.5 655,2013.5 655,2009.5 655,2005.5 655,2001.5 655,1997.5 655,1993.5 655,1989.5 655,1985.5 655,1981.5 655,1977.5 655,1973.5 655,1969.5 655,1965.5 655,1961.5 655,1957.5 655,1953.5 655,1953 654,1949.5 652.5,1945.5 651,1941.5 651,1941 650,1937.5 649,1933.5 648,1929.5 647.5,1925.5 647,1921.5 647,1917.5 647.5,1913.5 648,1909.5 649,1905.5 650,1901.5 651,1898.5 651.5,1897.5 652.5,1893.5 653,1889.5 653.5,1885.5 653,1881.5 652.5,1878 651,1874 651,1873 649.5,1870 647,1866 643.5,1862 643,1861 639.5,1858 639,1857.5 635,1854.5 634,1854 631,1852 627,1850.5 625,1850 623,1849.5 619,1849 615,1849.5 614.5,1850 611,1851 607,1853.5 606.5,1854 603,1857 602,1858 599,1861.5 599,1862 596.5,1866 595,1869.5 595,1870 594,1874 593,1878 592,1881.5 591.5,1885.5 591.5,1889.5 591,1893.5 591,1896 591,1897.5 591,1901.5 591,1905.5 590.5,1909.5 590,1913.5 589.5,1917.5 589,1921.5 588,1925.5 587,1929.5 587,1930.5 586.5,1933.5 585.5,1937.5 585,1941.5 584.5,1945.5 584.5,1949.5 584,1953.5 584.5,1957.5 584.5,1961.5 585,1965.5 585,1969.5 585.5,1973.5 586,1977.5 586.5,1981.5 586.5,1985.5 586.5,1989.5 586.5,1993.5 586,1997.5 586,2001.5 586,2005.5 586,2009.5 586,2013.5 586.5,2017.5 587,2021.5 587,2022.5 587.5,2025.5 588.5,2029.5 589.5,2033.5 590.5,2037.5 591,2038.5 592,2041.5 593,2045.5 594,2049.5 595,2053.5 596,2057.5 597,2061.5 598.5,2065.5 599,2067.5 599.5,2069.5 601.5,2073.5 603,2076.5 603.5,2077.5 606,2081.5 607,2082.5 609.5,2085.5 611,2087 614,2089.5 615,2090Z"/>
<path fill="#0696b3" d="M619,2045.5 623,2046 625.5,2045.5 627,2045 631,2041.5 634,2037.5 635,2035.5 636,2033.5 637.5,2029.5 638.5,2025.5 639,2024 639.5,2021.5 640.5,2017.5 641,2013.5 641.5,2009.5 642.5,2005.5 643,2001.5 643,2001 643.5,1997.5 644,1993.5 644.5,1989.5 644.5,1985.5 645,1981.5 644.5,1977.5 644,1973.5 643.5,1969.5 643,1968 642.5,1965.5 641,1961.5 640,1957.5 639,1954.5 639,1953.5 637.5,1949.5 636.5,1945.5 635,1941.5 635,1941 634,1937.5 632.5,1933.5 631,1929.5 629,1925.5 627.5,1921.5 627,1921 624.5,1917.5 623,1915.5 619,1914 615,1916 613.5,1917.5 611,1920 610,1921.5 607,1925.5 607,1926 605,1929.5 603,1933.5 601.5,1937.5 600.5,1941.5 599.5,1945.5 599,1949.5 599,1951 599,1953.5 599,1957 599,1957.5 599.5,1961.5 599.5,1965.5 600,1969.5 600.5,1973.5 600.5,1977.5 601,1981.5 600.5,1985.5 600.5,1989.5 600.5,1993.5 600,1997.5 600,2001.5 600,2005.5 600.5,2009.5 601,2013.5 602,2017.5 603,2021 603,2021.5 605,2025.5 606.5,2029.5 607,2030.5 608.5,2033.5 611,2037.5 614,2041.5 615,2042.5 619,2045.5Z"/>
</g>
<g clip-path="url(#cp31)" shape-rendering="geometricPrecision">
<path fill="#fef2d9" d="M719,2246 723,2247 727,2247 731,2247 735,2247 739,2246 742.5,2245 743,2245 747,2244 751,2242.5 753.5,2241 755,2240.5 759,2238.5 762,2237 763,2236.5 767,2235 771,2233 775,2232 779,2230.5 783,2229 783.5,2229 787,2228 791,2227.5 795,2226.5 799,2225.5 800,2225 803,2224.5 807,2224 811,2223.5 815,2223 819,2223.5 823,2224 827,2224.5 829,2225 831,2225.5 835,2226.5 839,2227 843,2228 847,2228.5 851,2229 853,2229 855,2229.5 859,2229.5 863,2229.5 867,2230 871,2230 875,2230 879,2230 883,2230 887,2230 891,2230 895,2230 899,2230.5 903,2230.5 907,2230.5 911,2230.5 915,2230 919,2230 923,2230 927,2230 931,2229.5 935,2229.5 939,2230 943,2230 947,2230.5 951,2230.5 955,2231 959,2231 963,2231 967,2231 971,2230 975,2229.5 975.5,2229 979,2228 983,2226.5 985.5,2225 987,2224 991,2221.5 991.5,2221 995,2218 996,2217 999,2214 1000,2213 1002,2209 1002.5,2205 1001,2201 999,2199.5 996,2197 995,2197 991,2195.5 987,2194 983,2193 979,2192.5 975,2191.5 971,2191 967,2190.5 963,2189.5 959.5,2189 959,2189 955,2188.5 951,2188 947,2187.5 943,2187.5 939,2187 935,2187 931,2187 927,2187 923,2187 919,2187 915,2187 911,2187.5 907,2187.5 903,2188 899,2188.5 895,2189 893.5,2189 891,2189.5 887,2190 883,2191 879,2192 875,2192.5 871.5,2193 871,2193.5 867,2193.5 863,2194 859,2194 855,2194.5 851,2195 847,2195 843,2195.5 839,2196 835,2196 831,2196 827,2195.5 823,2195 819,2193 815,2191 812.5,2189 811,2188 807,2185.5 807,2185 803,2182 802,2181 799,2179 796.5,2177 795,2176 791,2173.5 790.5,2173 787,2170.5 785,2169 783,2168 779,2165 775,2162.5 773,2161 771,2160 767,2158 765,2157 763,2156.5 759,2155.5 755,2155 751,2155 747,2155.5 743,2156 739,2157 735,2158.5 731,2160 728.5,2161 727,2161.5 723,2163.5 720,2165 719,2165.5 715,2168 713,2169 711,2170.5 707.5,2173 707,2173.5 703,2177 702.5,2177 699,2181 696,2185 695,2187 693.5,2189 692,2193 691,2196.5 691,2197 690,2201 689.5,2205 689.5,2209 690,2213 690.5,2217 691,2218.5 691.5,2221 693,2225 695,2228.5 695.5,2229 698.5,2233 699,2234 702,2237 703,2238 707,2240.5 707.5,2241 711,2243 715,2244.5 716,2245 719,2246ZM823,2042 827,2041.5 831,2039.5 833,2037.5 835,2036 837,2033.5 839,2031.5 840.5,2029.5 843,2026.5 843.5,2025.5 846.5,2021.5 847,2020.5 849,2017.5 851,2013.5 853,2009.5 854.5,2005.5 855,2002.5 855.5,2001.5 856,1997.5 856,1993.5 856,1989.5 855.5,1985.5 855,1983 854.5,1981.5 854,1977.5 853,1973.5 852,1969.5 851.5,1965.5 852,1961.5 852.5,1957.5 853.5,1953.5 855,1949.5 856.5,1945.5 858,1941.5 859,1938.5 859.5,1937.5 861,1933.5 862.5,1929.5 863,1928 864,1925.5 865.5,1921.5 867,1918 867,1917.5 869,1913.5 871,1909.5 874,1905.5 875,1904.5 878,1901.5 879,1901 883,1897.5 887,1894.5 888,1893.5 891,1891.5 893,1889.5 895,1888 897.5,1885.5 899,1884.5 902,1881.5 903,1881 906.5,1878 907,1877.5 911,1874 915,1870.5 915.5,1870 919,1867 920,1866 923,1863 924.5,1862 927,1859 928.5,1858 931,1855 932,1854 935,1850.5 936,1850 939,1846 939.5,1846 942.5,1842 943,1841.5 945.5,1838 947,1836 948.5,1834 951,1830 951,1829.5 953,1826 955,1822 956.5,1818 958,1814 959,1810.5 959,1810 960,1806 961,1802 961,1798 961.5,1794 961,1790 961,1786 961,1782 961,1778 960.5,1774 960.5,1770 960,1766 959.5,1762 959,1760 958.5,1758 957.5,1754 956.5,1750 955,1747 954.5,1746 951,1746 947,1746 943,1746 939,1746 935,1746 931,1746 927,1746 923,1746 919,1746 915,1746 911,1746 907,1746 903,1746 899,1746 895,1746 891,1746 887,1746 883,1746 879,1749.5 878.5,1750 875,1754 872,1758 871,1759.5 869,1762 867,1765.5 866.5,1766 864,1770 863,1772 862,1774 860,1778 859,1780 858,1782 856,1786 855,1789 854.5,1790 853,1794 851,1798 851,1798.5 849.5,1802 847,1806 844.5,1810 843,1812.5 842,1814 839,1818 836,1822 835,1823 833,1826 831,1828.5 830,1830 827.5,1834 827,1834.5 825,1838 823,1840.5 822.5,1842 820,1846 819,1847.5 817.5,1850 815,1854 815,1854.5 813,1858 811,1862 809,1866 807,1870 807,1870.5 805.5,1874 803.5,1878 803,1879.5 802,1881.5 800,1885.5 799,1887.5 798,1889.5 795.5,1893.5 795,1895 793.5,1897.5 791.5,1901.5 791,1902.5 789.5,1905.5 788,1909.5 787,1913 787,1913.5 785.5,1917.5 785,1921.5 784.5,1925.5 784.5,1929.5 784.5,1933.5 785,1937.5 785.5,1941.5 786.5,1945.5 787,1948.5 787.5,1949.5 788.5,1953.5 789.5,1957.5 790.5,1961.5 791,1963.5 791.5,1965.5 792,1969.5 793,1973.5 793.5,1977.5 793.5,1981.5 794,1985.5 794.5,1989.5 795,1993.5 795.5,1997.5 796.5,2001.5 797,2005.5 798,2009.5 799,2012.5 799.5,2013.5 801,2017.5 802.5,2021.5 803,2022.5 804.5,2025.5 807,2029.5 810,2033.5 811,2035 813.5,2037.5 815,2039 819,2041.5 819.5,2041.5 823,2042Z"/>
<path fill="#fedc9b" d="M719,2233.5 723,2235 727,2235.5 731,2236 735,2235.5 739,2235 743,2234 746.5,2233 747,2233 751,2231.5 755,2229.5 756,2229 759,2228 763,2225.5 764,2225 767,2223.5 771,2222 772.5,2221 775,2220 779,2218.5 782,2217 783,2216.5 787,2215 791,2213 795,2210.5 797.5,2209 799,2206.5 800,2205 800,2201 799,2199 798,2197 795,2193.5 794.5,2193 791,2190 790,2189 787,2186.5 785,2185 783,2183.5 780,2181 779,2180.5 775,2177.5 774.5,2177 771,2174.5 769.5,2173 767,2171.5 763,2169 759,2167 755,2166 751.5,2165 751,2165 747,2165 743,2165 742,2165 739,2165.5 735,2166.5 731,2168 728,2169 727,2169.5 723,2171.5 720.5,2173 719,2174 715,2177 711,2180.5 710.5,2181 707,2185 707,2185.5 704.5,2189 703,2192 702.5,2193 701,2197 700.5,2201 700,2205 700,2209 701,2213 702,2217 703,2219 704,2221 707,2225 711,2229 715,2232 717.5,2233 719,2233.5ZM907,2217.5 911,2217.5 915,2218 919,2218 923,2218 927,2218 931,2218 935,2218 939,2217.5 943,2217 944.5,2217 947,2216.5 951,2216 955,2215 959,2213.5 960.5,2213 963,2210 963.5,2209 963,2208.5 960.5,2205 959,2204.5 955,2202.5 951,2201 947,2200.5 943,2199.5 939,2199 935,2198.5 931,2198.5 927,2198 923,2198 919,2198.5 915,2198.5 911,2199 907,2199.5 903,2200.5 900.5,2201 899,2202 895,2203.5 891.5,2205 891,2206 889,2209 891,2212 892,2213 895,2214.5 899,2215.5 903,2216.5 905.5,2217 907,2217.5ZM839,1882 842,1881.5 843,1881.5 847,1880.5 851,1879.5 855,1878.5 856.5,1878 859,1877 863,1875.5 867,1874 867.5,1874 871,1872.5 875,1870.5 876,1870 879,1868 882,1866 883,1865 887,1862 891,1858.5 891.5,1858 895,1855 896,1854 899,1851 900.5,1850 903,1847 904.5,1846 907,1843 908,1842 911,1838 914,1834 915,1831.5 916,1830 917.5,1826 919,1822 919,1820.5 919.5,1818 919.5,1814 919.5,1810 919,1806 919,1805 918.5,1802 918,1798 917.5,1794 916.5,1790 916,1786 915,1783.5 914.5,1782 911.5,1778 911,1777.5 907,1775.5 903,1775 899,1775.5 895,1776 891,1778 887,1780.5 885,1782 883,1784 881,1786 879,1788 877.5,1790 875,1793.5 874.5,1794 872,1798 871,1799 869,1802 867,1805 866.5,1806 863.5,1810 863,1811 861,1814 859,1816.5 858,1818 855,1822 852,1826 851,1827.5 849.5,1830 847,1833 846.5,1834 844,1838 843,1839 841,1842 839,1845.5 838.5,1846 836.5,1850 835,1852.5 834.5,1854 832.5,1858 831.5,1862 831,1863 830.5,1866 830,1870 830.5,1874 831,1876.5 831.5,1878 835,1881 837.5,1881.5 839,1882Z"/>
<path fill="#f9c285" d="M727,2229 731,2229.5 735,2229.5 738.5,2229 739,2229 743,2228 747,2227 751,2225 755,2223 759,2221 763,2218.5 765.5,2217 767,2216 771,2213.5 771.5,2213 775,2210.5 777,2209 779,2207 780.5,2205 782,2201 781,2197 779,2193.5 779,2193 775.5,2189 775,2189 771.5,2185 771,2184.5 767,2181 763,2178 762,2177 759,2175 755,2173.5 754.5,2173 751,2172 747,2171.5 743,2171 739,2171.5 735,2172.5 732.5,2173 731,2173.5 727,2175.5 724,2177 723,2177.5 719,2180.5 718.5,2181 715,2184.5 714.5,2185 711.5,2189 711,2189.5 709,2193 707.5,2197 707,2199.5 706.5,2201 706.5,2205 706.5,2209 707,2210.5 707.5,2213 709.5,2217 711,2219.5 712,2221 715,2224 717,2225 719,2226.5 723,2228 726.5,2229 727,2229Z"/>
<path fill="#f4a474" d="M723,2223 727,2224 731,2225 735,2225 739,2224.5 743,2223.5 747,2222 749,2221 751,2220 755,2218 756.5,2217 759,2215 762,2213 763,2212 766,2209 767,2208 769,2205 770.5,2201 770.5,2197 769,2193 767,2190.5 766.5,2189 763,2185.5 763,2185 759,2182 758,2181 755,2179.5 751,2177.5 749.5,2177 747,2176.5 743,2176 739,2176.5 735,2177 734.5,2177 731,2178.5 727,2180.5 725.5,2181 723,2183 720.5,2185 719,2186.5 717,2189 715,2192 714.5,2193 712.5,2197 711.5,2201 711.5,2205 712,2209 713,2213 715,2216 715.5,2217 719,2220.5 720,2221 723,2223Z"/>
<path fill="#f08966" d="M723,2217.5 727,2219.5 731,2220.5 735,2220.5 739,2220.5 743,2219.5 747,2217.5 748,2217 751,2215.5 754.5,2213 755,2212.5 759,2209 761.5,2205 763,2201.5 763,2201 763,2197 762,2193 759,2189 755,2185 751,2182.5 747,2181 743,2180.5 739,2180.5 736,2181 735,2181.5 731,2183 727,2185 723,2188.5 722,2189 719,2193 719,2193.5 717,2197 716,2201 716,2205 716.5,2209 718.5,2213 719,2213.5 722.5,2217 723,2217.5Z"/>
<path fill="#ec6c5b" d="M727,2214.5 731,2216 735,2216.5 739,2216 743,2215 747,2213 751,2210.5 752.5,2209 755,2206 755.5,2205 757,2201 757,2197 755.5,2193 755,2192.5 752,2189 751,2188 747,2186 744,2185 743,2185 739,2185 737,2185 735,2185.5 731,2187.5 728,2189 727,2190 724,2193 723,2195 721.5,2197 720.5,2201 720.5,2205 721.5,2209 723,2211 725,2213 727,2214.5Z"/>
<path fill="#de4e50" d="M731,2211 735,2212 739,2211.5 743,2210.5 745,2209 747,2207.5 749.5,2205 751,2201.5 751,2201 751,2199.5 751,2197 748.5,2193 747,2192 743,2190 739,2189.5 735,2190.5 731,2192.5 730,2193 727,2197 726.5,2197 725.5,2201 725.5,2205 727,2208 728,2209 731,2211Z"/>
<path fill="#cf2b4b" d="M735,2205.5 739,2205.5 739.5,2205 743,2201.5 743,2201 743,2200.5 741,2197 739,2196.5 735.5,2197 735,2197.5 733,2201 735,2205 735,2205.5Z"/>
<path fill="#ebf3e0" d="M803,2274 804,2277 807,2277 811,2277 815,2277 819,2277 823,2277 827,2277 831,2277 835,2277 838.5,2277 839,2275.5 839.5,2273 839,2272.5 835,2270.5 831,2269 827,2268.5 823,2268 819,2268 815,2268.5 811.5,2269 811,2269 807,2270.5 803,2273 802.5,2273 803,2274ZM1127,2205.5 1131,2206 1135,2206.5 1139,2206.5 1143,2206.5 1147,2206.5 1151,2206 1155,2205.5 1157.5,2205 1159,2205 1163,2204 1167,2203 1171,2202 1174,2201 1175,2201 1179,2200 1183,2199.5 1187,2199 1187,2197 1187,2193 1187,2189 1187,2185 1187,2181 1187,2177 1187,2173 1187,2169 1187,2165 1187,2161 1187,2157 1187,2153 1187,2149 1187,2145 1187,2141.5 1187,2137.5 1187,2133.5 1187,2129.5 1187,2125.5 1187,2121.5 1187,2117.5 1187,2113.5 1187,2109.5 1187,2105.5 1187,2101.5 1187,2097.5 1187,2093.5 1187,2089.5 1187,2085.5 1187,2081.5 1187,2077.5 1187,2073.5 1187,2069.5 1187,2065.5 1187,2061.5 1187,2057.5 1187,2053.5 1187,2049.5 1187,2045.5 1187,2041.5 1187,2037.5 1187,2033.5 1187,2029.5 1187,2025.5 1187,2021.5 1187,2017.5 1187,2013.5 1187,2009.5 1187,2005.5 1187,2001.5 1187,1997.5 1187,1993.5 1187,1989.5 1187,1985.5 1187,1981.5 1187,1977.5 1187,1973.5 1187,1969.5 1187,1965.5 1187,1961.5 1187,1957.5 1187,1953.5 1187,1949.5 1187,1945.5 1187,1941.5 1187,1937.5 1187,1933.5 1187,1929.5 1187,1925.5 1187,1921.5 1187,1917.5 1187,1913.5 1187,1909.5 1187,1905.5 1187,1901.5 1187,1897.5 1187,1893.5 1187,1889.5 1187,1885.5 1187,1881.5 1187,1878 1187,1874 1187,1870 1187,1866 1187,1862 1187,1858 1187,1854 1187,1850 1187,1846 1187,1842 1187,1838 1187,1834 1187,1830 1187,1826 1187,1822 1187,1818 1187,1814 1187,1810 1187,1806 1187,1802 1187,1798 1187,1794 1187,1790 1187,1786 1187,1782 1187,1778 1187,1774 1187,1770 1187,1766 1187,1762 1187,1758 1187,1754 1187,1750 1187,1746 1183,1746 1179,1746 1175,1746 1171,1746 1167,1746 1163,1746 1159,1746 1155,1746 1151.5,1746 1151,1746.5 1147,1748 1143.5,1750 1143,1750 1139,1751.5 1135,1753.5 1134.5,1754 1131,1755 1127,1756.5 1124.5,1758 1123,1758.5 1119,1760 1115,1761.5 1114,1762 1111,1763 1107,1764.5 1104.5,1766 1103,1766.5 1099,1768 1095.5,1770 1095,1770 1091,1772 1087,1774 1083,1775.5 1079,1777.5 1078.5,1778 1075,1779.5 1071,1781.5 1070,1782 1067,1783 1063,1785 1060.5,1786 1059,1786.5 1055,1788 1051,1790 1047,1791.5 1043,1793 1041,1794 1039,1795 1035,1796.5 1032.5,1798 1031,1798.5 1027,1801 1025.5,1802 1023,1803.5 1019.5,1806 1019,1806.5 1015,1809.5 1014.5,1810 1011,1813.5 1010.5,1814 1007,1817.5 1006.5,1818 1003,1822 999.5,1826 999,1826 995.5,1830 995,1830 991,1834 987,1837.5 987,1838 983,1841.5 982.5,1842 979,1845.5 978.5,1846 975,1849 974,1850 971,1852.5 969.5,1854 967,1855.5 964.5,1858 963,1859 960,1862 959,1862.5 956,1866 955,1867 952.5,1870 951,1871.5 949.5,1874 947,1877 946.5,1878 944,1881.5 943,1883 941.5,1885.5 939,1889.5 939,1890 937,1893.5 935,1897 934.5,1897.5 932.5,1901.5 931,1904.5 930,1905.5 928,1909.5 927,1912 926.5,1913.5 924.5,1917.5 923,1921.5 923,1922 921.5,1925.5 920.5,1929.5 919,1933.5 919,1934.5 918,1937.5 917,1941.5 915.5,1945.5 915,1948 914.5,1949.5 913,1953.5 912,1957.5 911,1960.5 910.5,1961.5 909,1965.5 907.5,1969.5 907,1971.5 906.5,1973.5 905,1977.5 904,1981.5 903,1984.5 902.5,1985.5 901.5,1989.5 900.5,1993.5 899.5,1997.5 899,1999 898.5,2001.5 897,2005.5 896,2009.5 895,2012 894.5,2013.5 893,2017.5 891,2021.5 889.5,2025.5 887.5,2029.5 887,2030.5 885.5,2033.5 884,2037.5 883,2039.5 882.5,2041.5 881,2045.5 880,2049.5 879,2053.5 879,2057.5 879,2061.5 879,2062 878.5,2065.5 878,2069.5 877,2073.5 876,2077.5 875,2079 874,2081.5 871.5,2085.5 871,2086.5 869,2089.5 867,2092 866,2093.5 863,2096.5 862,2097.5 859,2101 858.5,2101.5 855,2105.5 852,2109.5 851,2110.5 849,2113.5 847,2116 846.5,2117.5 844,2121.5 843,2122.5 841.5,2125.5 839,2129.5 837,2133.5 835,2137 835,2137.5 833.5,2141.5 832,2145 831,2149 830,2153 830,2157 830.5,2161 831,2163.5 831.5,2165 834.5,2169 835,2169.5 839,2172 841.5,2173 843,2173.5 847,2174.5 851,2175 855,2175 859,2175 863,2175 867,2175 871,2175 875,2175 879,2174.5 883,2174.5 887,2174.5 891,2174.5 895,2174.5 899,2174.5 903,2174.5 907,2174.5 911,2174.5 915,2174.5 919,2174 923,2174 927,2174 931,2174 935,2174 939,2174 943,2174 947,2174.5 951,2174.5 955,2175 959,2175.5 963,2176 967,2176.5 971,2176.5 975,2177 979,2177 983,2177 987,2176.5 991,2176.5 995,2176.5 999,2176 1003,2176.5 1007,2176.5 1009,2177 1011,2178 1015,2179.5 1019,2181 1019.5,2181 1023,2182.5 1027,2184 1030,2185 1031,2185.5 1035,2187 1039,2188 1043,2189 1044.5,2189 1047,2189.5 1051,2190 1055,2190 1059,2190 1063,2190 1067,2189.5 1071,2189.5 1075,2189.5 1079,2190 1083,2191 1087,2192 1091,2193 1095,2195 1099,2196.5 1100,2197 1103,2198.5 1107,2200 1110.5,2201 1111,2201.5 1115,2203 1119,2204 1123,2204.5 1125.5,2205 1127,2205.5ZM707,2149.5 711,2150 715,2149 719,2147.5 723,2145.5 723,2145 727,2142 727.5,2141.5 731,2137.5 731,2137 733,2133.5 734.5,2129.5 735,2127 735.5,2125.5 736,2121.5 736.5,2117.5 737,2113.5 737,2109.5 737,2105.5 737,2101.5 737.5,2097.5 737.5,2093.5 737.5,2089.5 737.5,2085.5 737.5,2081.5 737,2077.5 736.5,2073.5 736,2069.5 735,2067 734.5,2065.5 733,2061.5 731,2058 731,2057.5 728,2053.5 727,2052.5 724,2049.5 723,2048.5 719,2045.5 718.5,2045.5 715,2043.5 711,2042.5 707,2042 703,2042.5 699,2045 698.5,2045.5 695,2048.5 694,2049.5 691.5,2053.5 691,2054 689.5,2057.5 687.5,2061.5 687,2063 686.5,2065.5 685,2069.5 684,2073.5 683.5,2077.5 683,2081.5 683,2083 683,2085.5 683,2089.5 683,2090.5 683,2093.5 684,2097.5 684.5,2101.5 685.5,2105.5 687,2109.5 688,2113.5 689.5,2117.5 690.5,2121.5 691,2123 691.5,2125.5 692.5,2129.5 694,2133.5 695,2136 695.5,2137.5 697.5,2141.5 699,2143.5 700,2145 703,2148 706,2149 707,2149.5ZM767,1878.5 771,1878 772,1878 775,1876.5 779,1874 779.5,1874 783,1871 784,1870 787,1866.5 787.5,1866 790.5,1862 791,1861 793,1858 795,1854 795,1853.5 797,1850 799,1846 799,1845.5 801,1842 803,1839 803.5,1838 806.5,1834 807,1833 809.5,1830 811,1827.5 812.5,1826 815,1823 816,1822 819,1818.5 819.5,1818 823,1814 826,1810 827,1808.5 828.5,1806 831,1802 831,1801.5 832.5,1798 834.5,1794 835,1792.5 836,1790 837,1786 838.5,1782 839,1779.5 839.5,1778 840.5,1774 841,1770 841.5,1766 842,1762 842.5,1758 842.5,1754 842.5,1750 842.5,1746 839,1746 835,1746 831,1746 827,1746 823,1746 819,1746 815,1746 811,1746 807,1746 803,1746 799,1746 795,1746 791,1746 787,1746 783,1746 779,1746 775,1746 775,1746.5 772,1750 771,1751.5 769,1754 767,1757 766.5,1758 763.5,1762 763,1763 761,1766 759,1768.5 758,1770 755,1773.5 754.5,1774 751,1778 747,1781 745.5,1782 743,1784 740.5,1786 739,1788 737.5,1790 736.5,1794 736,1798 736,1802 736.5,1806 736.5,1810 737,1814 737,1818 737,1822 737,1826 737,1830 737,1834 737.5,1838 738.5,1842 739,1843 740,1846 741.5,1850 743,1852 744,1854 746.5,1858 747,1858.5 749.5,1862 751,1864.5 752,1866 754.5,1870 755,1870 758,1874 759,1875 763,1877.5 763,1878 767,1878.5Z"/>
<path fill="#cbe1b5" d="M1139,2185.5 1143,2186 1147,2186.5 1151,2186.5 1155,2186.5 1159,2186.5 1163,2186 1167,2186 1171,2185.5 1173.5,2185 1175,2185 1179,2184.5 1183,2184 1187,2184 1187,2181 1187,2177 1187,2173 1187,2169 1187,2165 1187,2161 1187,2157 1187,2153 1187,2149 1187,2145 1187,2141.5 1187,2137.5 1187,2133.5 1187,2129.5 1187,2125.5 1187,2121.5 1187,2117.5 1187,2113.5 1187,2109.5 1187,2105.5 1187,2101.5 1187,2097.5 1187,2093.5 1187,2089.5 1187,2085.5 1187,2081.5 1187,2077.5 1187,2073.5 1187,2069.5 1187,2065.5 1187,2061.5 1187,2057.5 1187,2053.5 1187,2049.5 1187,2045.5 1187,2041.5 1187,2037.5 1187,2033.5 1187,2029.5 1187,2025.5 1187,2021.5 1187,2017.5 1187,2013.5 1187,2009.5 1187,2005.5 1187,2001.5 1187,1997.5 1187,1993.5 1187,1989.5 1187,1985.5 1187,1981.5 1187,1977.5 1187,1973.5 1187,1969.5 1187,1965.5 1187,1961.5 1187,1957.5 1187,1953.5 1187,1949.5 1187,1945.5 1187,1941.5 1187,1937.5 1187,1933.5 1187,1929.5 1187,1925.5 1187,1921.5 1187,1917.5 1187,1913.5 1187,1909.5 1187,1905.5 1187,1901.5 1187,1897.5 1187,1893.5 1187,1889.5 1187,1885.5 1187,1881.5 1187,1878 1187,1874 1187,1870 1187,1866 1187,1862 1187,1858 1187,1854 1187,1850 1187,1846 1187,1842 1187,1838 1187,1834 1187,1830 1187,1826 1187,1822 1187,1818 1187,1814 1187,1810 1187,1806 1187,1802 1187,1798 1187,1794 1187,1790 1187,1786 1187,1782 1187,1778 1187,1774 1187,1770 1187,1766 1187,1762 1187,1758 1187,1754 1187,1750 1187,1746 1183,1746 1179,1746 1175,1746 1171,1746 1168,1746 1167,1746.5 1163,1749 1161,1750 1159,1751 1155,1753.5 1153.5,1754 1151,1755.5 1147,1757.5 1146.5,1758 1143,1760 1139,1762 1138.5,1762 1135,1764 1131,1766 1127,1768 1123,1770 1119,1772.5 1116.5,1774 1115,1775 1111,1777.5 1110.5,1778 1107,1780.5 1105.5,1782 1103,1784 1100.5,1786 1099,1787 1095.5,1790 1095,1790 1091,1793 1090,1794 1087,1796 1085,1798 1083,1799.5 1080,1802 1079,1803 1076,1806 1075,1807 1072.5,1810 1071,1811.5 1069,1814 1067,1816.5 1066,1818 1063,1821 1062.5,1822 1059,1825.5 1059,1826 1055,1830 1051,1833.5 1051,1834 1047,1837.5 1046.5,1838 1043,1841 1042,1842 1039,1844.5 1038,1846 1035,1848.5 1034,1850 1031,1853 1030.5,1854 1027,1857.5 1027,1858 1023.5,1862 1023,1862.5 1020,1866 1019,1866.5 1015.5,1870 1015,1870 1011,1873 1010,1874 1007,1876 1003.5,1878 1003,1878 999,1880.5 996.5,1881.5 995,1882.5 991,1885 989.5,1885.5 987,1887.5 984,1889.5 983,1890.5 979,1893.5 975,1897.5 971.5,1901.5 971,1902.5 968.5,1905.5 967,1907.5 965.5,1909.5 963,1913 962.5,1913.5 959.5,1917.5 959,1918.5 956.5,1921.5 955,1923.5 953.5,1925.5 951,1929 950.5,1929.5 947.5,1933.5 947,1934.5 945,1937.5 943,1941 942.5,1941.5 940.5,1945.5 939,1949 939,1949.5 937.5,1953.5 936.5,1957.5 935.5,1961.5 935,1963.5 934.5,1965.5 934,1969.5 933.5,1973.5 933,1977.5 932.5,1981.5 932,1985.5 931.5,1989.5 931,1991.5 930.5,1993.5 929.5,1997.5 928.5,2001.5 927,2005.5 927,2006 926,2009.5 924.5,2013.5 923,2017.5 921.5,2021.5 920,2025.5 919,2028.5 918.5,2029.5 917.5,2033.5 916,2037.5 915,2041 915,2041.5 914,2045.5 913,2049.5 912,2053.5 911,2057 911,2057.5 910,2061.5 908.5,2065.5 907.5,2069.5 907,2070.5 906,2073.5 905,2077.5 904,2081.5 903,2084 902.5,2085.5 901.5,2089.5 900.5,2093.5 899.5,2097.5 899,2099.5 898.5,2101.5 897.5,2105.5 897,2109.5 896,2113.5 895,2116.5 895,2117.5 894,2121.5 893,2125.5 892,2129.5 891,2133.5 891,2135 890.5,2137.5 890.5,2141.5 891,2144 891.5,2145 893.5,2149 895,2150.5 898.5,2153 899,2153.5 903,2155 907,2156 911,2157 912.5,2157 915,2157.5 919,2158 923,2158 927,2158.5 931,2158.5 935,2158.5 939,2158.5 943,2158.5 947,2159 951,2159 955,2159.5 959,2160 963,2160 967,2160.5 971,2160.5 975,2160.5 979,2160 983,2159 987,2158 989.5,2157 991,2156.5 995,2155 998.5,2153 999,2153 1003,2151.5 1007,2151 1011,2152.5 1012.5,2153 1015,2155 1018,2157 1019,2158 1023,2161 1023.5,2161 1027,2163.5 1030.5,2165 1031,2165.5 1035,2167.5 1039,2168.5 1041,2169 1043,2169.5 1047,2170.5 1051,2170.5 1055,2171 1059,2171 1063,2171 1067,2171 1071,2171.5 1075,2172 1079,2172.5 1081.5,2173 1083,2173.5 1087,2174.5 1091,2175 1095,2176 1099,2177 1099.5,2177 1103,2178 1107,2179 1111,2179.5 1115,2180.5 1118,2181 1119,2181.5 1123,2182.5 1127,2183.5 1131,2184 1135,2185 1136.5,2185 1139,2185.5ZM771,1843 775,1842.5 777,1842 779,1841 783,1838 787,1834 790.5,1830 791,1829 793.5,1826 795,1824.5 797,1822 799,1819 800,1818 803,1814 806,1810 807,1808 808.5,1806 811,1802 813,1798 815,1794 816.5,1790 818,1786 819,1782.5 819,1782 820,1778 821,1774 821.5,1770 821.5,1766 821,1762 820,1758 819,1756.5 817.5,1754 815,1752 811,1751 807,1751 803,1752 799,1754 795,1756.5 793,1758 791,1759.5 788.5,1762 787,1763 784.5,1766 783,1767.5 781,1770 779,1772.5 778,1774 775.5,1778 775,1779 773.5,1782 771.5,1786 771,1786.5 769.5,1790 768,1794 767,1797.5 767,1798 766,1802 764.5,1806 763.5,1810 763,1813 763,1814 762,1818 761.5,1822 761.5,1826 761.5,1830 762.5,1834 763,1835.5 764,1838 767,1841 768.5,1842 771,1843Z"/>
<path fill="#a4d1a7" d="M1159,2169.5 1163,2169.5 1167,2169.5 1168,2169 1171,2169 1175,2168.5 1179,2168 1183,2167.5 1187,2167 1187,2165 1187,2161 1187,2157 1187,2153 1187,2149 1187,2145 1187,2141.5 1187,2137.5 1187,2133.5 1187,2129.5 1187,2125.5 1187,2121.5 1187,2117.5 1187,2113.5 1187,2109.5 1187,2105.5 1187,2101.5 1187,2097.5 1187,2093.5 1187,2089.5 1187,2085.5 1187,2081.5 1187,2077.5 1187,2073.5 1187,2069.5 1187,2065.5 1187,2061.5 1187,2057.5 1187,2053.5 1187,2049.5 1187,2045.5 1187,2041.5 1187,2037.5 1187,2033.5 1187,2029.5 1187,2025.5 1187,2021.5 1187,2017.5 1187,2013.5 1187,2009.5 1187,2005.5 1187,2001.5 1187,1997.5 1187,1993.5 1187,1989.5 1187,1985.5 1187,1981.5 1187,1977.5 1187,1973.5 1187,1969.5 1187,1965.5 1187,1961.5 1187,1957.5 1187,1953.5 1187,1949.5 1187,1945.5 1187,1941.5 1187,1937.5 1187,1933.5 1187,1929.5 1187,1925.5 1187,1921.5 1187,1917.5 1187,1913.5 1187,1909.5 1187,1905.5 1187,1901.5 1187,1897.5 1187,1893.5 1187,1889.5 1187,1885.5 1187,1881.5 1187,1878 1187,1874 1187,1870 1187,1866 1187,1862 1187,1858 1187,1854 1187,1850 1187,1846 1187,1842 1187,1838 1187,1834 1187,1830 1187,1826 1187,1822 1187,1818 1187,1814 1187,1810 1187,1806 1187,1802 1187,1798 1187,1794 1187,1790 1187,1786 1187,1782 1187,1778 1187,1774 1187,1770 1187,1766 1187,1762 1187,1758 1187,1754 1187,1750 1187,1746 1183,1746 1182.5,1746 1179,1748.5 1176,1750 1175,1751 1171,1753.5 1170.5,1754 1167,1756.5 1164.5,1758 1163,1759.5 1159,1762 1155,1764.5 1153,1766 1151,1767.5 1147,1770 1146.5,1770 1143,1772.5 1140.5,1774 1139,1775 1135,1778 1131,1781 1129.5,1782 1127,1784.5 1125,1786 1123,1788 1121,1790 1119,1791.5 1116.5,1794 1115,1795 1111.5,1798 1111,1798 1107,1801 1106,1802 1103,1804 1100,1806 1099,1806.5 1095,1809 1094,1810 1091,1812.5 1089,1814 1087,1815.5 1084.5,1818 1083,1819.5 1081,1822 1079,1824 1077.5,1826 1075,1828.5 1074,1830 1071,1833.5 1070.5,1834 1067.5,1838 1067,1838.5 1064,1842 1063,1843 1061,1846 1059,1848 1057.5,1850 1055,1853.5 1054.5,1854 1052,1858 1051,1859 1049,1862 1047,1865.5 1046.5,1866 1044.5,1870 1043,1871.5 1041.5,1874 1039,1877 1038.5,1878 1035,1881.5 1034.5,1881.5 1031,1885 1030.5,1885.5 1027,1888.5 1025.5,1889.5 1023,1892 1020.5,1893.5 1019,1895 1016,1897.5 1015,1899 1012,1901.5 1011,1903 1008.5,1905.5 1007,1908 1005.5,1909.5 1003,1913 1002.5,1913.5 1000,1917.5 999,1919 997.5,1921.5 995,1925 994.5,1925.5 992,1929.5 991,1931 989,1933.5 987,1936.5 986.5,1937.5 984,1941.5 983,1943 981.5,1945.5 979.5,1949.5 979,1951 978,1953.5 976.5,1957.5 975.5,1961.5 975,1965.5 975,1968 975,1969.5 975,1973.5 974.5,1977.5 974.5,1981.5 974.5,1985.5 974,1989.5 973.5,1993.5 973.5,1997.5 973,2001.5 972.5,2005.5 972,2009.5 972,2013.5 971.5,2017.5 971,2021 971,2021.5 970,2025.5 969.5,2029.5 968,2033.5 967,2037 967,2037.5 965.5,2041.5 963.5,2045.5 963,2047.5 962,2049.5 961,2053.5 960,2057.5 959,2061 959,2061.5 958,2065.5 957,2069.5 956,2073.5 955,2077.5 954,2081.5 952.5,2085.5 951.5,2089.5 951,2090.5 950.5,2093.5 949.5,2097.5 949,2101.5 948.5,2105.5 948,2109.5 948,2113.5 948,2117.5 948.5,2121.5 949.5,2125.5 951,2128 951.5,2129.5 955,2133 955.5,2133.5 959,2135.5 963,2137 964.5,2137.5 967,2137.5 971,2138 975,2137.5 975,2137 979,2135.5 982,2133.5 983,2132.5 985.5,2129.5 987,2126 987.5,2125.5 989,2121.5 990.5,2117.5 991,2116.5 992.5,2113.5 995,2109.5 995.5,2109.5 999,2106 1000.5,2105.5 1003,2104 1007,2103.5 1011,2104 1015,2105.5 1019,2107 1022.5,2109.5 1023,2109.5 1027,2113 1027.5,2113.5 1031,2117.5 1033.5,2121.5 1035,2125 1035,2125.5 1036.5,2129.5 1038,2133.5 1039,2135 1040.5,2137.5 1043,2140 1045,2141.5 1047,2142.5 1051,2144 1054.5,2145 1055,2145.5 1059,2146.5 1063,2147.5 1067,2148.5 1070.5,2149 1071,2149.5 1075,2150.5 1079,2151.5 1083,2152.5 1084.5,2153 1087,2154 1091,2155 1095,2156.5 1097.5,2157 1099,2157.5 1103,2158.5 1107,2159.5 1111,2160.5 1115,2161 1116.5,2161 1119,2161.5 1123,2162.5 1127,2163.5 1131,2164 1135,2165 1135.5,2165 1139,2166 1143,2167 1147,2168 1151,2168.5 1155,2169 1155.5,2169 1159,2169.5Z"/>
<path fill="#79c2a2" d="M1143,2149.5 1147,2150.5 1151,2151 1155,2151 1159,2151.5 1163,2151 1167,2151 1171,2150.5 1175,2150 1179,2149.5 1179.5,2149 1183,2148.5 1187,2147.5 1187,2145 1187,2141.5 1187,2137.5 1187,2133.5 1187,2129.5 1187,2125.5 1187,2121.5 1187,2117.5 1187,2113.5 1187,2109.5 1187,2105.5 1187,2101.5 1187,2097.5 1187,2093.5 1187,2089.5 1187,2085.5 1187,2081.5 1187,2077.5 1187,2073.5 1187,2069.5 1187,2065.5 1187,2061.5 1187,2057.5 1187,2053.5 1187,2049.5 1187,2045.5 1187,2041.5 1187,2037.5 1187,2033.5 1187,2029.5 1187,2025.5 1187,2021.5 1187,2017.5 1187,2013.5 1187,2009.5 1187,2005.5 1187,2001.5 1187,1997.5 1187,1993.5 1187,1989.5 1187,1985.5 1187,1981.5 1187,1977.5 1187,1973.5 1187,1969.5 1187,1965.5 1187,1961.5 1187,1957.5 1187,1953.5 1187,1949.5 1187,1945.5 1187,1941.5 1187,1937.5 1187,1933.5 1187,1929.5 1187,1925.5 1187,1921.5 1187,1917.5 1187,1913.5 1187,1909.5 1187,1905.5 1187,1901.5 1187,1897.5 1187,1893.5 1187,1889.5 1187,1885.5 1187,1881.5 1187,1878 1187,1874 1187,1870 1187,1866 1187,1862 1187,1858 1187,1854 1187,1850 1187,1846 1187,1842 1187,1838 1187,1834 1187,1830 1187,1826 1187,1823 1184.5,1822 1183,1821 1179,1819.5 1175,1818 1174.5,1818 1171,1816.5 1167,1815.5 1163,1814.5 1160.5,1814 1159,1813.5 1155,1813 1151,1813 1147,1813 1143,1813.5 1142.5,1814 1139,1814.5 1135,1816 1131,1817.5 1130,1818 1127,1819 1123,1820.5 1119.5,1822 1119,1822 1115,1823.5 1111,1825 1109.5,1826 1107,1827.5 1103,1830 1099,1833.5 1098.5,1834 1095,1838 1092,1842 1091,1843 1089,1846 1087,1848.5 1086,1850 1083.5,1854 1083,1854.5 1081,1858 1079.5,1862 1079,1863 1078,1866 1077.5,1870 1077,1874 1076.5,1878 1076.5,1881.5 1076,1885.5 1076,1889.5 1075.5,1893.5 1075,1895 1074.5,1897.5 1073,1901.5 1071.5,1905.5 1071,1906.5 1069.5,1909.5 1067,1913.5 1067,1914 1064.5,1917.5 1063,1921.5 1063,1922 1062.5,1925.5 1063,1928 1063,1929.5 1064,1933.5 1064.5,1937.5 1065,1941.5 1065,1945.5 1064,1949.5 1063,1953.5 1063,1954 1062,1957.5 1060.5,1961.5 1059.5,1965.5 1059,1967.5 1058.5,1969.5 1058,1973.5 1057.5,1977.5 1057.5,1981.5 1057.5,1985.5 1058,1989.5 1058,1993.5 1058.5,1997.5 1059,2000 1059,2001.5 1060,2005.5 1061,2009.5 1062.5,2013.5 1063,2015.5 1063.5,2017.5 1065,2021.5 1067,2025.5 1067,2026 1068.5,2029.5 1070,2033.5 1071,2035.5 1072,2037.5 1073.5,2041.5 1075,2045.5 1076.5,2049.5 1077.5,2053.5 1078.5,2057.5 1079,2059.5 1079.5,2061.5 1080,2065.5 1080.5,2069.5 1081,2073.5 1081,2077.5 1081,2081.5 1081,2085.5 1081,2089.5 1081,2093.5 1081,2097.5 1081.5,2101.5 1082.5,2105.5 1083,2106 1084,2109.5 1086,2113.5 1087,2114.5 1088.5,2117.5 1091,2120.5 1091.5,2121.5 1094.5,2125.5 1095,2125.5 1098,2129.5 1099,2130 1102,2133.5 1103,2134 1107,2137 1107,2137.5 1111,2139.5 1114,2141.5 1115,2141.5 1119,2143 1123,2144.5 1125,2145 1127,2146 1131,2147 1135,2148 1139,2149 1141,2149 1143,2149.5Z"/>
<path fill="#4db6a4" d="M1147,2129.5 1151,2130 1155,2130.5 1159,2130.5 1163,2130.5 1167,2130 1171,2129.5 1171.5,2129.5 1175,2128.5 1179,2126.5 1182,2125.5 1183,2124.5 1187,2121.5 1187,2117.5 1187,2113.5 1187,2109.5 1187,2105.5 1187,2101.5 1187,2097.5 1187,2093.5 1187,2089.5 1187,2085.5 1187,2081.5 1187,2077.5 1187,2073.5 1187,2069.5 1187,2065.5 1187,2061.5 1187,2057.5 1187,2053.5 1187,2049.5 1187,2045.5 1187,2041.5 1187,2037.5 1187,2033.5 1187,2029.5 1187,2025.5 1187,2021.5 1187,2017.5 1187,2013.5 1187,2009.5 1187,2005.5 1187,2001.5 1187,1997.5 1187,1993.5 1187,1989.5 1187,1985.5 1187,1981.5 1187,1977.5 1187,1973.5 1187,1969.5 1187,1965.5 1187,1961.5 1187,1957.5 1187,1953.5 1187,1949.5 1187,1945.5 1187,1941.5 1187,1937.5 1187,1933.5 1187,1929.5 1187,1925.5 1187,1921.5 1187,1917.5 1187,1913.5 1187,1909.5 1187,1905.5 1187,1901.5 1187,1897.5 1187,1893.5 1187,1889.5 1187,1885.5 1187,1881.5 1187,1878 1187,1874 1187,1870 1187,1866 1187,1862 1187,1858 1187,1854 1187,1853.5 1183,1850 1183,1849.5 1179,1846.5 1178,1846 1175,1844 1171,1842 1167,1840 1163,1839 1159,1838 1156,1838 1155,1837.5 1151,1838 1150.5,1838 1147,1838.5 1143,1839 1139,1840.5 1136.5,1842 1135,1842.5 1131,1845 1130,1846 1127,1848.5 1125.5,1850 1123,1852.5 1122,1854 1119,1858 1116.5,1862 1115,1864 1114,1866 1112,1870 1111,1871.5 1110,1874 1108.5,1878 1107,1881.5 1105.5,1885.5 1104.5,1889.5 1103.5,1893.5 1103,1897 1103,1897.5 1102,1901.5 1101.5,1905.5 1100.5,1909.5 1100,1913.5 1099.5,1917.5 1099,1921.5 1099,1924.5 1099,1925.5 1098.5,1929.5 1098.5,1933.5 1098.5,1937.5 1098,1941.5 1098,1945.5 1098,1949.5 1098,1953.5 1097.5,1957.5 1097.5,1961.5 1097,1965.5 1096.5,1969.5 1096,1973.5 1095.5,1977.5 1095,1981 1095,1981.5 1094,1985.5 1093.5,1989.5 1093,1993.5 1092.5,1997.5 1092.5,2001.5 1092.5,2005.5 1093,2009.5 1093.5,2013.5 1094,2017.5 1094.5,2021.5 1095,2023.5 1095.5,2025.5 1096,2029.5 1097,2033.5 1098,2037.5 1099,2041 1099,2041.5 1100,2045.5 1101,2049.5 1102,2053.5 1103,2057 1103,2057.5 1104,2061.5 1104.5,2065.5 1105,2069.5 1105.5,2073.5 1106,2077.5 1106.5,2081.5 1107,2085.5 1107,2086 1107.5,2089.5 1108.5,2093.5 1109.5,2097.5 1111,2100.5 1111.5,2101.5 1113.5,2105.5 1115,2108 1116,2109.5 1119,2113 1119.5,2113.5 1123,2117 1123,2117.5 1127,2120.5 1128,2121.5 1131,2123.5 1134.5,2125.5 1135,2125.5 1139,2127 1143,2128.5 1146,2129.5 1147,2129.5Z"/>
<path fill="#04aaac" d="M1151,2101.5 1155,2101.5 1155.5,2101.5 1159,2100.5 1163,2098.5 1165,2097.5 1167,2095.5 1169,2093.5 1171,2090.5 1171.5,2089.5 1173.5,2085.5 1175,2081.5 1175,2081 1176,2077.5 1176.5,2073.5 1177.5,2069.5 1178.5,2065.5 1179,2062.5 1179,2061.5 1180.5,2057.5 1181.5,2053.5 1183,2049.5 1184.5,2045.5 1186,2041.5 1187,2039.5 1187,2037.5 1187,2033.5 1187,2029.5 1187,2025.5 1187,2021.5 1187,2017.5 1187,2013.5 1187,2009.5 1187,2005.5 1187,2001.5 1187,1997.5 1187,1993.5 1187,1989.5 1187,1985.5 1187,1981.5 1187,1977.5 1187,1973.5 1187,1969.5 1187,1965.5 1187,1961.5 1187,1957.5 1187,1953.5 1187,1949.5 1187,1945.5 1187,1941.5 1187,1937.5 1187,1933.5 1187,1929.5 1187,1925.5 1187,1921.5 1187,1917.5 1187,1913.5 1187,1909.5 1187,1905.5 1187,1901.5 1187,1900 1186,1897.5 1184,1893.5 1183,1891.5 1182,1889.5 1179.5,1885.5 1179,1885.5 1176.5,1881.5 1175,1879.5 1173.5,1878 1171,1874.5 1170.5,1874 1167,1870 1167,1869.5 1163,1866 1159,1863.5 1155,1862.5 1151,1862.5 1147,1864 1144.5,1866 1143,1867 1140.5,1870 1139,1872 1138,1874 1136,1878 1135,1879.5 1134,1881.5 1132.5,1885.5 1131,1889 1130.5,1889.5 1129,1893.5 1127.5,1897.5 1127,1898.5 1125.5,1901.5 1124,1905.5 1123,1909 1123,1909.5 1121.5,1913.5 1120.5,1917.5 1119.5,1921.5 1119,1922.5 1118,1925.5 1117.5,1929.5 1116.5,1933.5 1115.5,1937.5 1115,1940 1114.5,1941.5 1114,1945.5 1113.5,1949.5 1113,1953.5 1113,1957.5 1113,1961.5 1112.5,1965.5 1112.5,1969.5 1112.5,1973.5 1112.5,1977.5 1112,1981.5 1112,1985.5 1112,1989.5 1112,1993.5 1112,1997.5 1112,2001.5 1112.5,2005.5 1113,2009.5 1114,2013.5 1115,2017.5 1115,2018.5 1115.5,2021.5 1116.5,2025.5 1117.5,2029.5 1118.5,2033.5 1119,2034.5 1120,2037.5 1121,2041.5 1122,2045.5 1123,2049.5 1124,2053.5 1125,2057.5 1125.5,2061.5 1126.5,2065.5 1127,2069.5 1127,2070 1127.5,2073.5 1128.5,2077.5 1129.5,2081.5 1130.5,2085.5 1131,2086.5 1132.5,2089.5 1135,2093 1135,2093.5 1139,2097 1139.5,2097.5 1143,2099.5 1147,2101 1149,2101.5 1151,2101.5Z"/>
<path fill="#0696b3" d="M1155,2037.5 1156.5,2037.5 1159,2037 1163,2035 1165.5,2033.5 1167,2032 1169.5,2029.5 1171,2028 1172.5,2025.5 1175,2022 1175.5,2021.5 1177,2017.5 1178.5,2013.5 1179,2011.5 1179.5,2009.5 1180,2005.5 1180.5,2001.5 1180.5,1997.5 1180.5,1993.5 1180.5,1989.5 1180.5,1985.5 1180.5,1981.5 1181,1977.5 1181.5,1973.5 1181.5,1969.5 1182,1965.5 1182,1961.5 1181.5,1957.5 1181,1953.5 1180,1949.5 1179,1945.5 1177.5,1941.5 1175.5,1937.5 1175,1936.5 1173.5,1933.5 1171,1930 1170.5,1929.5 1167,1925.5 1163,1923 1160,1921.5 1159,1921 1155,1921 1151,1921.5 1150.5,1921.5 1147,1923 1143.5,1925.5 1143,1926 1139.5,1929.5 1139,1930 1136,1933.5 1135,1935 1133.5,1937.5 1131.5,1941.5 1131,1942.5 1130,1945.5 1128.5,1949.5 1127.5,1953.5 1127,1957 1127,1957.5 1126.5,1961.5 1126.5,1965.5 1126.5,1969.5 1126.5,1973.5 1126.5,1977.5 1126.5,1981.5 1127,1985.5 1127,1987.5 1127,1989.5 1127.5,1993.5 1128.5,1997.5 1129.5,2001.5 1130.5,2005.5 1131,2007.5 1131.5,2009.5 1133.5,2013.5 1135,2017.5 1137,2021.5 1139,2025 1139,2025.5 1142,2029.5 1143,2031 1145.5,2033.5 1147,2034.5 1151,2037 1154,2037.5 1155,2037.5Z"/>
</g>
<g clip-path="url(#cp32)" shape-rendering="geometricPrecision">
<path fill="#fef2d9" d="M1259,2242 1263,2242 1267,2242 1270.5,2241 1271,2241 1275,2240 1279,2239 1283,2237 1287,2235.5 1291,2233.5 1292,2233 1295,2232 1299,2230 1301,2229 1303,2228.5 1307,2227 1311,2225.5 1314,2225 1315,2225 1319,2224.5 1323,2224 1327,2224 1331,2223.5 1335,2223 1339,2223 1343,2222.5 1347,2222.5 1351,2222.5 1355,2223 1359,2223.5 1363,2224.5 1367,2225 1367.5,2225 1371,2225.5 1375,2226.5 1379,2227 1383,2227.5 1387,2227.5 1391,2228 1395,2228 1399,2228 1403,2228.5 1407,2228.5 1411,2229 1411.5,2229 1415,2230 1419,2230.5 1423,2231.5 1427,2232 1431,2232.5 1433,2233 1435,2233.5 1439,2234 1443,2234.5 1447,2235 1451,2235 1455,2235 1459,2234.5 1463,2234 1467,2233.5 1471,2233 1471.5,2233 1475,2232.5 1479,2232 1483,2231.5 1487,2231 1491,2230 1493.5,2229 1495,2228.5 1499,2227 1502.5,2225 1503,2224.5 1507,2221.5 1507.5,2221 1511,2218 1511.5,2217 1515,2213.5 1515,2213 1517.5,2209 1518,2205 1515.5,2201 1515,2201 1511,2198 1509,2197 1507,2196.5 1503,2194.5 1499,2193.5 1498.5,2193 1495,2192 1491,2191 1487,2190 1484,2189 1483,2189 1479,2188 1475,2187 1471,2186 1467,2185.5 1466,2185 1463,2184.5 1459,2184 1455,2183 1451,2182.5 1447,2182 1443,2181.5 1439,2181 1438.5,2181 1435,2181 1431,2180.5 1427,2180 1423,2180 1419,2180 1415,2179.5 1411,2180 1407,2180 1403,2180.5 1399,2181 1398,2181 1395,2181.5 1391,2182.5 1387,2183 1383,2183.5 1379,2184.5 1375,2185 1371,2186 1367,2186.5 1363,2187 1359,2187 1355,2187 1351,2187 1347,2186.5 1343,2186 1339,2185 1335,2184.5 1331,2183.5 1327,2183 1323,2182 1320,2181 1319,2181 1315,2179 1312,2177 1311,2176.5 1307,2173.5 1306.5,2173 1303,2170.5 1301,2169 1299,2168 1295,2165.5 1294,2165 1291,2164 1287,2162.5 1283,2161.5 1280.5,2161 1279,2161 1275,2160.5 1271,2160.5 1267,2161 1263,2162 1259,2163 1255,2164.5 1254,2165 1251,2167 1247.5,2169 1247,2169.5 1243,2173 1239,2177 1239,2177.5 1236,2181 1235,2182.5 1233,2185 1231,2189 1228.5,2193 1227.5,2197 1227,2200.5 1227,2201 1226,2205 1226,2209 1227,2213 1228,2217 1229.5,2221 1231,2223.5 1232,2225 1235,2229 1239,2233 1239.5,2233 1243,2236 1245,2237 1247,2238.5 1251,2240 1255,2241 1255.5,2241 1259,2242ZM1287,1974 1288,1973.5 1291,1973 1295,1971 1298,1969.5 1299,1969 1303,1966.5 1304,1965.5 1307,1962.5 1307.5,1961.5 1310.5,1957.5 1311,1956.5 1312.5,1953.5 1314,1949.5 1315,1946 1315,1945.5 1316,1941.5 1317,1937.5 1318,1933.5 1319,1930 1319,1929.5 1320.5,1925.5 1322,1921.5 1323,1920 1324,1917.5 1326,1913.5 1327,1912.5 1328.5,1909.5 1330.5,1905.5 1331,1905 1333,1901.5 1335,1898 1335,1897.5 1337,1893.5 1339,1890 1339.5,1889.5 1341.5,1885.5 1343,1883 1343.5,1881.5 1346,1878 1347,1876 1348.5,1874 1350.5,1870 1351,1869 1353,1866 1355,1862 1357.5,1858 1359,1854.5 1359.5,1854 1361.5,1850 1363,1847 1363.5,1846 1366,1842 1367,1840 1368.5,1838 1371,1834 1371.5,1834 1374,1830 1375,1828.5 1376.5,1826 1379,1822.5 1379,1822 1381.5,1818 1383,1815 1383.5,1814 1385.5,1810 1387,1807 1387.5,1806 1389.5,1802 1391,1798 1391,1797.5 1392.5,1794 1394,1790 1395,1786 1396,1782 1397,1778 1398,1774 1398.5,1770 1399,1766 1399,1765 1399,1762 1399,1758 1399,1756.5 1399,1754 1398.5,1750 1398,1746 1395,1746 1391,1746 1387,1746 1383,1746 1379,1746 1375,1746 1371,1746 1367,1746 1363,1746 1359,1746 1355,1746 1351,1746 1347,1746 1343,1746 1339,1746 1335,1746 1331,1749 1330,1750 1327,1752 1324,1754 1323,1754.5 1319,1757 1317.5,1758 1315,1759.5 1312,1762 1311,1762.5 1307,1766 1303,1769.5 1302.5,1770 1299,1774 1296,1778 1295,1779.5 1293.5,1782 1291.5,1786 1291,1787.5 1290,1790 1289,1794 1288,1798 1287,1802 1287,1804 1286.5,1806 1286.5,1810 1285.5,1814 1285,1818 1284,1822 1283,1825.5 1283,1826 1281,1830 1279.5,1834 1279,1834.5 1277.5,1838 1275.5,1842 1275,1844 1274,1846 1272.5,1850 1271.5,1854 1271,1856 1270.5,1858 1269.5,1862 1268.5,1866 1268,1870 1267,1874 1266,1878 1265,1881.5 1264,1885.5 1263,1889.5 1263,1890 1261.5,1893.5 1260.5,1897.5 1259.5,1901.5 1259,1904 1258.5,1905.5 1258,1909.5 1258,1913.5 1257.5,1917.5 1258,1921.5 1258,1925.5 1259,1929.5 1259,1930.5 1259.5,1933.5 1260.5,1937.5 1262,1941.5 1263,1944 1263.5,1945.5 1265,1949.5 1267,1953.5 1269,1957.5 1271,1961.5 1273.5,1965.5 1275,1967.5 1277,1969.5 1279,1971.5 1283,1973.5 1285.5,1973.5 1287,1974Z"/>
<path fill="#fedc9b" d="M1251,2229 1255,2231 1259,2232 1263,2232.5 1267,2232 1271,2231.5 1275,2231 1279,2229.5 1280,2229 1283,2228 1287,2226 1288.5,2225 1291,2223.5 1295,2221 1299,2218.5 1302,2217 1303,2216.5 1307,2214.5 1310.5,2213 1311,2213 1315,2212 1319,2211 1323,2210.5 1327,2210 1330.5,2209 1331,2209 1335,2207 1338,2205 1338,2201 1335,2199 1332.5,2197 1331,2196.5 1327,2195.5 1323,2194 1319.5,2193 1319,2193 1315,2192 1311,2190 1309.5,2189 1307,2187.5 1304.5,2185 1303,2184 1300.5,2181 1299,2180 1296,2177 1295,2176 1291,2173.5 1290.5,2173 1287,2171.5 1283,2170 1280.5,2169 1279,2169 1275,2168.5 1271,2168.5 1267,2169 1266.5,2169 1263,2170 1259,2171.5 1256,2173 1255,2174 1251,2176.5 1250.5,2177 1247,2180.5 1246.5,2181 1243,2185 1243,2185.5 1240.5,2189 1239,2192 1238.5,2193 1237,2197 1236,2201 1235.5,2205 1236,2209 1237,2213 1238.5,2217 1239,2218 1241,2221 1243,2223.5 1245,2225 1247,2227 1251,2229ZM1427,2221 1431,2222 1435,2222.5 1439,2223 1443,2223.5 1447,2223.5 1451,2223.5 1455,2223.5 1459,2223 1463,2222.5 1467,2222 1470.5,2221 1471,2221 1475,2220 1479,2218.5 1482,2217 1483,2216.5 1487,2214 1488,2213 1490,2209 1489.5,2205 1487,2202.5 1485.5,2201 1483,2199.5 1479,2197.5 1478,2197 1475,2196 1471,2194.5 1467,2193.5 1465.5,2193 1463,2192.5 1459,2192 1455,2191.5 1451,2191 1447,2191 1443,2190.5 1439,2190.5 1435,2191 1431,2191 1427,2191.5 1423,2192 1419,2192.5 1415,2193 1412.5,2193 1411,2193.5 1407,2194 1403,2195 1399,2196 1395,2197 1394,2197 1391,2198 1387,2199.5 1383,2201 1379,2205 1378.5,2205 1379,2206 1380.5,2209 1383,2210.5 1387,2212 1389.5,2213 1391,2213.5 1395,2214.5 1399,2215.5 1403,2216.5 1407,2217 1411,2218 1415,2218.5 1419,2219.5 1423,2220.5 1427,2221ZM1299,1894 1303,1894.5 1304.5,1893.5 1307,1893 1311,1890.5 1312,1889.5 1315,1887.5 1317,1885.5 1319,1884 1321,1881.5 1323,1879.5 1324.5,1878 1327,1874.5 1327.5,1874 1331,1870 1331,1869.5 1334,1866 1335,1864.5 1337,1862 1339,1859 1340,1858 1342.5,1854 1343,1853 1345,1850 1347,1846 1349,1842 1351,1839 1351.5,1838 1354,1834 1355,1833 1357,1830 1359,1827.5 1360.5,1826 1363,1823 1363.5,1822 1367,1818 1370,1814 1371,1812 1372,1810 1374,1806 1375,1803.5 1375.5,1802 1376.5,1798 1377,1794 1377.5,1790 1377.5,1786 1377,1782 1376.5,1778 1375.5,1774 1375,1773 1374,1770 1371.5,1766 1371,1765 1368,1762 1367,1761.5 1363,1760 1359,1760 1355,1761 1353,1762 1351,1762.5 1347,1764.5 1344.5,1766 1343,1766.5 1339,1769 1337.5,1770 1335,1771.5 1331.5,1774 1331,1774.5 1327,1777.5 1326.5,1778 1323,1782 1320,1786 1319,1787.5 1317.5,1790 1316,1794 1315,1796.5 1314.5,1798 1313.5,1802 1312.5,1806 1312,1810 1311,1813.5 1311,1814 1310,1818 1309,1822 1307.5,1826 1307,1827.5 1306,1830 1304.5,1834 1303,1836.5 1302.5,1838 1300.5,1842 1299,1844.5 1298.5,1846 1296.5,1850 1295,1854 1294,1858 1293,1862 1292.5,1866 1292,1870 1292,1874 1292.5,1878 1293,1881.5 1293.5,1885.5 1295,1889.5 1295,1890 1298.5,1893.5 1299,1894Z"/>
<path fill="#f9c285" d="M1259,2226 1263,2226.5 1267,2226.5 1271,2226 1275,2225 1275.5,2225 1279,2224 1283,2222 1284.5,2221 1287,2219.5 1290.5,2217 1291,2216.5 1295,2213.5 1295.5,2213 1299,2209.5 1299.5,2209 1302.5,2205 1303,2203.5 1304,2201 1303,2197.5 1303,2197 1301,2193 1299,2190.5 1298.5,2189 1295,2185 1291,2181 1287,2178 1285.5,2177 1283,2176 1279,2174.5 1275,2174 1271,2174 1267,2174.5 1263,2176 1260,2177 1259,2177.5 1255,2180.5 1254,2181 1251,2184 1250,2185 1247,2189 1244.5,2193 1243,2197 1242,2201 1241.5,2205 1242,2209 1243,2212 1243.5,2213 1245.5,2217 1247,2219 1249.5,2221 1251,2222.5 1255,2224.5 1256.5,2225 1259,2226ZM1439,2213.5 1443,2213.5 1447,2214 1451,2213.5 1455,2213.5 1455.5,2213 1459,2212 1463,2210 1464,2209 1464,2205 1463,2204.5 1459,2202.5 1456,2201 1455,2201 1451,2200.5 1447,2200 1443,2200 1439,2200.5 1435,2201 1433.5,2201 1431,2202 1427,2204 1425,2205 1426.5,2209 1427,2209.5 1431,2211 1435,2212.5 1438,2213 1439,2213.5ZM1343,1810 1343.5,1810 1347,1808.5 1350,1806 1351,1804.5 1352.5,1802 1353,1798 1351.5,1794 1351,1793.5 1347,1792.5 1343,1794 1340,1798 1339,1800 1338.5,1802 1338.5,1806 1339,1807.5 1342,1810 1343,1810Z"/>
<path fill="#f4a474" d="M1263,2222 1267,2222 1271,2222 1273.5,2221 1275,2220.5 1279,2219 1282.5,2217 1283,2217 1287,2214 1288,2213 1291,2210 1291.5,2209 1294,2205 1295,2201.5 1295,2201 1295,2197.5 1295,2197 1293.5,2193 1291.5,2189 1291,2188.5 1288,2185 1287,2184.5 1283,2181.5 1282.5,2181 1279,2180 1275,2179 1271,2179 1267,2179.5 1263,2181 1262,2181 1259,2183 1256,2185 1255,2186 1252,2189 1251,2191 1249.5,2193 1247.5,2197 1247,2200 1246.5,2201 1246.5,2205 1247,2208 1247,2209 1249,2213 1251,2216 1252.5,2217 1255,2219 1259,2221 1263,2222Z"/>
<path fill="#f08966" d="M1263,2217.5 1267,2218 1271,2217.5 1273,2217 1275,2216.5 1279,2214.5 1281,2213 1283,2211.5 1285.5,2209 1287,2207 1288,2205 1289.5,2201 1289.5,2197 1288,2193 1287,2191.5 1285,2189 1283,2187 1280,2185 1279,2184.5 1275,2183.5 1271,2183 1267,2184 1263.5,2185 1263,2185.5 1259,2188 1257.5,2189 1255,2192 1254.5,2193 1252,2197 1251,2201 1251,2205 1252,2209 1254.5,2213 1255,2213.5 1259,2216 1261.5,2217 1263,2217.5Z"/>
<path fill="#ec6c5b" d="M1267,2214 1271,2213.5 1272,2213 1275,2212 1279,2209.5 1279.5,2209 1282.5,2205 1283,2204 1284,2201 1284,2197 1283,2195 1282,2193 1279,2190 1277.5,2189 1275,2188 1271,2187.5 1267,2188.5 1265,2189 1263,2190.5 1259.5,2193 1259,2194 1257,2197 1255.5,2201 1256,2205 1257.5,2209 1259,2210.5 1263,2213 1263.5,2213 1267,2214Z"/>
<path fill="#de4e50" d="M1263,2206 1267,2208.5 1271,2208 1275,2206 1276,2205 1278,2201 1277,2197 1275,2194.5 1271.5,2193 1271,2193 1270.5,2193 1267,2194 1263,2197 1261.5,2201 1262,2205 1263,2206Z"/>
<path fill="#ebf3e0" d="M1675,2202 1679,2203 1683,2203.5 1687,2203.5 1691,2203 1695,2202.5 1699,2201.5 1700.5,2201 1703,2200.5 1707,2200 1711,2199 1715,2198.5 1719,2197.5 1719,2197 1719,2193 1719,2189 1719,2185 1719,2181 1719,2177 1719,2173 1719,2169 1719,2165 1719,2161 1719,2157 1719,2153 1719,2149 1719,2145 1719,2141.5 1719,2137.5 1719,2133.5 1719,2129.5 1719,2125.5 1719,2121.5 1719,2117.5 1719,2113.5 1719,2109.5 1719,2105.5 1719,2101.5 1719,2097.5 1719,2093.5 1719,2089.5 1719,2085.5 1719,2081.5 1719,2077.5 1719,2073.5 1719,2069.5 1719,2065.5 1719,2061.5 1719,2057.5 1719,2053.5 1719,2049.5 1719,2045.5 1719,2041.5 1719,2037.5 1719,2033.5 1719,2029.5 1719,2025.5 1719,2021.5 1719,2017.5 1719,2013.5 1719,2009.5 1719,2005.5 1719,2001.5 1719,1997.5 1719,1993.5 1719,1989.5 1719,1985.5 1719,1981.5 1719,1977.5 1719,1973.5 1719,1969.5 1719,1965.5 1719,1961.5 1719,1957.5 1719,1953.5 1719,1949.5 1719,1945.5 1719,1941.5 1719,1937.5 1719,1933.5 1719,1929.5 1719,1925.5 1719,1921.5 1719,1917.5 1719,1913.5 1719,1909.5 1719,1905.5 1719,1901.5 1719,1897.5 1719,1893.5 1719,1889.5 1719,1885.5 1719,1881.5 1719,1878 1719,1874 1719,1870 1719,1866 1719,1862 1719,1858 1719,1854 1719,1850 1719,1846 1719,1842 1719,1838 1719,1834 1719,1830 1719,1826 1719,1822 1719,1818 1719,1814 1719,1810 1719,1806 1719,1802 1719,1798 1719,1794 1719,1790 1719,1786 1719,1782 1719,1778 1719,1774 1719,1770 1719,1766 1719,1762 1719,1758 1719,1754 1719,1750 1719,1746 1715,1746 1711,1746 1707,1746 1703,1746 1699,1746 1695,1746 1691,1746 1687,1746 1683,1746 1679,1746 1675,1746 1671,1746 1667,1746 1663,1746 1659,1746 1655,1746 1651,1746 1647,1746 1643,1746 1639,1746 1635,1746 1631,1746 1627,1746 1623,1746 1619,1746 1615,1746 1611,1746 1607,1746 1603,1746 1599,1746 1595,1746 1591,1746 1587,1746 1583,1746 1579,1746 1575,1746 1571,1746 1567,1746 1563,1746 1559,1746 1555,1746 1551,1746 1547,1746 1543,1746 1539,1746 1535,1746 1531,1746 1527,1746 1523,1746 1519,1746 1515,1746 1511,1746 1507,1746 1503,1746 1499,1746 1495,1746 1491,1746 1487,1746 1483,1746 1479,1746 1475,1746 1471,1746 1467,1746 1463,1746 1459,1746 1455,1746 1451,1746 1447,1746 1443,1746 1439,1746 1435,1746 1432,1746 1431,1747.5 1429.5,1750 1427.5,1754 1427,1755 1425.5,1758 1423.5,1762 1423,1763 1421.5,1766 1419.5,1770 1419,1771 1417.5,1774 1416,1778 1415,1779.5 1414,1782 1412,1786 1411,1788 1410,1790 1408,1794 1407,1796 1406,1798 1404.5,1802 1403,1805 1402.5,1806 1400.5,1810 1399,1813.5 1399,1814 1397,1818 1395,1821.5 1395,1822 1392.5,1826 1391,1828 1389.5,1830 1387,1833.5 1387,1834 1384,1838 1383,1839 1381,1842 1379,1844.5 1378,1846 1375.5,1850 1375,1851 1373.5,1854 1371,1858 1369,1862 1367,1866 1365,1870 1363,1874 1363,1874.5 1361.5,1878 1359.5,1881.5 1359,1883.5 1358,1885.5 1356.5,1889.5 1355,1893.5 1355,1894 1354,1897.5 1353,1901.5 1352,1905.5 1351,1909.5 1350,1913.5 1349.5,1917.5 1349,1921.5 1349,1925.5 1348.5,1929.5 1348.5,1933.5 1349,1937.5 1349.5,1941.5 1350,1945.5 1350.5,1949.5 1351,1951 1351.5,1953.5 1352.5,1957.5 1354,1961.5 1355,1965 1355,1965.5 1356.5,1969.5 1358,1973.5 1359,1976.5 1359.5,1977.5 1360.5,1981.5 1362,1985.5 1363,1989.5 1363,1991 1363.5,1993.5 1364,1997.5 1364,2001.5 1364.5,2005.5 1364.5,2009.5 1364.5,2013.5 1364.5,2017.5 1365,2021.5 1366,2025.5 1366.5,2029.5 1367,2030.5 1367.5,2033.5 1368.5,2037.5 1369,2041.5 1370,2045.5 1371,2049.5 1372,2053.5 1373,2057.5 1374,2061.5 1375,2064 1375.5,2065.5 1376.5,2069.5 1377.5,2073.5 1378.5,2077.5 1379,2079 1379.5,2081.5 1380.5,2085.5 1382,2089.5 1383,2092 1383.5,2093.5 1385,2097.5 1386.5,2101.5 1387,2102.5 1388,2105.5 1390,2109.5 1391,2111.5 1392,2113.5 1394,2117.5 1395,2119.5 1396,2121.5 1399,2125.5 1402,2129.5 1403,2130.5 1405.5,2133.5 1407,2134.5 1409.5,2137.5 1411,2138.5 1414,2141.5 1415,2142.5 1418,2145 1419,2146.5 1422,2149 1423,2150.5 1425.5,2153 1427,2155 1429,2157 1431,2159.5 1433,2161 1435,2163.5 1437.5,2165 1439,2166 1443,2168.5 1444.5,2169 1447,2170 1451,2171.5 1455,2173 1455.5,2173 1459,2174 1463,2175 1467,2176 1471,2177 1471.5,2177 1475,2178 1479,2178.5 1483,2179.5 1487,2180 1491,2180.5 1494.5,2181 1495,2181.5 1499,2182 1503,2182.5 1507,2183 1511,2183.5 1515,2184.5 1519,2185 1521,2185 1523,2185.5 1527,2186 1531,2186.5 1535,2187 1539,2187 1543,2187.5 1547,2187.5 1551,2188 1555,2188 1559,2188 1563,2187.5 1567,2187.5 1571,2187 1575,2186.5 1579,2185.5 1581.5,2185 1583,2185 1587,2184.5 1591,2184.5 1595,2184.5 1599,2184.5 1603,2185 1607,2186 1611,2186.5 1615,2187.5 1619,2188 1623,2188.5 1627,2189 1628,2189 1631,2189.5 1635,2190 1639,2190.5 1643,2191.5 1647,2192 1651,2193 1655,2195 1659,2196.5 1661,2197 1663,2198 1667,2199.5 1671,2201 1672,2201 1675,2202ZM1319,2153.5 1323,2153.5 1327,2153.5 1331,2154 1335,2153.5 1339,2153.5 1341,2153 1343,2153 1347,2152 1351,2150.5 1353,2149 1355,2147.5 1357,2145 1359,2141.5 1359,2141 1360,2137.5 1361,2133.5 1361,2129.5 1361,2125.5 1361,2121.5 1361,2117.5 1361,2113.5 1360.5,2109.5 1360.5,2105.5 1360,2101.5 1359.5,2097.5 1359,2094.5 1359,2093.5 1358,2089.5 1357,2085.5 1355.5,2081.5 1355,2080.5 1352,2077.5 1351,2076.5 1347,2075.5 1343,2076 1339,2077 1338.5,2077.5 1335,2079.5 1331.5,2081.5 1331,2081.5 1327,2083.5 1323,2085.5 1319,2086.5 1315,2087 1311,2087 1307,2086.5 1303.5,2085.5 1303,2085 1299,2084 1295,2082 1294,2081.5 1291,2079.5 1287,2077.5 1283,2075 1281,2073.5 1279,2072 1275,2070 1274.5,2069.5 1271,2067 1268,2065.5 1267,2064.5 1263,2061.5 1262.5,2061.5 1259,2058.5 1257,2057.5 1255,2056 1251,2053.5 1250.5,2053.5 1247,2052 1243,2051 1239,2050.5 1235,2051.5 1231.5,2053.5 1231,2053.5 1228,2057.5 1227,2060 1226.5,2061.5 1226.5,2065.5 1227,2069.5 1228,2073.5 1229,2077.5 1230.5,2081.5 1231,2084 1231.5,2085.5 1232,2089.5 1232,2093.5 1232,2097.5 1231.5,2101.5 1231,2105.5 1231,2107 1230.5,2109.5 1230,2113.5 1230,2117.5 1229.5,2121.5 1229.5,2125.5 1229.5,2129.5 1229.5,2133.5 1230.5,2137.5 1231,2139.5 1231.5,2141.5 1234,2145 1235,2146.5 1239,2148.5 1242.5,2149 1243,2149.5 1247,2149.5 1247,2149 1251,2149 1255,2148 1259,2147.5 1263,2147 1267,2147 1271,2147 1275,2147 1279,2147.5 1283,2147.5 1287,2148 1291,2149 1293,2149 1295,2149.5 1299,2150.5 1303,2151 1307,2152 1311,2152.5 1315,2153 1318,2153 1319,2153.5Z"/>
<path fill="#cbe1b5" d="M1667,2182 1671,2183 1675,2183.5 1679,2184 1683,2184.5 1687,2184.5 1691,2184.5 1695,2184.5 1699,2184 1703,2184 1707,2183.5 1711,2183 1715,2183 1719,2182.5 1719,2181 1719,2177 1719,2173 1719,2169 1719,2165 1719,2161 1719,2157 1719,2153 1719,2149 1719,2145 1719,2141.5 1719,2137.5 1719,2133.5 1719,2129.5 1719,2125.5 1719,2121.5 1719,2117.5 1719,2113.5 1719,2109.5 1719,2105.5 1719,2101.5 1719,2097.5 1719,2093.5 1719,2089.5 1719,2085.5 1719,2081.5 1719,2077.5 1719,2073.5 1719,2069.5 1719,2065.5 1719,2061.5 1719,2057.5 1719,2053.5 1719,2049.5 1719,2045.5 1719,2041.5 1719,2037.5 1719,2033.5 1719,2029.5 1719,2025.5 1719,2021.5 1719,2017.5 1719,2013.5 1719,2009.5 1719,2005.5 1719,2001.5 1719,1997.5 1719,1993.5 1719,1989.5 1719,1985.5 1719,1981.5 1719,1977.5 1719,1973.5 1719,1969.5 1719,1965.5 1719,1961.5 1719,1957.5 1719,1953.5 1719,1949.5 1719,1945.5 1719,1941.5 1719,1937.5 1719,1933.5 1719,1929.5 1719,1925.5 1719,1921.5 1719,1917.5 1719,1913.5 1719,1909.5 1719,1905.5 1719,1901.5 1719,1897.5 1719,1893.5 1719,1889.5 1719,1885.5 1719,1881.5 1719,1878 1719,1874 1719,1870 1719,1866 1719,1862 1719,1858 1719,1854 1719,1850 1719,1846 1719,1842 1719,1838 1719,1834 1719,1830 1719,1826 1719,1822 1719,1818 1719,1814 1719,1810 1719,1806 1719,1802 1719,1798 1719,1794 1719,1790 1719,1786 1719,1782 1719,1778 1719,1774 1719,1770 1719,1766 1719,1762 1719,1758 1719,1754 1719,1750 1719,1746 1715,1746 1711,1746 1707,1746 1703,1746 1699,1746 1695,1746 1691,1746 1687,1746 1683,1746 1679,1746 1675,1746 1671,1746 1667,1746 1663,1746 1659,1746 1655,1746 1651,1746 1647,1746 1643,1746 1639,1746 1635,1746 1631,1746 1627,1746 1623,1746 1619,1746 1615,1746 1611,1746 1607,1746 1603,1746 1599,1746 1595,1746 1591,1746 1587,1746 1583,1746 1579,1746 1575,1746 1571,1746 1567,1746 1563,1746 1559,1746 1555,1746 1551,1746 1547,1746 1543,1746 1539,1746 1535,1746 1531,1746 1527,1746 1523,1746 1519,1746 1515,1746 1511,1746 1507,1746 1503,1746 1499,1746 1495,1746 1491,1746 1487,1746 1483,1746 1479,1746 1475,1746 1471,1746 1467,1746 1463,1746 1459,1746 1455,1746 1451.5,1746 1451,1747 1449.5,1750 1447,1754 1447,1754.5 1445,1758 1443.5,1762 1443,1762.5 1441.5,1766 1439.5,1770 1439,1771.5 1438,1774 1436.5,1778 1435,1781 1434.5,1782 1433,1786 1431,1790 1429,1794 1427,1797.5 1427,1798 1424.5,1802 1423,1804.5 1422,1806 1419.5,1810 1419,1811 1417.5,1814 1415,1817.5 1415,1818 1412.5,1822 1411,1824.5 1410.5,1826 1408,1830 1407,1831 1405,1834 1403,1837 1402,1838 1399,1841.5 1399,1842 1395.5,1846 1395,1846.5 1392,1850 1391,1851 1388.5,1854 1387,1856 1386,1858 1383,1862 1381,1866 1379,1870 1377.5,1874 1376,1878 1375,1880.5 1374.5,1881.5 1373.5,1885.5 1373,1889.5 1372.5,1893.5 1372,1897.5 1371.5,1901.5 1371,1904.5 1371,1905.5 1370.5,1909.5 1370,1913.5 1369.5,1917.5 1369,1921.5 1368.5,1925.5 1368.5,1929.5 1369,1933.5 1369.5,1937.5 1370.5,1941.5 1371,1943.5 1372,1945.5 1374,1949.5 1375,1951.5 1376.5,1953.5 1379,1956.5 1380,1957.5 1383,1961.5 1386,1965.5 1387,1967 1388.5,1969.5 1390,1973.5 1391,1977.5 1391,1979 1391.5,1981.5 1391.5,1985.5 1391.5,1989.5 1391.5,1993.5 1391.5,1997.5 1391.5,2001.5 1391.5,2005.5 1391,2009.5 1391,2011 1391,2013.5 1390.5,2017.5 1390.5,2021.5 1390.5,2025.5 1391,2029.5 1391,2031.5 1391.5,2033.5 1392,2037.5 1393,2041.5 1394,2045.5 1394.5,2049.5 1395,2052.5 1395,2053.5 1395,2055.5 1395,2057.5 1394,2061.5 1393,2065.5 1392,2069.5 1391,2073.5 1391,2074 1390.5,2077.5 1391,2081.5 1391,2083 1391.5,2085.5 1392.5,2089.5 1394,2093.5 1395,2097 1395,2097.5 1397.5,2101.5 1399,2105 1399.5,2105.5 1402,2109.5 1403,2111 1405,2113.5 1407,2116 1408,2117.5 1411,2120 1412.5,2121.5 1415,2123 1418,2125.5 1419,2126 1423,2128 1425,2129.5 1427,2130.5 1431,2133.5 1435,2136.5 1435.5,2137.5 1439,2141 1439.5,2141.5 1443,2145 1443,2145.5 1447,2149 1447,2149.5 1451,2153 1451.5,2153 1455,2155.5 1457.5,2157 1459,2158 1463,2160 1465.5,2161 1467,2161.5 1471,2163 1475,2164 1479,2165 1480.5,2165 1483,2165.5 1487,2166 1491,2166 1495,2166.5 1499,2167 1503,2167.5 1507,2168 1511,2169 1513,2169 1515,2169.5 1519,2170 1523,2170.5 1527,2171 1531,2171.5 1535,2171.5 1539,2171.5 1543,2171.5 1547,2171.5 1551,2171.5 1555,2171.5 1559,2171.5 1563,2171.5 1567,2171.5 1571,2171.5 1575,2171 1579,2171 1583,2171 1587,2171 1591,2171 1595,2171 1599,2171.5 1603,2171.5 1607,2172.5 1611,2173 1613,2173 1615,2173.5 1619,2174 1623,2174.5 1627,2175 1631,2175.5 1635,2176 1639,2176.5 1643,2177 1645,2177 1647,2177.5 1651,2178 1655,2179 1659,2180 1663,2181 1663.5,2181 1667,2182Z"/>
<path fill="#a4d1a7" d="M1687,2169.5 1691,2169.5 1695,2170 1699,2170 1703,2170 1707,2170 1711,2170 1715,2169.5 1719,2169.5 1719,2169 1719,2165 1719,2161 1719,2157 1719,2153 1719,2149 1719,2145 1719,2141.5 1719,2137.5 1719,2133.5 1719,2129.5 1719,2125.5 1719,2121.5 1719,2117.5 1719,2113.5 1719,2109.5 1719,2105.5 1719,2101.5 1719,2097.5 1719,2093.5 1719,2089.5 1719,2085.5 1719,2081.5 1719,2077.5 1719,2073.5 1719,2069.5 1719,2065.5 1719,2061.5 1719,2057.5 1719,2053.5 1719,2049.5 1719,2045.5 1719,2041.5 1719,2037.5 1719,2033.5 1719,2029.5 1719,2025.5 1719,2021.5 1719,2017.5 1719,2013.5 1719,2009.5 1719,2005.5 1719,2001.5 1719,1997.5 1719,1993.5 1719,1989.5 1719,1985.5 1719,1981.5 1719,1977.5 1719,1973.5 1719,1969.5 1719,1965.5 1719,1961.5 1719,1957.5 1719,1953.5 1719,1949.5 1719,1945.5 1719,1941.5 1719,1937.5 1719,1933.5 1719,1929.5 1719,1925.5 1719,1921.5 1719,1917.5 1719,1913.5 1719,1909.5 1719,1905.5 1719,1901.5 1719,1897.5 1719,1893.5 1719,1889.5 1719,1885.5 1719,1881.5 1719,1878 1719,1874 1719,1870 1719,1866 1719,1862 1719,1858 1719,1854 1719,1850 1719,1846 1719,1842 1719,1838 1719,1834 1719,1830 1719,1826 1719,1822 1719,1818 1719,1814 1719,1810 1719,1806 1719,1802 1719,1798 1719,1794 1719,1790 1719,1786 1719,1782 1719,1778 1719,1774 1719,1770 1719,1766 1719,1762 1719,1758 1719,1754 1719,1750 1719,1746 1715,1746 1711,1746 1707,1746 1703,1746 1699,1746 1695,1746 1691,1746 1687,1746 1683,1746 1679,1746 1678,1746 1676,1750 1675,1752.5 1674.5,1754 1672.5,1758 1671,1761 1670.5,1762 1668,1766 1667,1767 1664.5,1770 1663,1771.5 1660,1774 1659,1775 1655,1778 1651,1780.5 1649,1782 1647,1783 1643,1785 1641,1786 1639,1786.5 1635,1788 1631,1789 1627,1790 1626.5,1790 1623,1790.5 1619,1791.5 1615,1792 1611,1793.5 1610,1794 1607,1795 1603,1797.5 1602,1798 1599,1800 1596.5,1802 1595,1803.5 1592.5,1806 1591,1807.5 1589,1810 1587,1813 1586.5,1814 1584.5,1818 1583.5,1822 1583,1824 1582.5,1826 1582,1830 1581.5,1834 1581.5,1838 1581,1842 1581,1846 1581,1850 1581,1854 1581,1858 1581.5,1862 1581.5,1866 1582,1870 1582,1874 1582,1878 1582,1881.5 1581.5,1885.5 1581,1889.5 1580.5,1893.5 1580,1897.5 1579,1901.5 1579,1903 1578.5,1905.5 1578.5,1909.5 1578,1913.5 1578.5,1917.5 1578.5,1921.5 1579,1925.5 1579,1929.5 1579,1933.5 1578.5,1937.5 1577.5,1941.5 1576.5,1945.5 1575.5,1949.5 1575,1950.5 1573.5,1953.5 1572,1957.5 1571,1959.5 1570,1961.5 1568,1965.5 1567,1968 1566.5,1969.5 1565,1973.5 1564,1977.5 1563,1981.5 1563,1983 1562.5,1985.5 1562.5,1989.5 1562.5,1993.5 1562.5,1997.5 1563,2001.5 1563,2005.5 1562.5,2009.5 1562,2013.5 1561,2017.5 1560,2021.5 1559,2023.5 1558,2025.5 1556,2029.5 1555,2031 1553.5,2033.5 1552,2037.5 1551,2040 1550.5,2041.5 1550,2045.5 1550,2049.5 1551,2053.5 1551,2054 1551.5,2057.5 1552.5,2061.5 1553,2065.5 1553.5,2069.5 1554,2073.5 1554.5,2077.5 1555,2079 1555.5,2081.5 1556.5,2085.5 1558,2089.5 1559,2092 1559.5,2093.5 1561.5,2097.5 1563,2100 1563.5,2101.5 1565.5,2105.5 1567,2108.5 1567.5,2109.5 1569,2113.5 1569.5,2117.5 1570.5,2121.5 1571,2125.5 1571,2126.5 1571.5,2129.5 1572,2133.5 1573.5,2137.5 1575,2140 1575.5,2141.5 1579,2145 1579.5,2145 1583,2147.5 1586,2149 1587,2149.5 1591,2151 1595,2151.5 1599,2152.5 1603,2153 1604,2153 1607,2153.5 1611,2154.5 1615,2155 1619,2155.5 1623,2156.5 1626,2157 1627,2157.5 1631,2158 1635,2159 1639,2159.5 1643,2160.5 1646.5,2161 1647,2161.5 1651,2162 1655,2163 1659,2164 1663,2165 1667,2166 1671,2167 1675,2168 1679,2168.5 1683,2169 1684,2169 1687,2169.5ZM1399,1906.5 1403,1909 1407,1909.5 1411,1909 1415,1907.5 1419,1906 1420,1905.5 1423,1904 1427,1902.5 1428.5,1901.5 1431,1900.5 1435,1899.5 1439,1898 1441.5,1897.5 1443,1897.5 1447,1897 1451,1896.5 1455,1896 1459,1895.5 1463,1894.5 1467,1894 1467.5,1893.5 1471,1893 1475,1892.5 1479,1892.5 1483,1893.5 1484.5,1893.5 1487,1894.5 1491,1896 1495,1897.5 1496.5,1897.5 1499,1898 1501,1897.5 1503,1897.5 1507,1895 1508.5,1893.5 1510.5,1889.5 1510,1885.5 1507.5,1881.5 1507,1881.5 1503,1878.5 1501.5,1878 1499,1876.5 1495.5,1874 1495,1873 1492.5,1870 1491,1866 1491,1864.5 1490.5,1862 1490.5,1858 1491,1854 1491,1853.5 1491.5,1850 1492.5,1846 1493.5,1842 1495,1838 1496.5,1834 1498.5,1830 1499,1828 1500,1826 1501.5,1822 1502,1818 1502,1814 1501,1810 1499.5,1806 1499,1804.5 1498,1802 1495.5,1798 1495,1797 1492,1794 1491,1792.5 1487,1790.5 1483,1790.5 1479,1792.5 1477.5,1794 1475,1796 1473.5,1798 1471,1800.5 1470,1802 1467,1805.5 1467,1806 1463.5,1810 1463,1810.5 1460,1814 1459,1815 1456,1818 1455,1819 1452,1822 1451,1823 1447.5,1826 1447,1826.5 1443.5,1830 1443,1830.5 1439.5,1834 1439,1834 1435,1838 1431.5,1842 1431,1842 1427.5,1846 1427,1846 1423,1850 1419,1853.5 1419,1854 1415,1857.5 1414.5,1858 1411,1861 1410,1862 1407,1864.5 1406,1866 1403,1868.5 1402,1870 1399,1874 1397,1878 1395,1881.5 1395,1882.5 1394.5,1885.5 1394,1889.5 1394,1893.5 1394.5,1897.5 1395,1899.5 1396,1901.5 1398.5,1905.5 1399,1906.5Z"/>
<path fill="#79c2a2" d="M1703,2153.5 1707,2153.5 1711,2154 1715,2153.5 1717,2153 1719,2153 1719,2149 1719,2145 1719,2141.5 1719,2137.5 1719,2133.5 1719,2129.5 1719,2125.5 1719,2121.5 1719,2117.5 1719,2113.5 1719,2109.5 1719,2105.5 1719,2101.5 1719,2097.5 1719,2093.5 1719,2089.5 1719,2085.5 1719,2081.5 1719,2077.5 1719,2073.5 1719,2069.5 1719,2065.5 1719,2061.5 1719,2057.5 1719,2053.5 1719,2049.5 1719,2045.5 1719,2041.5 1719,2037.5 1719,2033.5 1719,2029.5 1719,2025.5 1719,2021.5 1719,2017.5 1719,2013.5 1719,2009.5 1719,2005.5 1719,2001.5 1719,1997.5 1719,1993.5 1719,1989.5 1719,1985.5 1719,1981.5 1719,1977.5 1719,1973.5 1719,1969.5 1719,1965.5 1719,1961.5 1719,1957.5 1719,1953.5 1719,1949.5 1719,1945.5 1719,1941.5 1719,1937.5 1719,1933.5 1719,1929.5 1719,1925.5 1719,1921.5 1719,1917.5 1719,1913.5 1719,1909.5 1719,1905.5 1719,1901.5 1719,1897.5 1719,1893.5 1719,1889.5 1719,1885.5 1719,1881.5 1719,1878 1719,1874 1719,1870 1719,1866 1719,1862 1719,1858 1719,1854 1719,1850 1719,1846 1719,1842 1719,1838 1719,1834 1719,1830 1719,1826 1719,1822 1719,1818 1719,1814 1719,1810 1719,1806 1719,1802 1719,1798 1719,1794 1719,1790 1719,1786 1719,1782 1719,1778 1719,1774 1719,1770 1719,1766 1719,1764.5 1715,1765.5 1714,1766 1711,1767.5 1707,1770 1703,1774 1700,1778 1699,1779 1697,1782 1695,1784.5 1693.5,1786 1691,1788 1688.5,1790 1687,1791 1683,1793 1682,1794 1679,1795.5 1675,1797.5 1674,1798 1671,1799.5 1667,1801.5 1666.5,1802 1663,1803.5 1659,1806 1655,1808 1651,1809.5 1650.5,1810 1647,1811.5 1643,1813 1640,1814 1639,1814.5 1635,1815.5 1631,1817 1629,1818 1627,1819 1623,1821.5 1622.5,1822 1619,1826 1617.5,1830 1616,1834 1615.5,1838 1615.5,1842 1615.5,1846 1615.5,1850 1616,1854 1617,1858 1617.5,1862 1618.5,1866 1618.5,1870 1618.5,1874 1618,1878 1617,1881.5 1616,1885.5 1615,1888 1614.5,1889.5 1613,1893.5 1611.5,1897.5 1611,1900 1610.5,1901.5 1609.5,1905.5 1608.5,1909.5 1608,1913.5 1607.5,1917.5 1607,1921.5 1607,1925 1607,1925.5 1607,1929.5 1606.5,1933.5 1606.5,1937.5 1606.5,1941.5 1607,1945.5 1607,1949.5 1607,1953.5 1606.5,1957.5 1606.5,1961.5 1605.5,1965.5 1605,1969.5 1604,1973.5 1603,1977.5 1603,1978.5 1602.5,1981.5 1602,1985.5 1601.5,1989.5 1602,1993.5 1602.5,1997.5 1603,2001.5 1604,2005.5 1604.5,2009.5 1605,2013.5 1605.5,2017.5 1605.5,2021.5 1605.5,2025.5 1605.5,2029.5 1605,2033.5 1604.5,2037.5 1604,2041.5 1604,2045.5 1603.5,2049.5 1603.5,2053.5 1604,2057.5 1605,2061.5 1606.5,2065.5 1607,2066 1608.5,2069.5 1611,2073 1611.5,2073.5 1614.5,2077.5 1615,2078 1617.5,2081.5 1619,2082.5 1621.5,2085.5 1623,2087 1624.5,2089.5 1627,2092 1628,2093.5 1631,2097.5 1633.5,2101.5 1635,2104.5 1635.5,2105.5 1637.5,2109.5 1639,2113 1639,2113.5 1640.5,2117.5 1641.5,2121.5 1643,2125 1643,2125.5 1644.5,2129.5 1646.5,2133.5 1647,2134 1649.5,2137.5 1651,2138.5 1654.5,2141.5 1655,2141.5 1659,2144 1662,2145 1663,2145.5 1667,2147 1671,2148 1675,2149 1675.5,2149 1679,2150 1683,2150.5 1687,2151.5 1691,2152 1695,2152.5 1699,2153 1701,2153 1703,2153.5Z"/>
<path fill="#4db6a4" d="M1695,2130 1699,2131 1703,2131.5 1707,2132 1711,2131.5 1715,2130 1716.5,2129.5 1719,2127.5 1719,2125.5 1719,2121.5 1719,2117.5 1719,2113.5 1719,2109.5 1719,2105.5 1719,2101.5 1719,2097.5 1719,2093.5 1719,2089.5 1719,2085.5 1719,2081.5 1719,2077.5 1719,2073.5 1719,2069.5 1719,2065.5 1719,2061.5 1719,2057.5 1719,2053.5 1719,2049.5 1719,2045.5 1719,2041.5 1719,2037.5 1719,2033.5 1719,2029.5 1719,2025.5 1719,2021.5 1719,2017.5 1719,2013.5 1719,2009.5 1719,2005.5 1719,2001.5 1719,1997.5 1719,1993.5 1719,1989.5 1719,1985.5 1719,1981.5 1719,1977.5 1719,1973.5 1719,1969.5 1719,1965.5 1719,1961.5 1719,1957.5 1719,1953.5 1719,1949.5 1719,1945.5 1719,1941.5 1719,1937.5 1719,1933.5 1719,1929.5 1719,1925.5 1719,1921.5 1719,1917.5 1719,1913.5 1719,1909.5 1719,1905.5 1719,1901.5 1719,1897.5 1719,1893.5 1719,1889.5 1719,1885.5 1719,1881.5 1719,1878 1719,1874 1719,1870 1719,1866 1719,1862 1719,1858 1719,1854 1719,1850 1719,1846 1719,1842 1719,1838 1719,1834 1719,1830 1719,1828.5 1716,1826 1715,1825.5 1711,1823 1709,1822 1707,1821 1703,1819.5 1699,1818.5 1695,1818 1692.5,1818 1691,1818 1690,1818 1687,1818 1683,1818.5 1679,1820 1675,1821.5 1674,1822 1671,1823.5 1667,1826 1663,1829 1662,1830 1659,1833 1658,1834 1655,1838 1653,1842 1651,1846 1650,1850 1649.5,1854 1649,1858 1648.5,1862 1648.5,1866 1648,1870 1647.5,1874 1647,1877 1647,1878 1646,1881.5 1644.5,1885.5 1643,1889.5 1643,1890 1641.5,1893.5 1639.5,1897.5 1639,1899 1637.5,1901.5 1636,1905.5 1635,1908 1634,1909.5 1632.5,1913.5 1631.5,1917.5 1631,1920 1630.5,1921.5 1630,1925.5 1630,1929.5 1630,1933.5 1630,1937.5 1630.5,1941.5 1630.5,1945.5 1631,1948.5 1631,1949.5 1631.5,1953.5 1631.5,1957.5 1631.5,1961.5 1631,1965.5 1631,1966 1630.5,1969.5 1630,1973.5 1629.5,1977.5 1629,1981.5 1629,1985.5 1628.5,1989.5 1629,1993.5 1629,1997.5 1629.5,2001.5 1629.5,2005.5 1630,2009.5 1630.5,2013.5 1631,2017 1631,2017.5 1631.5,2021.5 1632,2025.5 1632.5,2029.5 1633,2033.5 1633.5,2037.5 1634,2041.5 1635,2045.5 1635,2046.5 1635.5,2049.5 1636.5,2053.5 1637.5,2057.5 1638.5,2061.5 1639,2062.5 1640,2065.5 1641.5,2069.5 1643,2072 1643.5,2073.5 1646,2077.5 1647,2079.5 1648,2081.5 1650.5,2085.5 1651,2086 1653,2089.5 1655,2092.5 1655.5,2093.5 1658.5,2097.5 1659,2098.5 1661,2101.5 1663,2104.5 1663.5,2105.5 1666.5,2109.5 1667,2110 1669.5,2113.5 1671,2115 1673,2117.5 1675,2119.5 1677.5,2121.5 1679,2122.5 1683,2125 1683,2125.5 1687,2127 1691,2129 1692.5,2129.5 1695,2130Z"/>
<path fill="#04aaac" d="M1683,2086 1687,2088.5 1691,2089.5 1695,2089 1699,2086.5 1699.5,2085.5 1702.5,2081.5 1703,2081 1704.5,2077.5 1707,2073.5 1707,2073 1708.5,2069.5 1710.5,2065.5 1711,2064.5 1712.5,2061.5 1714.5,2057.5 1715,2056.5 1716.5,2053.5 1718,2049.5 1719,2047 1719,2045.5 1719,2041.5 1719,2037.5 1719,2033.5 1719,2029.5 1719,2025.5 1719,2021.5 1719,2017.5 1719,2013.5 1719,2009.5 1719,2005.5 1719,2001.5 1719,1997.5 1719,1993.5 1719,1989.5 1719,1985.5 1719,1981.5 1719,1977.5 1719,1973.5 1719,1969.5 1719,1965.5 1719,1961.5 1719,1957.5 1719,1953.5 1719,1949.5 1719,1945.5 1719,1941.5 1719,1937.5 1719,1933.5 1719,1929.5 1719,1925.5 1719,1921.5 1719,1917.5 1719,1913.5 1719,1909.5 1719,1905.5 1719,1901.5 1719,1899 1718.5,1897.5 1716.5,1893.5 1715,1890 1715,1889.5 1713,1885.5 1711,1881.5 1709,1878 1707,1874 1707,1873.5 1705.5,1870 1703.5,1866 1703,1864.5 1702,1862 1700,1858 1699,1856.5 1697,1854 1695,1851.5 1692,1850 1691,1849.5 1687,1849 1685,1850 1683,1851 1680,1854 1679,1855 1677.5,1858 1675.5,1862 1675,1863 1674,1866 1672.5,1870 1671,1873 1671,1874 1669,1878 1667.5,1881.5 1667,1882.5 1665.5,1885.5 1663.5,1889.5 1663,1891 1661.5,1893.5 1659.5,1897.5 1659,1899 1657.5,1901.5 1656,1905.5 1655,1908 1654,1909.5 1652.5,1913.5 1651.5,1917.5 1651,1920 1650.5,1921.5 1650,1925.5 1649.5,1929.5 1649,1933.5 1649,1937.5 1649,1941.5 1649,1945.5 1649,1949.5 1649,1953.5 1649,1957.5 1648.5,1961.5 1648,1965.5 1647.5,1969.5 1647,1973.5 1646.5,1977.5 1646,1981.5 1646,1985.5 1645.5,1989.5 1645.5,1993.5 1646,1997.5 1646,2001.5 1646.5,2005.5 1647,2009.5 1647,2011.5 1647.5,2013.5 1648,2017.5 1648.5,2021.5 1649,2025.5 1650,2029.5 1651,2033 1651,2033.5 1652,2037.5 1653.5,2041.5 1654.5,2045.5 1655,2046.5 1656,2049.5 1657.5,2053.5 1659,2056.5 1659.5,2057.5 1661.5,2061.5 1663,2064.5 1663.5,2065.5 1666.5,2069.5 1667,2070.5 1669.5,2073.5 1671,2075.5 1673,2077.5 1675,2079.5 1677,2081.5 1679,2083.5 1682,2085.5 1683,2086Z"/>
<path fill="#0696b3" d="M1683,2047 1687,2048 1691,2047 1693,2045.5 1695,2044 1697.5,2041.5 1699,2039.5 1700.5,2037.5 1702.5,2033.5 1703,2033 1704.5,2029.5 1706,2025.5 1707,2021.5 1707,2021 1707.5,2017.5 1708.5,2013.5 1709,2009.5 1710,2005.5 1710.5,2001.5 1711,1997.5 1711,1997 1711.5,1993.5 1711.5,1989.5 1712,1985.5 1712,1981.5 1712,1977.5 1712,1973.5 1711.5,1969.5 1711.5,1965.5 1711.5,1961.5 1711,1957.5 1711,1955.5 1711,1953.5 1710.5,1949.5 1710,1945.5 1709.5,1941.5 1709,1937.5 1708,1933.5 1707,1929.5 1707,1929 1705.5,1925.5 1704,1921.5 1703,1919.5 1702,1917.5 1699,1914 1698.5,1913.5 1695,1910.5 1692.5,1909.5 1691,1909 1687,1909 1684,1909.5 1683,1910 1679,1912.5 1678,1913.5 1675,1917 1674.5,1917.5 1672.5,1921.5 1671,1925.5 1671,1926 1670,1929.5 1669.5,1933.5 1669,1937.5 1669,1941.5 1668.5,1945.5 1668,1949.5 1667,1953.5 1667,1954 1666.5,1957.5 1665.5,1961.5 1664.5,1965.5 1664,1969.5 1663,1973 1663,1973.5 1662.5,1977.5 1661.5,1981.5 1661.5,1985.5 1661,1989.5 1661,1993.5 1661.5,1997.5 1662,2001.5 1662.5,2005.5 1663,2009.5 1664,2013.5 1665,2017.5 1666,2021.5 1667,2024 1667.5,2025.5 1669,2029.5 1671,2033.5 1673.5,2037.5 1675,2040 1676,2041.5 1679,2044.5 1680,2045.5 1683,2047Z"/>
</g>
<path d="M123,631 L655,100 M655,631 L1187,100 M1187,631 L1719,100 M123,1163 L655,631 M655,1163 L1187,631 M1187,1163 L1719,631 M123,1746 L655,1215 M655,1746 L1187,1215 M1187,1746 L1719,1215 M123,2277 L655,1746 M655,2277 L1187,1746 M1187,2277 L1719,1746" stroke="#000" stroke-width="2.3" fill="none"/>
<path d="M206.502,631 L206.502,619 M206.502,631 L206.502,643 M292.586,631 L292.586,619 M292.586,631 L292.586,643 M378.67,631 L378.67,619 M378.67,631 L378.67,643 M464.754,631 L464.754,619 M464.754,631 L464.754,643 M550.838,631 L550.838,619 M550.838,631 L550.838,643 M636.922,631 L636.922,619 M636.922,631 L636.922,643 M174.619,100 L174.619,112 M272.72,100 L272.72,112 M378.67,100 L378.67,112 M493.449,100 L493.449,112 M618.208,100 L618.208,112 M123,547.655 L135,547.655 M123,461.733 L135,461.733 M123,375.811 L135,375.811 M123,289.888 L135,289.888 M123,203.966 L135,203.966 M123,118.044 L135,118.044 M738.502,631 L738.502,619 M738.502,631 L738.502,643 M824.586,631 L824.586,619 M824.586,631 L824.586,643 M910.67,631 L910.67,619 M910.67,631 L910.67,643 M996.754,631 L996.754,619 M996.754,631 L996.754,643 M1082.84,631 L1082.84,619 M1082.84,631 L1082.84,643 M1168.92,631 L1168.92,619 M1168.92,631 L1168.92,643 M706.619,100 L706.619,112 M804.72,100 L804.72,112 M910.67,100 L910.67,112 M1025.45,100 L1025.45,112 M1150.21,100 L1150.21,112 M655,547.655 L667,547.655 M655,547.655 L643,547.655 M655,461.733 L667,461.733 M655,461.733 L643,461.733 M655,375.811 L667,375.811 M655,375.811 L643,375.811 M655,289.888 L667,289.888 M655,289.888 L643,289.888 M655,203.966 L667,203.966 M655,203.966 L643,203.966 M655,118.044 L667,118.044 M655,118.044 L643,118.044 M1270.5,631 L1270.5,619 M1270.5,631 L1270.5,643 M1356.59,631 L1356.59,619 M1356.59,631 L1356.59,643 M1442.67,631 L1442.67,619 M1442.67,631 L1442.67,643 M1528.75,631 L1528.75,619 M1528.75,631 L1528.75,643 M1614.84,631 L1614.84,619 M1614.84,631 L1614.84,643 M1700.92,631 L1700.92,619 M1700.92,631 L1700.92,643 M1238.62,100 L1238.62,112 M1336.72,100 L1336.72,112 M1442.67,100 L1442.67,112 M1557.45,100 L1557.45,112 M1682.21,100 L1682.21,112 M1187,547.655 L1199,547.655 M1187,547.655 L1175,547.655 M1187,461.733 L1199,461.733 M1187,461.733 L1175,461.733 M1187,375.811 L1199,375.811 M1187,375.811 L1175,375.811 M1187,289.888 L1199,289.888 M1187,289.888 L1175,289.888 M1187,203.966 L1199,203.966 M1187,203.966 L1175,203.966 M1187,118.044 L1199,118.044 M1187,118.044 L1175,118.044 M1719,579.478 L1707,579.478 M1719,481.561 L1707,481.561 M1719,375.811 L1707,375.811 M1719,261.248 L1707,261.248 M1719,136.722 L1707,136.722 M206.502,1163 L206.502,1151 M292.586,1163 L292.586,1151 M378.67,1163 L378.67,1151 M464.754,1163 L464.754,1151 M550.838,1163 L550.838,1151 M636.922,1163 L636.922,1151 M123,1079.5 L135,1079.5 M123,993.414 L135,993.414 M123,907.33 L135,907.33 M123,821.246 L135,821.246 M123,735.162 L135,735.162 M123,649.078 L135,649.078 M738.502,1163 L738.502,1151 M824.586,1163 L824.586,1151 M910.67,1163 L910.67,1151 M996.754,1163 L996.754,1151 M1082.84,1163 L1082.84,1151 M1168.92,1163 L1168.92,1151 M655,1079.5 L667,1079.5 M655,1079.5 L643,1079.5 M655,993.414 L667,993.414 M655,993.414 L643,993.414 M655,907.33 L667,907.33 M655,907.33 L643,907.33 M655,821.246 L667,821.246 M655,821.246 L643,821.246 M655,735.162 L667,735.162 M655,735.162 L643,735.162 M655,649.078 L667,649.078 M655,649.078 L643,649.078 M1270.5,1163 L1270.5,1151 M1356.59,1163 L1356.59,1151 M1442.67,1163 L1442.67,1151 M1528.75,1163 L1528.75,1151 M1614.84,1163 L1614.84,1151 M1700.92,1163 L1700.92,1151 M1187,1079.5 L1199,1079.5 M1187,1079.5 L1175,1079.5 M1187,993.414 L1199,993.414 M1187,993.414 L1175,993.414 M1187,907.33 L1199,907.33 M1187,907.33 L1175,907.33 M1187,821.246 L1199,821.246 M1187,821.246 L1175,821.246 M1187,735.162 L1199,735.162 M1187,735.162 L1175,735.162 M1187,649.078 L1199,649.078 M1187,649.078 L1175,649.078 M1719,1111.38 L1707,1111.38 M1719,1013.28 L1707,1013.28 M1719,907.33 L1707,907.33 M1719,792.551 L1707,792.551 M1719,667.792 L1707,667.792 M206.502,1746 L206.502,1734 M206.502,1746 L206.502,1758 M292.586,1746 L292.586,1734 M292.586,1746 L292.586,1758 M378.67,1746 L378.67,1734 M378.67,1746 L378.67,1758 M464.754,1746 L464.754,1734 M464.754,1746 L464.754,1758 M550.838,1746 L550.838,1734 M550.838,1746 L550.838,1758 M636.922,1746 L636.922,1734 M636.922,1746 L636.922,1758 M174.619,1215 L174.619,1227 M272.72,1215 L272.72,1227 M378.67,1215 L378.67,1227 M493.449,1215 L493.449,1227 M618.208,1215 L618.208,1227 M123,1662.66 L135,1662.66 M123,1576.73 L135,1576.73 M123,1490.81 L135,1490.81 M123,1404.89 L135,1404.89 M123,1318.97 L135,1318.97 M123,1233.04 L135,1233.04 M738.502,1746 L738.502,1734 M738.502,1746 L738.502,1758 M824.586,1746 L824.586,1734 M824.586,1746 L824.586,1758 M910.67,1746 L910.67,1734 M910.67,1746 L910.67,1758 M996.754,1746 L996.754,1734 M996.754,1746 L996.754,1758 M1082.84,1746 L1082.84,1734 M1082.84,1746 L1082.84,1758 M1168.92,1746 L1168.92,1734 M1168.92,1746 L1168.92,1758 M706.619,1215 L706.619,1227 M804.72,1215 L804.72,1227 M910.67,1215 L910.67,1227 M1025.45,1215 L1025.45,1227 M1150.21,1215 L1150.21,1227 M655,1662.66 L667,1662.66 M655,1662.66 L643,1662.66 M655,1576.73 L667,1576.73 M655,1576.73 L643,1576.73 M655,1490.81 L667,1490.81 M655,1490.81 L643,1490.81 M655,1404.89 L667,1404.89 M655,1404.89 L643,1404.89 M655,1318.97 L667,1318.97 M655,1318.97 L643,1318.97 M655,1233.04 L667,1233.04 M655,1233.04 L643,1233.04 M1270.5,1746 L1270.5,1734 M1270.5,1746 L1270.5,1758 M1356.59,1746 L1356.59,1734 M1356.59,1746 L1356.59,1758 M1442.67,1746 L1442.67,1734 M1442.67,1746 L1442.67,1758 M1528.75,1746 L1528.75,1734 M1528.75,1746 L1528.75,1758 M1614.84,1746 L1614.84,1734 M1614.84,1746 L1614.84,1758 M1700.92,1746 L1700.92,1734 M1700.92,1746 L1700.92,1758 M1238.62,1215 L1238.62,1227 M1336.72,1215 L1336.72,1227 M1442.67,1215 L1442.67,1227 M1557.45,1215 L1557.45,1227 M1682.21,1215 L1682.21,1227 M1187,1662.66 L1199,1662.66 M1187,1662.66 L1175,1662.66 M1187,1576.73 L1199,1576.73 M1187,1576.73 L1175,1576.73 M1187,1490.81 L1199,1490.81 M1187,1490.81 L1175,1490.81 M1187,1404.89 L1199,1404.89 M1187,1404.89 L1175,1404.89 M1187,1318.97 L1199,1318.97 M1187,1318.97 L1175,1318.97 M1187,1233.04 L1199,1233.04 M1187,1233.04 L1175,1233.04 M1719,1694.48 L1707,1694.48 M1719,1596.56 L1707,1596.56 M1719,1490.81 L1707,1490.81 M1719,1376.25 L1707,1376.25 M1719,1251.72 L1707,1251.72 M206.502,2277 L206.502,2265 M292.586,2277 L292.586,2265 M378.67,2277 L378.67,2265 M464.754,2277 L464.754,2265 M550.838,2277 L550.838,2265 M636.922,2277 L636.922,2265 M123,2193.66 L135,2193.66 M123,2107.73 L135,2107.73 M123,2021.81 L135,2021.81 M123,1935.89 L135,1935.89 M123,1849.97 L135,1849.97 M123,1764.04 L135,1764.04 M738.502,2277 L738.502,2265 M824.586,2277 L824.586,2265 M910.67,2277 L910.67,2265 M996.754,2277 L996.754,2265 M1082.84,2277 L1082.84,2265 M1168.92,2277 L1168.92,2265 M655,2193.66 L667,2193.66 M655,2193.66 L643,2193.66 M655,2107.73 L667,2107.73 M655,2107.73 L643,2107.73 M655,2021.81 L667,2021.81 M655,2021.81 L643,2021.81 M655,1935.89 L667,1935.89 M655,1935.89 L643,1935.89 M655,1849.97 L667,1849.97 M655,1849.97 L643,1849.97 M655,1764.04 L667,1764.04 M655,1764.04 L643,1764.04 M1270.5,2277 L1270.5,2265 M1356.59,2277 L1356.59,2265 M1442.67,2277 L1442.67,2265 M1528.75,2277 L1528.75,2265 M1614.84,2277 L1614.84,2265 M1700.92,2277 L1700.92,2265 M1187,2193.66 L1199,2193.66 M1187,2193.66 L1175,2193.66 M1187,2107.73 L1199,2107.73 M1187,2107.73 L1175,2107.73 M1187,2021.81 L1199,2021.81 M1187,2021.81 L1175,2021.81 M1187,1935.89 L1199,1935.89 M1187,1935.89 L1175,1935.89 M1187,1849.97 L1199,1849.97 M1187,1849.97 L1175,1849.97 M1187,1764.04 L1199,1764.04 M1187,1764.04 L1175,1764.04 M1719,2225.48 L1707,2225.48 M1719,2127.56 L1707,2127.56 M1719,2021.81 L1707,2021.81 M1719,1907.25 L1707,1907.25 M1719,1782.72 L1707,1782.72" stroke="#000" stroke-width="1.9" fill="none"/>
<rect x="123" y="100" width="532" height="531" fill="none" stroke="#000" stroke-width="2"/>
<rect x="655" y="100" width="532" height="531" fill="none" stroke="#000" stroke-width="2"/>
<rect x="1187" y="100" width="532" height="531" fill="none" stroke="#000" stroke-width="2"/>
<rect x="123" y="631" width="532" height="532" fill="none" stroke="#000" stroke-width="2"/>
<rect x="655" y="631" width="532" height="532" fill="none" stroke="#000" stroke-width="2"/>
<rect x="1187" y="631" width="532" height="532" fill="none" stroke="#000" stroke-width="2"/>
<rect x="123" y="1215" width="532" height="531" fill="none" stroke="#000" stroke-width="2"/>
<rect x="655" y="1215" width="532" height="531" fill="none" stroke="#000" stroke-width="2"/>
<rect x="1187" y="1215" width="532" height="531" fill="none" stroke="#000" stroke-width="2"/>
<rect x="123" y="1746" width="532" height="531" fill="none" stroke="#000" stroke-width="2"/>
<rect x="655" y="1746" width="532" height="531" fill="none" stroke="#000" stroke-width="2"/>
<rect x="1187" y="1746" width="532" height="531" fill="none" stroke="#000" stroke-width="2"/>
<text x="109.5" y="557.855" text-anchor="end">1.5</text>
<text x="109.5" y="471.933" text-anchor="end">1.55</text>
<text x="109.5" y="386.011" text-anchor="end">1.6</text>
<text x="109.5" y="300.088" text-anchor="end">1.65</text>
<text x="109.5" y="214.166" text-anchor="end">1.7</text>
<text x="109.5" y="128.244" text-anchor="end">1.75</text>
<text x="1733" y="589.378" text-anchor="start">675</text>
<text x="1733" y="491.461" text-anchor="start">650</text>
<text x="1733" y="385.711" text-anchor="start">625</text>
<text x="1733" y="271.148" text-anchor="start">600</text>
<text x="1733" y="146.622" text-anchor="start">575</text>
<text x="109.5" y="1089.7" text-anchor="end">1.5</text>
<text x="109.5" y="1003.61" text-anchor="end">1.55</text>
<text x="109.5" y="917.53" text-anchor="end">1.6</text>
<text x="109.5" y="831.446" text-anchor="end">1.65</text>
<text x="109.5" y="745.362" text-anchor="end">1.7</text>
<text x="109.5" y="659.278" text-anchor="end">1.75</text>
<text x="1733" y="1121.28" text-anchor="start">675</text>
<text x="1733" y="1023.18" text-anchor="start">650</text>
<text x="1733" y="917.23" text-anchor="start">625</text>
<text x="1733" y="802.451" text-anchor="start">600</text>
<text x="1733" y="677.692" text-anchor="start">575</text>
<text x="109.5" y="1672.86" text-anchor="end">1.5</text>
<text x="109.5" y="1586.93" text-anchor="end">1.55</text>
<text x="109.5" y="1501.01" text-anchor="end">1.6</text>
<text x="109.5" y="1415.09" text-anchor="end">1.65</text>
<text x="109.5" y="1329.17" text-anchor="end">1.7</text>
<text x="109.5" y="1243.24" text-anchor="end">1.75</text>
<text x="1733" y="1704.38" text-anchor="start">675</text>
<text x="1733" y="1606.46" text-anchor="start">650</text>
<text x="1733" y="1500.71" text-anchor="start">625</text>
<text x="1733" y="1386.15" text-anchor="start">600</text>
<text x="1733" y="1261.62" text-anchor="start">575</text>
<text x="109.5" y="2203.86" text-anchor="end">1.5</text>
<text x="109.5" y="2117.93" text-anchor="end">1.55</text>
<text x="109.5" y="2032.01" text-anchor="end">1.6</text>
<text x="109.5" y="1946.09" text-anchor="end">1.65</text>
<text x="109.5" y="1860.17" text-anchor="end">1.7</text>
<text x="109.5" y="1774.24" text-anchor="end">1.75</text>
<text x="1733" y="2235.38" text-anchor="start">675</text>
<text x="1733" y="2137.46" text-anchor="start">650</text>
<text x="1733" y="2031.71" text-anchor="start">625</text>
<text x="1733" y="1917.15" text-anchor="start">600</text>
<text x="1733" y="1792.62" text-anchor="start">575</text>
<text x="174.619" y="85.5" text-anchor="middle">675</text>
<text x="272.72" y="85.5" text-anchor="middle">650</text>
<text x="378.67" y="85.5" text-anchor="middle">625</text>
<text x="493.449" y="85.5" text-anchor="middle">600</text>
<text x="618.208" y="85.5" text-anchor="middle">575</text>
<text x="206.502" y="2315.5" text-anchor="middle">1.5</text>
<text x="292.586" y="2315.5" text-anchor="middle">1.55</text>
<text x="378.67" y="2315.5" text-anchor="middle">1.6</text>
<text x="464.754" y="2315.5" text-anchor="middle">1.65</text>
<text x="550.838" y="2315.5" text-anchor="middle">1.7</text>
<text x="636.922" y="2315.5" text-anchor="middle">1.75</text>
<text x="706.619" y="85.5" text-anchor="middle">675</text>
<text x="804.72" y="85.5" text-anchor="middle">650</text>
<text x="910.67" y="85.5" text-anchor="middle">625</text>
<text x="1025.45" y="85.5" text-anchor="middle">600</text>
<text x="1150.21" y="85.5" text-anchor="middle">575</text>
<text x="738.502" y="2315.5" text-anchor="middle">1.5</text>
<text x="824.586" y="2315.5" text-anchor="middle">1.55</text>
<text x="910.67" y="2315.5" text-anchor="middle">1.6</text>
<text x="996.754" y="2315.5" text-anchor="middle">1.65</text>
<text x="1082.84" y="2315.5" text-anchor="middle">1.7</text>
<text x="1168.92" y="2315.5" text-anchor="middle">1.75</text>
<text x="1238.62" y="85.5" text-anchor="middle">675</text>
<text x="1336.72" y="85.5" text-anchor="middle">650</text>
<text x="1442.67" y="85.5" text-anchor="middle">625</text>
<text x="1557.45" y="85.5" text-anchor="middle">600</text>
<text x="1682.21" y="85.5" text-anchor="middle">575</text>
<text x="1270.5" y="2315.5" text-anchor="middle">1.5</text>
<text x="1356.59" y="2315.5" text-anchor="middle">1.55</text>
<text x="1442.67" y="2315.5" text-anchor="middle">1.6</text>
<text x="1528.75" y="2315.5" text-anchor="middle">1.65</text>
<text x="1614.84" y="2315.5" text-anchor="middle">1.7</text>
<text x="1700.92" y="2315.5" text-anchor="middle">1.75</text>
<text x="24" y="80.5" text-anchor="start">×10<tspan font-size="21" dy="-13">4</tspan></text>
<text x="1686" y="2364" text-anchor="start">×10<tspan font-size="21" dy="-13">4</tspan></text>
<text x="919" y="22" text-anchor="middle" font-size="29.4">Excitation wavelength (nm)</text>
<text x="922" y="2364" text-anchor="middle" font-size="29.4">Excitation frequency (cm<tspan font-size="21" dy="-13">−1</tspan><tspan dy="13">)</tspan></text>
<text transform="translate(27,1186.5) rotate(-90)" text-anchor="middle" font-size="29.4">Emission frequency (cm<tspan font-size="21" dy="-13">−1</tspan><tspan dy="13">)</tspan></text>
<text transform="translate(1815,1188) rotate(90)" text-anchor="middle" font-size="29.4">Emission wavelength (nm)</text>
<text x="144.5" y="157" font-weight="bold" font-size="43">a</text>
<text x="678.5" y="157" font-weight="bold" font-size="43">b</text>
<text x="1214" y="157" font-weight="bold" font-size="43">c</text>
<text x="144.5" y="688" font-weight="bold" font-size="43">d</text>
<text x="678.5" y="688" font-weight="bold" font-size="43">e</text>
<text x="1218.5" y="688" font-weight="bold" font-size="43">f</text>
<text x="149.5" y="1269" font-weight="bold" font-size="43">g</text>
<text x="606" y="1713" text-anchor="end">15 fs</text>
<text x="1133" y="1713" text-anchor="end">20 fs</text>
<text x="1670" y="1713" text-anchor="end">30 fs</text>
<text x="606" y="2244" text-anchor="end">50 fs</text>
<text x="1133" y="2244" text-anchor="end">90 fs</text>
<text x="1670" y="2244" text-anchor="end">160 fs</text>
<circle cx="206.502" cy="547.655" r="18.6" fill="none" stroke="#000" stroke-width="5.7"/>
<circle cx="406.217" cy="539.063" r="18.6" fill="none" stroke="#000" stroke-width="5.7"/>
<circle cx="273.303" cy="166.16" r="18.6" fill="none" stroke="#000" stroke-width="5.7"/>
<circle cx="638.988" cy="203.45" r="18.6" fill="none" stroke="#000" stroke-width="5.7"/>
<circle cx="618.328" cy="291.263" r="18.6" fill="none" stroke="#000" stroke-width="5.7"/>
<circle cx="618.328" cy="350.034" r="18.6" fill="none" stroke="#000" stroke-width="5.7" stroke-dasharray="9.2,7.5" stroke-dashoffset="0.4"/>
<circle cx="638.988" cy="557.966" r="18.6" fill="none" stroke="#000" stroke-width="5.7"/>
<circle cx="805.303" cy="166.16" r="18.6" fill="none" stroke="#636363" stroke-width="4.6"/>
<circle cx="1170.99" cy="203.45" r="18.6" fill="none" stroke="#636363" stroke-width="4.6"/>
<circle cx="1150.33" cy="291.263" r="18.6" fill="none" stroke="#636363" stroke-width="4.6"/>
<circle cx="1150.33" cy="350.034" r="18.6" fill="none" stroke="#636363" stroke-width="4.6" stroke-dasharray="9.2,7.5" stroke-dashoffset="0.4"/>
<circle cx="1170.99" cy="557.966" r="18.6" fill="none" stroke="#636363" stroke-width="4.6"/>
<circle cx="1337.3" cy="166.16" r="18.6" fill="none" stroke="#8a8a8a" stroke-width="4.6"/>
<circle cx="1702.99" cy="203.45" r="18.6" fill="none" stroke="#8a8a8a" stroke-width="4.6"/>
<circle cx="1682.33" cy="291.263" r="18.6" fill="none" stroke="#8a8a8a" stroke-width="4.6"/>
<circle cx="1682.33" cy="350.034" r="18.6" fill="none" stroke="#8a8a8a" stroke-width="4.6" stroke-dasharray="9.2,7.5" stroke-dashoffset="0.4"/>
<circle cx="1702.99" cy="557.966" r="18.6" fill="none" stroke="#8a8a8a" stroke-width="4.6"/>
<text x="212" y="164" text-anchor="start">F</text>
<text x="577" y="186" text-anchor="start">D</text>
<text x="551.5" y="291" text-anchor="start">C</text>
<text x="150" y="538" text-anchor="start">A</text>
<text x="341" y="538" text-anchor="start">B</text>
<text x="575" y="551" text-anchor="start">E</text>
<rect x="1879" y="919.7" width="36.5" height="23.7739" fill="#a3144b"/>
<rect x="1879" y="942.874" width="36.5" height="23.7739" fill="#b11547"/>
<rect x="1879" y="966.048" width="36.5" height="23.7739" fill="#c01545"/>
<rect x="1879" y="989.222" width="36.5" height="23.7739" fill="#cf2b4b"/>
<rect x="1879" y="1012.4" width="36.5" height="23.7739" fill="#de4e50"/>
<rect x="1879" y="1035.57" width="36.5" height="23.7739" fill="#ec6c5b"/>
<rect x="1879" y="1058.74" width="36.5" height="23.7739" fill="#f08966"/>
<rect x="1879" y="1081.92" width="36.5" height="23.7739" fill="#f4a474"/>
<rect x="1879" y="1105.09" width="36.5" height="23.7739" fill="#f9c285"/>
<rect x="1879" y="1128.27" width="36.5" height="23.7739" fill="#fedc9b"/>
<rect x="1879" y="1151.44" width="36.5" height="23.7739" fill="#fef2d9"/>
<rect x="1879" y="1174.61" width="36.5" height="23.7739" fill="#ffffff"/>
<rect x="1879" y="1197.79" width="36.5" height="23.7739" fill="#ebf3e0"/>
<rect x="1879" y="1220.96" width="36.5" height="23.7739" fill="#cbe1b5"/>
<rect x="1879" y="1244.13" width="36.5" height="23.7739" fill="#a4d1a7"/>
<rect x="1879" y="1267.31" width="36.5" height="23.7739" fill="#79c2a2"/>
<rect x="1879" y="1290.48" width="36.5" height="23.7739" fill="#4db6a4"/>
<rect x="1879" y="1313.66" width="36.5" height="23.7739" fill="#04aaac"/>
<rect x="1879" y="1336.83" width="36.5" height="23.7739" fill="#0696b3"/>
<rect x="1879" y="1360" width="36.5" height="23.7739" fill="#0080c0"/>
<rect x="1879" y="1383.18" width="36.5" height="23.7739" fill="#2062ae"/>
<rect x="1879" y="1406.35" width="36.5" height="23.7739" fill="#2c539f"/>
<rect x="1879" y="1429.53" width="36.5" height="23.7739" fill="#464796"/>
<rect x="1879" y="920" width="36.5" height="533" fill="none" stroke="#000" stroke-width="1.6"/>
<text x="1926.5" y="932.5" text-anchor="start">1</text>
<path d="M1915.5,1053.25 h-12" stroke="#000" stroke-width="1.6"/>
<text x="1926.5" y="1065.75" text-anchor="start">0.5</text>
<path d="M1915.5,1186.5 h-12" stroke="#000" stroke-width="1.6"/>
<text x="1926.5" y="1199" text-anchor="start">0</text>
<path d="M1915.5,1319.75 h-12" stroke="#000" stroke-width="1.6"/>
<text x="1926.5" y="1332.25" text-anchor="start">−0.5</text>
<text x="1926.5" y="1465.5" text-anchor="start">−1</text>
</svg>
</body></html>
